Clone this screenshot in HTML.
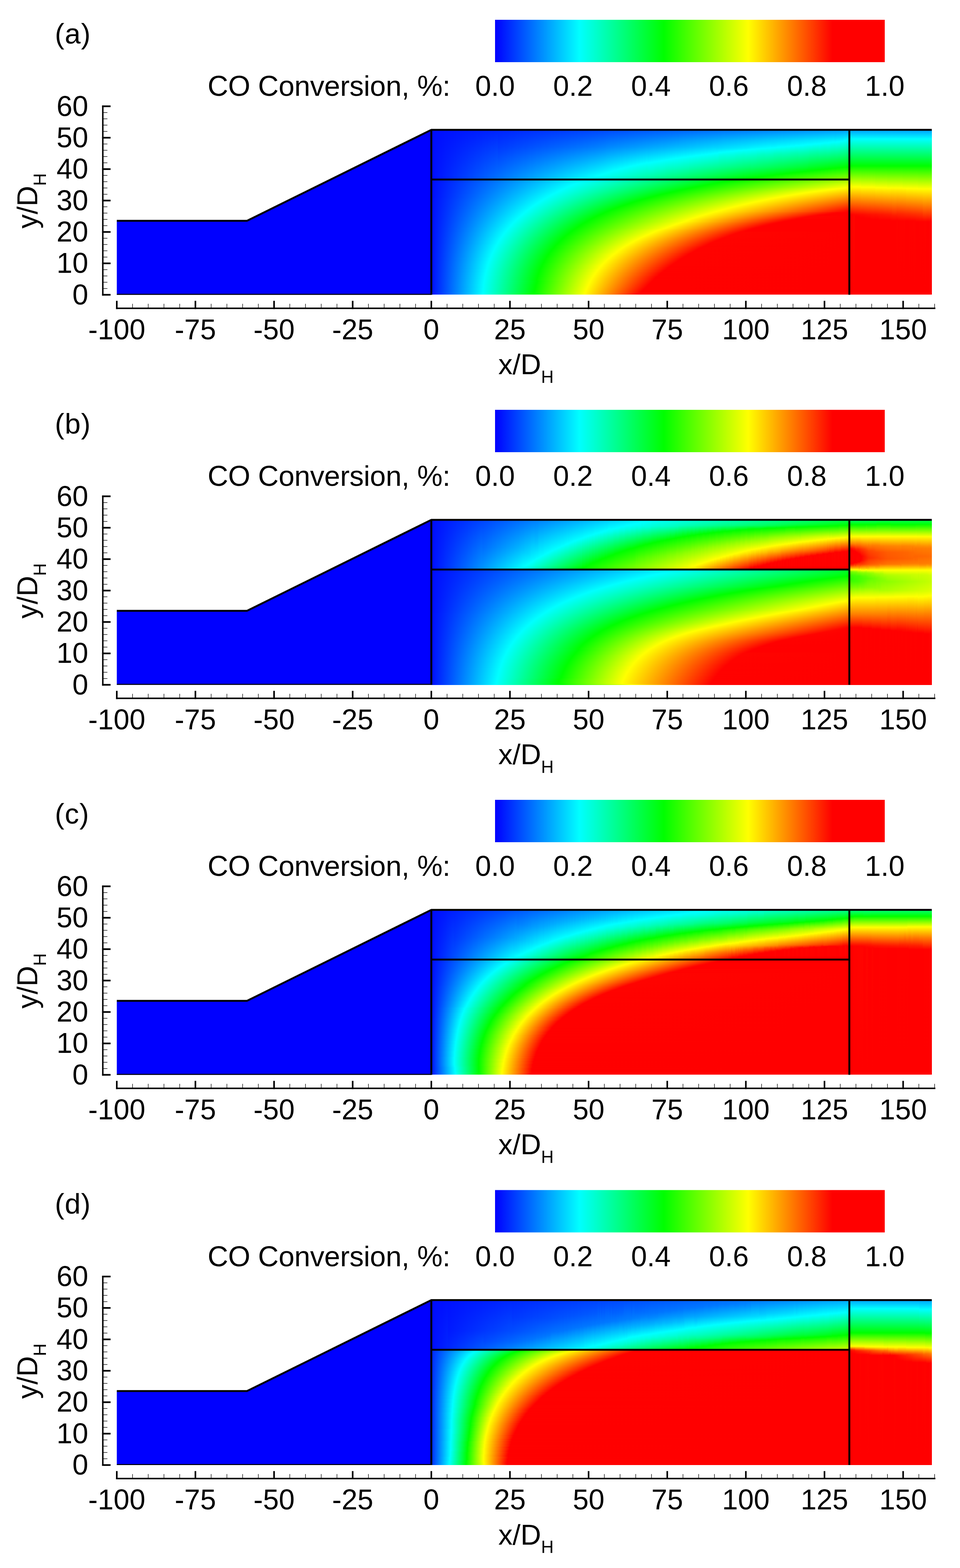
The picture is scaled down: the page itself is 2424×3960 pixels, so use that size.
<!DOCTYPE html><html><head><meta charset="utf-8"><style>html,body{margin:0;padding:0;background:#fff}body{width:2424px;height:3960px;position:relative;overflow:hidden}svg{position:absolute;left:0;top:0}.fr,.fk{position:absolute;overflow:hidden}.fr i{display:block;height:2px}.fk{display:flex}.fk b{display:block;flex:none;width:3px;height:100%}text{font-family:'Liberation Sans',Arial,sans-serif;fill:#000}</style></head><body>
<div class="fk k3" style="left:1089px;top:328px;width:1055px;height:125px"><b style="background:linear-gradient(#000cff,#000dff 125px)"></b><b style="background:linear-gradient(#000cff,#000eff 125px)"></b><b style="background:linear-gradient(#000dff,#0010ff 125px)"></b><b style="background:linear-gradient(#000dff,#0012ff 125px)"></b><b style="background:linear-gradient(#000eff,#0014ff 125px)"></b><b style="background:linear-gradient(#000eff,#0016ff 125px)"></b><b style="background:linear-gradient(#000eff,#0018ff 125px)"></b><b style="background:linear-gradient(#000fff,#001aff 125px)"></b><b style="background:linear-gradient(#000fff,#001bff 125px)"></b><b style="background:linear-gradient(#0010ff,#001dff 125px)"></b><b style="background:linear-gradient(#0010ff,#001fff 125px)"></b><b style="background:linear-gradient(#01f,#0021ff 125px)"></b><b style="background:linear-gradient(#01f,#0023ff 125px)"></b><b style="background:linear-gradient(#01f,#0025ff 125px)"></b><b style="background:linear-gradient(#0012ff,#0026ff 125px)"></b><b style="background:linear-gradient(#0012ff,#0028ff 125px)"></b><b style="background:linear-gradient(#0013ff,#002aff 125px)"></b><b style="background:linear-gradient(#0013ff,#002cff 125px)"></b><b style="background:linear-gradient(#0013ff,#002eff 125px)"></b><b style="background:linear-gradient(#0014ff,#0030ff 125px)"></b><b style="background:linear-gradient(#0014ff,#0031ff 125px)"></b><b style="background:linear-gradient(#0015ff,#03f 125px)"></b><b style="background:linear-gradient(#0015ff,#0035ff 125px)"></b><b style="background:linear-gradient(#0015ff,#0037ff 125px)"></b><b style="background:linear-gradient(#0016ff,#0039ff 125px)"></b><b style="background:linear-gradient(#0016ff,#003bff 125px)"></b><b style="background:linear-gradient(#0017ff,#003dff 125px)"></b><b style="background:linear-gradient(#0017ff,#003eff 125px)"></b><b style="background:linear-gradient(#0018ff,#0040ff 125px)"></b><b style="background:linear-gradient(#0018ff,#0042ff 125px)"></b><b style="background:linear-gradient(#0018ff,#04f 125px)"></b><b style="background:linear-gradient(#0019ff,#0046ff 125px)"></b><b style="background:linear-gradient(#0019ff,#0048ff 125px)"></b><b style="background:linear-gradient(#001aff,#0049ff 125px)"></b><b style="background:linear-gradient(#001aff,#004bff 125px)"></b><b style="background:linear-gradient(#001aff,#004dff 125px)"></b><b style="background:linear-gradient(#001bff,#004fff 125px)"></b><b style="background:linear-gradient(#001bff,#0051ff 125px)"></b><b style="background:linear-gradient(#001cff,#0053ff 125px)"></b><b style="background:linear-gradient(#001cff,#0054ff 125px)"></b><b style="background:linear-gradient(#001cff,#0056ff 125px)"></b><b style="background:linear-gradient(#001dff,#0058ff 125px)"></b><b style="background:linear-gradient(#001dff,#005aff 125px)"></b><b style="background:linear-gradient(#001eff,#005cff 125px)"></b><b style="background:linear-gradient(#001eff,#005eff 125px)"></b><b style="background:linear-gradient(#001fff,#0060ff 125px)"></b><b style="background:linear-gradient(#001fff,#0061ff 125px)"></b><b style="background:linear-gradient(#001fff,#0063ff 125px)"></b><b style="background:linear-gradient(#0020ff,#0065ff 125px)"></b><b style="background:linear-gradient(#0020ff,#0067ff 125px)"></b><b style="background:linear-gradient(#0021ff,#0069ff 125px)"></b><b style="background:linear-gradient(#0021ff,#006bff 125px)"></b><b style="background:linear-gradient(#0021ff,#006cff 125px)"></b><b style="background:linear-gradient(#02f,#006eff 125px)"></b><b style="background:linear-gradient(#02f,#0070ff 125px)"></b><b style="background:linear-gradient(#0023ff,#0072ff 125px)"></b><b style="background:linear-gradient(#0023ff,#003aff 44px,#0074ff 125px)"></b><b style="background:linear-gradient(#0024ff,#003bff 44px,#0076ff 125px)"></b><b style="background:linear-gradient(#0024ff,#003cff 44px,#07f 125px)"></b><b style="background:linear-gradient(#0024ff,#003dff 44px,#0079ff 125px)"></b><b style="background:linear-gradient(#0025ff,#003eff 44px,#007bff 125px)"></b><b style="background:linear-gradient(#0025ff,#003fff 44px,#007dff 125px)"></b><b style="background:linear-gradient(#0026ff,#003fff 44px,#007fff 125px)"></b><b style="background:linear-gradient(#0026ff,#0040ff 44px,#0081ff 125px)"></b><b style="background:linear-gradient(#0026ff,#0041ff 44px,#0083ff 125px)"></b><b style="background:linear-gradient(#0027ff,#0042ff 44px,#0084ff 125px)"></b><b style="background:linear-gradient(#0027ff,#0043ff 44px,#0086ff 125px)"></b><b style="background:linear-gradient(#0028ff,#0043ff 44px,#08f 125px)"></b><b style="background:linear-gradient(#0028ff,#04f 44px,#008aff 125px)"></b><b style="background:linear-gradient(#0028ff,#0045ff 44px,#008cff 125px)"></b><b style="background:linear-gradient(#0029ff,#0046ff 44px,#008eff 125px)"></b><b style="background:linear-gradient(#0029ff,#0047ff 44px,#008fff 125px)"></b><b style="background:linear-gradient(#002aff,#0048ff 44px,#0091ff 125px)"></b><b style="background:linear-gradient(#002aff,#0048ff 44px,#0093ff 125px)"></b><b style="background:linear-gradient(#002bff,#0049ff 44px,#0095ff 125px)"></b><b style="background:linear-gradient(#002bff,#004aff 44px,#0097ff 125px)"></b><b style="background:linear-gradient(#002bff,#004bff 44px,#09f 125px)"></b><b style="background:linear-gradient(#002cff,#004cff 44px,#009bff 125px)"></b><b style="background:linear-gradient(#002cff,#004dff 44px,#009cff 125px)"></b><b style="background:linear-gradient(#002dff,#004dff 44px,#009eff 125px)"></b><b style="background:linear-gradient(#002dff,#004eff 44px,#00a0ff 125px)"></b><b style="background:linear-gradient(#002dff,#004fff 44px,#00a2ff 125px)"></b><b style="background:linear-gradient(#002eff,#0050ff 44px,#00a4ff 125px)"></b><b style="background:linear-gradient(#002eff,#0051ff 44px,#00a6ff 125px)"></b><b style="background:linear-gradient(#002fff,#0051ff 44px,#00a7ff 125px)"></b><b style="background:linear-gradient(#002fff,#0052ff 44px,#00a9ff 125px)"></b><b style="background:linear-gradient(#0030ff,#0053ff 44px,#00abff 125px)"></b><b style="background:linear-gradient(#0030ff,#0054ff 44px,#00adff 125px)"></b><b style="background:linear-gradient(#0030ff,#05f 44px,#00afff 125px)"></b><b style="background:linear-gradient(#0031ff,#0056ff 44px,#00b1ff 125px)"></b><b style="background:linear-gradient(#0031ff,#0056ff 44px,#00b2ff 125px)"></b><b style="background:linear-gradient(#0032ff,#0057ff 44px,#00b4ff 125px)"></b><b style="background:linear-gradient(#0032ff,#0058ff 44px,#00b6ff 125px)"></b><b style="background:linear-gradient(#0032ff,#0059ff 44px,#00b8ff 125px)"></b><b style="background:linear-gradient(#03f,#005aff 44px,#00baff 125px)"></b><b style="background:linear-gradient(#03f,#005bff 44px,#00bcff 125px)"></b><b style="background:linear-gradient(#0034ff,#005bff 44px,#00beff 125px)"></b><b style="background:linear-gradient(#0034ff,#005cff 44px,#00bfff 125px)"></b><b style="background:linear-gradient(#0034ff,#005dff 44px,#00c1ff 125px)"></b><b style="background:linear-gradient(#0035ff,#005eff 44px,#00c3ff 125px)"></b><b style="background:linear-gradient(#0035ff,#005fff 44px,#00c5ff 125px)"></b><b style="background:linear-gradient(#0036ff,#0060ff 44px,#00c7ff 125px)"></b><b style="background:linear-gradient(#0036ff,#0060ff 44px,#00c9ff 125px)"></b><b style="background:linear-gradient(#0037ff,#0061ff 44px,#00caff 125px)"></b><b style="background:linear-gradient(#0037ff,#0062ff 44px,#0cf 125px)"></b><b style="background:linear-gradient(#0037ff,#0063ff 44px,#00ceff 125px)"></b><b style="background:linear-gradient(#0038ff,#0064ff 44px,#00d0ff 125px)"></b><b style="background:linear-gradient(#0038ff,#0064ff 44px,#00d2ff 125px)"></b><b style="background:linear-gradient(#0039ff,#0065ff 44px,#00d4ff 125px)"></b><b style="background:linear-gradient(#0039ff,#06f 44px,#00d5ff 125px)"></b><b style="background:linear-gradient(#0039ff,#0067ff 44px,#00d7ff 125px)"></b><b style="background:linear-gradient(#003aff,#0068ff 44px,#00d9ff 125px)"></b><b style="background:linear-gradient(#003aff,#0069ff 44px,#00dbff 125px)"></b><b style="background:linear-gradient(#003bff,#0069ff 44px,#0df 125px)"></b><b style="background:linear-gradient(#003bff,#006aff 44px,#00dfff 125px)"></b><b style="background:linear-gradient(#003bff,#006bff 44px,#00e1ff 125px)"></b><b style="background:linear-gradient(#003cff,#006cff 44px,#00e2ff 125px)"></b><b style="background:linear-gradient(#003cff,#006dff 44px,#00e4ff 125px)"></b><b style="background:linear-gradient(#003dff,#006eff 44px,#00e6ff 125px)"></b><b style="background:linear-gradient(#003dff,#006eff 44px,#00e8ff 125px)"></b><b style="background:linear-gradient(#003eff,#006fff 44px,#00eaff 125px)"></b><b style="background:linear-gradient(#003eff,#0070ff 44px,#00ecff 125px)"></b><b style="background:linear-gradient(#003eff,#0071ff 44px,#00edff 125px)"></b><b style="background:linear-gradient(#003fff,#0072ff 44px,#00efff 125px)"></b><b style="background:linear-gradient(#003fff,#0072ff 44px,#00f1ff 125px)"></b><b style="background:linear-gradient(#0040ff,#0073ff 44px,#00f3ff 125px)"></b><b style="background:linear-gradient(#0040ff,#0074ff 44px,#00f5ff 125px)"></b><b style="background:linear-gradient(#0040ff,#0075ff 44px,#00f7ff 125px)"></b><b style="background:linear-gradient(#0041ff,#0076ff 44px,#00f8ff 125px)"></b><b style="background:linear-gradient(#0041ff,#07f 44px,#00faff 125px)"></b><b style="background:linear-gradient(#0042ff,#07f 44px,#00fcff 125px)"></b><b style="background:linear-gradient(#0042ff,#0078ff 44px,#00feff 125px)"></b><b style="background:linear-gradient(#0043ff,#0079ff 44px,#0ff 124px,#00fffe 125px)"></b><b style="background:linear-gradient(#0043ff,#007aff 44px,#0ff 123px,#00fffc 125px)"></b><b style="background:linear-gradient(#0043ff,#007bff 44px,#0ff 122px,#00fffa 125px)"></b><b style="background:linear-gradient(#04f,#007cff 44px,#0ff 121px,#00fff8 125px)"></b><b style="background:linear-gradient(#04f,#007cff 44px,#0ff 120px,#00fff6 125px)"></b><b style="background:linear-gradient(#0045ff,#007dff 44px,#0ff 119px,#00fff4 125px)"></b><b style="background:linear-gradient(#0045ff,#007eff 44px,#0ff 118px,#00fff2 125px)"></b><b style="background:linear-gradient(#0045ff,#007fff 44px,#0ff 117px,#00fff0 125px)"></b><b style="background:linear-gradient(#0046ff,#0080ff 44px,#0ff 116px,#0fe 125px)"></b><b style="background:linear-gradient(#0046ff,#0081ff 44px,#0ff 115px,#00ffec 125px)"></b><b style="background:linear-gradient(#0047ff,#0081ff 44px,#0ff 114px,#00ffea 125px)"></b><b style="background:linear-gradient(#0047ff,#0082ff 44px,#0ff 113px,#00ffe8 125px)"></b><b style="background:linear-gradient(#0047ff,#0083ff 44px,#0ff 112px,#00ffe6 125px)"></b><b style="background:linear-gradient(#0048ff,#0084ff 44px,#0ff 111px,#00ffe4 125px)"></b><b style="background:linear-gradient(#0048ff,#0085ff 44px,#0ff 110px,#00ffe2 125px)"></b><b style="background:linear-gradient(#0049ff,#0087ff 44px,#0ff 109px,#00ffe0 125px)"></b><b style="background:linear-gradient(#0049ff,#08f 44px,#0ff 108px,#00ffdf 125px)"></b><b style="background:linear-gradient(#004aff,#0089ff 44px,#0ff 107px,#0fd 125px)"></b><b style="background:linear-gradient(#004aff,#008aff 44px,#0ff 106px,#00ffdb 125px)"></b><b style="background:linear-gradient(#004aff,#008bff 44px,#0ff 105px,#00ffd9 125px)"></b><b style="background:linear-gradient(#004bff,#008bff 44px,#0ff 104px,#00ffd7 125px)"></b><b style="background:linear-gradient(#004bff,#008cff 44px,#0ff 103px,#00ffd5 125px)"></b><b style="background:linear-gradient(#004cff,#008dff 44px,#0ff 102px,#00ffd3 125px)"></b><b style="background:linear-gradient(#004cff,#008eff 44px,#0ff 102px,#00ffd1 125px)"></b><b style="background:linear-gradient(#004cff,#008fff 44px,#0ff 101px,#00ffcf 125px)"></b><b style="background:linear-gradient(#004dff,#0090ff 44px,#0ff 100px,#00ffcd 125px)"></b><b style="background:linear-gradient(#004dff,#0090ff 44px,#0ff 99px,#00ffcb 125px)"></b><b style="background:linear-gradient(#004eff,#0091ff 44px,#0ff 98px,#00ffc9 125px)"></b><b style="background:linear-gradient(#004eff,#0092ff 44px,#0ff 98px,#00ffc7 125px)"></b><b style="background:linear-gradient(#004eff,#0093ff 44px,#0ff 97px,#00ffc5 125px)"></b><b style="background:linear-gradient(#004fff,#0094ff 44px,#0ff 96px,#00ffc3 125px)"></b><b style="background:linear-gradient(#004fff,#0095ff 44px,#0ff 95px,#00ffc1 125px)"></b><b style="background:linear-gradient(#0050ff,#0095ff 44px,#0ff 95px,#00ffbf 125px)"></b><b style="background:linear-gradient(#0050ff,#0096ff 44px,#0ff 94px,#00ffbd 125px)"></b><b style="background:linear-gradient(#0051ff,#0097ff 44px,#0ff 93px,#0fb 125px)"></b><b style="background:linear-gradient(#0051ff,#0098ff 44px,#0ff 92px,#00ffb9 125px)"></b><b style="background:linear-gradient(#0051ff,#09f 44px,#0ff 92px,#00ffb7 125px)"></b><b style="background:linear-gradient(#0052ff,#009aff 44px,#0ff 91px,#00ffb5 125px)"></b><b style="background:linear-gradient(#0052ff,#009aff 44px,#0ff 90px,#00ffb3 125px)"></b><b style="background:linear-gradient(#0053ff,#009bff 44px,#0ff 90px,#00ffb1 125px)"></b><b style="background:linear-gradient(#0053ff,#009cff 44px,#0ff 89px,#00ffaf 125px)"></b><b style="background:linear-gradient(#0053ff,#009dff 44px,#0ff 88px,#00ffad 125px)"></b><b style="background:linear-gradient(#0054ff,#009eff 44px,#0ff 88px,#00ffab 125px)"></b><b style="background:linear-gradient(#0054ff,#009fff 44px,#0ff 87px,#00ffa9 125px)"></b><b style="background:linear-gradient(#05f,#009fff 44px,#0ff 86px,#00ffa7 125px)"></b><b style="background:linear-gradient(#05f,#00a0ff 44px,#0ff 86px,#00ffa5 125px)"></b><b style="background:linear-gradient(#0056ff,#00a1ff 44px,#0ff 85px,#00ffa3 125px)"></b><b style="background:linear-gradient(#0056ff,#00a2ff 44px,#0ff 85px,#00ffa1 125px)"></b><b style="background:linear-gradient(#0056ff,#00a3ff 44px,#0ff 84px,#00ff9f 125px)"></b><b style="background:linear-gradient(#0057ff,#00a4ff 44px,#0ff 83px,#00ff9d 125px)"></b><b style="background:linear-gradient(#0057ff,#00a4ff 44px,#0ff 84px,#00ffd9 100px,#00ff9b 125px)"></b><b style="background:linear-gradient(#0058ff,#00a5ff 44px,#0ff 83px,#00ffda 100px,#0f9 125px)"></b><b style="background:linear-gradient(#0058ff,#00a6ff 44px,#0ff 83px,#00ffd9 100px,#00ff97 125px)"></b><b style="background:linear-gradient(#0058ff,#00a7ff 44px,#0ff 82px,#00ffd7 100px,#00ff95 125px)"></b><b style="background:linear-gradient(#0059ff,#00a8ff 44px,#0ff 82px,#00ffd6 100px,#00ff94 125px)"></b><b style="background:linear-gradient(#0059ff,#00a9ff 44px,#0ff 81px,#00ffd4 100px,#00ff92 125px)"></b><b style="background:linear-gradient(#005aff,#0af 44px,#0ff 81px,#00ffd5 98px,#00ff90 125px)"></b><b style="background:linear-gradient(#005aff,#0af 44px,#0ff 80px,#00ffd4 98px,#00ff8e 125px)"></b><b style="background:linear-gradient(#005aff,#00abff 44px,#0ff 80px,#00ffd2 98px,#00ff8c 125px)"></b><b style="background:linear-gradient(#005bff,#00acff 44px,#0ff 79px,#00ffd1 98px,#00ff8a 125px)"></b><b style="background:linear-gradient(#005bff,#00adff 44px,#0ff 79px,#00ffd2 98px,#0f8 125px)"></b><b style="background:linear-gradient(#005cff,#00aeff 44px,#0ff 78px,#00ffd0 98px,#00ff86 125px)"></b><b style="background:linear-gradient(#005cff,#00afff 44px,#0ff 78px,#00ffcf 98px,#00ff84 125px)"></b><b style="background:linear-gradient(#005dff,#00afff 44px,#0ff 77px,#00ffcd 98px,#00ff82 125px)"></b><b style="background:linear-gradient(#005dff,#00b0ff 44px,#0ff 77px,#0fc 98px,#00ff80 125px)"></b><b style="background:linear-gradient(#005dff,#00b1ff 44px,#0ff 76px,#00ffcd 96px,#00ff7e 125px)"></b><b style="background:linear-gradient(#005eff,#00b2ff 44px,#0ff 76px,#0fc 96px,#00ff7c 125px)"></b><b style="background:linear-gradient(#005eff,#00b3ff 44px,#0ff 75px,#00ffca 96px,#00ff7a 125px)"></b><b style="background:linear-gradient(#005fff,#00b4ff 44px,#0ff 75px,#00ffc9 96px,#00ff78 125px)"></b><b style="background:linear-gradient(#005fff,#00b4ff 44px,#0ff 74px,#00ffc7 96px,#00ff76 125px)"></b><b style="background:linear-gradient(#005fff,#00b5ff 44px,#0ff 74px,#00ffc6 96px,#00ff74 125px)"></b><b style="background:linear-gradient(#0060ff,#00b6ff 44px,#0ff 73px,#00ffc4 96px,#00ff72 125px)"></b><b style="background:linear-gradient(#0060ff,#00b7ff 44px,#0ff 73px,#00ffc6 96px,#00ff70 125px)"></b><b style="background:linear-gradient(#0061ff,#00b8ff 44px,#0ff 72px,#00ffc4 96px,#00ff6e 125px)"></b><b style="background:linear-gradient(#0061ff,#00b9ff 44px,#0ff 72px,#00ffc3 96px,#00ff6c 125px)"></b><b style="background:linear-gradient(#0061ff,#00b9ff 44px,#0ff 72px,#00ffc1 96px,#00ff6a 125px)"></b><b style="background:linear-gradient(#0062ff,#00baff 44px,#0ff 71px,#00ffc0 96px,#00ff68 125px)"></b><b style="background:linear-gradient(#0062ff,#09f 26px,#0bf 44px,#0ff 71px,#00ffbf 96px,#0f6 125px)"></b><b style="background:linear-gradient(#0063ff,#009aff 26px,#00bcff 44px,#0ff 70px,#00ffbd 96px,#00ff64 125px)"></b><b style="background:linear-gradient(#0063ff,#009bff 26px,#00bdff 44px,#0ff 70px,#00ffbc 96px,#00ff62 125px)"></b><b style="background:linear-gradient(#0064ff,#009cff 26px,#00beff 44px,#0ff 69px,#00ffba 96px,#00ff60 125px)"></b><b style="background:linear-gradient(#0064ff,#009cff 26px,#00beff 44px,#0ff 69px,#00ffb9 96px,#00ff5e 125px)"></b><b style="background:linear-gradient(#0064ff,#009dff 26px,#00bfff 44px,#0ff 69px,#00ffb7 96px,#00ff5c 125px)"></b><b style="background:linear-gradient(#0065ff,#009eff 26px,#00c0ff 44px,#0ff 68px,#00ffb6 96px,#00ff5a 125px)"></b><b style="background:linear-gradient(#0065ff,#009eff 26px,#00c1ff 44px,#0ff 68px,#00ffb5 96px,#00ff58 125px)"></b><b style="background:linear-gradient(#06f,#009fff 26px,#00c2ff 44px,#0ff 67px,#00ffb6 94px,#00ff56 125px)"></b><b style="background:linear-gradient(#06f,#00a0ff 26px,#00c3ff 44px,#0ff 67px,#00ffb5 94px,#00ff54 125px)"></b><b style="background:linear-gradient(#06f,#00a0ff 26px,#00c3ff 44px,#0ff 67px,#00ffb3 94px,#00ff52 125px)"></b><b style="background:linear-gradient(#0067ff,#00a1ff 26px,#00c4ff 44px,#0ff 66px,#00ffb2 94px,#00ff50 125px)"></b><b style="background:linear-gradient(#0067ff,#00a2ff 26px,#00c5ff 44px,#0ff 66px,#00ffb0 94px,#00ff4e 125px)"></b><b style="background:linear-gradient(#0068ff,#00a2ff 26px,#00c6ff 44px,#0ff 65px,#00ffaf 94px,#00ff4c 125px)"></b><b style="background:linear-gradient(#0068ff,#00a3ff 26px,#00c7ff 44px,#0ff 65px,#00ffae 94px,#00ff4a 125px)"></b><b style="background:linear-gradient(#0069ff,#00a4ff 26px,#00c8ff 44px,#0ff 65px,#00ffac 94px,#00ff49 125px)"></b><b style="background:linear-gradient(#0069ff,#00a4ff 26px,#00c8ff 44px,#0ff 64px,#00ffab 94px,#00ff47 125px)"></b><b style="background:linear-gradient(#0069ff,#00a5ff 26px,#00c9ff 44px,#0ff 64px,#0fa 94px,#00ff45 125px)"></b><b style="background:linear-gradient(#006aff,#00a6ff 26px,#00caff 44px,#0ff 63px,#00ffa8 94px,#00ff43 125px)"></b><b style="background:linear-gradient(#006aff,#00a6ff 26px,#00cbff 44px,#0ff 63px,#00ffa7 94px,#00ff41 125px)"></b><b style="background:linear-gradient(#006bff,#00a7ff 26px,#0cf 44px,#0ff 63px,#00ffa5 94px,#00ff3f 125px)"></b><b style="background:linear-gradient(#006bff,#00a8ff 26px,#00cdff 44px,#0ff 62px,#00ffa4 94px,#00ff3d 125px)"></b><b style="background:linear-gradient(#006bff,#00a8ff 26px,#00cdff 44px,#0ff 62px,#00ffa3 94px,#00ff3b 125px)"></b><b style="background:linear-gradient(#006cff,#00a9ff 26px,#00ceff 44px,#0ff 62px,#00ffa1 94px,#00ff39 125px)"></b><b style="background:linear-gradient(#006cff,#0af 26px,#00cfff 44px,#0ff 61px,#00ffa0 94px,#00ff37 125px)"></b><b style="background:linear-gradient(#006dff,#0af 26px,#00d0ff 44px,#0ff 61px,#00ff9e 94px,#00ff35 125px)"></b><b style="background:linear-gradient(#006dff,#00abff 26px,#00d1ff 44px,#0ff 61px,#00ff9d 94px,#0f3 125px)"></b><b style="background:linear-gradient(#006dff,#00acff 26px,#00d2ff 44px,#0ff 60px,#00ff9c 94px,#00ff31 125px)"></b><b style="background:linear-gradient(#006eff,#00acff 26px,#00d3ff 44px,#0ff 60px,#00ff9a 94px,#00ff2f 125px)"></b><b style="background:linear-gradient(#006eff,#00adff 26px,#00d3ff 44px,#0ff 59px,#0f9 94px,#00ff2d 125px)"></b><b style="background:linear-gradient(#006fff,#00aeff 26px,#00d4ff 44px,#0ff 59px,#00ff97 94px,#00ff2b 125px)"></b><b style="background:linear-gradient(#006fff,#00aeff 26px,#00d8ff 46px,#0ff 59px,#00ff96 94px,#00ff29 125px)"></b><b style="background:linear-gradient(#0070ff,#00afff 26px,#00d9ff 46px,#0ff 58px,#00ff95 94px,#00ff27 125px)"></b><b style="background:linear-gradient(#0070ff,#00b0ff 26px,#00daff 46px,#0ff 57px,#00ffe1 66px,#00ff93 94px,#00ff25 125px)"></b><b style="background:linear-gradient(#0070ff,#00b0ff 26px,#00daff 46px,#0ff 57px,#00ffe0 66px,#00ff92 94px,#00ff23 125px)"></b><b style="background:linear-gradient(#0071ff,#00b1ff 26px,#00dbff 46px,#0ff 57px,#00ffdf 66px,#00ff90 94px,#00ff21 125px)"></b><b style="background:linear-gradient(#0071ff,#00b2ff 26px,#00dcff 46px,#0ff 56px,#00ffde 66px,#00ff8f 94px,#00ff1f 125px)"></b><b style="background:linear-gradient(#0072ff,#00b3ff 26px,#0df 46px,#0ff 56px,#0fd 66px,#00ff8e 94px,#00ff1d 125px)"></b><b style="background:linear-gradient(#0072ff,#00b3ff 26px,#00deff 46px,#0ff 56px,#00ffdc 66px,#00ff8c 94px,#00ff1b 125px)"></b><b style="background:linear-gradient(#0072ff,#00b4ff 26px,#00dfff 46px,#0ff 55px,#00ffde 66px,#00ff8b 94px,#00ff19 125px)"></b><b style="background:linear-gradient(#0073ff,#00b5ff 26px,#00e0ff 46px,#0ff 55px,#0fd 66px,#00ff89 94px,#00ff17 125px)"></b><b style="background:linear-gradient(#0073ff,#00b5ff 26px,#00e0ff 46px,#0ff 55px,#00ffdc 66px,#0f8 94px,#00ff15 125px)"></b><b style="background:linear-gradient(#0074ff,#00b6ff 26px,#00e1ff 46px,#0ff 54px,#00ffda 66px,#00ff87 94px,#00ff13 125px)"></b><b style="background:linear-gradient(#0074ff,#00b7ff 26px,#00e2ff 46px,#0ff 54px,#00ffd9 66px,#00ff85 94px,#0f1 125px)"></b><b style="background:linear-gradient(#0075ff,#00b7ff 26px,#00e3ff 46px,#0ff 54px,#00ffd8 66px,#00ff84 94px,#00ff0f 125px)"></b><b style="background:linear-gradient(#0075ff,#00b8ff 26px,#00e4ff 46px,#0ff 54px,#00ffd7 66px,#00ff82 94px,#00ff0d 125px)"></b><b style="background:linear-gradient(#0075ff,#00b9ff 26px,#00e5ff 46px,#0ff 53px,#00ffd6 66px,#00ff81 94px,#00ff0b 125px)"></b><b style="background:linear-gradient(#0076ff,#00b9ff 26px,#00e5ff 46px,#0ff 53px,#00ffd8 64px,#00ff80 94px,#00ff09 125px)"></b><b style="background:linear-gradient(#0076ff,#00baff 26px,#00e6ff 46px,#0ff 53px,#00ffd7 64px,#00ff7e 94px,#00ff07 125px)"></b><b style="background:linear-gradient(#07f,#0bf 26px,#00e7ff 46px,#0ff 52px,#00ffd6 64px,#00ff7d 94px,#00ff05 125px)"></b><b style="background:linear-gradient(#07f,#0bf 26px,#00e8ff 46px,#0ff 52px,#00ffd5 64px,#00ff7b 94px,#00ff03 125px)"></b><b style="background:linear-gradient(#07f,#00bcff 26px,#00e9ff 46px,#0ff 52px,#00ffd4 64px,#00ff7a 94px,#00ff02 125px)"></b><b style="background:linear-gradient(#0078ff,#00bdff 26px,#00eaff 46px,#0ff 52px,#00ffd2 64px,#00ff79 94px,#0f0 125px)"></b><b style="background:linear-gradient(#0078ff,#00bdff 26px,#00ebff 46px,#0ff 51px,#00ffd1 64px,#0f7 94px,#0f0 124px,#02ff00 125px)"></b><b style="background:linear-gradient(#0079ff,#00beff 26px,#00ebff 46px,#0ff 51px,#00ffd0 64px,#00ff76 94px,#0f0 124px,#04ff00 125px)"></b><b style="background:linear-gradient(#0079ff,#00bfff 26px,#00ecff 46px,#0ff 51px,#00ffd2 64px,#00ff74 94px,#0f0 124px,#05ff00 125px)"></b><b style="background:linear-gradient(#0079ff,#00bfff 26px,#00edff 46px,#0ff 51px,#00ffd1 64px,#00ff73 94px,#0f0 123px,#07ff00 125px)"></b><b style="background:linear-gradient(#007aff,#00c0ff 26px,#0ef 46px,#0ff 50px,#00ffd0 64px,#00ff72 94px,#0f0 123px,#09ff00 125px)"></b><b style="background:linear-gradient(#007aff,#00c1ff 26px,#00efff 46px,#0ff 50px,#00ffcf 64px,#00ff70 94px,#0f0 122px,#0aff00 125px)"></b><b style="background:linear-gradient(#007bff,#00c1ff 26px,#00ecff 44px,#0ff 50px,#00ffce 64px,#00ff6f 94px,#0f0 122px,#0cff00 125px)"></b><b style="background:linear-gradient(#007bff,#00c2ff 26px,#00edff 44px,#0ff 49px,#00ffcd 64px,#00ff71 94px,#0f0 122px,#0eff00 125px)"></b><b style="background:linear-gradient(#007cff,#00c3ff 26px,#0ef 44px,#0ff 49px,#0fc 64px,#00ff70 94px,#0f0 121px,#0fff00 125px)"></b><b style="background:linear-gradient(#007cff,#00c3ff 26px,#00efff 44px,#0ff 49px,#00ffcb 64px,#00ff6e 94px,#0f0 121px,#1f0 125px)"></b><b style="background:linear-gradient(#007cff,#00c4ff 26px,#00f0ff 44px,#0ff 49px,#00ffca 64px,#00ff6d 94px,#0f0 120px,#13ff00 125px)"></b><b style="background:linear-gradient(#007dff,#00c5ff 26px,#00f1ff 44px,#0ff 48px,#00ffc9 64px,#00ff6b 94px,#0f0 120px,#14ff00 125px)"></b><b style="background:linear-gradient(#007dff,#00c5ff 26px,#00f1ff 44px,#0ff 48px,#00ffcb 62px,#00ff6a 94px,#0f0 120px,#16ff00 125px)"></b><b style="background:linear-gradient(#007eff,#00c6ff 26px,#00f2ff 44px,#0ff 48px,#00ffca 62px,#00ff69 94px,#0f0 119px,#18ff00 125px)"></b><b style="background:linear-gradient(#007eff,#00c7ff 26px,#00f3ff 44px,#0ff 48px,#00ffc9 62px,#00ff67 94px,#0f0 119px,#19ff00 125px)"></b><b style="background:linear-gradient(#007eff,#00c7ff 26px,#00f4ff 44px,#0ff 47px,#00ffc7 62px,#0f6 94px,#0f0 118px,#1bff00 125px)"></b><b style="background:linear-gradient(#007fff,#00c8ff 26px,#00f5ff 44px,#0ff 47px,#00ffc6 62px,#00ff65 94px,#0f0 118px,#1dff00 125px)"></b><b style="background:linear-gradient(#007fff,#00c9ff 26px,#00f6ff 44px,#0ff 47px,#00ffc5 62px,#00ff63 94px,#0f0 118px,#1eff00 125px)"></b><b style="background:linear-gradient(#0080ff,#00caff 26px,#00f7ff 44px,#0ff 47px,#00ffc4 62px,#00ff62 94px,#0f0 117px,#20ff00 125px)"></b><b style="background:linear-gradient(#0080ff,#00caff 26px,#00f7ff 44px,#0ff 47px,#00ffc6 62px,#00ff60 94px,#0f0 117px,#2f0 125px)"></b><b style="background:linear-gradient(#0080ff,#00cbff 26px,#00f8ff 44px,#0ff 46px,#00ffc5 62px,#00ff5f 94px,#0f0 116px,#23ff00 125px)"></b><b style="background:linear-gradient(#0081ff,#0cf 26px,#00f9ff 44px,#0ff 46px,#00ffc4 62px,#00ff5e 94px,#0f0 116px,#25ff00 125px)"></b><b style="background:linear-gradient(#0081ff,#0cf 26px,#00faff 44px,#0ff 46px,#00ffc3 62px,#00ff5c 94px,#0f0 116px,#27ff00 125px)"></b><b style="background:linear-gradient(#0082ff,#00cdff 26px,#00fbff 44px,#0ff 46px,#00ffc2 62px,#00ff5b 94px,#0f0 115px,#28ff00 125px)"></b><b style="background:linear-gradient(#0082ff,#00ceff 26px,#00f8ff 44px,#0ff 45px,#00ffc1 62px,#00ff59 94px,#0f0 115px,#2aff00 125px)"></b><b style="background:linear-gradient(#0083ff,#00ceff 26px,#00f9ff 44px,#0ff 45px,#00ffc0 62px,#00ff58 94px,#0f0 115px,#2cff00 125px)"></b><b style="background:linear-gradient(#0083ff,#00cfff 26px,#00faff 44px,#0ff 45px,#00ffc2 60px,#00ff57 94px,#0f0 114px,#2dff00 125px)"></b><b style="background:linear-gradient(#0083ff,#00d0ff 26px,#00fbff 44px,#0ff 45px,#00ffc1 60px,#0f5 94px,#0f0 114px,#2fff00 125px)"></b><b style="background:linear-gradient(#0084ff,#00d0ff 26px,#00fcff 44px,#0ff 44px,#00ffc0 60px,#00ff54 94px,#0f0 113px,#31ff00 125px)"></b><b style="background:linear-gradient(#0084ff,#00d1ff 26px,#0ff 44px,#00ffbf 60px,#00ff53 94px,#0f0 113px,#3f0 125px)"></b><b style="background:linear-gradient(#0085ff,#00d2ff 26px,#00faff 42px,#0ff 44px,#00ffbe 60px,#00ff51 94px,#0f0 113px,#34ff00 125px)"></b><b style="background:linear-gradient(#0085ff,#00d2ff 26px,#00fbff 42px,#0ff 44px,#00ffbd 60px,#00ff50 94px,#0f0 112px,#36ff00 125px)"></b><b style="background:linear-gradient(#0085ff,#00d3ff 26px,#00fcff 42px,#0ff 43px,#00ffbc 60px,#00ff4e 94px,#0f0 112px,#38ff00 125px)"></b><b style="background:linear-gradient(#0086ff,#00d4ff 26px,#0ff 43px,#00ffbe 60px,#00ff4d 94px,#0f0 112px,#39ff00 125px)"></b><b style="background:linear-gradient(#0086ff,#00d4ff 26px,#0ff 43px,#00ffbd 60px,#00ff4c 94px,#0f0 111px,#3bff00 125px)"></b><b style="background:linear-gradient(#0087ff,#00d5ff 26px,#0ff 43px,#00ffbc 60px,#00ff4a 94px,#0f0 111px,#3dff00 125px)"></b><b style="background:linear-gradient(#0087ff,#00d6ff 26px,#00fcff 42px,#0ff 42px,#0fb 60px,#00ff49 94px,#0f0 110px,#3eff00 125px)"></b><b style="background:linear-gradient(#08f,#00d6ff 26px,#0ff 42px,#00ffba 60px,#00ff47 94px,#0f0 110px,#40ff00 125px)"></b><b style="background:linear-gradient(#08f,#00d7ff 26px,#0ff 42px,#00ffb9 60px,#00ff46 94px,#0f0 110px,#42ff00 125px)"></b><b style="background:linear-gradient(#08f,#00d8ff 26px,#0ff 42px,#00ffb8 60px,#00ff45 94px,#0f0 109px,#43ff00 125px)"></b><b style="background:linear-gradient(#0089ff,#00d8ff 26px,#0ff 41px,#00ffba 58px,#00ff43 94px,#0f0 109px,#45ff00 125px)"></b><b style="background:linear-gradient(#0089ff,#00d9ff 26px,#0ff 41px,#00ffb9 58px,#00ff42 94px,#0f0 109px,#47ff00 125px)"></b><b style="background:linear-gradient(#008aff,#00daff 26px,#0ff 41px,#00ffb8 58px,#00ff41 94px,#0f0 108px,#48ff00 125px)"></b><b style="background:linear-gradient(#008aff,#00daff 26px,#0ff 41px,#00ffb7 58px,#00ff3f 94px,#0f0 108px,#4aff00 125px)"></b><b style="background:linear-gradient(#008aff,#00dbff 26px,#0ff 40px,#00ffb6 58px,#00ff3e 94px,#0f0 108px,#4cff00 125px)"></b><b style="background:linear-gradient(#008bff,#00dcff 26px,#0ff 40px,#00ffb5 58px,#00ff3c 94px,#0f0 107px,#4dff00 125px)"></b><b style="background:linear-gradient(#008bff,#00dcff 26px,#0ff 40px,#00ffb4 58px,#00ff3b 94px,#0f0 107px,#4fff00 125px)"></b><b style="background:linear-gradient(#008cff,#0df 26px,#0ff 40px,#00ffb7 58px,#00ff3a 94px,#0f0 107px,#51ff00 125px)"></b><b style="background:linear-gradient(#008cff,#00deff 26px,#0ff 39px,#00ffb6 58px,#00ff38 94px,#0f0 106px,#52ff00 125px)"></b><b style="background:linear-gradient(#008cff,#00deff 26px,#0ff 39px,#00ffb5 58px,#00ff37 94px,#0f0 106px,#54ff00 125px)"></b><b style="background:linear-gradient(#008dff,#00dfff 26px,#0ff 38px,#00fffd 40px,#00ffb3 58px,#00ff36 94px,#0f0 106px,#56ff00 125px)"></b><b style="background:linear-gradient(#008dff,#00e0ff 26px,#0ff 39px,#00ffb2 58px,#00ff34 94px,#0f0 105px,#57ff00 125px)"></b><b style="background:linear-gradient(#008eff,#00e1ff 26px,#0ff 38px,#00ffb1 58px,#0f3 94px,#0f0 105px,#59ff00 125px)"></b><b style="background:linear-gradient(#008eff,#00e1ff 26px,#0ff 38px,#00ffb0 58px,#00ff31 94px,#0f0 105px,#5bff00 125px)"></b><b style="background:linear-gradient(#008fff,#00e2ff 26px,#0ff 37px,#00fffc 38px,#00ffaf 58px,#00ff30 94px,#0f0 104px,#5cff00 125px)"></b><b style="background:linear-gradient(#008fff,#00e3ff 26px,#0ff 37px,#00ffae 58px,#0f3 92px,#0f0 104px,#5eff00 125px)"></b><b style="background:linear-gradient(#008fff,#00e3ff 26px,#0ff 37px,#00ffb1 56px,#00ff31 92px,#0f0 104px,#60ff00 125px)"></b><b style="background:linear-gradient(#0090ff,#00e4ff 26px,#0ff 37px,#00fffd 38px,#00ffb0 56px,#00ff30 92px,#0f0 103px,#61ff00 125px)"></b><b style="background:linear-gradient(#0090ff,#00e5ff 26px,#0ff 37px,#00ffaf 56px,#00ff2e 92px,#0f0 103px,#63ff00 125px)"></b><b style="background:linear-gradient(#0091ff,#00e5ff 26px,#0ff 36px,#00ffae 56px,#00ff2d 92px,#0f0 103px,#65ff00 125px)"></b><b style="background:linear-gradient(#0091ff,#00e6ff 26px,#0ff 36px,#00ffad 56px,#00ff2c 92px,#0f0 102px,#6f0 125px)"></b><b style="background:linear-gradient(#0091ff,#00e7ff 26px,#0ff 35px,#00fffd 36px,#00ffac 56px,#00ff2a 92px,#0f0 102px,#68ff00 125px)"></b><b style="background:linear-gradient(#0092ff,#00e7ff 26px,#0ff 36px,#0fa 56px,#00ff29 92px,#0f0 102px,#6aff00 125px)"></b><b style="background:linear-gradient(#0092ff,#00e8ff 26px,#0ff 35px,#00ffa9 56px,#00ff28 92px,#0f0 101px,#6bff00 125px)"></b><b style="background:linear-gradient(#0093ff,#00e9ff 26px,#0ff 35px,#00fffd 36px,#00ffac 56px,#00ff26 92px,#0f0 101px,#6dff00 125px)"></b><b style="background:linear-gradient(#0093ff,#00e9ff 26px,#0ff 34px,#00fffc 36px,#00ffab 56px,#00ff25 92px,#0f0 101px,#6fff00 125px)"></b><b style="background:linear-gradient(#0093ff,#00eaff 26px,#0ff 34px,#0fa 56px,#00ff23 92px,#0f0 100px,#70ff00 125px)"></b><b style="background:linear-gradient(#0094ff,#00ebff 26px,#0ff 34px,#00ffa9 56px,#0f2 92px,#0f0 100px,#72ff00 125px)"></b><b style="background:linear-gradient(#0094ff,#00ebff 26px,#0ff 33px,#00fffc 34px,#00ffa8 56px,#00ff21 92px,#0f0 100px,#74ff00 125px)"></b><b style="background:linear-gradient(#0095ff,#00ecff 26px,#0ff 33px,#00fffb 34px,#00ffa7 56px,#00ff1f 92px,#0f0 99px,#75ff00 125px)"></b><b style="background:linear-gradient(#0095ff,#00edff 26px,#0ff 33px,#00ff1e 92px,#0f0 99px,#7f0 125px)"></b><b style="background:linear-gradient(#0096ff,#00edff 26px,#0ff 33px,#00fffd 34px,#00ff1d 92px,#0f0 99px,#79ff00 125px)"></b><b style="background:linear-gradient(#0096ff,#0ef 26px,#0ff 32px,#00fffc 34px,#00ff1b 92px,#0f0 98px,#7aff00 125px)"></b><b style="background:linear-gradient(#0096ff,#00efff 26px,#0ff 32px,#00fffa 34px,#00ff1a 92px,#0f0 98px,#7cff00 125px)"></b><b style="background:linear-gradient(#0097ff,#00efff 26px,#0ff 32px,#00fffd 32px,#00ff18 92px,#0f0 98px,#7eff00 125px)"></b><b style="background:linear-gradient(#0097ff,#00f0ff 26px,#0ff 31px,#00fffc 32px,#00ff17 92px,#0f0 97px,#7fff00 125px)"></b><b style="background:linear-gradient(#0098ff,#00f1ff 26px,#0ff 31px,#00fffb 32px,#00ff16 92px,#0f0 97px,#81ff00 125px)"></b><b style="background:linear-gradient(#0098ff,#0ff 31px,#00fff9 32px,#00ff14 92px,#0f0 97px,#83ff00 125px)"></b><b style="background:linear-gradient(#0098ff,#0ff 31px,#00fffc 32px,#00ff13 92px,#0f0 97px,#84ff00 125px)"></b><b style="background:linear-gradient(#09f,#0ff 30px,#00fffb 32px,#00ff12 92px,#0f0 96px,#86ff00 125px)"></b><b style="background:linear-gradient(#09f,#0ff 30px,#00fff9 32px,#00ff10 92px,#0f0 96px,#8f0 125px)"></b><b style="background:linear-gradient(#009aff,#0ff 30px,#00fff8 32px,#00ff0f 92px,#0f0 96px,#89ff00 125px)"></b><b style="background:linear-gradient(#009aff,#0ff 29px,#00fffb 30px,#00ff0e 92px,#0f0 95px,#8bff00 125px)"></b><b style="background:linear-gradient(#009bff,#0ff 29px,#00fff9 30px,#00ff0c 92px,#0f0 95px,#8dff00 125px)"></b><b style="background:linear-gradient(#009bff,#0ff 29px,#00fff8 30px,#00ff0b 92px,#0f0 95px,#8eff00 125px)"></b><b style="background:linear-gradient(#009bff,#0ff 27px,#00ff09 92px,#0f0 94px,#90ff00 125px)"></b><b style="background:linear-gradient(#009cff,#0ff 27px,#00ff08 92px,#0f0 94px,#92ff00 125px)"></b><b style="background:linear-gradient(#009cff,#0ff 26px,#00ff07 92px,#0f0 94px,#93ff00 125px)"></b><b style="background:linear-gradient(#009dff,#0ff 26px,#00ff05 92px,#0f0 94px,#95ff00 125px)"></b><b style="width:2px;background:linear-gradient(#009dff,#0ff 26px,#00ff04 92px,#0f0 93px,#96ff00 125px)"></b></div>
<div class="fr r2" style="left:1089px;top:453px;width:1055px;height:291px"><i style="background:linear-gradient(90deg,#000cff,#0ff 390px,#00ff01 768px,#0f0 770px,#a1ff00 1055px)"></i><i style="background:linear-gradient(90deg,#000cff,#0ff 385px,#00ff01 756px,#0f0 759px,#af0 1055px)"></i><i style="background:linear-gradient(90deg,#000cff,#0ff 380px,#00ff01 744px,#0f0 747px,#b4ff00 1055px)"></i><i style="background:linear-gradient(90deg,#000cff,#0ff 375px,#00ff01 734px,#0f0 735px,#beff00 1055px)"></i><i style="background:linear-gradient(90deg,#000cff,#0ff 369px,#0f0 723px,#c8ff00 1055px)"></i><i style="background:linear-gradient(90deg,#000cff,#0ff 364px,#0f0 712px,#d1ff00 1055px)"></i><i style="background:linear-gradient(90deg,#000cff,#0ff 359px,#0f0 701px,#dbff00 1055px)"></i><i style="background:linear-gradient(90deg,#000cff,#0ff 355px,#0f0 690px,#e5ff00 1055px)"></i><i style="background:linear-gradient(90deg,#000cff,#0ff 350px,#0f0 680px,#01ff00 680px,#efff00 1055px)"></i><i style="background:linear-gradient(90deg,#000cff,#0ff 345px,#0f0 669px,#01ff00 670px,#f9ff00 1055px)"></i><i style="background:linear-gradient(90deg,#000cff,#0ff 341px,#0f0 659px,#01ff00 660px,#ff0 1050px,#fffc00 1055px)"></i><i style="background:linear-gradient(90deg,#000cff,#0ff 336px,#0f0 650px,#02ff00 652px,#f5ff00 1012px,#ff0 1032px,#fff300 1055px)"></i><i style="background:linear-gradient(90deg,#000cff,#0ff 332px,#0f0 640px,#02ff00 642px,#f6ff00 998px,#ff0 1015px,#ffeb00 1055px)"></i><i style="background:linear-gradient(90deg,#000cff,#0ff 328px,#0f0 631px,#02ff00 634px,#f7ff00 982px,#ff0 999px,#ffe200 1055px)"></i><i style="background:linear-gradient(90deg,#000cff,#0ff 324px,#0f0 621px,#03ff00 624px,#f8ff00 968px,#ff0 983px,#ffda00 1055px)"></i><i style="background:linear-gradient(90deg,#000cff,#0ff 320px,#0f0 612px,#03ff00 616px,#f9ff00 956px,#ff0 968px,#ffd100 1055px)"></i><i style="background:linear-gradient(90deg,#000cff,#0ff 316px,#0f0 604px,#03ff00 608px,#fbff00 944px,#ff0 953px,#ffc900 1055px)"></i><i style="background:linear-gradient(90deg,#000cff,#0ff 312px,#0f0 595px,#04ff00 600px,#fbff00 932px,#ff0 939px,#ffc000 1055px)"></i><i style="background:linear-gradient(90deg,#000cff,#0ff 308px,#0f0 586px,#04ff00 590px,#fbff00 920px,#ff0 926px,#ffb800 1055px)"></i><i style="background:linear-gradient(90deg,#000cff,#0ff 304px,#0f0 578px,#04ff00 582px,#fcff00 908px,#ff0 914px,#ffb000 1055px)"></i><i style="background:linear-gradient(90deg,#000cff,#0ff 300px,#0f0 570px,#04ff00 574px,#fcff00 896px,#ff0 902px,#ffa700 1055px)"></i><i style="background:linear-gradient(90deg,#000cff,#0ff 297px,#0f0 562px,#04ff00 566px,#fcff00 886px,#ff0 890px,#ff9f00 1055px)"></i><i style="background:linear-gradient(90deg,#000cff,#0ff 293px,#0f0 555px,#05ff00 560px,#fcff00 874px,#ff0 879px,#ff9600 1055px)"></i><i style="background:linear-gradient(90deg,#000cff,#0ff 290px,#0f0 547px,#04ff00 552px,#fdff00 864px,#ff0 868px,#ff8e00 1055px)"></i><i style="background:linear-gradient(90deg,#000dff,#0ff 286px,#0f0 540px,#05ff00 544px,#fdff00 854px,#ff0 857px,#ff8500 1055px)"></i><i style="background:linear-gradient(90deg,#000dff,#0ff 283px,#0f0 532px,#04ff00 536px,#fdff00 844px,#ff0 847px,#ff7d00 1055px)"></i><i style="background:linear-gradient(90deg,#000dff,#0ff 280px,#0f0 526px,#04ff00 530px,#fdff00 834px,#ff0 837px,#ff7400 1055px)"></i><i style="background:linear-gradient(90deg,#000dff,#0ff 276px,#0f0 519px,#04ff00 522px,#feff00 826px,#ff0 828px,#ff6c00 1055px)"></i><i style="background:linear-gradient(90deg,#000dff,#0ff 273px,#0f0 512px,#04ff00 516px,#feff00 816px,#ff0 818px,#ff6400 1055px)"></i><i style="background:linear-gradient(90deg,#000dff,#0ff 270px,#0f0 506px,#04ff00 510px,#feff00 808px,#ff0 809px,#ff5b00 1055px)"></i><i style="background:linear-gradient(90deg,#000dff,#0ff 267px,#0f0 500px,#04ff00 504px,#feff00 798px,#ff0 800px,#ff5300 1055px)"></i><i style="background:linear-gradient(90deg,#000dff,#0ff 264px,#0f0 494px,#04ff00 498px,#ff0 791px,#ff4a00 1055px)"></i><i style="background:linear-gradient(90deg,#000dff,#0ff 261px,#0f0 488px,#04ff00 492px,#feff00 782px,#ff0 783px,#ff4200 1055px)"></i><i style="background:linear-gradient(90deg,#000dff,#0ff 258px,#0f0 482px,#04ff00 486px,#ff0 774px,#ff3900 1055px)"></i><i style="background:linear-gradient(90deg,#000dff,#0ff 255px,#0f0 476px,#04ff00 480px,#ff0 766px,#ff3100 1055px)"></i><i style="background:linear-gradient(90deg,#000dff,#0ff 252px,#0f0 471px,#04ff00 474px,#ff0 758px,#ff2800 1055px)"></i><i style="background:linear-gradient(90deg,#000dff,#0ff 250px,#0f0 465px,#04ff00 468px,#ff0 750px,#ff2000 1055px)"></i><i style="background:linear-gradient(90deg,#000dff,#0ff 247px,#0f0 460px,#04ff00 464px,#ff0 742px,#ff1800 1055px)"></i><i style="background:linear-gradient(90deg,#000dff,#0ff 244px,#0f0 455px,#04ff00 458px,#ff0 735px,#ff0f00 1055px)"></i><i style="background:linear-gradient(90deg,#000dff,#0ff 242px,#0f0 450px,#04ff00 454px,#ff0 727px,#ff0700 1055px)"></i><i style="background:linear-gradient(90deg,#000dff,#0ff 239px,#0f0 445px,#04ff00 448px,#ff0 720px,#fffe00 722px,#ff0100 1055px)"></i><i style="background:linear-gradient(90deg,#000dff,#0ff 237px,#0f0 441px,#05ff00 444px,#ff0 713px,#fffd00 716px,#ff0b00 1020px,#f00 1055px)"></i><i style="background:linear-gradient(90deg,#000dff,#0ff 234px,#0f0 436px,#05ff00 440px,#ff0 706px,#fff800 714px,#ff0a00 1006px,#f00 1026px)"></i><i style="background:linear-gradient(90deg,#000dff,#0ff 232px,#0f0 432px,#07ff00 438px,#ff0 698px,#ff1000 984px,#f00 1012px)"></i><i style="background:linear-gradient(90deg,#000dff,#0ff 230px,#0f0 427px,#01ff00 428px,#f8ff00 684px,#ff0 692px,#ff0800 980px,#f00 996px)"></i><i style="background:linear-gradient(90deg,#000dff,#0ff 227px,#0f0 422px,#fbff00 680px,#ff0 685px,#ff0600 970px,#f00 982px)"></i><i style="background:linear-gradient(90deg,#000dff,#0ff 225px,#0f0 418px,#fdff00 676px,#ff0 678px,#ff0500 958px,#f00 1055px)"></i><i style="background:linear-gradient(90deg,#000dff,#0ff 223px,#0f0 414px,#ff0 672px,#ff0500 946px,#f00 1055px)"></i><i style="background:linear-gradient(90deg,#000dff,#0ff 220px,#0f0 410px,#ff0 665px,#fffd00 668px,#ff0400 934px,#f00 1055px)"></i><i style="background:linear-gradient(90deg,#000dff,#0ff 218px,#0f0 406px,#ff0 659px,#fff700 666px,#ff0400 924px,#f00 1055px)"></i><i style="background:linear-gradient(90deg,#000dff,#0ff 216px,#0f0 403px,#01ff00 404px,#ff0 652px,#ff0e00 900px,#f00 922px)"></i><i style="background:linear-gradient(90deg,#000dff,#0ff 214px,#0f0 399px,#02ff00 400px,#ff0 646px,#ff0c00 892px,#f00 910px)"></i><i style="background:linear-gradient(90deg,#000dff,#0ff 212px,#0f0 395px,#02ff00 396px,#ff0 645px,#ff0b00 884px,#f00 900px)"></i><i style="background:linear-gradient(90deg,#000dff,#0ff 210px,#0f0 392px,#01ff00 392px,#ff0 638px,#ff0a00 876px,#f00 890px)"></i><i style="background:linear-gradient(90deg,#000dff,#0ff 208px,#0f0 388px,#02ff00 390px,#ff0 632px,#ff0800 868px,#f00 880px)"></i><i style="background:linear-gradient(90deg,#000dff,#0ff 206px,#0f0 385px,#01ff00 386px,#ff0 625px,#ff0800 858px,#f00 872px)"></i><i style="background:linear-gradient(90deg,#000dff,#0ff 204px,#0f0 381px,#02ff00 382px,#ff0 619px,#ff0800 850px,#f00 862px)"></i><i style="background:linear-gradient(90deg,#000dff,#0ff 202px,#0f0 378px,#02ff00 380px,#ff0 614px,#ff0700 842px,#f00 854px)"></i><i style="background:linear-gradient(90deg,#000dff,#0ff 201px,#0f0 375px,#02ff00 376px,#ff0 608px,#ff0700 834px,#f00 846px)"></i><i style="background:linear-gradient(90deg,#000dff,#0ff 199px,#0f0 372px,#ff0 602px,#ff0600 828px,#f00 838px)"></i><i style="background:linear-gradient(90deg,#000dff,#0ff 197px,#0f0 369px,#ff0 597px,#ff0600 820px,#f00 830px)"></i><i style="background:linear-gradient(90deg,#000dff,#0ff 195px,#0f0 366px,#ff0 592px,#ff0600 812px,#f00 822px)"></i><i style="background:linear-gradient(90deg,#000dff,#0ff 193px,#0f0 363px,#02ff00 364px,#ff0 587px,#ff0500 806px,#f00 816px)"></i><i style="background:linear-gradient(90deg,#000dff,#0ff 192px,#0f0 360px,#02ff00 362px,#ff0 578px,#ff0500 800px,#f00 808px)"></i><i style="background:linear-gradient(90deg,#000dff,#0ff 190px,#0f0 357px,#02ff00 358px,#ff0 572px,#ff0600 792px,#f00 802px)"></i><i style="background:linear-gradient(90deg,#000dff,#0ff 189px,#0f0 354px,#02ff00 356px,#ff0 567px,#ff0500 786px,#f00 794px)"></i><i style="background:linear-gradient(90deg,#000dff,#0ff 187px,#0f0 352px,#01ff00 352px,#ff0 562px,#ff0400 780px,#f00 1055px)"></i><i style="background:linear-gradient(90deg,#000dff,#0ff 185px,#0f0 349px,#02ff00 350px,#ff0 558px,#ff0400 774px,#f00 1055px)"></i><i style="background:linear-gradient(90deg,#000dff,#0ff 184px,#0f0 347px,#02ff00 348px,#ff0 553px,#ff0400 768px,#f00 1055px)"></i><i style="background:linear-gradient(90deg,#000dff,#0ff 182px,#0f0 344px,#02ff00 346px,#ff0 548px,#ff0400 762px,#f00 1055px)"></i><i style="background:linear-gradient(90deg,#000dff,#0ff 181px,#0f0 342px,#02ff00 342px,#ff0 544px,#ff0400 756px,#f00 1055px)"></i><i style="background:linear-gradient(90deg,#000dff,#0ff 180px,#0f0 339px,#02ff00 340px,#ff0 539px,#ff0400 752px,#f00 1055px)"></i><i style="background:linear-gradient(90deg,#000dff,#0ff 178px,#0f0 337px,#03ff00 338px,#ff0 535px,#ff0400 746px,#f00 1055px)"></i><i style="background:linear-gradient(90deg,#000dff,#0ff 177px,#0f0 334px,#02ff00 336px,#ff0 530px,#ff0400 740px,#f00 1055px)"></i><i style="background:linear-gradient(90deg,#000dff,#0ff 175px,#0f0 332px,#02ff00 334px,#ff0 526px,#ff0300 736px,#f00 1055px)"></i><i style="background:linear-gradient(90deg,#000dff,#0ff 174px,#0f0 330px,#02ff00 332px,#ff0 522px,#ff0300 730px,#f00 1055px)"></i><i style="background:linear-gradient(90deg,#000dff,#0ff 173px,#0f0 328px,#03ff00 330px,#ff0 518px,#ff0300 726px,#f00 1055px)"></i><i style="background:linear-gradient(90deg,#000dff,#0ff 171px,#0f0 326px,#03ff00 328px,#ff0 514px,#ff0300 720px,#f00 1055px)"></i><i style="background:linear-gradient(90deg,#000dff,#0ff 170px,#0f0 324px,#03ff00 326px,#ff0 510px,#ff0300 716px,#f00 1055px)"></i><i style="background:linear-gradient(90deg,#000dff,#0ff 169px,#0f0 322px,#03ff00 324px,#ff0 507px,#ff0400 710px,#f00 1055px)"></i><i style="background:linear-gradient(90deg,#000dff,#0ff 168px,#0f0 320px,#03ff00 322px,#ff0 503px,#ff0300 706px,#f00 1055px)"></i><i style="background:linear-gradient(90deg,#000dff,#0ff 167px,#0f0 318px,#03ff00 320px,#ff0 500px,#ff0300 702px,#f00 1055px)"></i><i style="background:linear-gradient(90deg,#000dff,#0ff 165px,#0f0 316px,#03ff00 318px,#ff0 496px,#ff0300 698px,#f00 1055px)"></i><i style="background:linear-gradient(90deg,#000dff,#0ff 164px,#0f0 314px,#04ff00 316px,#ff0 493px,#ff0300 694px,#f00 1055px)"></i><i style="background:linear-gradient(90deg,#000dff,#0ff 163px,#0f0 312px,#04ff00 314px,#ff0 489px,#ff0200 690px,#f00 1055px)"></i><i style="background:linear-gradient(90deg,#000dff,#0ff 162px,#0f0 311px,#03ff00 312px,#ff0 486px,#ff0300 684px,#f00 1055px)"></i><i style="background:linear-gradient(90deg,#000dff,#0ff 161px,#0f0 309px,#04ff00 312px,#ff0 483px,#ff0300 680px,#f00 1055px)"></i><i style="background:linear-gradient(90deg,#000dff,#0ff 160px,#0f0 307px,#04ff00 310px,#ff0 480px,#ff0300 676px,#f00 1055px)"></i><i style="background:linear-gradient(90deg,#000dff,#0ff 159px,#0f0 305px,#04ff00 308px,#ff0 477px,#ff0300 672px,#f00 1055px)"></i><i style="background:linear-gradient(90deg,#000dff,#0ff 158px,#0f0 304px,#04ff00 306px,#ff0 474px,#ff0200 670px,#f00 1055px)"></i><i style="background:linear-gradient(90deg,#000dff,#0ff 157px,#0f0 302px,#05ff00 306px,#ff0 471px,#ff0200 666px,#f00 1055px)"></i><i style="background:linear-gradient(90deg,#000dff,#0ff 156px,#0f0 301px,#06ff00 304px,#ff0 469px,#ff0200 662px,#f00 1055px)"></i><i style="background:linear-gradient(90deg,#000dff,#0ff 155px,#0f0 299px,#f6ff00 460px,#ff0 467px,#ff0300 658px,#f00 1055px)"></i><i style="background:linear-gradient(90deg,#000dff,#0ff 154px,#0f0 298px,#02ff00 298px,#f8ff00 458px,#ff0 464px,#ff0200 654px,#f00 1055px)"></i><i style="background:linear-gradient(90deg,#000dff,#0ff 153px,#0f0 296px,#f9ff00 456px,#ff0 461px,#ff0200 650px,#f00 1055px)"></i><i style="background:linear-gradient(90deg,#000dff,#0ff 152px,#0f0 295px,#faff00 454px,#ff0 459px,#ff0200 648px,#f00 1055px)"></i><i style="background:linear-gradient(90deg,#000dff,#0ff 152px,#0f0 293px,#faff00 452px,#ff0 456px,#ff0200 644px,#f00 1055px)"></i><i style="background:linear-gradient(90deg,#000dff,#0ff 151px,#0f0 292px,#f9ff00 450px,#ff0 454px,#ff0200 640px,#f00 1055px)"></i><i style="background:linear-gradient(90deg,#000dff,#0ff 150px,#0f0 291px,#faff00 448px,#ff0 451px,#ff0200 638px,#f00 1055px)"></i><i style="background:linear-gradient(90deg,#000dff,#0ff 149px,#0f0 290px,#02ff00 290px,#faff00 446px,#ff0 449px,#ff0200 634px,#f00 1055px)"></i><i style="background:linear-gradient(90deg,#000dff,#0ff 148px,#0f0 288px,#fbff00 444px,#ff0 447px,#ff0200 630px,#f00 1055px)"></i><i style="background:linear-gradient(90deg,#000dff,#0ff 148px,#0f0 287px,#fbff00 442px,#ff0 444px,#ff0200 628px,#f00 1055px)"></i><i style="background:linear-gradient(90deg,#000dff,#0ff 147px,#0f0 286px,#fbff00 440px,#ff0 442px,#ff0200 624px,#f00 1055px)"></i><i style="background:linear-gradient(90deg,#000dff,#0ff 146px,#0f0 285px,#fbff00 438px,#ff0 440px,#ff0200 622px,#f00 1055px)"></i><i style="background:linear-gradient(90deg,#000dff,#0ff 145px,#0f0 284px,#fbff00 436px,#ff0 438px,#ff0200 618px,#f00 1055px)"></i><i style="background:linear-gradient(90deg,#000dff,#0ff 145px,#0f0 283px,#01ff00 284px,#fbff00 434px,#ff0 436px,#ff0200 616px,#f00 1055px)"></i><i style="background:linear-gradient(90deg,#000dff,#0ff 144px,#0f0 282px,#02ff00 282px,#fbff00 432px,#ff0 434px,#ff0200 612px,#f00 1055px)"></i><i style="background:linear-gradient(90deg,#000dff,#0ff 143px,#0f0 281px,#02ff00 282px,#fcff00 430px,#ff0 432px,#ff0200 610px,#f00 1055px)"></i><i style="background:linear-gradient(90deg,#000dff,#0ff 143px,#0f0 280px,#02ff00 280px,#fcff00 428px,#ff0 430px,#ff0200 606px,#f00 1055px)"></i><i style="background:linear-gradient(90deg,#000dff,#0ff 142px,#0f0 279px,#02ff00 280px,#fcff00 426px,#ff0 429px,#ff0200 604px,#f00 1055px)"></i><i style="background:linear-gradient(90deg,#000dff,#0ff 142px,#0f0 278px,#fbff00 424px,#ff0 427px,#ff0100 602px,#f00 1055px)"></i><i style="background:linear-gradient(90deg,#000dff,#0ff 141px,#0f0 277px,#fdff00 424px,#ff0 425px,#ff0100 598px,#f00 1055px)"></i><i style="background:linear-gradient(90deg,#000dff,#00fdff 140px,#0ff 140px,#0f0 276px,#fcff00 422px,#ff0 424px,#ff0200 596px,#f00 1055px)"></i><i style="background:linear-gradient(90deg,#000dff,#0ff 140px,#0f0 275px,#fdff00 420px,#ff0 422px,#ff0100 594px,#f00 1055px)"></i><i style="background:linear-gradient(90deg,#000dff,#00fdff 138px,#0ff 139px,#0f0 274px,#fcff00 418px,#ff0 420px,#ff0100 590px,#f00 1055px)"></i><i style="background:linear-gradient(90deg,#000dff,#0ff 139px,#0f0 273px,#fdff00 418px,#ff0 419px,#ff0200 588px,#f00 1055px)"></i><i style="background:linear-gradient(90deg,#000dff,#00fdff 138px,#0ff 138px,#0f0 273px,#fcff00 416px,#ff0 417px,#ff0100 586px,#f00 1055px)"></i><i style="background:linear-gradient(90deg,#000dff,#0ff 138px,#0f0 272px,#fdff00 414px,#ff0 416px,#ff0200 582px,#f00 1055px)"></i><i style="background:linear-gradient(90deg,#000dff,#00fdff 136px,#0ff 137px,#0f0 271px,#fcff00 412px,#ff0 414px,#ff0100 580px,#f00 1055px)"></i><i style="background:linear-gradient(90deg,#000dff,#0ff 137px,#0f0 271px,#fdff00 412px,#ff0 413px,#ff0100 578px,#f00 1055px)"></i><i style="background:linear-gradient(90deg,#000dff,#0ff 137px,#0f0 270px,#fdff00 410px,#ff0 412px,#ff0100 576px,#f00 1055px)"></i><i style="background:linear-gradient(90deg,#000dff,#0ff 136px,#0f0 269px,#fcff00 408px,#ff0 410px,#ff0100 574px,#f00 1055px)"></i><i style="background:linear-gradient(90deg,#000dff,#0ff 136px,#0f0 269px,#fdff00 408px,#ff0 409px,#ff0200 570px,#f00 1055px)"></i><i style="background:linear-gradient(90deg,#000dff,#0ff 135px,#0f0 268px,#fdff00 406px,#ff0 408px,#ff0100 568px,#f00 1055px)"></i><i style="background:linear-gradient(90deg,#000dff,#0ff 135px,#0f0 267px,#feff00 406px,#ff0 406px,#ff0100 566px,#f00 1055px)"></i><i style="background:linear-gradient(90deg,#000dff,#0ff 135px,#0f0 267px,#ff0 405px,#ff0100 564px,#f00 1055px)"></i><i style="background:linear-gradient(90deg,#000dff,#0ff 134px,#0f0 266px,#fcff00 402px,#ff0 404px,#ff0200 562px,#f00 1055px)"></i><i style="background:linear-gradient(90deg,#000dff,#0ff 134px,#0f0 266px,#fdff00 402px,#ff0 403px,#ff0100 560px,#f00 1055px)"></i><i style="background:linear-gradient(90deg,#000dff,#0ff 134px,#0f0 268px,#fdff00 400px,#ff0 402px,#ff0100 558px,#f00 1055px)"></i><i style="background:linear-gradient(90deg,#000dff,#0ff 133px,#0f0 267px,#fdff00 400px,#ff0 401px,#ff0100 556px,#f00 1055px)"></i><i style="background:linear-gradient(90deg,#000dff,#0ff 133px,#0f0 266px,#fdff00 398px,#ff0 400px,#ff0100 554px,#f00 1055px)"></i><i style="background:linear-gradient(90deg,#000dff,#0ff 133px,#0f0 266px,#fdff00 398px,#ff0 399px,#ff0100 552px,#f00 1055px)"></i><i style="background:linear-gradient(90deg,#000dff,#0ff 132px,#0f0 265px,#fdff00 396px,#ff0 398px,#ff0100 550px,#f00 1055px)"></i><i style="background:linear-gradient(90deg,#000dff,#0ff 132px,#0f0 264px,#fdff00 396px,#ff0 397px,#ff0100 548px,#f00 1055px)"></i><i style="background:linear-gradient(90deg,#000dff,#0ff 132px,#0f0 264px,#ff0 396px,#ff0100 546px,#f00 1055px)"></i><i style="background:linear-gradient(90deg,#000dff,#0ff 132px,#0f0 263px,#ff0 395px,#ff0100 544px,#f00 1055px)"></i><i style="background:linear-gradient(90deg,#000dff,#0ff 132px,#0f0 263px,#ff0 394px,#ff0100 542px,#f00 1055px)"></i><i style="background:linear-gradient(90deg,#000dff,#0ff 131px,#0f0 262px,#ff0 393px,#ff0100 540px,#f00 1055px)"></i><i style="background:linear-gradient(90deg,#000dff,#0ff 131px,#0f0 262px,#ff0 392px,#ff0100 538px,#f00 1055px)"></i><i style="background:linear-gradient(90deg,#000dff,#0ff 131px,#0f0 261px,#ff0 391px,#ff0100 536px,#f00 1055px)"></i><i style="background:linear-gradient(90deg,#000dff,#0ff 131px,#0f0 261px,#ff0 391px,#ff0100 534px,#f00 1055px)"></i><i style="background:linear-gradient(90deg,#000dff,#0ff 131px,#0f0 260px,#ff0 390px,#f00 532px)"></i><i style="background:linear-gradient(90deg,#000dff,#0ff 131px,#00fffd 132px,#0f0 260px,#ff0 389px,#ff0100 530px,#f00 1055px)"></i><i style="background:linear-gradient(90deg,#000dff,#0ff 130px,#00fffd 132px,#0f0 259px,#ff0 388px,#ff0100 528px,#f00 1055px)"></i><i style="background:linear-gradient(90deg,#000dff,#0ff 130px,#00fffd 132px,#0f0 259px,#ff0 388px,#ff0100 526px,#f00 1055px)"></i><i style="height:1px;background:linear-gradient(90deg,#000dff,#0ff 130px,#00fffd 132px,#0f0 259px,#ff0 387px,#ff0100 526px,#f00 1055px)"></i></div>
<div class="fk k3" style="left:2144px;top:328px;width:209px;height:416px"><b style="background:linear-gradient(#009eff,#0ff 23px,#0f0 91px,#ff0 144px,#ff0200 214px,#f00 416px)"></b><b style="background:linear-gradient(#009eff,#0ff 23px,#0f0 91px,#ff0 144px,#ff0200 214px,#f00 416px)"></b><b style="background:linear-gradient(#009eff,#0ff 23px,#0f0 91px,#ff0 144px,#ff0300 214px,#f00 416px)"></b><b style="background:linear-gradient(#009eff,#0ff 23px,#0f0 91px,#ff0 144px,#ff0400 214px,#f00 416px)"></b><b style="background:linear-gradient(#009eff,#0ff 23px,#0f0 91px,#ff0 144px,#ff0500 214px,#f00 416px)"></b><b style="background:linear-gradient(#009eff,#0ff 23px,#0f0 91px,#ff0 144px,#ff0600 214px,#f00 218px)"></b><b style="background:linear-gradient(#009eff,#0ff 23px,#0f0 91px,#ff0 144px,#ff0600 214px,#f00 220px)"></b><b style="background:linear-gradient(#009eff,#0ff 23px,#0f0 91px,#ff0 144px,#ff0700 214px,#f00 220px)"></b><b style="background:linear-gradient(#009eff,#0ff 23px,#0f0 91px,#ff0 144px,#ff0800 214px,#f00 220px)"></b><b style="background:linear-gradient(#009eff,#0ff 23px,#0f0 91px,#ff0 144px,#ff0900 214px,#f00 222px)"></b><b style="background:linear-gradient(#009eff,#0ff 23px,#0f0 91px,#ff0 145px,#ff0a00 214px,#f00 222px)"></b><b style="background:linear-gradient(#009eff,#0ff 23px,#0f0 91px,#ff0 145px,#ff0a00 214px,#f00 222px)"></b><b style="background:linear-gradient(#009eff,#0ff 23px,#0f0 91px,#ff0 145px,#ff0b00 214px,#f00 222px)"></b><b style="background:linear-gradient(#009eff,#0ff 23px,#0f0 91px,#ff0 145px,#ff0c00 214px,#f00 224px)"></b><b style="background:linear-gradient(#009eff,#0ff 23px,#0f0 91px,#ff0 145px,#ff0d00 214px,#f00 224px)"></b><b style="background:linear-gradient(#009eff,#0ff 23px,#0f0 91px,#ff0 145px,#ff0e00 214px,#f00 224px)"></b><b style="background:linear-gradient(#009eff,#0ff 23px,#0f0 91px,#ff0 145px,#ff0f00 214px,#f00 224px)"></b><b style="background:linear-gradient(#009eff,#0ff 23px,#0f0 91px,#ff0 145px,#ff0f00 214px,#f00 224px)"></b><b style="background:linear-gradient(#009eff,#0ff 23px,#0f0 91px,#fcff00 144px,#ff0 145px,#ff1000 214px,#f00 226px)"></b><b style="background:linear-gradient(#009eff,#0ff 23px,#0f0 91px,#fcff00 144px,#ff0 145px,#f10 214px,#f00 226px)"></b><b style="background:linear-gradient(#009eff,#0ff 23px,#0f0 91px,#ff0 145px,#ff1200 214px,#f00 226px)"></b><b style="background:linear-gradient(#009eff,#0ff 23px,#0f0 91px,#ff0 145px,#f10 214px,#f00 226px)"></b><b style="background:linear-gradient(#009eff,#0ff 23px,#0f0 91px,#ff0 146px,#f10 214px,#f00 226px)"></b><b style="background:linear-gradient(#009eff,#0ff 23px,#0f0 91px,#ff0 146px,#ff1200 214px,#f00 226px)"></b><b style="background:linear-gradient(#009eff,#0ff 23px,#0f0 91px,#ff0 146px,#ff1300 214px,#f00 226px)"></b><b style="background:linear-gradient(#009eff,#0ff 23px,#0f0 91px,#ff0 146px,#ff1400 214px,#f00 228px)"></b><b style="background:linear-gradient(#009eff,#0ff 23px,#0f0 91px,#ff0 146px,#ff1500 214px,#f00 228px)"></b><b style="background:linear-gradient(#009eff,#0ff 23px,#0f0 91px,#ff0 146px,#ff1500 214px,#f00 228px)"></b><b style="background:linear-gradient(#009eff,#0ff 23px,#0f0 91px,#ff0 146px,#fff900 148px,#ff1600 214px,#f00 228px)"></b><b style="background:linear-gradient(#009eff,#0ff 23px,#0f0 91px,#ff0 146px,#fffa00 148px,#ff1700 214px,#f00 228px)"></b><b style="background:linear-gradient(#009eff,#0ff 23px,#0f0 91px,#ff0 146px,#fffa00 148px,#ff1800 214px,#f00 228px)"></b><b style="background:linear-gradient(#009eff,#0ff 23px,#0f0 91px,#ff0 146px,#fffa00 148px,#ff1900 214px,#f00 228px)"></b><b style="background:linear-gradient(#009eff,#0ff 23px,#0f0 91px,#ff0 147px,#fffb00 148px,#ff1900 214px,#f00 228px)"></b><b style="background:linear-gradient(#009eff,#0ff 23px,#0f0 91px,#ff0 147px,#fffb00 148px,#ff1a00 214px,#f00 228px)"></b><b style="background:linear-gradient(#009eff,#0ff 23px,#0f0 91px,#ff0 147px,#fffb00 148px,#ff1b00 214px,#f00 228px)"></b><b style="background:linear-gradient(#009eff,#0ff 23px,#0f0 91px,#ff0 147px,#fff800 148px,#ff1c00 214px,#f00 230px)"></b><b style="background:linear-gradient(#009eff,#0ff 23px,#0f0 91px,#ff0 147px,#fff800 148px,#ff1a00 216px,#f00 230px)"></b><b style="background:linear-gradient(#009eff,#0ff 23px,#0f0 91px,#ff0 147px,#fff800 148px,#ff1b00 216px,#f00 230px)"></b><b style="background:linear-gradient(#009eff,#0ff 23px,#0f0 91px,#ff0 147px,#fff900 148px,#ff1c00 216px,#f00 230px)"></b><b style="background:linear-gradient(#009eff,#0ff 23px,#0f0 91px,#ff0 147px,#fff900 148px,#ff1b00 216px,#f00 230px)"></b><b style="background:linear-gradient(#009eff,#0ff 23px,#0f0 91px,#ff0 147px,#fff900 148px,#ff2500 212px,#ff0200 228px,#f00 416px)"></b><b style="background:linear-gradient(#009eff,#0ff 23px,#0f0 91px,#ff0 147px,#fff900 148px,#ff2600 212px,#f00 230px)"></b><b style="background:linear-gradient(#009eff,#0ff 23px,#0f0 91px,#ff0 147px,#fffa00 148px,#ff2700 212px,#ff0100 230px,#f00 416px)"></b><b style="background:linear-gradient(#009eff,#0ff 23px,#0f0 91px,#ff0 147px,#fffa00 148px,#ff2700 212px,#ff0100 230px,#f00 416px)"></b><b style="background:linear-gradient(#009eff,#0ff 23px,#0f0 91px,#ff0 147px,#fffa00 148px,#ff2800 212px,#ff0100 230px,#f00 416px)"></b><b style="background:linear-gradient(#009eff,#0ff 23px,#0f0 91px,#ff0 148px,#fffb00 148px,#ff2900 212px,#ff0100 230px,#f00 416px)"></b><b style="background:linear-gradient(#009eff,#0ff 23px,#0f0 91px,#ff0 148px,#fffb00 148px,#ff2a00 212px,#ff0200 230px,#f00 416px)"></b><b style="background:linear-gradient(#009eff,#0ff 23px,#0f0 91px,#ff0 148px,#fffb00 148px,#ff2b00 212px,#f00 230px)"></b><b style="background:linear-gradient(#009eff,#0ff 23px,#0f0 91px,#ff0 148px,#ff2c00 212px,#f00 230px)"></b><b style="background:linear-gradient(#009eff,#0ff 23px,#0f0 91px,#ff0 148px,#ff2c00 212px,#f00 230px)"></b><b style="background:linear-gradient(#009eff,#0ff 23px,#0f0 91px,#ff0 148px,#ff2d00 212px,#ff0100 230px,#f00 416px)"></b><b style="background:linear-gradient(#009eff,#0ff 23px,#0f0 91px,#ff0 148px,#ff2e00 212px,#ff0100 230px,#f00 416px)"></b><b style="background:linear-gradient(#009eff,#0ff 23px,#0f0 91px,#ff0 148px,#ff2f00 212px,#ff0100 230px,#f00 416px)"></b><b style="background:linear-gradient(#009eff,#0ff 23px,#0f0 91px,#ff0 148px,#fff900 150px,#ff3000 212px,#ff0100 230px,#f00 416px)"></b><b style="background:linear-gradient(#009eff,#0ff 23px,#0f0 91px,#ff0 148px,#fffa00 150px,#ff3100 212px,#ff0200 230px,#f00 416px)"></b><b style="background:linear-gradient(#009eff,#0ff 23px,#0f0 91px,#ff0 148px,#fffa00 150px,#ff3100 212px,#ff0200 230px,#f00 416px)"></b><b style="background:linear-gradient(#009eff,#0ff 23px,#0f0 91px,#ff0 148px,#fffa00 150px,#ff3200 212px,#f00 232px)"></b><b style="background:linear-gradient(#009eff,#0ff 23px,#0f0 91px,#ff0 148px,#fffb00 150px,#f30 212px,#f00 232px)"></b><b style="background:linear-gradient(#009eff,#0ff 23px,#0f0 91px,#ff0 149px,#fffb00 150px,#ff3400 212px,#f00 232px)"></b><b style="background:linear-gradient(#009eff,#0ff 23px,#0f0 91px,#ff0 149px,#fffb00 150px,#ff3500 212px,#ff0100 232px,#f00 416px)"></b><b style="background:linear-gradient(#009eff,#0ff 23px,#0f0 91px,#ff0 149px,#fffb00 150px,#ff3500 212px,#ff0100 232px,#f00 416px)"></b><b style="background:linear-gradient(#009eff,#0ff 23px,#0f0 91px,#ff0 149px,#ff3600 212px,#ff0100 232px,#f00 416px)"></b><b style="background:linear-gradient(#009eff,#0ff 23px,#0f0 91px,#ff0 149px,#ff0100 232px,#f00 416px)"></b><b style="background:linear-gradient(#009eff,#0ff 23px,#0f0 91px,#ff0 149px,#ff0200 232px,#f00 416px)"></b><b style="background:linear-gradient(#009eff,#0ff 23px,#0f0 91px,#ff0 149px,#ff0200 232px,#f00 416px)"></b><b style="background:linear-gradient(#009eff,#0ff 23px,#0f0 91px,#ff0 149px,#f00 232px)"></b><b style="background:linear-gradient(#009eff,#0ff 23px,#0f0 91px,#ff0 149px,#f00 232px)"></b><b style="background:linear-gradient(#009eff,#0ff 23px,#0f0 91px,#ff0 149px,#f00 232px)"></b><b style="background:linear-gradient(#009eff,#0ff 23px,#0f0 91px,#ff0 149px,#ff0100 232px,#f00 416px)"></b><b style="width:2px;background:linear-gradient(#009eff,#0ff 23px,#0f0 91px,#ff0 149px,#ff0100 232px,#f00 416px)"></b></div>
<div class="fk k3" style="left:1089px;top:1313px;width:1055px;height:125px"><b style="background:linear-gradient(#000cff,#000dff 125px)"></b><b style="background:linear-gradient(#000eff,#0010ff 125px)"></b><b style="background:linear-gradient(#000fff,#0014ff 125px)"></b><b style="background:linear-gradient(#0010ff,#0017ff 125px)"></b><b style="background:linear-gradient(#0012ff,#001aff 125px)"></b><b style="background:linear-gradient(#0013ff,#001dff 125px)"></b><b style="background:linear-gradient(#0014ff,#0021ff 125px)"></b><b style="background:linear-gradient(#0015ff,#0024ff 125px)"></b><b style="background:linear-gradient(#0017ff,#0027ff 125px)"></b><b style="background:linear-gradient(#0018ff,#002aff 125px)"></b><b style="background:linear-gradient(#0019ff,#002dff 125px)"></b><b style="background:linear-gradient(#001bff,#0031ff 125px)"></b><b style="background:linear-gradient(#001cff,#0034ff 125px)"></b><b style="background:linear-gradient(#001dff,#0037ff 125px)"></b><b style="background:linear-gradient(#001fff,#003aff 125px)"></b><b style="background:linear-gradient(#0020ff,#003dff 125px)"></b><b style="background:linear-gradient(#0021ff,#0041ff 125px)"></b><b style="background:linear-gradient(#02f,#04f 125px)"></b><b style="background:linear-gradient(#0024ff,#0047ff 125px)"></b><b style="background:linear-gradient(#0025ff,#004aff 125px)"></b><b style="background:linear-gradient(#0026ff,#004eff 125px)"></b><b style="background:linear-gradient(#0028ff,#0051ff 125px)"></b><b style="background:linear-gradient(#0029ff,#0054ff 125px)"></b><b style="background:linear-gradient(#002aff,#0057ff 125px)"></b><b style="background:linear-gradient(#002cff,#005aff 125px)"></b><b style="background:linear-gradient(#002dff,#005eff 125px)"></b><b style="background:linear-gradient(#002eff,#0061ff 125px)"></b><b style="background:linear-gradient(#002fff,#0064ff 125px)"></b><b style="background:linear-gradient(#0031ff,#0067ff 125px)"></b><b style="background:linear-gradient(#0032ff,#006aff 125px)"></b><b style="background:linear-gradient(#03f,#006eff 125px)"></b><b style="background:linear-gradient(#0035ff,#0071ff 125px)"></b><b style="background:linear-gradient(#0036ff,#0074ff 125px)"></b><b style="background:linear-gradient(#0037ff,#07f 125px)"></b><b style="background:linear-gradient(#0039ff,#007aff 125px)"></b><b style="background:linear-gradient(#003aff,#007eff 125px)"></b><b style="background:linear-gradient(#003bff,#0081ff 125px)"></b><b style="background:linear-gradient(#003cff,#0084ff 125px)"></b><b style="background:linear-gradient(#003eff,#0087ff 125px)"></b><b style="background:linear-gradient(#003fff,#008bff 125px)"></b><b style="background:linear-gradient(#0040ff,#008eff 125px)"></b><b style="background:linear-gradient(#0042ff,#0091ff 125px)"></b><b style="background:linear-gradient(#0043ff,#0094ff 125px)"></b><b style="background:linear-gradient(#04f,#006eff 70px,#0097ff 125px)"></b><b style="background:linear-gradient(#0046ff,#0070ff 70px,#009bff 125px)"></b><b style="background:linear-gradient(#0047ff,#0072ff 70px,#009eff 125px)"></b><b style="background:linear-gradient(#0048ff,#0074ff 70px,#00a1ff 125px)"></b><b style="background:linear-gradient(#0049ff,#07f 70px,#00a4ff 125px)"></b><b style="background:linear-gradient(#004bff,#0079ff 70px,#00a7ff 125px)"></b><b style="background:linear-gradient(#004cff,#007bff 70px,#00abff 125px)"></b><b style="background:linear-gradient(#004dff,#007dff 70px,#00aeff 125px)"></b><b style="background:linear-gradient(#004fff,#0080ff 70px,#00b1ff 125px)"></b><b style="background:linear-gradient(#0050ff,#0082ff 70px,#00b4ff 125px)"></b><b style="background:linear-gradient(#0051ff,#0084ff 70px,#00b7ff 125px)"></b><b style="background:linear-gradient(#0053ff,#0086ff 70px,#0bf 125px)"></b><b style="background:linear-gradient(#0054ff,#0089ff 70px,#00beff 125px)"></b><b style="background:linear-gradient(#05f,#008bff 70px,#00c1ff 125px)"></b><b style="background:linear-gradient(#0056ff,#008dff 70px,#00c4ff 125px)"></b><b style="background:linear-gradient(#0058ff,#008fff 70px,#00c8ff 125px)"></b><b style="background:linear-gradient(#0059ff,#0092ff 70px,#00cbff 125px)"></b><b style="background:linear-gradient(#005aff,#0094ff 70px,#00ceff 125px)"></b><b style="background:linear-gradient(#005cff,#0096ff 70px,#00d1ff 125px)"></b><b style="background:linear-gradient(#005dff,#0098ff 70px,#00d4ff 125px)"></b><b style="background:linear-gradient(#005eff,#009bff 70px,#00d8ff 125px)"></b><b style="background:linear-gradient(#0060ff,#009dff 70px,#00dbff 125px)"></b><b style="background:linear-gradient(#0061ff,#009fff 70px,#00deff 125px)"></b><b style="background:linear-gradient(#0062ff,#00a2ff 70px,#00e1ff 125px)"></b><b style="background:linear-gradient(#0063ff,#00a4ff 70px,#00e4ff 125px)"></b><b style="background:linear-gradient(#0065ff,#00a6ff 70px,#00e8ff 125px)"></b><b style="background:linear-gradient(#06f,#00a8ff 70px,#00ebff 125px)"></b><b style="background:linear-gradient(#0067ff,#00abff 70px,#0ef 125px)"></b><b style="background:linear-gradient(#0069ff,#00adff 70px,#00f1ff 125px)"></b><b style="background:linear-gradient(#006aff,#00afff 70px,#00f4ff 125px)"></b><b style="background:linear-gradient(#006bff,#00b1ff 70px,#00f8ff 125px)"></b><b style="background:linear-gradient(#006dff,#00b4ff 70px,#00fbff 125px)"></b><b style="background:linear-gradient(#006eff,#00b7ff 70px,#00feff 125px)"></b><b style="background:linear-gradient(#006fff,#00bcff 72px,#0ff 122px,#00fffb 125px)"></b><b style="background:linear-gradient(#0070ff,#00c2ff 76px,#0ff 119px,#00fff6 125px)"></b><b style="background:linear-gradient(#0072ff,#00c8ff 78px,#00f9ff 114px,#0ff 118px,#00fff1 125px)"></b><b style="background:linear-gradient(#0073ff,#00cdff 80px,#00fcff 114px,#0ff 116px,#00ffec 125px)"></b><b style="background:linear-gradient(#0074ff,#00d3ff 84px,#00fcff 112px,#0ff 114px,#00ffe7 125px)"></b><b style="background:linear-gradient(#0076ff,#00d8ff 86px,#0ff 112px,#00ffe1 125px)"></b><b style="background:linear-gradient(#07f,#0df 88px,#0ff 110px,#00ffdc 125px)"></b><b style="background:linear-gradient(#0078ff,#00e3ff 90px,#0ff 108px,#00ffd7 125px)"></b><b style="background:linear-gradient(#007aff,#00eaff 92px,#0ff 107px,#00ffd2 125px)"></b><b style="background:linear-gradient(#007bff,#0ef 94px,#0ff 104px,#00fffd 106px,#00ffcd 125px)"></b><b style="background:linear-gradient(#007cff,#00f3ff 96px,#0ff 103px,#00ffc8 125px)"></b><b style="background:linear-gradient(#007dff,#00bdff 54px,#00f9ff 98px,#0ff 100px,#00ffc3 125px)"></b><b style="background:linear-gradient(#007fff,#00beff 54px,#00faff 96px,#0ff 98px,#00ffbd 125px)"></b><b style="background:linear-gradient(#0080ff,#00c0ff 54px,#00fbff 96px,#0ff 97px,#00ffb8 125px)"></b><b style="background:linear-gradient(#0081ff,#00fbff 94px,#0ff 95px,#00ffb3 125px)"></b><b style="background:linear-gradient(#0083ff,#00fcff 92px,#0ff 94px,#00ffae 125px)"></b><b style="background:linear-gradient(#0084ff,#00fbff 90px,#0ff 92px,#00ffa9 125px)"></b><b style="background:linear-gradient(#0085ff,#00fcff 90px,#0ff 90px,#00ffa4 125px)"></b><b style="background:linear-gradient(#0087ff,#00fcff 88px,#0ff 89px,#00ff9e 125px)"></b><b style="background:linear-gradient(#08f,#0ff 87px,#0f9 125px)"></b><b style="background:linear-gradient(#0089ff,#0ff 86px,#00ff94 125px)"></b><b style="background:linear-gradient(#008aff,#0ff 84px,#00ff8f 125px)"></b><b style="background:linear-gradient(#008cff,#0ff 83px,#00ff8a 125px)"></b><b style="background:linear-gradient(#008dff,#0ff 81px,#00ff85 125px)"></b><b style="background:linear-gradient(#008eff,#0ff 80px,#00ff7f 125px)"></b><b style="background:linear-gradient(#0090ff,#0ff 78px,#00ff7a 125px)"></b><b style="background:linear-gradient(#0091ff,#0ff 77px,#00ff75 125px)"></b><b style="background:linear-gradient(#0092ff,#0ff 75px,#00ff70 125px)"></b><b style="background:linear-gradient(#0094ff,#0ff 74px,#00ff6b 125px)"></b><b style="background:linear-gradient(#0095ff,#0ff 73px,#0f6 125px)"></b><b style="background:linear-gradient(#0096ff,#0ff 71px,#00ff60 125px)"></b><b style="background:linear-gradient(#0097ff,#0ff 70px,#00ff5b 125px)"></b><b style="background:linear-gradient(#09f,#0ff 69px,#00ff56 125px)"></b><b style="background:linear-gradient(#009aff,#0ff 67px,#00ff51 125px)"></b><b style="background:linear-gradient(#009bff,#0ff 66px,#00ff4c 125px)"></b><b style="background:linear-gradient(#009dff,#0ff 65px,#00ff47 125px)"></b><b style="background:linear-gradient(#009eff,#0ff 63px,#00ff42 125px)"></b><b style="background:linear-gradient(#009fff,#0ff 62px,#00ff3c 125px)"></b><b style="background:linear-gradient(#00a1ff,#0ff 60px,#00fffd 62px,#00ff37 125px)"></b><b style="background:linear-gradient(#00a2ff,#0ff 60px,#00ff32 125px)"></b><b style="background:linear-gradient(#00a3ff,#0ff 58px,#00ff2d 125px)"></b><b style="background:linear-gradient(#00a4ff,#0ff 57px,#00ff28 125px)"></b><b style="background:linear-gradient(#00a6ff,#0ff 56px,#00fffe 56px,#00ff23 125px)"></b><b style="background:linear-gradient(#00a7ff,#0ff 54px,#00fffd 56px,#00ff1d 125px)"></b><b style="background:linear-gradient(#00a8ff,#0ff 53px,#00fffd 54px,#00ff18 125px)"></b><b style="background:linear-gradient(#0af,#0ff 52px,#00fffc 54px,#00ff13 125px)"></b><b style="background:linear-gradient(#00abff,#0ff 51px,#00fffc 52px,#00ff0e 125px)"></b><b style="background:linear-gradient(#00acff,#0ff 50px,#00ff09 125px)"></b><b style="background:linear-gradient(#00aeff,#0ff 49px,#00ff04 125px)"></b><b style="background:linear-gradient(#00afff,#0ff 48px,#0f0 125px)"></b><b style="background:linear-gradient(#00b0ff,#0ff 47px,#00fffe 48px,#0f0 124px,#04ff00 125px)"></b><b style="background:linear-gradient(#00b1ff,#0ff 46px,#00fffd 46px,#00ff07 118px,#0f0 122px,#06ff00 125px)"></b><b style="background:linear-gradient(#00b3ff,#0ff 44px,#00fffd 46px,#00ff06 118px,#0f0 120px,#09ff00 125px)"></b><b style="background:linear-gradient(#00b4ff,#0ff 43px,#00fffd 44px,#00ff08 116px,#0f0 119px,#0cff00 125px)"></b><b style="background:linear-gradient(#00b5ff,#0ff 42px,#00fffd 44px,#00ff06 114px,#0f0 118px,#0fff00 125px)"></b><b style="background:linear-gradient(#00b7ff,#0ff 41px,#00fffd 42px,#00ff05 114px,#0f0 116px,#12ff00 125px)"></b><b style="background:linear-gradient(#00b8ff,#0ff 40px,#00fffd 42px,#00ff07 112px,#0f0 115px,#15ff00 125px)"></b><b style="background:linear-gradient(#00b9ff,#0ff 39px,#00fffd 40px,#00ff05 110px,#0f0 113px,#17ff00 125px)"></b><b style="background:linear-gradient(#00baff,#0ff 39px,#00fffd 40px,#00ff04 110px,#0f0 112px,#1aff00 125px)"></b><b style="background:linear-gradient(#00bcff,#0ff 38px,#00fffd 38px,#00ff03 108px,#0f0 110px,#1dff00 125px)"></b><b style="background:linear-gradient(#00bdff,#0ff 37px,#00fffd 38px,#00ff05 106px,#0f0 109px,#20ff00 125px)"></b><b style="background:linear-gradient(#00beff,#0ff 35px,#00fffb 38px,#00ff04 106px,#0f0 108px,#23ff00 125px)"></b><b style="background:linear-gradient(#00c0ff,#0ff 34px,#00fffb 36px,#00ff03 104px,#0f0 106px,#26ff00 125px)"></b><b style="background:linear-gradient(#00c1ff,#0ff 34px,#00fffb 36px,#00ff02 104px,#0f0 105px,#28ff00 125px)"></b><b style="background:linear-gradient(#00c2ff,#0ff 33px,#00fffc 34px,#00ff04 102px,#0f0 104px,#2bff00 125px)"></b><b style="background:linear-gradient(#00c4ff,#0ff 32px,#00fffc 34px,#00ff04 100px,#0f0 102px,#2eff00 125px)"></b><b style="background:linear-gradient(#00c5ff,#0ff 31px,#00fffc 32px,#00ff03 100px,#0f0 101px,#31ff00 125px)"></b><b style="background:linear-gradient(#00c6ff,#0ff 30px,#00fffd 32px,#00ff02 98px,#0f0 99px,#34ff00 125px)"></b><b style="background:linear-gradient(#00c7ff,#0ff 29px,#00fffa 32px,#0f0 98px,#37ff00 125px)"></b><b style="background:linear-gradient(#00c9ff,#0ff 28px,#00fffb 30px,#00ff04 96px,#0f0 97px,#39ff00 125px)"></b><b style="background:linear-gradient(#00caff,#0ff 27px,#00fffb 30px,#00ff03 94px,#0f0 96px,#3cff00 125px)"></b><b style="background:linear-gradient(#00cbff,#0ff 27px,#00fffc 28px,#00ffc3 44px,#00ff03 94px,#0f0 95px,#3fff00 125px)"></b><b style="background:linear-gradient(#00cdff,#0ff 25px,#00fff3 30px,#0f0 93px,#42ff00 125px)"></b><b style="background:linear-gradient(#00ceff,#0ff 23px,#00fff0 30px,#0f0 92px,#45ff00 125px)"></b><b style="background:linear-gradient(#00cfff,#0ff 23px,#00fff1 30px,#0f0 91px,#47ff00 125px)"></b><b style="background:linear-gradient(#00d1ff,#00fcff 22px,#0ff 24px,#0fe 30px,#0f0 90px,#4aff00 125px)"></b><b style="background:linear-gradient(#00d2ff,#0ff 23px,#00ffec 30px,#0f0 89px,#4dff00 125px)"></b><b style="background:linear-gradient(#00d3ff,#0ff 22px,#00ffed 28px,#0f0 88px,#50ff00 125px)"></b><b style="background:linear-gradient(#00d4ff,#0ff 22px,#00ffea 28px,#0f0 86px,#53ff00 125px)"></b><b style="background:linear-gradient(#00d6ff,#0ff 21px,#00ffe8 28px,#0f0 85px,#56ff00 125px)"></b><b style="background:linear-gradient(#00d7ff,#0ff 20px,#00ffe9 28px,#0f0 84px,#58ff00 125px)"></b><b style="background:linear-gradient(#00d8ff,#0ff 20px,#00ffe6 28px,#0f0 83px,#5bff00 125px)"></b><b style="background:linear-gradient(#00daff,#0ff 19px,#00ffe7 26px,#0f0 82px,#5eff00 125px)"></b><b style="background:linear-gradient(#00dbff,#0ff 18px,#00ffe5 26px,#0f0 81px,#61ff00 125px)"></b><b style="background:linear-gradient(#00dcff,#0ff 17px,#00ffe3 26px,#0f0 80px,#64ff00 125px)"></b><b style="background:linear-gradient(#00deff,#0ff 17px,#00fffd 18px,#00ffe4 26px,#0f0 79px,#67ff00 125px)"></b><b style="background:linear-gradient(#00dfff,#0ff 16px,#00ffe2 26px,#0f0 78px,#69ff00 125px)"></b><b style="background:linear-gradient(#00e0ff,#0ff 15px,#00fffc 16px,#00ffe3 24px,#0f0 77px,#6cff00 125px)"></b><b style="background:linear-gradient(#00e1ff,#0ff 14px,#00fffb 16px,#00ffe1 24px,#0f0 76px,#6fff00 125px)"></b><b style="background:linear-gradient(#00e3ff,#0ff 14px,#00fff9 16px,#00ffdf 24px,#0f0 75px,#72ff00 125px)"></b><b style="background:linear-gradient(#00e4ff,#0ff 13px,#00fffa 16px,#00ffe0 24px,#0f0 74px,#75ff00 125px)"></b><b style="background:linear-gradient(#00e5ff,#0ff 12px,#00fff9 16px,#00ffde 24px,#0f0 73px,#78ff00 125px)"></b><b style="background:linear-gradient(#00e7ff,#0ff 12px,#00fff7 16px,#00ffe0 22px,#0f0 73px,#7aff00 125px)"></b><b style="background:linear-gradient(#00e8ff,#0ff 11px,#00fff8 14px,#00ffde 22px,#0f0 72px,#7dff00 125px)"></b><b style="background:linear-gradient(#00e9ff,#0ff 10px,#00fff7 14px,#00ffdf 22px,#0f0 71px,#80ff00 125px)"></b><b style="background:linear-gradient(#00ebff,#0ff 10px,#00fff5 14px,#0fd 22px,#0f0 70px,#83ff00 125px)"></b><b style="background:linear-gradient(#00ecff,#0ff 9px,#00fff4 14px,#00ffdf 20px,#0f0 69px,#4cff00 98px,#86ff00 125px)"></b><b style="background:linear-gradient(#00edff,#0ff 9px,#00fff5 14px,#0fd 20px,#0f0 68px,#4cff00 98px,#89ff00 125px)"></b><b style="background:linear-gradient(#0ef,#0ff 8px,#00fff3 14px,#00ffe0 20px,#0f0 67px,#4dff00 96px,#8bff00 125px)"></b><b style="background:linear-gradient(#00f0ff,#0ff 7px,#00fff2 14px,#00ffde 20px,#0f0 66px,#4fff00 96px,#8eff00 125px)"></b><b style="background:linear-gradient(#00f1ff,#0ff 7px,#00fff1 14px,#00ffdc 20px,#0f0 66px,#52ff00 96px,#91ff00 125px)"></b><b style="background:linear-gradient(#00f2ff,#0ff 5px,#00ffde 18px,#0f0 65px,#5f0 96px,#94ff00 125px)"></b><b style="background:linear-gradient(#00f4ff,#0ff 5px,#0fe 14px,#00ffdc 18px,#0f0 64px,#5f0 96px,#97ff00 125px)"></b><b style="background:linear-gradient(#00f5ff,#0ff 5px,#00ffef 12px,#00ffdb 18px,#0f0 63px,#57ff00 96px,#9f0 125px)"></b><b style="background:linear-gradient(#00f6ff,#0ff 4px,#0fd 18px,#0f0 62px,#57ff00 94px,#9cff00 125px)"></b><b style="background:linear-gradient(#00f8ff,#0ff 3px,#00ffdb 18px,#0f0 62px,#5aff00 94px,#9fff00 125px)"></b><b style="background:linear-gradient(#00f9ff,#0ff 2px,#00ffda 18px,#0f0 61px,#5dff00 94px,#a2ff00 125px)"></b><b style="background:linear-gradient(#00faff,#0ff 2px,#00ffd8 18px,#0f0 60px,#5dff00 94px,#a5ff00 125px)"></b><b style="background:linear-gradient(#00fbff,#0ff 2px,#00ffe8 12px,#00ffd6 18px,#0f0 60px,#5fff00 94px,#a8ff00 125px)"></b><b style="background:linear-gradient(#00fdff,#0ff 1px,#00ffd9 16px,#0f0 59px,#62ff00 94px,#af0 125px)"></b><b style="background:linear-gradient(#00feff,#0ff 0px,#00ffd7 16px,#0f0 58px,#62ff00 92px,#adff00 125px)"></b><b style="background:linear-gradient(#0ff,#00ffd6 16px,#0f0 57px,#62ff00 92px,#b0ff00 125px)"></b><b style="background:linear-gradient(#00fffe,#00ffd4 16px,#0f0 57px,#67ff00 92px,#b3ff00 125px)"></b><b style="background:linear-gradient(#00fffd,#00ffd3 16px,#0f0 56px,#67ff00 92px,#b6ff00 125px)"></b><b style="background:linear-gradient(#00fffb,#00ffd1 16px,#0f0 55px,#67ff00 90px,#b9ff00 125px)"></b><b style="background:linear-gradient(#00fffa,#00ffcf 16px,#0f0 55px,#6cff00 92px,#bf0 125px)"></b><b style="background:linear-gradient(#00fff9,#00ffce 16px,#0f0 54px,#6cff00 90px,#beff00 125px)"></b><b style="background:linear-gradient(#00fff8,#00ffd1 16px,#0f0 53px,#6cff00 90px,#c1ff00 125px)"></b><b style="background:linear-gradient(#00fff7,#00ffcf 16px,#0f0 53px,#71ff00 90px,#c4ff00 125px)"></b><b style="background:linear-gradient(#00fff6,#00ffce 16px,#0f0 52px,#71ff00 90px,#c7ff00 125px)"></b><b style="background:linear-gradient(#00fff5,#0fc 16px,#0f0 52px,#05ff00 52px,#74ff00 90px,#caff00 125px)"></b><b style="background:linear-gradient(#00fff4,#00ffcb 16px,#0f0 51px,#76ff00 90px,#cf0 125px)"></b><b style="background:linear-gradient(#00fff3,#00ffc9 16px,#0f0 50px,#76ff00 88px,#cfff00 125px)"></b><b style="background:linear-gradient(#00fff2,#00ffc8 16px,#0f0 50px,#79ff00 88px,#d2ff00 125px)"></b><b style="background:linear-gradient(#00fff1,#00ffc6 16px,#0f0 49px,#7bff00 88px,#d5ff00 125px)"></b><b style="background:linear-gradient(#00fff0,#00ffc5 16px,#00ff2c 40px,#0f0 49px,#05ff00 50px,#7eff00 88px,#d8ff00 125px)"></b><b style="background:linear-gradient(#00ffef,#00ffc3 16px,#0f0 48px,#7eff00 88px,#daff00 125px)"></b><b style="background:linear-gradient(#0fe,#00ffc2 16px,#00ff2c 40px,#0f0 48px,#05ff00 48px,#80ff00 88px,#df0 125px)"></b><b style="background:linear-gradient(#00ffed,#00ffc0 16px,#0f0 47px,#83ff00 88px,#e0ff00 125px)"></b><b style="background:linear-gradient(#00ffeb,#00ffbf 16px,#00ff2c 38px,#0f0 46px,#06ff00 48px,#85ff00 88px,#e3ff00 125px)"></b><b style="background:linear-gradient(#00ffea,#00ffbd 16px,#00ff35 36px,#0f0 46px,#85ff00 86px,#e6ff00 125px)"></b><b style="background:linear-gradient(#00ffe9,#00ffbc 16px,#00ff2c 38px,#0f0 45px,#06ff00 46px,#8f0 86px,#e9ff00 125px)"></b><b style="background:linear-gradient(#00ffe8,#00ffbf 14px,#00ff2f 36px,#0f0 45px,#05ff00 46px,#87ff00 86px,#ebff00 125px)"></b><b style="background:linear-gradient(#00ffe7,#00ffbe 14px,#00ff26 38px,#0f0 44px,#07ff00 46px,#8aff00 86px,#ef0 125px)"></b><b style="background:linear-gradient(#00ffe6,#00ffbd 14px,#00ff30 36px,#0f0 44px,#05ff00 44px,#8cff00 86px,#f1ff00 125px)"></b><b style="background:linear-gradient(#00ffe5,#0fb 14px,#00ff26 36px,#0f0 43px,#07ff00 44px,#8fff00 86px,#f4ff00 125px)"></b><b style="background:linear-gradient(#00ffe4,#00ffba 14px,#00ff31 34px,#0f0 43px,#05ff00 44px,#8eff00 84px,#f7ff00 125px)"></b><b style="background:linear-gradient(#00ffe3,#00ffb8 14px,#00ff27 36px,#0f0 42px,#07ff00 44px,#91ff00 84px,#faff00 125px)"></b><b style="background:linear-gradient(#00ffe2,#00ffb7 14px,#00ff32 34px,#0f0 42px,#05ff00 42px,#93ff00 84px,#fcff00 125px)"></b><b style="background:linear-gradient(#00ffe1,#00ffb5 14px,#00ff28 34px,#0f0 41px,#07ff00 42px,#93ff00 84px,#ff0 125px,#fffe00 125px)"></b><b style="background:linear-gradient(#00ffe0,#00ffb4 14px,#0f3 32px,#0f0 41px,#92ff00 82px,#ff0 123px,#fff900 125px)"></b><b style="background:linear-gradient(#00ffdf,#00ffb2 14px,#00ff29 34px,#0f0 40px,#07ff00 42px,#92ff00 82px,#ff0 121px,#fff500 125px)"></b><b style="background:linear-gradient(#00ffde,#00ffb1 14px,#00ff2e 32px,#0f0 40px,#8eff00 80px,#ff0 120px,#fff000 125px)"></b><b style="background:linear-gradient(#0fd,#00ffaf 14px,#00ff2b 32px,#0f0 39px,#06ff00 40px,#8dff00 78px,#ff0 118px,#ffea00 125px)"></b><b style="background:linear-gradient(#00ffdb,#00ffae 14px,#00ff2f 32px,#0f0 39px,#89ff00 76px,#ff0 118px,#ffe500 125px)"></b><b style="background:linear-gradient(#00ffda,#00ffad 14px,#00ff2d 32px,#0f0 39px,#06ff00 40px,#8f0 76px,#ff0 117px,#ffe000 125px)"></b><b style="background:linear-gradient(#00ffd9,#00ffab 14px,#00ff31 30px,#0f0 38px,#87ff00 74px,#ff0 116px,#ffdb00 125px)"></b><b style="background:linear-gradient(#00ffd8,#0fa 14px,#00ff27 32px,#0f0 38px,#05ff00 38px,#87ff00 74px,#ff0 114px,#ffd600 125px)"></b><b style="background:linear-gradient(#00ffd7,#00ffa8 14px,#00ff24 32px,#0f0 37px,#07ff00 38px,#85ff00 72px,#ff0 113px,#ffd100 125px)"></b><b style="background:linear-gradient(#00ffd6,#00ffa7 14px,#00ff29 30px,#0f0 37px,#81ff00 70px,#ff0 112px,#fc0 125px)"></b><b style="background:linear-gradient(#00ffd5,#00ffa5 14px,#00ff27 30px,#0f0 36px,#06ff00 38px,#80ff00 70px,#ff0 111px,#ffc700 125px)"></b><b style="background:linear-gradient(#00ffd4,#00ffa4 14px,#00ff2c 30px,#0f0 36px,#93ff00 74px,#ff0 110px,#ffc200 125px)"></b><b style="background:linear-gradient(#00ffd3,#00ffa2 14px,#00ff29 30px,#0f0 36px,#06ff00 36px,#92ff00 74px,#ff0 109px,#ffbd00 125px)"></b><b style="background:linear-gradient(#00ffd2,#00ffa1 14px,#00ff1f 30px,#0f0 35px,#07ff00 36px,#95ff00 74px,#ff0 108px,#ffb800 125px)"></b><b style="background:linear-gradient(#00ffd1,#00ff9f 14px,#00ff24 30px,#0f0 35px,#94ff00 72px,#ff0 107px,#ffb300 125px)"></b><b style="background:linear-gradient(#00ffd0,#00ff9e 14px,#00ff21 30px,#0f0 35px,#06ff00 36px,#93ff00 72px,#ff0 106px,#ffae00 125px)"></b><b style="background:linear-gradient(#00ffcf,#00ff9d 14px,#00ff27 28px,#0f0 34px,#95ff00 72px,#ff0 105px,#ffa900 125px)"></b><b style="background:linear-gradient(#00ffce,#00ff9b 14px,#00ff24 28px,#0f0 34px,#94ff00 70px,#ff0 104px,#ffa400 125px)"></b><b style="background:linear-gradient(#0fc,#00ff9a 14px,#00ff1a 30px,#0f0 33px,#07ff00 34px,#96ff00 70px,#ff0 103px,#ff9f00 125px)"></b><b style="background:linear-gradient(#00ffcb,#00ff98 14px,#00ff27 28px,#0f0 33px,#95ff00 70px,#ff0 102px,#ff9a00 125px)"></b><b style="background:linear-gradient(#00ffca,#00ff97 14px,#00ff1d 28px,#0f0 33px,#06ff00 34px,#93ff00 68px,#ff0 101px,#fffb00 102px,#ff9500 125px)"></b><b style="background:linear-gradient(#00ffc9,#00ff95 14px,#00ff1a 28px,#0f0 32px,#07ff00 34px,#96ff00 68px,#ff0 100px,#fffb00 102px,#ff9000 125px)"></b><b style="background:linear-gradient(#00ffc8,#00ff94 14px,#00ff20 28px,#0f0 32px,#94ff00 68px,#ff0 99px,#fffb00 100px,#ff8b00 125px)"></b><b style="background:linear-gradient(#00ffc7,#00ff92 14px,#00ff1e 28px,#0f0 32px,#06ff00 32px,#97ff00 68px,#ff0 98px,#fffc00 100px,#ff8600 125px)"></b><b style="background:linear-gradient(#00ffc6,#00ff91 14px,#00ff1b 28px,#0f0 31px,#07ff00 32px,#95ff00 66px,#ff0 98px,#fffc00 98px,#ff8100 125px)"></b><b style="background:linear-gradient(#00ffc5,#00ff8f 14px,#00ff21 26px,#0f0 31px,#94ff00 66px,#ff0 97px,#ff7c00 125px)"></b><b style="background:linear-gradient(#00ffc4,#00ff8e 14px,#00ff16 28px,#0f0 31px,#06ff00 32px,#96ff00 66px,#ff0 96px,#fff900 98px,#f70 125px)"></b><b style="background:linear-gradient(#00ffc3,#00ff8d 14px,#00ff14 28px,#0f0 30px,#07ff00 32px,#98ff00 66px,#ff0 95px,#fff900 96px,#ff7200 125px)"></b><b style="background:linear-gradient(#00ffc2,#00ff8b 14px,#00ff1a 26px,#0f0 30px,#96ff00 64px,#ff0 94px,#fffa00 96px,#ff6d00 125px)"></b><b style="background:linear-gradient(#00ffc1,#00ff8a 14px,#00ff18 26px,#0f0 30px,#95ff00 64px,#ff0 93px,#fffb00 94px,#ff6800 125px)"></b><b style="background:linear-gradient(#00ffc0,#0f8 14px,#00ff15 26px,#0f0 30px,#07ff00 30px,#97ff00 64px,#ff0 92px,#fffb00 94px,#ff6300 125px)"></b><b style="background:linear-gradient(#00ffbf,#00ff87 14px,#00ff13 26px,#0f0 29px,#08ff00 30px,#9f0 64px,#ff0 92px,#fff800 94px,#ff5e00 125px)"></b><b style="background:linear-gradient(#00ffbe,#00ff85 14px,#00ff1a 26px,#0f0 29px,#97ff00 62px,#ff0 91px,#fff900 92px,#ff5900 125px)"></b><b style="background:linear-gradient(#00ffbc,#00ff84 14px,#00ff18 26px,#0f0 29px,#06ff00 30px,#9aff00 62px,#ff0 90px,#fff900 92px,#ff5400 125px)"></b><b style="background:linear-gradient(#0fb,#00ff82 14px,#00ff15 26px,#0f0 28px,#07ff00 30px,#98ff00 62px,#ff0 89px,#fff600 92px,#ff4f00 125px)"></b><b style="background:linear-gradient(#00ffba,#0f8 14px,#00ff6f 16px,#00ff13 26px,#0f0 28px,#09ff00 30px,#9aff00 62px,#ff0 88px,#fff700 90px,#ff4a00 125px)"></b><b style="background:linear-gradient(#00ffb9,#00ff80 14px,#0f1 26px,#0f0 28px,#98ff00 60px,#ff0 88px,#fff800 90px,#ff4500 125px)"></b><b style="background:linear-gradient(#00ffb8,#00ff85 14px,#00ff6c 16px,#00ff0f 26px,#0f0 28px,#07ff00 28px,#96ff00 60px,#ff0 87px,#fff400 90px,#ff3f00 125px)"></b><b style="background:linear-gradient(#00ffb7,#00ff84 14px,#00ff6b 16px,#00ff0c 26px,#0f0 27px,#08ff00 28px,#98ff00 60px,#ff0 86px,#fff600 88px,#ff3a00 125px)"></b><b style="background:linear-gradient(#00ffb6,#00ff82 14px,#00ff69 16px,#00ff0a 26px,#0f0 27px,#09ff00 28px,#9aff00 60px,#ff0 85px,#fff200 88px,#ff3500 125px)"></b><b style="background:linear-gradient(#00ffb5,#00ff81 14px,#00ff67 16px,#00ff12 24px,#0f0 27px,#98ff00 58px,#ff0 85px,#fff300 88px,#ff3000 125px)"></b><b style="background:linear-gradient(#00ffb4,#00ff7f 14px,#0f6 16px,#00ff0f 24px,#0f0 27px,#07ff00 28px,#9aff00 58px,#ff0 84px,#fff000 88px,#ff2b00 125px)"></b><b style="background:linear-gradient(#00ffb3,#00ff7e 14px,#00ff64 16px,#00ff0d 24px,#0f0 26px,#08ff00 28px,#98ff00 58px,#ff0 83px,#ffec00 88px,#ff2600 125px)"></b><b style="background:linear-gradient(#00ffb2,#00ff7d 14px,#00ff63 16px,#00ff0b 24px,#0f0 26px,#09ff00 28px,#9aff00 58px,#ff0 82px,#ffe900 88px,#ff2100 125px)"></b><b style="background:linear-gradient(#00ffb1,#00ff7b 14px,#00ff61 16px,#00ff13 24px,#0f0 26px,#98ff00 56px,#ff0 82px,#ffea00 86px,#ff1c00 125px)"></b><b style="background:linear-gradient(#00ffb0,#00ff7a 14px,#00ff5f 16px,#0f1 24px,#0f0 26px,#07ff00 26px,#9aff00 56px,#ff0 81px,#ffe700 86px,#ff1700 125px)"></b><b style="background:linear-gradient(#00ffaf,#00ff78 14px,#00ff5e 16px,#00ff0f 24px,#0f0 25px,#08ff00 26px,#97ff00 56px,#ff0 80px,#ffe400 86px,#ff1200 125px)"></b><b style="background:linear-gradient(#00ffad,#0f7 14px,#00ff5c 16px,#00ff0d 24px,#0f0 25px,#09ff00 26px,#9f0 56px,#ff0 79px,#ffe000 86px,#ff0d00 125px)"></b><b style="background:linear-gradient(#00ffac,#00ff76 14px,#00ff5b 16px,#00ff0b 24px,#0f0 25px,#0aff00 26px,#97ff00 54px,#ff0 79px,#fd0 86px,#ff0800 125px)"></b><b style="background:linear-gradient(#00ffab,#00ff74 14px,#00ff59 16px,#00ff09 24px,#0f0 25px,#0cff00 26px,#9f0 54px,#ff0 78px,#ffde00 86px,#ff0400 125px)"></b><b style="background:linear-gradient(#0fa,#00ff73 14px,#00ff57 16px,#0f1 22px,#0f0 25px,#07ff00 26px,#96ff00 54px,#ff0 77px,#ffdb00 86px,#ff0100 125px)"></b><b style="background:linear-gradient(#00ffa9,#00ff71 14px,#00ff56 16px,#00ff0f 22px,#0f0 24px,#08ff00 26px,#98ff00 54px,#ff0 77px,#fd0 84px,#ff0900 122px,#f00 125px)"></b><b style="background:linear-gradient(#00ffa8,#00ff70 14px,#00ff54 16px,#00ff0d 22px,#0f0 24px,#0aff00 26px,#9aff00 54px,#ff0 76px,#ffdf00 84px,#ff0a00 120px,#f00 125px)"></b><b style="background:linear-gradient(#00ffa7,#00ff6f 14px,#00ff53 16px,#00ff0b 22px,#0f0 24px,#0bff00 26px,#97ff00 52px,#ff0 75px,#ffd600 84px,#ff0600 120px,#f00 125px)"></b><b style="background:linear-gradient(#00ffa6,#00ff6d 14px,#00ff51 16px,#00ff0a 22px,#0f0 24px,#0cff00 26px,#95ff00 52px,#ff0 75px,#ffd300 84px,#ff0700 120px,#f00 125px)"></b><b style="background:linear-gradient(#00ffa5,#00ff6c 14px,#00ff4f 16px,#00ff08 22px,#0f0 24px,#0dff00 26px,#97ff00 52px,#ff0 74px,#ffd000 84px,#ff0800 118px,#f00 120px)"></b><b style="background:linear-gradient(#00ffa4,#00ff6a 14px,#0f0 23px,#6bff00 42px,#ff0 74px,#ffd200 84px,#ff0400 118px,#f00 125px)"></b><b style="background:linear-gradient(#00ffa3,#00ff69 14px,#0f0 23px,#72ff00 44px,#ff0 73px,#ffd400 82px,#ff0500 118px,#f00 125px)"></b><b style="background:linear-gradient(#00ffa2,#00ff68 14px,#0f0 23px,#74ff00 44px,#ff0 73px,#ffd100 82px,#ff0600 116px,#f00 125px)"></b><b style="background:linear-gradient(#00ffa1,#0f6 14px,#0f0 23px,#76ff00 44px,#ff0 72px,#ffcd00 82px,#ff0700 116px,#f00 118px)"></b><b style="background:linear-gradient(#00ffa0,#00ff65 14px,#0f0 23px,#78ff00 44px,#ff0 72px,#ffd000 82px,#ff0400 116px,#f00 125px)"></b><b style="background:linear-gradient(#00ff9f,#00ff63 14px,#00ff51 16px,#00ff08 22px,#0f0 23px,#0eff00 24px,#89ff00 46px,#ff0 71px,#ffc700 82px,#ff0a00 114px,#f00 116px)"></b><b style="background:linear-gradient(#00ff9d,#00ff62 14px,#00ff06 22px,#0f0 22px,#0fff00 24px,#86ff00 46px,#ff0 70px,#ffc400 82px,#ff0600 114px,#f00 116px)"></b><b style="background:linear-gradient(#00ff9c,#00ff61 14px,#0f0 22px,#0bff00 24px,#8f0 46px,#ff0 70px,#ffc600 82px,#ff0800 112px,#f00 114px)"></b><b style="background:linear-gradient(#00ff9b,#00ff5f 14px,#00ff4d 16px,#00ff0d 20px,#0f0 22px,#0cff00 24px,#89ff00 46px,#ff0 69px,#ffc300 82px,#ff0a00 112px,#f00 114px)"></b><b style="background:linear-gradient(#00ff9a,#00ff5e 14px,#00ff4b 16px,#00ff0c 20px,#0f0 22px,#0dff00 24px,#8bff00 46px,#ff0 69px,#ffc000 82px,#ff0600 112px,#f00 114px)"></b><b style="background:linear-gradient(#0f9,#00ff5c 14px,#00ff0a 20px,#0f0 22px,#0eff00 24px,#8dff00 46px,#ff0 68px,#ffbd00 82px,#ff0700 110px,#f00 112px)"></b><b style="background:linear-gradient(#00ff98,#00ff5b 14px,#00ff09 20px,#0f0 22px,#0fff00 24px,#8fff00 46px,#ff0 68px,#ffbf00 80px,#ff0900 110px,#f00 112px)"></b><b style="background:linear-gradient(#00ff97,#00ff5a 14px,#00ff07 20px,#0f0 21px,#10ff00 24px,#8bff00 44px,#ff0 67px,#ffbc00 80px,#ff0600 110px,#f00 112px)"></b><b style="background:linear-gradient(#00ff96,#00ff58 14px,#0f0 21px,#1f0 24px,#8dff00 44px,#ff0 67px,#ffb900 80px,#ff0700 108px,#f00 110px)"></b><b style="background:linear-gradient(#00ff95,#00ff57 14px,#0f0 21px,#12ff00 24px,#8fff00 44px,#ff0 66px,#ffb600 80px,#ff0400 108px,#f00 125px)"></b><b style="background:linear-gradient(#00ff94,#0f5 14px,#0f0 21px,#13ff00 24px,#91ff00 44px,#ff0 66px,#ffb300 80px,#ff0600 108px,#f00 110px)"></b><b style="background:linear-gradient(#00ff93,#00ff54 14px,#0f0 21px,#14ff00 24px,#93ff00 44px,#ff0 65px,#ffb600 80px,#ff0800 106px,#f00 108px)"></b><b style="background:linear-gradient(#00ff92,#00ff53 14px,#0f0 21px,#15ff00 24px,#95ff00 44px,#ff0 65px,#ffb300 80px,#ff0400 106px,#f00 125px)"></b><b style="background:linear-gradient(#00ff91,#00ff51 14px,#0f0 20px,#16ff00 24px,#96ff00 44px,#ff0 64px,#ffb000 80px,#ff0600 106px,#f00 108px)"></b><b style="background:linear-gradient(#00ff90,#00ff50 14px,#00ff08 20px,#0f0 20px,#17ff00 24px,#98ff00 44px,#ff0 64px,#ffad00 80px,#ff0800 104px,#f00 106px)"></b><b style="background:linear-gradient(#00ff8f,#00ff4e 14px,#00ff06 20px,#0f0 20px,#18ff00 24px,#9aff00 44px,#ff0 63px,#fa0 80px,#ff0500 104px,#f00 125px)"></b><b style="background:linear-gradient(#00ff8d,#00ff4d 14px,#0f0 20px,#19ff00 24px,#9cff00 44px,#ff0 63px,#ffa700 80px,#ff0700 104px,#f00 106px)"></b><b style="background:linear-gradient(#00ff8c,#00ff52 12px,#00ff42 14px,#0f0 20px,#92ff00 42px,#ff0 63px,#ffa900 78px,#ff0400 104px,#f00 125px)"></b><b style="background:linear-gradient(#00ff8b,#00ff51 12px,#00ff41 14px,#0f0 20px,#93ff00 42px,#ff0 62px,#ffa600 78px,#ff0600 102px,#f00 104px)"></b><b style="background:linear-gradient(#00ff8a,#00ff50 12px,#00ff40 14px,#0f0 20px,#95ff00 42px,#ff0 62px,#ffa400 78px,#ff0300 102px,#f00 125px)"></b><b style="background:linear-gradient(#00ff89,#00ff4e 12px,#00ff3e 14px,#0f0 20px,#97ff00 42px,#ff0 61px,#ffa100 78px,#ff0500 102px,#f00 104px)"></b><b style="background:linear-gradient(#0f8,#00ff4d 12px,#00ff3d 14px,#0f0 20px,#0aff00 20px,#9f0 42px,#ff0 61px,#ff9e00 78px,#ff0800 100px,#f00 102px)"></b><b style="background:linear-gradient(#00ff87,#00ff4c 12px,#00ff3b 14px,#0f0 20px,#0bff00 20px,#9aff00 42px,#ff0 61px,#ff9b00 78px,#ff0500 100px,#f00 125px)"></b><b style="background:linear-gradient(#00ff86,#00ff4a 12px,#00ff3a 14px,#0f0 19px,#0cff00 20px,#9cff00 42px,#ff0 60px,#ff9800 78px,#ff0700 100px,#f00 102px)"></b><b style="background:linear-gradient(#00ff85,#00ff49 12px,#00ff38 14px,#0f0 19px,#0dff00 20px,#9eff00 42px,#ff0 60px,#ff9500 78px,#ff0400 100px,#f00 125px)"></b><b style="background:linear-gradient(#00ff84,#00ff48 12px,#00ff37 14px,#0f0 19px,#0eff00 20px,#a0ff00 42px,#ff0 59px,#ff9200 78px,#ff0600 98px,#f00 100px)"></b><b style="background:linear-gradient(#00ff83,#00ff46 12px,#0f0 19px,#0fff00 20px,#a1ff00 42px,#ff0 59px,#ff8f00 78px,#ff0400 98px,#f00 125px)"></b><b style="background:linear-gradient(#00ff82,#00ff45 12px,#0f0 19px,#10ff00 20px,#a3ff00 42px,#ff0 58px,#ff8c00 78px,#ff0600 98px,#f00 100px)"></b><b style="background:linear-gradient(#00ff81,#00ff43 12px,#0f0 19px,#1f0 20px,#a5ff00 42px,#ff0 58px,#ff8900 78px,#ff0300 98px,#f00 125px)"></b><b style="background:linear-gradient(#00ff80,#00ff42 12px,#00ff31 14px,#0f0 19px,#0aff00 20px,#a7ff00 42px,#ff0 58px,#ff8600 78px,#ff0600 96px,#f00 98px)"></b><b style="background:linear-gradient(#00ff7e,#00ff41 12px,#0f0 18px,#0bff00 20px,#a8ff00 42px,#ff0 57px,#ff8300 78px,#ff0300 96px,#f00 125px)"></b><b style="background:linear-gradient(#00ff7d,#00ff3f 12px,#00ff2e 14px,#0f0 18px,#29ff00 24px,#b7ff00 44px,#ff0 57px,#ff8000 78px,#ff0600 96px,#f00 98px)"></b><b style="background:linear-gradient(#00ff7c,#00ff3e 12px,#00ff2d 14px,#0f0 18px,#2aff00 24px,#b9ff00 44px,#ff0 56px,#ff7d00 78px,#ff0300 96px,#f00 125px)"></b><b style="background:linear-gradient(#00ff7b,#00ff3d 12px,#0f0 18px,#2bff00 24px,#b4ff00 44px,#ff0 56px,#ff7a00 78px,#ff0600 94px,#f00 96px)"></b><b style="background:linear-gradient(#00ff7a,#00ff3b 12px,#0f0 18px,#0fff00 20px,#afff00 42px,#ff0 56px,#f70 78px,#ff0300 94px,#f00 125px)"></b><b style="background:linear-gradient(#00ff79,#00ff3a 12px,#0f0 18px,#10ff00 20px,#b1ff00 42px,#ff0 55px,#ff7400 78px,#ff0600 94px,#f00 96px)"></b><b style="background:linear-gradient(#00ff78,#00ff39 12px,#0f0 18px,#1f0 20px,#b3ff00 42px,#ff0 55px,#f70 78px,#ff0300 94px,#f00 125px)"></b><b style="background:linear-gradient(#0f7,#00ff37 12px,#0f0 18px,#12ff00 20px,#b5ff00 42px,#ff0 55px,#ff7400 78px,#ff0600 92px,#f00 94px)"></b><b style="background:linear-gradient(#00ff76,#00ff36 12px,#0f0 18px,#13ff00 20px,#b7ff00 42px,#ff0 54px,#ff7100 78px,#ff0400 92px,#f00 125px)"></b><b style="background:linear-gradient(#00ff75,#00ff35 12px,#0f0 18px,#14ff00 20px,#b8ff00 42px,#ff0 54px,#ff6e00 78px,#ff0100 92px,#f00 125px)"></b><b style="background:linear-gradient(#00ff74,#0f3 12px,#0f0 17px,#15ff00 20px,#baff00 42px,#ff0 54px,#ff6b00 78px,#ff0400 92px,#f00 125px)"></b><b style="background:linear-gradient(#00ff73,#00ff32 12px,#0f0 17px,#16ff00 20px,#bcff00 42px,#ff0 53px,#ff6800 78px,#ff0200 92px,#f00 125px)"></b><b style="background:linear-gradient(#00ff72,#00ff30 12px,#0f0 17px,#17ff00 20px,#beff00 42px,#ff0 53px,#ff6500 78px,#ff0500 90px,#f00 125px)"></b><b style="background:linear-gradient(#00ff71,#00ff2f 12px,#0f0 17px,#17ff00 20px,#bfff00 42px,#ff0 53px,#ff6300 78px,#ff0200 90px,#f00 125px)"></b><b style="background:linear-gradient(#00ff70,#00ff2e 12px,#0f0 17px,#18ff00 20px,#c1ff00 42px,#ff0 52px,#ff6000 78px,#ff0500 90px,#f00 92px)"></b><b style="background:linear-gradient(#00ff6e,#00ff2c 12px,#0f0 17px,#19ff00 20px,#c3ff00 42px,#ff0 52px,#ff5d00 78px,#ff0300 90px,#f00 125px)"></b><b style="background:linear-gradient(#00ff6d,#00ff2b 12px,#0f0 17px,#1aff00 20px,#c5ff00 42px,#ff0 52px,#ff5a00 78px,#ff0100 90px,#f00 125px)"></b><b style="background:linear-gradient(#00ff6c,#00ff2a 12px,#0f0 17px,#1bff00 20px,#c6ff00 42px,#ff0 51px,#ff5700 78px,#ff0400 88px,#f00 125px)"></b><b style="background:linear-gradient(#00ff6b,#00ff28 12px,#0f0 17px,#1cff00 20px,#c8ff00 42px,#ff0 51px,#ff5400 78px,#ff0200 88px,#f00 125px)"></b><b style="background:linear-gradient(#00ff6a,#00ff27 12px,#0f0 17px,#1dff00 20px,#caff00 42px,#ff0 51px,#ff5100 78px,#ff0500 88px,#f00 125px)"></b><b style="background:linear-gradient(#00ff69,#00ff26 12px,#0f0 16px,#1eff00 20px,#cf0 42px,#ff0 50px,#ff4e00 78px,#ff0200 88px,#f00 125px)"></b><b style="background:linear-gradient(#00ff68,#00ff24 12px,#0f0 16px,#1fff00 20px,#cdff00 42px,#ff0 50px,#ff4b00 78px,#ff0100 88px,#f00 125px)"></b><b style="background:linear-gradient(#00ff67,#00ff23 12px,#0f0 16px,#20ff00 20px,#cfff00 42px,#ff0 50px,#ff4800 78px,#ff0300 86px,#f00 125px)"></b><b style="background:linear-gradient(#0f6,#00ff21 12px,#0f0 16px,#21ff00 20px,#d1ff00 42px,#ff0 49px,#ff4500 78px,#ff0100 86px,#f00 125px)"></b><b style="background:linear-gradient(#00ff65,#00ff20 12px,#0f0 16px,#21ff00 20px,#d3ff00 42px,#ff0 49px,#ff4200 78px,#ff0400 86px,#f00 125px)"></b><b style="background:linear-gradient(#00ff64,#00ff1f 12px,#0f0 16px,#2f0 20px,#d4ff00 42px,#ff0 49px,#ff3f00 78px,#ff0200 86px,#f00 125px)"></b><b style="background:linear-gradient(#00ff63,#00ff1d 12px,#0f0 16px,#23ff00 20px,#d6ff00 42px,#ff0 48px,#ff0100 86px,#f00 125px)"></b><b style="background:linear-gradient(#00ff62,#00ff1c 12px,#0f0 16px,#24ff00 20px,#d8ff00 42px,#ff0 48px,#ff3900 78px,#ff0300 84px,#f00 125px)"></b><b style="background:linear-gradient(#00ff61,#00ff1b 12px,#0f0 15px,#25ff00 20px,#e1ff00 44px,#ff0 48px,#ff0200 84px,#f00 125px)"></b><b style="background:linear-gradient(#00ff60,#00ff19 12px,#0f0 15px,#26ff00 20px,#dbff00 42px,#ff0 48px,#ff0500 84px,#f00 84px)"></b><b style="background:linear-gradient(#00ff5e,#00ff18 12px,#0f0 15px,#27ff00 20px,#e5ff00 44px,#ff0 47px,#ff0300 84px,#f00 125px)"></b><b style="background:linear-gradient(#00ff5d,#00ff17 12px,#0f0 15px,#28ff00 20px,#e6ff00 44px,#ff0 47px,#ff0100 84px,#f00 125px)"></b><b style="background:linear-gradient(#00ff5c,#00ff15 12px,#0f0 15px,#e8ff00 44px,#ff0 47px,#ff0400 82px,#f00 125px)"></b><b style="background:linear-gradient(#00ff5b,#00ff14 12px,#0f0 15px,#eaff00 44px,#ff0 46px,#ff0200 82px,#f00 125px)"></b><b style="background:linear-gradient(#00ff5a,#00ff13 12px,#0f0 15px,#ecff00 44px,#ff0 46px,#ff0100 82px,#f00 125px)"></b><b style="background:linear-gradient(#00ff59,#0f1 12px,#0f0 15px,#ef0 44px,#ff0 46px,#ff0400 82px,#f00 125px)"></b><b style="background:linear-gradient(#00ff58,#00ff10 12px,#0f0 14px,#efff00 44px,#ff0 46px,#ff0200 82px,#f00 125px)"></b><b style="background:linear-gradient(#00ff57,#00ff0f 12px,#0f0 14px,#f1ff00 44px,#ff0 45px,#f00 82px)"></b><b style="background:linear-gradient(#00ff56,#00ff0d 12px,#0f0 14px,#f3ff00 44px,#ff0 45px,#ff0300 80px,#f00 125px)"></b><b style="background:linear-gradient(#0f5,#00ff0c 12px,#0f0 14px,#f5ff00 44px,#ff0 45px,#ff0200 80px,#f00 125px)"></b><b style="background:linear-gradient(#00ff54,#00ff0b 12px,#0f0 14px,#f7ff00 44px,#ff0 45px,#f00 80px)"></b><b style="background:linear-gradient(#00ff53,#0f0 14px,#f8ff00 44px,#ff0 44px,#ff0300 80px,#f00 125px)"></b><b style="background:linear-gradient(#00ff52,#0f0 14px,#ff0 44px,#ff0100 80px,#f00 125px)"></b><b style="background:linear-gradient(#00ff51,#0f0 13px,#ff0 44px,#ff0500 78px,#f00 125px)"></b><b style="width:2px;background:linear-gradient(#00ff50,#0f0 13px,#ff0 44px,#ff0300 78px,#f00 125px)"></b></div>
<div class="fr r2" style="left:1089px;top:1438px;width:1055px;height:292px"><i style="background:linear-gradient(90deg,#000cff,#0ff 623px,#00ff30 1055px)"></i><i style="background:linear-gradient(90deg,#000cff,#0ff 614px,#0ff 614px,#00ff2b 1055px)"></i><i style="background:linear-gradient(90deg,#000cff,#0ff 605px,#00ff24 1055px)"></i><i style="background:linear-gradient(90deg,#000cff,#00feff 594px,#0ff 596px,#00ff1e 1055px)"></i><i style="background:linear-gradient(90deg,#000cff,#0ff 586px,#00ff17 1055px)"></i><i style="background:linear-gradient(90deg,#000cff,#0ff 577px,#0f1 1055px)"></i><i style="background:linear-gradient(90deg,#000cff,#0ff 566px,#0ff 567px,#00ff0a 1055px)"></i><i style="background:linear-gradient(90deg,#000cff,#0ff 558px,#00ff04 1055px)"></i><i style="background:linear-gradient(90deg,#000cff,#0ff 549px,#0f0 1049px,#03ff00 1055px)"></i><i style="background:linear-gradient(90deg,#000cff,#0ff 540px,#0f0 1033px,#0bff00 1055px)"></i><i style="background:linear-gradient(90deg,#000cff,#0ff 531px,#00fffe 532px,#0f0 1018px,#14ff00 1055px)"></i><i style="background:linear-gradient(90deg,#000cff,#0ff 522px,#00fffe 524px,#0f0 1003px,#1cff00 1055px)"></i><i style="background:linear-gradient(90deg,#000cff,#0ff 514px,#00fffe 516px,#0f0 988px,#24ff00 1055px)"></i><i style="background:linear-gradient(90deg,#000cff,#0ff 505px,#00fffe 508px,#0f0 974px,#2cff00 1055px)"></i><i style="background:linear-gradient(90deg,#000cff,#0ff 497px,#00fffe 498px,#0f0 960px,#34ff00 1055px)"></i><i style="background:linear-gradient(90deg,#000cff,#0ff 489px,#00fffe 490px,#0f0 946px,#3dff00 1055px)"></i><i style="background:linear-gradient(90deg,#000cff,#0ff 481px,#00fffe 482px,#0f0 933px,#45ff00 1055px)"></i><i style="background:linear-gradient(90deg,#000cff,#0ff 473px,#00fffe 474px,#0f0 920px,#4dff00 1055px)"></i><i style="background:linear-gradient(90deg,#000cff,#0ff 466px,#0f0 907px,#5f0 1055px)"></i><i style="background:linear-gradient(90deg,#000cff,#0ff 458px,#00fffe 460px,#0f0 895px,#5eff00 1055px)"></i><i style="background:linear-gradient(90deg,#000cff,#0ff 451px,#0f0 883px,#6f0 1055px)"></i><i style="background:linear-gradient(90deg,#000cff,#0ff 444px,#0f0 871px,#6eff00 1055px)"></i><i style="background:linear-gradient(90deg,#000cff,#0ff 438px,#0f0 859px,#76ff00 1055px)"></i><i style="background:linear-gradient(90deg,#000cff,#0ff 431px,#00ff02 834px,#0f0 838px,#7fff00 1055px)"></i><i style="background:linear-gradient(90deg,#000cff,#00feff 424px,#0ff 424px,#00ff02 822px,#0f0 825px,#87ff00 1055px)"></i><i style="background:linear-gradient(90deg,#000cff,#0ff 418px,#00ff02 808px,#0f0 812px,#8fff00 1055px)"></i><i style="background:linear-gradient(90deg,#000cff,#00feff 410px,#0ff 412px,#00ff02 796px,#0f0 800px,#97ff00 1055px)"></i><i style="background:linear-gradient(90deg,#000cff,#00feff 404px,#0ff 406px,#00ff02 784px,#0f0 787px,#a0ff00 1055px)"></i><i style="background:linear-gradient(90deg,#000cff,#00feff 398px,#0ff 400px,#00ff02 772px,#0f0 775px,#a8ff00 1055px)"></i><i style="background:linear-gradient(90deg,#000cff,#0ff 394px,#0f0 763px,#01ff00 766px,#b0ff00 1055px)"></i><i style="background:linear-gradient(90deg,#000cff,#0ff 389px,#0f0 752px,#01ff00 754px,#b8ff00 1055px)"></i><i style="background:linear-gradient(90deg,#000cff,#0ff 383px,#0f0 741px,#01ff00 742px,#c1ff00 1055px)"></i><i style="background:linear-gradient(90deg,#000cff,#0ff 378px,#0f0 730px,#01ff00 730px,#c9ff00 1055px)"></i><i style="background:linear-gradient(90deg,#000cff,#0ff 373px,#0f0 719px,#01ff00 720px,#d1ff00 1055px)"></i><i style="background:linear-gradient(90deg,#000cff,#0ff 368px,#0f0 709px,#01ff00 710px,#d9ff00 1055px)"></i><i style="background:linear-gradient(90deg,#000cff,#0ff 363px,#0f0 698px,#01ff00 700px,#e1ff00 1055px)"></i><i style="background:linear-gradient(90deg,#000cff,#0ff 358px,#0f0 688px,#01ff00 690px,#eaff00 1055px)"></i><i style="background:linear-gradient(90deg,#000cff,#0ff 353px,#0f0 679px,#f2ff00 1055px)"></i><i style="background:linear-gradient(90deg,#000cff,#0ff 349px,#0f0 669px,#01ff00 670px,#faff00 1055px)"></i><i style="background:linear-gradient(90deg,#000cff,#0ff 344px,#0f0 660px,#ff0 1051px,#fffc00 1055px)"></i><i style="background:linear-gradient(90deg,#000cff,#0ff 340px,#0f0 651px,#ff0 1039px,#fff500 1055px)"></i><i style="background:linear-gradient(90deg,#000cff,#0ff 335px,#0f0 642px,#01ff00 644px,#ff0 1028px,#ffed00 1055px)"></i><i style="background:linear-gradient(90deg,#000cff,#0ff 331px,#0f0 634px,#ff0 1017px,#ffe600 1055px)"></i><i style="background:linear-gradient(90deg,#000cff,#0ff 327px,#0f0 625px,#01ff00 626px,#ff0 1006px,#ffde00 1055px)"></i><i style="background:linear-gradient(90deg,#000cff,#0ff 323px,#0f0 617px,#ff0 996px,#ffd700 1055px)"></i><i style="background:linear-gradient(90deg,#000cff,#0ff 319px,#0f0 609px,#ff0 985px,#ffd000 1055px)"></i><i style="background:linear-gradient(90deg,#000cff,#0ff 315px,#0f0 601px,#01ff00 602px,#ff0 975px,#ffc800 1055px)"></i><i style="background:linear-gradient(90deg,#000cff,#0ff 312px,#0f0 594px,#01ff00 594px,#ff0 965px,#ffc100 1055px)"></i><i style="background:linear-gradient(90deg,#000cff,#0ff 308px,#0f0 586px,#ff0 955px,#ffba00 1055px)"></i><i style="background:linear-gradient(90deg,#000cff,#0ff 304px,#0f0 579px,#01ff00 580px,#ff0 945px,#ffb200 1055px)"></i><i style="background:linear-gradient(90deg,#000cff,#0ff 301px,#0f0 572px,#01ff00 572px,#ff0 935px,#ffab00 1055px)"></i><i style="background:linear-gradient(90deg,#000cff,#0ff 297px,#0f0 564px,#01ff00 566px,#ff0 925px,#ffa300 1055px)"></i><i style="background:linear-gradient(90deg,#000cff,#0ff 294px,#0f0 557px,#01ff00 558px,#ff0 916px,#ff9c00 1055px)"></i><i style="background:linear-gradient(90deg,#000cff,#0ff 291px,#0f0 551px,#01ff00 552px,#fcff00 894px,#ff0 899px,#ff9500 1055px)"></i><i style="background:linear-gradient(90deg,#000cff,#0ff 288px,#0f0 544px,#01ff00 546px,#fcff00 884px,#ff0 888px,#ff8d00 1055px)"></i><i style="background:linear-gradient(90deg,#000dff,#0ff 285px,#0f0 538px,#01ff00 538px,#fcff00 874px,#ff0 877px,#ff8600 1055px)"></i><i style="background:linear-gradient(90deg,#000dff,#0ff 281px,#0f0 531px,#01ff00 532px,#fdff00 864px,#ff0 867px,#ff7e00 1055px)"></i><i style="background:linear-gradient(90deg,#000dff,#0ff 278px,#0f0 525px,#02ff00 526px,#fcff00 852px,#ff0 856px,#f70 1055px)"></i><i style="background:linear-gradient(90deg,#000dff,#0ff 276px,#0f0 519px,#02ff00 520px,#fdff00 842px,#ff0 846px,#ff7000 1055px)"></i><i style="background:linear-gradient(90deg,#000dff,#0ff 273px,#0f0 513px,#02ff00 516px,#fdff00 832px,#ff0 835px,#ff6800 1055px)"></i><i style="background:linear-gradient(90deg,#000dff,#0ff 270px,#0f0 507px,#02ff00 510px,#fdff00 822px,#ff0 825px,#ff6100 1055px)"></i><i style="background:linear-gradient(90deg,#000dff,#0ff 267px,#0f0 502px,#03ff00 504px,#feff00 812px,#ff0 814px,#ff5900 1055px)"></i><i style="background:linear-gradient(90deg,#000dff,#0ff 264px,#0f0 497px,#03ff00 500px,#feff00 802px,#ff0 804px,#ff5200 1055px)"></i><i style="background:linear-gradient(90deg,#000dff,#0ff 262px,#0f0 491px,#03ff00 494px,#feff00 792px,#ff0 794px,#ff4b00 1055px)"></i><i style="background:linear-gradient(90deg,#000dff,#0ff 259px,#0f0 486px,#04ff00 490px,#feff00 782px,#ff0 784px,#ff4300 1055px)"></i><i style="background:linear-gradient(90deg,#000dff,#0ff 257px,#0f0 481px,#04ff00 484px,#feff00 772px,#ff0 775px,#ff3c00 1055px)"></i><i style="background:linear-gradient(90deg,#000dff,#0ff 254px,#0f0 477px,#04ff00 480px,#feff00 764px,#ff0 765px,#ff3500 1055px)"></i><i style="background:linear-gradient(90deg,#000dff,#0ff 252px,#0f0 472px,#05ff00 476px,#ff0 755px,#ff2d00 1055px)"></i><i style="background:linear-gradient(90deg,#000dff,#0ff 250px,#0f0 468px,#07ff00 474px,#ff0 746px,#ff2600 1055px)"></i><i style="background:linear-gradient(90deg,#000dff,#0ff 247px,#0f0 462px,#f4ff00 724px,#ff0 739px,#ff1e00 1055px)"></i><i style="background:linear-gradient(90deg,#000dff,#0ff 245px,#0f0 458px,#f6ff00 716px,#ff0 730px,#ff1700 1055px)"></i><i style="background:linear-gradient(90deg,#000dff,#0ff 243px,#0f0 454px,#f8ff00 710px,#ff0 720px,#ff1000 1055px)"></i><i style="background:linear-gradient(90deg,#000dff,#0ff 241px,#0f0 450px,#01ff00 450px,#f8ff00 702px,#ff0 711px,#ff0800 1055px)"></i><i style="background:linear-gradient(90deg,#000dff,#0ff 238px,#0f0 446px,#f9ff00 694px,#ff0 702px,#ff0200 1055px)"></i><i style="background:linear-gradient(90deg,#000dff,#0ff 236px,#0f0 442px,#02ff00 444px,#faff00 686px,#ff0 693px,#ff0800 1036px,#f00 1055px)"></i><i style="background:linear-gradient(90deg,#000dff,#0ff 234px,#0f0 438px,#fbff00 678px,#ff0 684px,#ff0700 1028px,#f00 1055px)"></i><i style="background:linear-gradient(90deg,#000dff,#0ff 232px,#0f0 434px,#fcff00 672px,#ff0 676px,#ff0600 1020px,#f00 1055px)"></i><i style="background:linear-gradient(90deg,#000dff,#0ff 230px,#0f0 431px,#fcff00 664px,#ff0 668px,#ff0600 1010px,#f00 1055px)"></i><i style="background:linear-gradient(90deg,#000dff,#00feff 228px,#0ff 228px,#0f0 427px,#fdff00 658px,#ff0 660px,#ff0600 1000px,#f00 1055px)"></i><i style="background:linear-gradient(90deg,#000dff,#0ff 227px,#0f0 424px,#fdff00 650px,#ff0 653px,#ff0500 990px,#f00 1055px)"></i><i style="background:linear-gradient(90deg,#000dff,#0ff 225px,#0f0 421px,#feff00 644px,#ff0 646px,#ff0500 980px,#f00 1055px)"></i><i style="background:linear-gradient(90deg,#000dff,#0ff 223px,#0f0 418px,#ff0 639px,#ff0400 970px,#f00 1055px)"></i><i style="background:linear-gradient(90deg,#000dff,#0ff 221px,#0f0 415px,#ff0 633px,#ff0400 958px,#f00 1055px)"></i><i style="background:linear-gradient(90deg,#000dff,#0ff 219px,#0f0 411px,#ff0 626px,#ff0400 948px,#f00 1055px)"></i><i style="background:linear-gradient(90deg,#000dff,#0ff 218px,#0f0 409px,#ff0 621px,#ff0300 936px,#f00 1055px)"></i><i style="background:linear-gradient(90deg,#000dff,#0ff 216px,#0f0 406px,#ff0 615px,#ff0300 926px,#f00 1055px)"></i><i style="background:linear-gradient(90deg,#000dff,#0ff 215px,#0f0 403px,#ff0 610px,#ff0300 916px,#f00 1055px)"></i><i style="background:linear-gradient(90deg,#000dff,#0ff 213px,#0f0 400px,#ff0 605px,#fffe00 606px,#ff0300 906px,#f00 1055px)"></i><i style="background:linear-gradient(90deg,#000dff,#0ff 211px,#0f0 398px,#ff0 600px,#fffd00 602px,#ff0200 896px,#f00 1055px)"></i><i style="background:linear-gradient(90deg,#000dff,#0ff 210px,#0f0 395px,#ff0 595px,#fffd00 596px,#ff0200 888px,#f00 1055px)"></i><i style="background:linear-gradient(90deg,#000dff,#0ff 208px,#0f0 393px,#ff0 591px,#fffd00 592px,#ff0100 880px,#f00 1055px)"></i><i style="background:linear-gradient(90deg,#000dff,#0ff 207px,#0f0 390px,#ff0 586px,#fffc00 588px,#ff0100 872px,#f00 1055px)"></i><i style="background:linear-gradient(90deg,#000dff,#0ff 206px,#0f0 388px,#ff0 582px,#fffc00 584px,#ff0100 866px,#f00 1055px)"></i><i style="background:linear-gradient(90deg,#000dff,#0ff 204px,#0f0 385px,#ff0 578px,#fffc00 580px,#ff0100 858px,#f00 1055px)"></i><i style="background:linear-gradient(90deg,#000dff,#0ff 203px,#0f0 383px,#ff0 575px,#fffb00 578px,#ff0100 852px,#f00 1055px)"></i><i style="background:linear-gradient(90deg,#000dff,#0ff 201px,#0f0 381px,#ff0 571px,#fffb00 574px,#f00 846px)"></i><i style="background:linear-gradient(90deg,#000dff,#0ff 200px,#0f0 379px,#ff0 567px,#fffb00 570px,#f00 840px)"></i><i style="background:linear-gradient(90deg,#000dff,#0ff 199px,#0f0 377px,#ff0 564px,#fffa00 568px,#f00 834px)"></i><i style="background:linear-gradient(90deg,#000dff,#0ff 198px,#0f0 375px,#01ff00 376px,#ff0 561px,#fff900 566px,#ff0100 828px,#f00 1055px)"></i><i style="background:linear-gradient(90deg,#000dff,#0ff 196px,#0f0 373px,#feff00 556px,#ff0 556px,#ff0900 812px,#f00 824px)"></i><i style="background:linear-gradient(90deg,#000dff,#0ff 195px,#0f0 371px,#ff0 553px,#ff0700 810px,#f00 818px)"></i><i style="background:linear-gradient(90deg,#000dff,#0ff 194px,#0f0 372px,#ff0 550px,#ff0600 806px,#f00 814px)"></i><i style="background:linear-gradient(90deg,#000dff,#0ff 193px,#0f0 370px,#feff00 546px,#ff0 547px,#ff0600 802px,#f00 810px)"></i><i style="background:linear-gradient(90deg,#000dff,#0ff 192px,#0f0 368px,#feff00 544px,#ff0 545px,#ff0500 798px,#f00 804px)"></i><i style="background:linear-gradient(90deg,#000dff,#0ff 191px,#0f0 366px,#feff00 540px,#ff0 542px,#ff0500 794px,#f00 800px)"></i><i style="background:linear-gradient(90deg,#000dff,#0ff 190px,#00fffe 190px,#0f0 364px,#ff0 539px,#ff0400 790px,#f00 1055px)"></i><i style="background:linear-gradient(90deg,#000dff,#0ff 189px,#00fffe 190px,#0f0 363px,#feff00 536px,#ff0 537px,#ff0400 786px,#f00 1055px)"></i><i style="background:linear-gradient(90deg,#000dff,#0ff 188px,#00fffe 188px,#0f0 361px,#ff0 534px,#ff0400 784px,#f00 1055px)"></i><i style="background:linear-gradient(90deg,#000dff,#0ff 187px,#00fffe 188px,#0f0 359px,#feff00 530px,#ff0 532px,#ff0400 780px,#f00 1055px)"></i><i style="background:linear-gradient(90deg,#000dff,#0ff 186px,#00fffe 186px,#0f0 357px,#feff00 528px,#ff0 529px,#ff0400 776px,#f00 1055px)"></i><i style="background:linear-gradient(90deg,#000dff,#0ff 185px,#0f0 356px,#ff0 527px,#ff0300 774px,#f00 1055px)"></i><i style="background:linear-gradient(90deg,#000dff,#0ff 184px,#0f0 354px,#ff0 525px,#ff0300 770px,#f00 1055px)"></i><i style="background:linear-gradient(90deg,#000dff,#0ff 183px,#0f0 353px,#ff0 523px,#ff0300 768px,#f00 1055px)"></i><i style="background:linear-gradient(90deg,#000dff,#0ff 182px,#0f0 351px,#fdff00 520px,#ff0 521px,#ff0300 764px,#f00 1055px)"></i><i style="background:linear-gradient(90deg,#000dff,#0ff 181px,#0f0 350px,#ff0 519px,#ff0300 762px,#f00 1055px)"></i><i style="background:linear-gradient(90deg,#000dff,#0ff 180px,#0f0 349px,#ff0 517px,#ff0300 758px,#f00 1055px)"></i><i style="background:linear-gradient(90deg,#000dff,#0ff 180px,#0f0 347px,#ff0 515px,#ff0300 756px,#f00 1055px)"></i><i style="background:linear-gradient(90deg,#000dff,#0ff 179px,#0f0 346px,#feff00 512px,#ff0 513px,#ff0300 754px,#f00 1055px)"></i><i style="background:linear-gradient(90deg,#000dff,#0ff 178px,#0f0 345px,#feff00 510px,#ff0 512px,#ff0200 752px,#f00 1055px)"></i><i style="background:linear-gradient(90deg,#000dff,#0ff 177px,#0f0 344px,#ff0 510px,#ff0200 750px,#f00 1055px)"></i><i style="background:linear-gradient(90deg,#000dff,#0ff 177px,#0f0 342px,#feff00 508px,#ff0 508px,#ff0200 746px,#f00 1055px)"></i><i style="background:linear-gradient(90deg,#000dff,#0ff 176px,#0f0 341px,#fdff00 506px,#ff0 507px,#ff0200 744px,#f00 1055px)"></i><i style="background:linear-gradient(90deg,#000dff,#0ff 175px,#0f0 340px,#ff0 505px,#ff0200 742px,#f00 1055px)"></i><i style="background:linear-gradient(90deg,#000dff,#0ff 175px,#0f0 339px,#feff00 502px,#ff0 504px,#ff0200 740px,#f00 1055px)"></i><i style="background:linear-gradient(90deg,#000dff,#0ff 174px,#0f0 338px,#ff0 502px,#ff0300 738px,#f00 1055px)"></i><i style="background:linear-gradient(90deg,#000dff,#0ff 173px,#0f0 337px,#ff0 501px,#ff0200 736px,#f00 1055px)"></i><i style="background:linear-gradient(90deg,#000dff,#0ff 173px,#00fffe 174px,#0f0 336px,#feff00 498px,#ff0 500px,#ff0200 734px,#f00 1055px)"></i><i style="background:linear-gradient(90deg,#000dff,#0ff 172px,#0f0 335px,#ff0 498px,#ff0100 732px,#f00 1055px)"></i><i style="background:linear-gradient(90deg,#000dff,#0ff 172px,#0f0 334px,#ff0 497px,#ff0200 730px,#f00 1055px)"></i><i style="background:linear-gradient(90deg,#000dff,#0ff 171px,#0f0 333px,#feff00 494px,#ff0 496px,#ff0200 728px,#f00 1055px)"></i><i style="background:linear-gradient(90deg,#000dff,#0ff 171px,#0f0 332px,#feff00 494px,#ff0 495px,#ff0200 726px,#f00 1055px)"></i><i style="background:linear-gradient(90deg,#000dff,#0ff 170px,#0f0 332px,#feff00 492px,#ff0 493px,#ff0200 724px,#f00 1055px)"></i><i style="background:linear-gradient(90deg,#000dff,#0ff 170px,#0f0 331px,#ff0 492px,#ff0100 724px,#f00 1055px)"></i><i style="background:linear-gradient(90deg,#000dff,#0ff 169px,#0f0 330px,#ff0 491px,#ff0200 722px,#f00 1055px)"></i><i style="background:linear-gradient(90deg,#000dff,#0ff 169px,#0f0 329px,#ff0 490px,#ff0200 720px,#f00 1055px)"></i><i style="background:linear-gradient(90deg,#000dff,#0ff 168px,#0f0 328px,#ff0 489px,#ff0100 718px,#f00 1055px)"></i><i style="background:linear-gradient(90deg,#000dff,#0ff 168px,#0f0 328px,#ff0 488px,#ff0200 716px,#f00 1055px)"></i><i style="background:linear-gradient(90deg,#000dff,#0ff 167px,#0f0 327px,#ff0 487px,#ff0100 716px,#f00 1055px)"></i><i style="background:linear-gradient(90deg,#000dff,#0ff 167px,#0f0 323px,#ff0 486px,#ff0200 714px,#f00 1055px)"></i><i style="background:linear-gradient(90deg,#000dff,#0ff 166px,#0f0 323px,#ff0 485px,#ff0100 712px,#f00 1055px)"></i><i style="background:linear-gradient(90deg,#000dff,#0ff 166px,#0f0 322px,#ff0 484px,#ff0100 712px,#f00 1055px)"></i><i style="background:linear-gradient(90deg,#000dff,#0ff 166px,#0f0 321px,#feff00 482px,#ff0 483px,#ff0200 710px,#f00 1055px)"></i><i style="background:linear-gradient(90deg,#000dff,#0ff 165px,#0f0 321px,#feff00 482px,#ff0 483px,#ff0100 708px,#f00 1055px)"></i><i style="background:linear-gradient(90deg,#000dff,#0ff 165px,#0f0 320px,#fdff00 480px,#ff0 482px,#ff0100 708px,#f00 1055px)"></i><i style="background:linear-gradient(90deg,#000dff,#0ff 165px,#00ff02 320px,#0f0 321px,#fbff00 480px,#ff0 484px,#ff0200 706px,#f00 1055px)"></i><i style="background:linear-gradient(90deg,#000dff,#0ff 161px,#0f0 331px,#deff00 480px,#ff0 505px,#ff0100 706px,#f00 1055px)"></i></div>
<div class="fk k3" style="left:2144px;top:1313px;width:209px;height:417px"><b style="background:linear-gradient(#00ff6e,#0f0 12px,#f3ff00 40px,#ff0 42px,#ff8700 58px,#f10 72px,#f00 74px,#ff0300 112px,#ff6b00 118px,#ffa200 122px,#ff0 126px,#9eff00 130px,#75ff00 132px,#3eff00 138px,#2fff00 150px,#37ff00 154px,#74ff00 170px,#ff0 197px,#ff8000 238px,#ff0100 272px,#f00 417px)"></b><b style="background:linear-gradient(#00ff6e,#0f0 12px,#f3ff00 40px,#ff0 42px,#ff8100 60px,#ff0e00 72px,#f00 76px,#f00 110px,#f20 114px,#ff8f00 120px,#ff0 126px,#8bff00 130px,#6dff00 132px,#3dff00 140px,#31ff00 150px,#3bff00 154px,#75ff00 170px,#ff0 197px,#ff8000 238px,#ff0100 272px,#f00 417px)"></b><b style="background:linear-gradient(#00ff6d,#0f0 12px,#ff0 42px,#ff8300 60px,#ff1300 72px,#f00 76px,#ff0400 110px,#ff2700 114px,#ff9000 120px,#ff0 126px,#8fff00 130px,#70ff00 132px,#41ff00 140px,#34ff00 150px,#3dff00 154px,#7f0 170px,#ff0 197px,#ff8000 238px,#ff0100 272px,#f00 417px)"></b><b style="background:linear-gradient(#00ff6c,#0f0 12px,#ff0 42px,#ff8400 60px,#ff1900 72px,#f00 78px,#ff0200 110px,#ff2b00 114px,#ff9100 120px,#ff0 126px,#93ff00 130px,#73ff00 132px,#4f0 140px,#3aff00 144px,#36ff00 150px,#41ff00 156px,#78ff00 170px,#ff0 197px,#ff8000 238px,#ff0200 272px,#f00 417px)"></b><b style="background:linear-gradient(#00ff6c,#0f0 12px,#ff0 42px,#ff8600 60px,#ff1e00 72px,#ff0100 78px,#f00 108px,#ff2400 112px,#ff9200 120px,#ff0 126px,#98ff00 130px,#7f0 132px,#4f0 140px,#39ff00 150px,#42ff00 156px,#79ff00 170px,#ff0 197px,#ff8000 238px,#f00 272px)"></b><b style="background:linear-gradient(#00ff6b,#0f0 12px,#ff0 42px,#f80 60px,#ff1c00 74px,#f00 80px,#f00 108px,#ff0600 108px,#ff3400 114px,#ff9400 120px,#ff0 126px,#9cff00 130px,#7aff00 132px,#5cff00 136px,#43ff00 142px,#3cff00 150px,#43ff00 156px,#7bff00 170px,#ff0 196px,#ff8000 238px,#f00 272px)"></b><b style="background:linear-gradient(#00ff6b,#0f0 12px,#0eff00 14px,#ff0 42px,#ff8300 60px,#f20 74px,#f00 82px,#ff0400 108px,#ff2e00 112px,#ff9500 120px,#ff0 126px,#a0ff00 130px,#7eff00 132px,#6f0 136px,#46ff00 142px,#3eff00 150px,#45ff00 156px,#78ff00 170px,#ff0 196px,#ff8000 238px,#f00 272px)"></b><b style="background:linear-gradient(#00ff6a,#0f0 12px,#0eff00 14px,#ff0 42px,#ff8600 60px,#ff2000 74px,#ff0100 84px,#ff0300 106px,#f30 112px,#ff9600 120px,#ff0 126px,#91ff00 132px,#7f0 134px,#45ff00 142px,#41ff00 150px,#46ff00 156px,#79ff00 170px,#ff0 196px,#ff8000 238px,#f00 272px)"></b><b style="background:linear-gradient(#00ff69,#0f0 12px,#0eff00 14px,#ff0 42px,#ff2600 74px,#ff0100 86px,#ff0300 106px,#ff3800 112px,#ff8900 120px,#fe0 126px,#ff0 126px,#95ff00 132px,#7aff00 134px,#47ff00 142px,#4f0 148px,#4bff00 156px,#7fff00 170px,#ff0 196px,#ff8000 238px,#f00 272px)"></b><b style="background:linear-gradient(#00ff69,#0f0 12px,#0eff00 14px,#ff0 42px,#ff2c00 74px,#f00 88px,#f00 104px,#ff2c00 110px,#ff4700 114px,#ff9a00 120px,#ff0 126px,#9aff00 132px,#7fff00 134px,#4cff00 142px,#47ff00 148px,#4cff00 156px,#79ff00 168px,#ff0 196px,#ff8000 238px,#ff0100 272px,#f00 417px)"></b><b style="background:linear-gradient(#00ff68,#0f0 12px,#0eff00 14px,#ff0 42px,#fff500 44px,#ff3200 74px,#ff0100 92px,#ff0500 102px,#ff3900 112px,#ff9d00 120px,#ff0 127px,#9fff00 132px,#83ff00 134px,#54ff00 142px,#4aff00 148px,#51ff00 156px,#7eff00 170px,#ff0 196px,#ff8000 238px,#ff0100 272px,#f00 417px)"></b><b style="background:linear-gradient(#00ff67,#0f0 12px,#0eff00 14px,#ff0 42px,#fff500 44px,#ff3800 74px,#ff2500 80px,#ff0900 92px,#ff0e00 102px,#ff3d00 112px,#ff9f00 120px,#ff0 127px,#a3ff00 132px,#8f0 134px,#59ff00 142px,#4dff00 148px,#5f0 156px,#80ff00 170px,#ff0 196px,#ff8000 238px,#f00 274px)"></b><b style="background:linear-gradient(#00ff67,#0f0 12px,#0eff00 14px,#ff0 42px,#fff500 44px,#ff7a00 64px,#ff3d00 74px,#ff2b00 80px,#f10 92px,#ff1700 102px,#ff4200 112px,#ffa200 120px,#ffed00 126px,#ff0 127px,#a8ff00 132px,#8cff00 134px,#7bff00 136px,#5eff00 142px,#51ff00 148px,#5aff00 156px,#81ff00 170px,#ff0 196px,#ff8000 238px,#f00 274px)"></b><b style="background:linear-gradient(#0f6,#0f0 12px,#0eff00 14px,#ff0 42px,#fff500 44px,#ff7b00 64px,#ff4300 74px,#ff3100 80px,#ff1900 92px,#ff1700 96px,#ff2100 102px,#ff4700 112px,#ffa500 120px,#ff0 127px,#9eff00 132px,#87ff00 134px,#5eff00 142px,#54ff00 148px,#5fff00 156px,#87ff00 170px,#ff0 196px,#ff8000 238px,#ff0100 274px,#f00 417px)"></b><b style="background:linear-gradient(#00ff65,#0f0 12px,#17ff00 14px,#ff0 42px,#fff500 44px,#ff7d00 64px,#ff4900 74px,#ff3700 80px,#ff2100 92px,#ff1e00 96px,#ff2a00 102px,#ff4c00 112px,#ffb500 122px,#ff0 126px,#a3ff00 132px,#8bff00 134px,#63ff00 142px,#57ff00 148px,#63ff00 156px,#8f0 170px,#ff0 196px,#ff8000 238px,#ff0100 274px,#f00 417px)"></b><b style="background:linear-gradient(#00ff65,#0f0 12px,#ff0 42px,#fff500 44px,#ff7500 66px,#ff4000 78px,#ff2900 92px,#ff2600 96px,#ff2d00 100px,#ff5100 112px,#ffb700 122px,#ff0 127px,#8fff00 134px,#6bff00 142px,#5bff00 148px,#8aff00 170px,#ff0 196px,#ff8000 238px,#ff0100 274px,#f00 417px)"></b><b style="background:linear-gradient(#00ff64,#0f0 12px,#ff0 42px,#fff500 44px,#ff7b00 64px,#ff4200 80px,#ff3100 90px,#ff2d00 96px,#ff4800 108px,#f50 112px,#ffb900 122px,#ff0 127px,#93ff00 134px,#7cff00 138px,#5eff00 148px,#8bff00 170px,#ff0 196px,#ff8000 238px,#f00 274px)"></b><b style="background:linear-gradient(#00ff63,#0f0 12px,#ff0 42px,#ff8100 64px,#ff4800 78px,#ff3e00 84px,#ff2f00 96px,#ff5100 110px,#ff6800 114px,#ffaf00 120px,#ff0 127px,#96ff00 134px,#7fff00 138px,#62ff00 148px,#8dff00 170px,#ff0 196px,#ff8000 238px,#f00 274px)"></b><b style="background:linear-gradient(#00ff63,#0f0 12px,#ff0 42px,#ff8100 64px,#ff4900 78px,#ff4000 84px,#ff3200 96px,#ff5400 110px,#ff6a00 114px,#ffb000 120px,#ff0 127px,#9aff00 134px,#82ff00 138px,#6f0 148px,#8eff00 170px,#ff0 196px,#ff8000 238px,#ff0100 274px,#f00 417px)"></b><b style="background:linear-gradient(#00ff62,#0f0 12px,#ff0 42px,#ff7d00 64px,#ff4b00 78px,#ff4200 84px,#ff3400 96px,#ff5600 110px,#ff6c00 114px,#ffb100 120px,#ff0 127px,#9dff00 134px,#82ff00 140px,#69ff00 148px,#8fff00 170px,#ff0 196px,#ff8000 238px,#f00 276px)"></b><b style="background:linear-gradient(#00ff61,#0f0 12px,#ff0 42px,#ff7e00 64px,#ff4d00 78px,#f40 84px,#ff3700 96px,#ff5800 110px,#ff6d00 114px,#ffb300 120px,#ff0 127px,#a1ff00 134px,#85ff00 140px,#6dff00 148px,#74ff00 156px,#91ff00 170px,#afff00 178px,#ff0 196px,#ff8000 238px,#f00 276px)"></b><b style="background:linear-gradient(#00ff61,#0f0 12px,#ff0 42px,#ff7f00 64px,#ff4f00 78px,#ff4600 84px,#ff3a00 96px,#ff5a00 110px,#ff6f00 114px,#ffb400 120px,#ff0 127px,#9cff00 136px,#7f0 144px,#71ff00 148px,#76ff00 156px,#95ff00 172px,#afff00 178px,#ff0 196px,#ff8000 238px,#ff0100 276px,#f00 417px)"></b><b style="background:linear-gradient(#00ff60,#0f0 12px,#ff0 42px,#ff7f00 64px,#ff4900 82px,#ff3d00 96px,#ff5c00 110px,#ff7100 114px,#ffab00 120px,#ff0 127px,#a0ff00 136px,#85ff00 142px,#75ff00 148px,#78ff00 156px,#96ff00 172px,#afff00 178px,#ff0 196px,#fffb00 196px,#ff8000 238px,#f00 276px)"></b><b style="background:linear-gradient(#00ff5f,#0f0 11px,#ff0 42px,#ff8000 64px,#ff4b00 82px,#ff3f00 96px,#ff5e00 110px,#ff7200 114px,#ffac00 120px,#ff0 127px,#a4ff00 136px,#7cff00 146px,#78ff00 152px,#9bff00 172px,#afff00 178px,#ff0 196px,#fffb00 196px,#ff8000 238px,#f00 276px)"></b><b style="background:linear-gradient(#00ff5e,#0f0 11px,#ff0 42px,#ff8100 64px,#ff4d00 82px,#ff4200 96px,#ff6100 110px,#ff7400 114px,#ffae00 120px,#ff0 127px,#a7ff00 136px,#93ff00 140px,#80ff00 146px,#7bff00 154px,#94ff00 170px,#a8ff00 176px,#ff0 196px,#fffa00 196px,#ff8000 238px,#f00 276px)"></b><b style="background:linear-gradient(#00ff5e,#0f0 11px,#ff0 42px,#ff8200 64px,#ff4f00 82px,#ff4500 98px,#ff6300 110px,#f80 116px,#ff0 127px,#abff00 136px,#96ff00 140px,#84ff00 146px,#7dff00 154px,#96ff00 170px,#abff00 178px,#ff0 195px,#ff8000 238px,#ff0100 276px,#f00 417px)"></b><b style="background:linear-gradient(#00ff5d,#0f0 11px,#ff0 42px,#ff7e00 66px,#ff5100 82px,#ff4700 98px,#ff6500 110px,#ff8000 114px,#ff0 127px,#c9ff00 132px,#a8ff00 136px,#8f0 146px,#80ff00 154px,#97ff00 170px,#abff00 178px,#ff0 195px,#ff8000 238px,#ff0100 276px,#f00 417px)"></b><b style="background:linear-gradient(#00ff5c,#0f0 11px,#ff0 42px,#ff7f00 66px,#ff5200 82px,#ff4a00 98px,#ff6b00 112px,#ff8200 114px,#ff0 127px,#cbff00 132px,#acff00 136px,#8cff00 146px,#82ff00 154px,#acff00 178px,#ff0 195px,#ff8000 238px,#f00 278px)"></b><b style="background:linear-gradient(#00ff5c,#0f0 11px,#ff0 42px,#ff7f00 66px,#ff5400 82px,#ff4c00 98px,#ff6d00 112px,#ff8300 114px,#ff0 127px,#f1ff00 128px,#afff00 136px,#a0ff00 140px,#90ff00 146px,#84ff00 154px,#acff00 178px,#ff0 195px,#ff8000 238px,#f00 278px)"></b><b style="background:linear-gradient(#00ff5b,#0f0 11px,#ff0 42px,#ff8000 66px,#ff5600 82px,#ff4f00 98px,#ff6f00 112px,#ff8500 114px,#ff0 127px,#adff00 138px,#93ff00 146px,#86ff00 154px,#acff00 178px,#ff0 195px,#ff8000 238px,#f00 278px)"></b><b style="background:linear-gradient(#00ff5a,#0f0 11px,#ff0 42px,#ff8100 66px,#ff5800 82px,#ff5100 98px,#ff7100 112px,#ff8700 114px,#ff0 127px,#b0ff00 138px,#9aff00 144px,#8f0 154px,#afff00 178px,#ff0 195px,#ff8000 238px,#ff0100 278px,#f00 417px)"></b><b style="background:linear-gradient(#00ff5a,#0f0 11px,#ff0 42px,#ff8100 66px,#ff5a00 82px,#ff5300 98px,#ff7300 112px,#f80 114px,#ff0 127px,#b4ff00 138px,#a2ff00 142px,#8aff00 156px,#afff00 178px,#ff0 195px,#ff8000 238px,#ff0100 278px,#f00 417px)"></b><b style="background:linear-gradient(#00ff59,#0f0 11px,#ff0 42px,#ff8200 66px,#ff5c00 82px,#f50 98px,#ff7500 112px,#ff8900 114px,#ff0 127px,#b6ff00 138px,#a7ff00 142px,#8cff00 156px,#afff00 178px,#ff0 195px,#f00 278px)"></b><b style="background:linear-gradient(#00ff59,#0f0 11px,#ff0 42px,#ff8200 66px,#ff5c00 82px,#ff5600 98px,#ff7500 112px,#ff8a00 114px,#ff0 127px,#b7ff00 138px,#a8ff00 142px,#8eff00 156px,#b1ff00 178px,#ff0 195px,#fffb00 196px,#f00 278px)"></b><b style="background:linear-gradient(#00ff59,#0f0 11px,#ff0 42px,#ff8300 66px,#ff5d00 82px,#ff5600 98px,#ff7600 112px,#ff8a00 114px,#ff0 127px,#b8ff00 138px,#a9ff00 142px,#8fff00 156px,#b2ff00 178px,#ff0 195px,#fffb00 196px,#ff0100 278px,#f00 417px)"></b><b style="background:linear-gradient(#00ff58,#0f0 12px,#ff0 42px,#ff8300 66px,#ff5e00 82px,#ff5700 98px,#ff7600 112px,#ff8b00 114px,#ff0 127px,#b9ff00 138px,#abff00 142px,#91ff00 156px,#b3ff00 178px,#ff0 195px,#fffb00 196px,#f00 280px)"></b><b style="background:linear-gradient(#00ff58,#0f0 12px,#ff0 42px,#ff8400 66px,#ff5e00 82px,#ff5800 98px,#f70 112px,#ff8b00 114px,#ff0 127px,#baff00 138px,#acff00 142px,#92ff00 156px,#b4ff00 178px,#ff0 195px,#fffb00 196px,#ff0100 280px,#f00 417px)"></b><b style="background:linear-gradient(#00ff58,#0f0 12px,#ff0 42px,#ff8400 66px,#ff5f00 82px,#ff5900 98px,#f70 112px,#ff8b00 114px,#ff0 127px,#bf0 138px,#adff00 142px,#94ff00 156px,#b6ff00 178px,#ff0 195px,#fffb00 196px,#ff0100 280px,#f00 417px)"></b><b style="background:linear-gradient(#00ff57,#0f0 12px,#ff0 42px,#ff8500 66px,#ff5f00 82px,#ff5a00 98px,#f70 112px,#ff8c00 114px,#ff0 127px,#bcff00 138px,#aeff00 142px,#95ff00 156px,#b7ff00 178px,#ff0 194px,#fffa00 196px,#f00 280px)"></b><b style="background:linear-gradient(#00ff57,#0f0 12px,#ff0 42px,#ff8500 66px,#ff6000 82px,#ff5a00 98px,#ff7800 112px,#ff8c00 114px,#ff0 127px,#bdff00 138px,#afff00 142px,#97ff00 156px,#b8ff00 178px,#ff0 194px,#fffa00 196px,#ff0100 280px,#f00 417px)"></b><b style="background:linear-gradient(#00ff57,#0f0 12px,#ff0 42px,#ff8600 66px,#ff6100 82px,#ff5b00 98px,#ff7800 112px,#ff8d00 114px,#ff0 127px,#bdff00 138px,#b0ff00 142px,#9f0 156px,#b9ff00 178px,#ff0 194px,#fffa00 196px,#ff0900 276px,#f00 282px)"></b><b style="background:linear-gradient(#00ff57,#0f0 12px,#ff0 42px,#ff8600 66px,#ff6100 82px,#ff5c00 98px,#ff7900 112px,#ff8d00 114px,#ff0 127px,#beff00 138px,#b1ff00 142px,#9aff00 156px,#baff00 178px,#ff0 194px,#fffa00 196px,#ff0a00 276px,#ff0100 282px,#f00 417px)"></b><b style="background:linear-gradient(#00ff56,#0f0 12px,#ff0 42px,#ff8600 66px,#ff6200 82px,#ff5d00 98px,#ff7900 112px,#ff8d00 114px,#ff0 127px,#bfff00 138px,#b2ff00 142px,#9cff00 156px,#bcff00 178px,#ff0 194px,#fffa00 196px,#ff0b00 276px,#ff0100 282px,#f00 417px)"></b><b style="background:linear-gradient(#00ff56,#0f0 12px,#ff0 42px,#ff8700 66px,#ff6300 82px,#ff5e00 98px,#ff7600 110px,#ff8600 114px,#ff0 127px,#c0ff00 138px,#b3ff00 142px,#9dff00 156px,#bdff00 178px,#ff0 194px,#fffa00 196px,#ff0b00 276px,#f00 282px)"></b><b style="background:linear-gradient(#00ff56,#0f0 12px,#ff0 42px,#ff8300 66px,#ff6300 82px,#ff5e00 98px,#ff7600 110px,#ff8e00 114px,#ff0 127px,#c1ff00 138px,#b4ff00 142px,#9fff00 156px,#beff00 178px,#ff0 194px,#fffa00 196px,#ff0c00 276px,#ff0100 282px,#f00 417px)"></b><b style="background:linear-gradient(#0f5,#0f0 12px,#ff0 42px,#ff8400 66px,#ff6400 82px,#ff5f00 98px,#f70 110px,#ff8f00 114px,#ff0 127px,#c2ff00 138px,#b5ff00 142px,#a0ff00 156px,#bfff00 178px,#ff0 194px,#fffa00 196px,#ff0d00 276px,#f00 284px)"></b><b style="background:linear-gradient(#0f5,#0f0 12px,#ff0 42px,#ff8400 66px,#ff6500 82px,#ff6000 98px,#f70 110px,#ff8f00 114px,#ff0 127px,#c2ff00 138px,#b6ff00 142px,#a2ff00 156px,#c1ff00 178px,#ff0 194px,#fff900 196px,#ff0e00 276px,#f00 284px)"></b><b style="background:linear-gradient(#0f5,#0f0 12px,#ff0 42px,#ff8500 66px,#ff6500 82px,#ff6100 98px,#ff7800 110px,#ff8f00 114px,#ff0 127px,#c3ff00 138px,#b7ff00 142px,#a3ff00 156px,#c2ff00 178px,#ff0 194px,#fff900 196px,#ff0e00 276px,#ff0100 284px,#f00 417px)"></b><b style="background:linear-gradient(#0f5,#0f0 12px,#ff0 42px,#ff8500 66px,#f60 82px,#ff6200 98px,#ff7800 110px,#ff9000 114px,#ff0 127px,#c4ff00 138px,#b8ff00 142px,#a5ff00 156px,#c3ff00 178px,#ff0 194px,#fff900 196px,#ff1200 276px,#ff0100 284px,#f00 417px)"></b><b style="background:linear-gradient(#00ff54,#0f0 12px,#ff0 42px,#ff8600 66px,#f60 82px,#ff6200 98px,#ff7800 110px,#ff9000 114px,#ff0 127px,#c5ff00 138px,#b9ff00 142px,#a7ff00 156px,#c4ff00 178px,#ff0 194px,#fff600 196px,#ff1000 276px,#f00 284px)"></b><b style="background:linear-gradient(#00ff54,#0f0 12px,#ff0 42px,#ff8600 66px,#ff6900 82px,#ff6300 98px,#ff7900 110px,#ff9100 114px,#ff0 127px,#c6ff00 138px,#baff00 142px,#a8ff00 156px,#c6ff00 178px,#ff0 194px,#fff600 196px,#ff1300 276px,#f00 284px)"></b><b style="background:linear-gradient(#00ff54,#0f0 12px,#ff0 42px,#ff8600 66px,#ff6900 82px,#ff6300 98px,#ff7900 110px,#ff9100 114px,#ff0 127px,#c7ff00 138px,#bf0 142px,#af0 156px,#c7ff00 178px,#ff0 194px,#fff600 196px,#ff1400 276px,#ff0100 284px,#f00 417px)"></b><b style="background:linear-gradient(#00ff53,#0f0 12px,#ff0 42px,#ff8700 66px,#ff6a00 82px,#ff6400 98px,#ff7a00 110px,#ff9100 114px,#ff0 127px,#c7ff00 138px,#abff00 156px,#c8ff00 178px,#ff0 194px,#fff600 196px,#ff1400 276px,#ff0100 284px,#f00 417px)"></b><b style="background:linear-gradient(#00ff53,#0f0 12px,#ff0 42px,#ff8700 66px,#ff7b00 70px,#ff6a00 82px,#ff6500 98px,#ff7a00 110px,#ff9200 114px,#ff0 127px,#c8ff00 138px,#adff00 156px,#c9ff00 178px,#ff0 194px,#fff600 196px,#ff1500 276px,#f00 286px)"></b><b style="background:linear-gradient(#00ff53,#0f0 12px,#ff0 42px,#f80 66px,#ff6e00 80px,#ff6400 94px,#ff7a00 110px,#ff9200 114px,#ff0 127px,#c9ff00 138px,#aeff00 156px,#caff00 178px,#ff0 194px,#fff600 196px,#ff1600 276px,#f00 286px)"></b><b style="background:linear-gradient(#00ff53,#0f0 12px,#ff0 42px,#ff8c00 66px,#ff7800 72px,#ff6400 92px,#ff6800 100px,#ff7b00 110px,#ff9300 114px,#ff0 127px,#caff00 138px,#b0ff00 156px,#cf0 178px,#ff0 194px,#fff300 198px,#ff1600 276px,#ff0100 286px,#f00 417px)"></b><b style="background:linear-gradient(#00ff52,#0f0 12px,#06ff00 12px,#ff0 42px,#ff8d00 66px,#ff7800 72px,#ff6500 92px,#ff6900 100px,#ff7b00 110px,#ff9300 114px,#ff0 127px,#cbff00 138px,#b1ff00 156px,#cdff00 178px,#ff0 193px,#fff800 196px,#ff8300 236px,#ff0100 286px,#f00 417px)"></b><b style="background:linear-gradient(#00ff52,#0f0 12px,#06ff00 12px,#fbff00 42px,#ff0 42px,#ff9200 64px,#ff7a00 72px,#ff6500 92px,#ff6a00 100px,#ff7c00 110px,#ff9300 114px,#ff0 127px,#cf0 138px,#b3ff00 156px,#ceff00 178px,#ff0 193px,#fff800 196px,#ff8100 238px,#ff1500 276px,#f00 286px)"></b><b style="background:linear-gradient(#00ff52,#0f0 12px,#06ff00 12px,#fbff00 42px,#ff0 42px,#ff9200 64px,#ff7a00 72px,#f60 92px,#ff7c00 110px,#ff9400 114px,#ff0 127px,#d1ff00 136px,#c4ff00 140px,#b5ff00 156px,#cfff00 178px,#ff0 195px,#ff8100 238px,#f00 286px)"></b><b style="background:linear-gradient(#00ff51,#0f0 12px,#06ff00 12px,#fbff00 42px,#ff0 42px,#ff9300 64px,#ff7b00 72px,#f60 92px,#ff7a00 110px,#ff8d00 114px,#ff0 127px,#cdff00 138px,#b6ff00 156px,#d1ff00 178px,#ff0 194px,#ff8100 238px,#f00 286px)"></b><b style="background:linear-gradient(#00ff51,#0f0 12px,#06ff00 12px,#fbff00 42px,#ff0 42px,#ff8f00 66px,#ff7b00 72px,#ff6700 92px,#ff7a00 110px,#ff8d00 114px,#ff0 127px,#d3ff00 136px,#c6ff00 140px,#b8ff00 156px,#d4ff00 180px,#ff0 194px,#ff8100 238px,#f00 286px)"></b><b style="background:linear-gradient(#00ff51,#0f0 12px,#06ff00 12px,#fbff00 42px,#ff0 42px,#ff8f00 66px,#ff7b00 72px,#ff6700 92px,#ff7b00 110px,#ff8e00 114px,#ff0 127px,#d3ff00 136px,#c7ff00 140px,#b9ff00 156px,#d6ff00 180px,#ff0 194px,#ff8100 238px,#ff0100 286px,#f00 417px)"></b><b style="background:linear-gradient(#00ff51,#0f0 12px,#06ff00 12px,#fbff00 42px,#ff0 42px,#ff8f00 66px,#ff7c00 72px,#ff6800 92px,#ff7b00 110px,#ff8e00 114px,#ff0 127px,#d4ff00 136px,#c8ff00 140px,#bf0 156px,#d7ff00 180px,#ff0 194px,#ff8100 238px,#ff0100 286px,#f00 417px)"></b><b style="background:linear-gradient(#00ff50,#0f0 12px,#06ff00 12px,#fbff00 42px,#ff0 42px,#ff9000 66px,#ff7c00 72px,#ff6900 92px,#ff7c00 110px,#ff8e00 114px,#ff0 127px,#d5ff00 136px,#c9ff00 140px,#bcff00 156px,#d8ff00 180px,#ff0 193px,#ff7e00 238px,#f00 288px)"></b><b style="background:linear-gradient(#00ff50,#0f0 12px,#06ff00 12px,#fbff00 42px,#ff0 42px,#ff9000 66px,#ff7c00 72px,#ff6900 92px,#ff7c00 110px,#ff8f00 114px,#ff0 127px,#d6ff00 136px,#caff00 140px,#beff00 156px,#d9ff00 180px,#ff0 193px,#ff7e00 238px,#f00 288px)"></b><b style="background:linear-gradient(#00ff50,#0f0 12px,#06ff00 12px,#fbff00 42px,#ff0 42px,#ff9100 66px,#ff7d00 72px,#ff6a00 92px,#ff7c00 110px,#ff9700 114px,#ff0 127px,#d6ff00 136px,#cbff00 140px,#c0ff00 156px,#daff00 180px,#ff0 193px,#ff7e00 238px,#f00 288px)"></b><b style="background:linear-gradient(#00ff4f,#0f0 12px,#06ff00 12px,#faff00 42px,#ff0 42px,#ff9100 66px,#ff7d00 72px,#ff6a00 92px,#ff7d00 110px,#ff9700 114px,#ff0 127px,#dbff00 136px,#cf0 140px,#c1ff00 156px,#dbff00 180px,#ff0 192px,#ff7e00 238px,#ff0100 288px,#f00 417px)"></b><b style="background:linear-gradient(#00ff4f,#0f0 12px,#06ff00 12px,#faff00 42px,#ff0 42px,#ff8d00 66px,#ff7d00 72px,#ff6b00 92px,#ff7d00 110px,#ff9000 114px,#fff900 126px,#ff0 128px,#f1ff00 130px,#cfff00 140px,#c3ff00 156px,#df0 180px,#ff0 192px,#ff7e00 238px,#ff0100 288px,#f00 417px)"></b><b style="background:linear-gradient(#00ff4f,#0f0 12px,#06ff00 12px,#faff00 42px,#ff0 42px,#ff8900 68px,#ff7d00 72px,#ff6c00 92px,#ff7e00 110px,#ff9100 114px,#ffc400 120px,#fff900 126px,#ff0 128px,#f5ff00 130px,#d0ff00 140px,#c4ff00 156px,#deff00 180px,#ff0 192px,#ff7e00 238px,#ff0100 288px,#f00 417px)"></b><b style="width:2px;background:linear-gradient(#00ff4f,#0f0 12px,#06ff00 12px,#faff00 42px,#ff0 42px,#ff8900 68px,#ff7e00 72px,#ff6c00 92px,#ff7e00 110px,#ff9100 114px,#ffc400 120px,#fff900 126px,#ff0 128px,#f5ff00 130px,#d0ff00 140px,#c5ff00 156px,#dfff00 180px,#ff0 191px,#ff7e00 238px,#f00 288px)"></b></div>
<div class="fk k3" style="left:1089px;top:2298px;width:1055px;height:125px"><b style="background:linear-gradient(#000cff,#000eff 125px)"></b><b style="background:linear-gradient(#000dff,#01f 125px)"></b><b style="background:linear-gradient(#000eff,#0015ff 125px)"></b><b style="background:linear-gradient(#000fff,#0018ff 125px)"></b><b style="background:linear-gradient(#0010ff,#001cff 125px)"></b><b style="background:linear-gradient(#01f,#001fff 125px)"></b><b style="background:linear-gradient(#0012ff,#0023ff 125px)"></b><b style="background:linear-gradient(#0013ff,#0026ff 125px)"></b><b style="background:linear-gradient(#0014ff,#002aff 125px)"></b><b style="background:linear-gradient(#0015ff,#002dff 125px)"></b><b style="background:linear-gradient(#0016ff,#0031ff 125px)"></b><b style="background:linear-gradient(#0017ff,#0034ff 125px)"></b><b style="background:linear-gradient(#0018ff,#0038ff 125px)"></b><b style="background:linear-gradient(#001aff,#003cff 125px)"></b><b style="background:linear-gradient(#001bff,#003fff 125px)"></b><b style="background:linear-gradient(#001cff,#0043ff 125px)"></b><b style="background:linear-gradient(#001dff,#0046ff 125px)"></b><b style="background:linear-gradient(#001eff,#004aff 125px)"></b><b style="background:linear-gradient(#001fff,#004dff 125px)"></b><b style="background:linear-gradient(#0020ff,#0037ff 70px,#0051ff 125px)"></b><b style="background:linear-gradient(#0021ff,#0039ff 70px,#0054ff 125px)"></b><b style="background:linear-gradient(#02f,#003bff 70px,#0058ff 125px)"></b><b style="background:linear-gradient(#0023ff,#003dff 70px,#005bff 125px)"></b><b style="background:linear-gradient(#0024ff,#003fff 70px,#005fff 125px)"></b><b style="background:linear-gradient(#0025ff,#0042ff 70px,#0063ff 125px)"></b><b style="background:linear-gradient(#0026ff,#04f 70px,#06f 125px)"></b><b style="background:linear-gradient(#0027ff,#0046ff 70px,#006aff 125px)"></b><b style="background:linear-gradient(#0028ff,#0048ff 70px,#006dff 125px)"></b><b style="background:linear-gradient(#0029ff,#004aff 70px,#0071ff 125px)"></b><b style="background:linear-gradient(#002aff,#004dff 70px,#0074ff 125px)"></b><b style="background:linear-gradient(#002bff,#004fff 70px,#0078ff 125px)"></b><b style="background:linear-gradient(#002cff,#0051ff 70px,#007bff 125px)"></b><b style="background:linear-gradient(#002dff,#0053ff 70px,#007fff 125px)"></b><b style="background:linear-gradient(#002eff,#05f 70px,#0082ff 125px)"></b><b style="background:linear-gradient(#002fff,#0058ff 70px,#0086ff 125px)"></b><b style="background:linear-gradient(#0030ff,#005aff 70px,#008aff 125px)"></b><b style="background:linear-gradient(#0031ff,#005cff 70px,#008dff 125px)"></b><b style="background:linear-gradient(#0032ff,#005eff 70px,#0091ff 125px)"></b><b style="background:linear-gradient(#03f,#0060ff 70px,#0094ff 125px)"></b><b style="background:linear-gradient(#0034ff,#0063ff 70px,#0098ff 125px)"></b><b style="background:linear-gradient(#0035ff,#0065ff 70px,#009bff 125px)"></b><b style="background:linear-gradient(#0036ff,#0067ff 70px,#009fff 125px)"></b><b style="background:linear-gradient(#0037ff,#0069ff 70px,#00a2ff 125px)"></b><b style="background:linear-gradient(#0038ff,#006bff 70px,#00a6ff 125px)"></b><b style="background:linear-gradient(#0039ff,#006eff 70px,#0af 125px)"></b><b style="background:linear-gradient(#003aff,#0070ff 70px,#00adff 125px)"></b><b style="background:linear-gradient(#003bff,#0072ff 70px,#00b1ff 125px)"></b><b style="background:linear-gradient(#003cff,#0074ff 70px,#00b4ff 125px)"></b><b style="background:linear-gradient(#003dff,#0076ff 70px,#00b8ff 125px)"></b><b style="background:linear-gradient(#003eff,#0079ff 70px,#0bf 125px)"></b><b style="background:linear-gradient(#003fff,#007bff 70px,#00bfff 125px)"></b><b style="background:linear-gradient(#0040ff,#007dff 70px,#00c2ff 125px)"></b><b style="background:linear-gradient(#0041ff,#007fff 70px,#00c6ff 125px)"></b><b style="background:linear-gradient(#0042ff,#0081ff 70px,#00c9ff 125px)"></b><b style="background:linear-gradient(#0043ff,#0084ff 70px,#00cdff 125px)"></b><b style="background:linear-gradient(#04f,#0086ff 70px,#00d1ff 125px)"></b><b style="background:linear-gradient(#0045ff,#08f 70px,#00d4ff 125px)"></b><b style="background:linear-gradient(#0046ff,#008aff 70px,#00d8ff 125px)"></b><b style="background:linear-gradient(#0047ff,#008cff 70px,#00dbff 125px)"></b><b style="background:linear-gradient(#0048ff,#008fff 70px,#00dfff 125px)"></b><b style="background:linear-gradient(#0049ff,#0091ff 70px,#00e2ff 125px)"></b><b style="background:linear-gradient(#004aff,#0093ff 70px,#00e6ff 125px)"></b><b style="background:linear-gradient(#004bff,#0095ff 70px,#00e9ff 125px)"></b><b style="background:linear-gradient(#004dff,#0097ff 70px,#00edff 125px)"></b><b style="background:linear-gradient(#004eff,#009aff 70px,#00f0ff 125px)"></b><b style="background:linear-gradient(#004fff,#009cff 70px,#00f4ff 125px)"></b><b style="background:linear-gradient(#0050ff,#009eff 70px,#00f8ff 125px)"></b><b style="background:linear-gradient(#0051ff,#00a0ff 70px,#00fbff 125px)"></b><b style="background:linear-gradient(#0052ff,#00a2ff 70px,#0ff 125px)"></b><b style="background:linear-gradient(#0053ff,#00a6ff 72px,#00d1ff 98px,#0ff 123px,#00fffb 125px)"></b><b style="background:linear-gradient(#0054ff,#0af 72px,#00d7ff 100px,#0ff 120px,#00fff6 125px)"></b><b style="background:linear-gradient(#05f,#00adff 74px,#00e0ff 104px,#0ff 118px,#00fff1 125px)"></b><b style="background:linear-gradient(#0056ff,#007bff 34px,#00b1ff 74px,#00e6ff 106px,#0ff 117px,#00ffec 125px)"></b><b style="background:linear-gradient(#0057ff,#007eff 36px,#00b5ff 76px,#00edff 108px,#0ff 115px,#00ffe7 125px)"></b><b style="background:linear-gradient(#0058ff,#0081ff 36px,#00b9ff 76px,#00f5ff 110px,#0ff 114px,#00ffe2 125px)"></b><b style="background:linear-gradient(#0059ff,#0082ff 36px,#0bf 76px,#00faff 110px,#0ff 112px,#00ffde 125px)"></b><b style="background:linear-gradient(#005aff,#0085ff 38px,#00bfff 78px,#00fbff 110px,#0ff 111px,#00ffd9 125px)"></b><b style="background:linear-gradient(#005bff,#0087ff 38px,#00c3ff 78px,#00fcff 108px,#0ff 110px,#00ffd4 125px)"></b><b style="background:linear-gradient(#005cff,#0089ff 38px,#00c7ff 80px,#0ff 108px,#00ffcf 125px)"></b><b style="background:linear-gradient(#005dff,#008bff 38px,#00caff 80px,#0ff 107px,#00ffca 125px)"></b><b style="background:linear-gradient(#005eff,#008eff 40px,#00ceff 80px,#00fdff 104px,#0ff 105px,#00ffc5 125px)"></b><b style="background:linear-gradient(#005fff,#0091ff 40px,#00d2ff 82px,#0ff 104px,#00ffc0 125px)"></b><b style="background:linear-gradient(#0060ff,#0093ff 40px,#00d4ff 82px,#0ff 103px,#00ffbc 125px)"></b><b style="background:linear-gradient(#0061ff,#0096ff 42px,#00d9ff 82px,#0ff 101px,#00ffb7 125px)"></b><b style="background:linear-gradient(#0062ff,#09f 42px,#0df 84px,#0ff 100px,#00ffb2 125px)"></b><b style="background:linear-gradient(#0063ff,#009bff 42px,#00e0ff 84px,#0ff 98px,#00fffd 100px,#00ffad 125px)"></b><b style="background:linear-gradient(#0064ff,#009cff 42px,#00e4ff 84px,#0ff 97px,#00fffc 98px,#00ffa8 125px)"></b><b style="background:linear-gradient(#0065ff,#009eff 42px,#00e7ff 84px,#0ff 96px,#00fffb 98px,#00ffa3 125px)"></b><b style="background:linear-gradient(#06f,#00a1ff 44px,#00ebff 86px,#0ff 94px,#00fffa 96px,#00ff9f 125px)"></b><b style="background:linear-gradient(#0067ff,#00a3ff 44px,#0ef 86px,#0ff 93px,#00fffc 94px,#00ff9a 125px)"></b><b style="background:linear-gradient(#0068ff,#00a6ff 44px,#00f2ff 86px,#0ff 92px,#00fff9 94px,#00ff95 125px)"></b><b style="background:linear-gradient(#0069ff,#00a8ff 44px,#00f5ff 86px,#0ff 91px,#00fff8 94px,#00ff90 125px)"></b><b style="background:linear-gradient(#006aff,#0af 44px,#00f7ff 86px,#0ff 89px,#00ff8b 125px)"></b><b style="background:linear-gradient(#006bff,#00abff 44px,#00faff 86px,#0ff 88px,#00ff86 125px)"></b><b style="background:linear-gradient(#006cff,#00abff 44px,#00faff 86px,#0ff 87px,#00ff81 125px)"></b><b style="background:linear-gradient(#006dff,#00abff 42px,#00fbff 84px,#0ff 86px,#00ff7d 125px)"></b><b style="background:linear-gradient(#006eff,#00adff 42px,#00fbff 84px,#0ff 85px,#00ff78 125px)"></b><b style="background:linear-gradient(#006fff,#00adff 42px,#00fbff 82px,#0ff 84px,#00ff73 125px)"></b><b style="background:linear-gradient(#0070ff,#00adff 40px,#00fbff 82px,#0ff 83px,#00ff6e 125px)"></b><b style="background:linear-gradient(#0071ff,#00adff 40px,#00fcff 80px,#0ff 81px,#00ff69 125px)"></b><b style="background:linear-gradient(#0072ff,#00adff 38px,#00fcff 80px,#0ff 80px,#00ff64 125px)"></b><b style="background:linear-gradient(#0073ff,#00aeff 38px,#00fcff 78px,#0ff 79px,#00ff60 125px)"></b><b style="background:linear-gradient(#0074ff,#00aeff 38px,#0ff 78px,#00ff5b 125px)"></b><b style="background:linear-gradient(#0075ff,#00aeff 36px,#0ff 77px,#00ff56 125px)"></b><b style="background:linear-gradient(#0076ff,#00aeff 36px,#0ff 76px,#00ff51 125px)"></b><b style="background:linear-gradient(#07f,#00adff 34px,#0ff 75px,#00ff4c 125px)"></b><b style="background:linear-gradient(#0078ff,#00afff 34px,#0ff 74px,#00ff47 125px)"></b><b style="background:linear-gradient(#0079ff,#00afff 34px,#0ff 73px,#00ff42 125px)"></b><b style="background:linear-gradient(#007aff,#00aeff 32px,#0ff 72px,#00ff3e 125px)"></b><b style="background:linear-gradient(#007bff,#00b2ff 34px,#0ff 71px,#00ff39 125px)"></b><b style="background:linear-gradient(#007cff,#00b1ff 32px,#0ff 70px,#00ff34 125px)"></b><b style="background:linear-gradient(#007dff,#00b1ff 32px,#0ff 69px,#00ff2f 125px)"></b><b style="background:linear-gradient(#007eff,#00b1ff 30px,#0ff 68px,#00ff2a 125px)"></b><b style="background:linear-gradient(#007fff,#00b0ff 30px,#0ff 67px,#00ff25 125px)"></b><b style="background:linear-gradient(#0081ff,#00b2ff 30px,#0ff 67px,#00ff21 125px)"></b><b style="background:linear-gradient(#0082ff,#00b1ff 28px,#0ff 66px,#00ff1c 125px)"></b><b style="background:linear-gradient(#0083ff,#00b1ff 28px,#0ff 65px,#00ff17 125px)"></b><b style="background:linear-gradient(#0084ff,#00b4ff 28px,#0ff 64px,#00fffd 64px,#00ff12 125px)"></b><b style="background:linear-gradient(#0085ff,#00b3ff 28px,#0ff 63px,#00ff0d 125px)"></b><b style="background:linear-gradient(#0086ff,#00b3ff 26px,#0ff 62px,#00ff08 125px)"></b><b style="background:linear-gradient(#0087ff,#00b2ff 26px,#0ff 61px,#00ffb3 82px,#00ff03 125px)"></b><b style="background:linear-gradient(#08f,#00b4ff 26px,#0ff 60px,#00ffb4 80px,#0f0 125px,#01ff00 125px)"></b><b style="background:linear-gradient(#0089ff,#00b7ff 26px,#0ff 59px,#00fffc 60px,#0f0 124px,#06ff00 125px)"></b><b style="background:linear-gradient(#008aff,#00b6ff 26px,#0ff 58px,#00fffc 60px,#0f0 123px,#0aff00 125px)"></b><b style="background:linear-gradient(#008bff,#00b6ff 24px,#0ff 58px,#00fffd 58px,#00ffb5 78px,#0f0 122px,#0eff00 125px)"></b><b style="background:linear-gradient(#008cff,#00b5ff 24px,#0ff 57px,#00ffb5 76px,#0f0 120px,#13ff00 125px)"></b><b style="background:linear-gradient(#008dff,#00b9ff 24px,#0ff 56px,#00fffb 58px,#0f0 119px,#17ff00 125px)"></b><b style="background:linear-gradient(#008eff,#00b8ff 24px,#0ff 55px,#00fffb 56px,#00ffb7 74px,#0f0 118px,#1bff00 125px)"></b><b style="background:linear-gradient(#008fff,#00b9ff 24px,#0ff 54px,#00fffc 56px,#00ffb7 74px,#0f0 117px,#20ff00 125px)"></b><b style="background:linear-gradient(#0090ff,#00b8ff 22px,#0ff 54px,#00fffd 54px,#00ffb8 72px,#0f0 116px,#24ff00 125px)"></b><b style="background:linear-gradient(#0091ff,#00bcff 24px,#0ff 52px,#00fffa 54px,#00ffb4 72px,#0f0 115px,#28ff00 125px)"></b><b style="background:linear-gradient(#0092ff,#0bf 22px,#0ff 52px,#00fffb 54px,#00ffb5 72px,#0f0 114px,#2dff00 125px)"></b><b style="background:linear-gradient(#0093ff,#00baff 22px,#0ff 51px,#00fffc 52px,#00ffb6 70px,#0f0 113px,#31ff00 125px)"></b><b style="background:linear-gradient(#0094ff,#00beff 22px,#0ff 50px,#00fff9 52px,#00ffb7 70px,#0f0 111px,#35ff00 125px)"></b><b style="background:linear-gradient(#0095ff,#00bdff 22px,#0ff 49px,#00fffa 52px,#00ffb8 68px,#0f0 110px,#3aff00 125px)"></b><b style="background:linear-gradient(#0096ff,#00c0ff 22px,#0ff 48px,#00fff8 52px,#00ffb5 68px,#0f0 109px,#3eff00 125px)"></b><b style="background:linear-gradient(#0097ff,#00bfff 22px,#0ff 48px,#00fff9 50px,#00ffb6 68px,#0f0 108px,#42ff00 125px)"></b><b style="background:linear-gradient(#0098ff,#00bfff 20px,#0ff 47px,#00fffa 50px,#00ffb7 66px,#0f0 107px,#47ff00 125px)"></b><b style="background:linear-gradient(#09f,#00c2ff 22px,#0ff 46px,#00fff7 50px,#00ffb4 66px,#0f0 106px,#4bff00 125px)"></b><b style="background:linear-gradient(#009aff,#00c1ff 20px,#0ff 46px,#00fff8 48px,#00ffb5 66px,#0f0 105px,#4fff00 125px)"></b><b style="background:linear-gradient(#009bff,#00c5ff 22px,#0ff 45px,#00fff6 48px,#00ffb6 64px,#00ff03 104px,#0f0 104px,#54ff00 125px)"></b><b style="background:linear-gradient(#009cff,#00c8ff 22px,#0ff 44px,#00fff3 48px,#00ffb3 64px,#00ff04 102px,#0f0 103px,#58ff00 125px)"></b><b style="background:linear-gradient(#009dff,#00c7ff 22px,#0ff 43px,#00fff5 48px,#00ffb4 64px,#00ff04 102px,#0f0 103px,#5cff00 125px)"></b><b style="background:linear-gradient(#009eff,#00cbff 22px,#0ff 43px,#00fff2 48px,#00ffb1 64px,#00ff05 100px,#0f0 102px,#61ff00 125px)"></b><b style="background:linear-gradient(#009fff,#00cfff 24px,#0ff 42px,#00fff0 48px,#00ffb2 62px,#0f0 101px,#65ff00 125px)"></b><b style="background:linear-gradient(#00a0ff,#00d5ff 26px,#0ff 41px,#00ffed 48px,#00ffa2 66px,#0f0 100px,#69ff00 125px)"></b><b style="background:linear-gradient(#00a1ff,#00d1ff 24px,#0ff 40px,#00ffef 46px,#00ffb1 62px,#0f0 99px,#6eff00 125px)"></b><b style="background:linear-gradient(#00a2ff,#00d5ff 24px,#0ff 40px,#00ffec 46px,#00ffa0 64px,#0f0 98px,#72ff00 125px)"></b><b style="background:linear-gradient(#00a3ff,#00d9ff 26px,#0ff 39px,#00ffea 46px,#00ff9d 64px,#0f0 97px,#76ff00 125px)"></b><b style="background:linear-gradient(#00a4ff,#0df 26px,#0ff 38px,#00ffe8 46px,#00ff9f 64px,#0f0 96px,#7bff00 125px)"></b><b style="background:linear-gradient(#00a5ff,#00dcff 26px,#0ff 38px,#00ffe9 46px,#00ffa0 62px,#0f0 96px,#7fff00 125px)"></b><b style="background:linear-gradient(#00a6ff,#00e0ff 26px,#0ff 37px,#00ffe7 46px,#00ff9d 62px,#0f0 95px,#83ff00 125px)"></b><b style="background:linear-gradient(#00a7ff,#00e4ff 28px,#0ff 37px,#00ffe5 46px,#00ff9a 62px,#0f0 94px,#8f0 125px)"></b><b style="background:linear-gradient(#00a8ff,#00e8ff 28px,#0ff 36px,#00ffe2 46px,#00ff9c 62px,#0f0 93px,#8cff00 125px)"></b><b style="background:linear-gradient(#00a9ff,#00e4ff 26px,#0ff 36px,#00ffe4 44px,#00ff9e 60px,#00ff04 92px,#0f0 92px,#90ff00 125px)"></b><b style="background:linear-gradient(#0af,#00e8ff 28px,#0ff 35px,#00ffe2 44px,#00ff9b 60px,#0f0 91px,#95ff00 125px)"></b><b style="background:linear-gradient(#00abff,#0ef 30px,#0ff 35px,#00ffe0 44px,#00ff98 60px,#0f0 91px,#9f0 125px)"></b><b style="background:linear-gradient(#00acff,#00f3ff 30px,#0ff 34px,#0fd 44px,#00ff95 60px,#0f0 90px,#9dff00 125px)"></b><b style="background:linear-gradient(#00adff,#00efff 28px,#0ff 34px,#00ffdf 44px,#00ff97 60px,#0f0 89px,#a2ff00 125px)"></b><b style="background:linear-gradient(#00aeff,#00f3ff 30px,#0ff 33px,#0fd 44px,#00ff94 60px,#00ff04 88px,#0f0 88px,#a6ff00 125px)"></b><b style="background:linear-gradient(#00afff,#00f7ff 30px,#0ff 33px,#00ffdb 44px,#00ff96 58px,#0f0 88px,#af0 125px)"></b><b style="background:linear-gradient(#00b0ff,#00f8ff 30px,#0ff 32px,#00ffd8 44px,#00ff93 58px,#0f0 87px,#afff00 125px)"></b><b style="background:linear-gradient(#00b1ff,#00faff 30px,#0ff 32px,#00ffd6 44px,#00ff90 58px,#0f0 86px,#b3ff00 125px)"></b><b style="background:linear-gradient(#00b2ff,#00f9ff 30px,#0ff 31px,#00ffd8 42px,#00ff92 58px,#0f0 86px,#b7ff00 125px)"></b><b style="background:linear-gradient(#00b4ff,#00faff 30px,#0ff 31px,#00ffd6 42px,#00ff90 58px,#0f0 85px,#bcff00 125px)"></b><b style="background:linear-gradient(#00b5ff,#00f9ff 28px,#0ff 30px,#00ffd4 42px,#00ff92 56px,#0f0 84px,#c0ff00 125px)"></b><b style="background:linear-gradient(#00b6ff,#00faff 28px,#0ff 30px,#00ffd2 42px,#00ff8f 56px,#00ff04 82px,#0f0 83px,#c4ff00 125px)"></b><b style="background:linear-gradient(#00b7ff,#00fcff 28px,#0ff 29px,#00ffd0 42px,#00ff8c 56px,#0f0 83px,#c9ff00 125px)"></b><b style="background:linear-gradient(#00b8ff,#00faff 28px,#0ff 29px,#00ffd2 42px,#00ff8f 56px,#0f0 82px,#50ff00 100px,#cdff00 125px)"></b><b style="background:linear-gradient(#00b9ff,#00fcff 28px,#0ff 28px,#00ffd0 42px,#00ff8c 56px,#00ff04 80px,#0f0 81px,#53ff00 100px,#d1ff00 125px)"></b><b style="background:linear-gradient(#00baff,#00faff 26px,#0ff 28px,#00ffce 42px,#00ff8e 54px,#0f0 81px,#57ff00 100px,#d6ff00 125px)"></b><b style="background:linear-gradient(#0bf,#00fcff 26px,#0ff 27px,#00ffcb 42px,#00ff8c 54px,#0f0 80px,#5f0 98px,#daff00 125px)"></b><b style="background:linear-gradient(#00bcff,#0ff 27px,#00ffc9 42px,#00ff89 54px,#00ff05 78px,#0f0 79px,#59ff00 98px,#dfff00 125px)"></b><b style="background:linear-gradient(#00bdff,#00fcff 26px,#0ff 26px,#0fc 40px,#00ff8c 54px,#0f0 79px,#5cff00 98px,#e3ff00 125px)"></b><b style="background:linear-gradient(#00beff,#0ff 26px,#00ffca 40px,#00ff89 54px,#0f0 78px,#5bff00 98px,#e7ff00 125px)"></b><b style="background:linear-gradient(#00bfff,#00fbff 24px,#0ff 25px,#00ffc8 40px,#00ff86 54px,#00ff05 76px,#0f0 78px,#5eff00 98px,#ecff00 125px)"></b><b style="background:linear-gradient(#00c0ff,#0ff 25px,#00ffc6 40px,#00ff89 52px,#0f0 77px,#61ff00 98px,#f0ff00 125px)"></b><b style="background:linear-gradient(#00c1ff,#0ff 25px,#00ffc3 40px,#00ff87 52px,#00ff04 76px,#0f0 76px,#60ff00 96px,#f4ff00 125px)"></b><b style="background:linear-gradient(#00c2ff,#0ff 24px,#00ffc1 40px,#0f0 76px,#63ff00 96px,#f9ff00 125px)"></b><b style="background:linear-gradient(#00c3ff,#0ff 24px,#00ffbf 40px,#0f0 75px,#61ff00 96px,#fdff00 125px)"></b><b style="background:linear-gradient(#00c4ff,#0ff 23px,#00ffc2 40px,#00ff84 52px,#0f0 74px,#65ff00 96px,#ff0 125px,#fffd00 125px)"></b><b style="background:linear-gradient(#00c5ff,#0ff 23px,#00ffc0 40px,#00ff82 52px,#0f0 74px,#63ff00 94px,#ff0 124px,#fffa00 125px)"></b><b style="background:linear-gradient(#00c6ff,#0ff 22px,#00ffbe 40px,#00ff7f 52px,#00ff04 72px,#0f0 73px,#6f0 94px,#ff0 123px,#fff600 125px)"></b><b style="background:linear-gradient(#00c7ff,#0ff 22px,#00ffbc 40px,#0f0 73px,#64ff00 94px,#ff0 123px,#fff200 125px)"></b><b style="background:linear-gradient(#00c8ff,#0ff 22px,#00ffba 40px,#0f0 72px,#62ff00 92px,#ff0 122px,#ffef00 125px)"></b><b style="background:linear-gradient(#00c9ff,#0ff 21px,#00ffbd 38px,#00ff83 50px,#0f0 72px,#60ff00 92px,#ff0 121px,#ffeb00 125px)"></b><b style="background:linear-gradient(#00caff,#0ff 21px,#0fb 38px,#00ff80 50px,#0f0 71px,#64ff00 92px,#ff0 121px,#ffe700 125px)"></b><b style="background:linear-gradient(#00cbff,#0ff 20px,#00ffb9 38px,#00ff7e 50px,#0f0 71px,#62ff00 90px,#ff0 120px,#ffe400 125px)"></b><b style="background:linear-gradient(#0cf,#0ff 20px,#00ffb7 38px,#00ff7b 50px,#0f0 70px,#65ff00 90px,#ff0 119px,#ffe000 125px)"></b><b style="background:linear-gradient(#00cdff,#0ff 19px,#00ffb5 38px,#0f0 69px,#63ff00 90px,#ff0 117px,#ffdc00 125px)"></b><b style="background:linear-gradient(#00ceff,#0ff 19px,#00ffb3 38px,#0f0 69px,#6f0 90px,#ff0 117px,#ffd900 125px)"></b><b style="background:linear-gradient(#00cfff,#0ff 19px,#00ffb1 38px,#0f0 68px,#64ff00 88px,#ff0 116px,#ffd500 125px)"></b><b style="background:linear-gradient(#00d0ff,#0ff 18px,#00ffb4 38px,#00ff78 48px,#0f0 68px,#61ff00 88px,#ff0 115px,#ffd100 125px)"></b><b style="background:linear-gradient(#00d1ff,#0ff 18px,#00ffb2 38px,#00ff7b 48px,#0f0 67px,#64ff00 88px,#ff0 115px,#ffce00 125px)"></b><b style="background:linear-gradient(#00d2ff,#0ff 17px,#00ffb0 38px,#00ff79 48px,#0f0 67px,#62ff00 86px,#ff0 114px,#ffca00 125px)"></b><b style="background:linear-gradient(#00d3ff,#0ff 17px,#00fffd 18px,#00ffae 38px,#0f0 66px,#65ff00 86px,#ff0 113px,#ffc600 125px)"></b><b style="background:linear-gradient(#00d4ff,#0ff 16px,#00ffac 38px,#0f0 66px,#68ff00 86px,#ff0 113px,#fffa00 114px,#ffc300 125px)"></b><b style="background:linear-gradient(#00d5ff,#0ff 16px,#0fa 38px,#0f0 65px,#6f0 86px,#ff0 112px,#ffbf00 125px)"></b><b style="background:linear-gradient(#00d6ff,#0ff 15px,#00fffc 16px,#00ffa8 38px,#0f0 65px,#69ff00 86px,#ff0 111px,#fb0 125px)"></b><b style="background:linear-gradient(#00d7ff,#0ff 15px,#00ffab 36px,#00ff73 46px,#0f0 64px,#6f0 84px,#ff0 111px,#fffa00 112px,#ffb800 125px)"></b><b style="background:linear-gradient(#00d8ff,#0ff 15px,#00fffd 16px,#00ffa9 36px,#0f7 46px,#0f0 64px,#69ff00 84px,#ff0 110px,#ffb400 125px)"></b><b style="background:linear-gradient(#00d9ff,#0ff 14px,#00fffb 16px,#00ffa7 36px,#00ff6e 46px,#0f0 64px,#67ff00 84px,#ff0 109px,#fff900 110px,#ffb000 125px)"></b><b style="background:linear-gradient(#00daff,#0ff 14px,#00ffa5 36px,#00ff72 46px,#0f0 63px,#6aff00 84px,#ff0 109px,#ffad00 125px)"></b><b style="background:linear-gradient(#00dbff,#0ff 13px,#00fffc 14px,#00ffa4 36px,#00ff70 46px,#0f0 63px,#6cff00 84px,#ff0 108px,#fff700 110px,#ffa900 125px)"></b><b style="background:linear-gradient(#00dcff,#0ff 13px,#00fffb 14px,#00ffa2 36px,#0f0 62px,#6aff00 82px,#ff0 108px,#fff900 108px,#ffa500 125px)"></b><b style="background:linear-gradient(#0df,#0ff 12px,#00fffa 14px,#00ffa0 36px,#0f0 62px,#6dff00 82px,#ff0 107px,#fff600 108px,#ffa200 125px)"></b><b style="background:linear-gradient(#00deff,#0ff 12px,#00fff8 14px,#00ff9e 36px,#0f0 61px,#6aff00 82px,#ff0 106px,#fff800 108px,#ff9e00 125px)"></b><b style="background:linear-gradient(#00dfff,#0ff 12px,#00fffa 14px,#00ff9c 36px,#0f0 61px,#6dff00 82px,#ff0 106px,#fff500 108px,#ff9a00 125px)"></b><b style="background:linear-gradient(#00e0ff,#0ff 11px,#00fff9 14px,#00ff9a 36px,#0f0 60px,#70ff00 82px,#ff0 105px,#fff700 106px,#ff9700 125px)"></b><b style="background:linear-gradient(#00e1ff,#0ff 11px,#00fff8 14px,#00ff9d 36px,#00ff69 44px,#0f0 60px,#6dff00 80px,#ff0 105px,#fff400 106px,#ff9300 125px)"></b><b style="background:linear-gradient(#00e2ff,#0ff 10px,#00fff6 14px,#00ff9c 36px,#0f6 44px,#0f0 60px,#06ff00 60px,#70ff00 80px,#ff0 104px,#fff600 106px,#ff8f00 125px)"></b><b style="background:linear-gradient(#00e3ff,#0ff 10px,#00fff9 12px,#00ff9a 36px,#00ff64 44px,#0f0 59px,#73ff00 80px,#ff0 104px,#fff300 106px,#ff8c00 125px)"></b><b style="background:linear-gradient(#00e4ff,#0ff 10px,#00fff7 12px,#00ff98 36px,#00ff68 44px,#0f0 59px,#75ff00 80px,#ff0 103px,#fff600 104px,#f80 125px)"></b><b style="background:linear-gradient(#00e5ff,#0ff 9px,#00fff6 12px,#00ff96 36px,#0f0 58px,#07ff00 60px,#72ff00 80px,#ff0 102px,#fff200 104px,#ff8400 125px)"></b><b style="background:linear-gradient(#00e7ff,#0ff 9px,#00fff5 12px,#00ff94 36px,#0f0 58px,#75ff00 80px,#ff0 102px,#ffef00 104px,#ff8100 125px)"></b><b style="background:linear-gradient(#00e8ff,#0ff 8px,#00fff3 12px,#00ff92 36px,#0f0 58px,#06ff00 58px,#78ff00 80px,#ff0 101px,#ffec00 104px,#ff7d00 125px)"></b><b style="background:linear-gradient(#00e9ff,#0ff 8px,#00fff2 12px,#00ff90 36px,#0f0 57px,#08ff00 58px,#75ff00 78px,#ff0 101px,#ffe300 106px,#ff7900 125px)"></b><b style="background:linear-gradient(#00eaff,#0ff 7px,#00fff1 12px,#00ff8f 36px,#0f0 57px,#78ff00 78px,#ff0 100px,#ffdf00 106px,#ff7600 125px)"></b><b style="background:linear-gradient(#00ebff,#0ff 7px,#00ffef 12px,#00ff8d 36px,#0f0 56px,#07ff00 58px,#7aff00 78px,#ff0 100px,#ffd600 106px,#ff7200 125px)"></b><b style="background:linear-gradient(#00ecff,#0ff 7px,#0fe 12px,#00ff8b 36px,#0f0 56px,#09ff00 58px,#7dff00 78px,#ff0 99px,#ffd300 106px,#ff6e00 125px)"></b><b style="background:linear-gradient(#00edff,#0ff 6px,#00ffed 12px,#00ff89 36px,#0f0 56px,#06ff00 56px,#7aff00 78px,#ff0 99px,#ffcf00 106px,#ff6b00 125px)"></b><b style="background:linear-gradient(#0ef,#0ff 6px,#00ffef 12px,#00ff8d 34px,#00ff5c 42px,#0f0 55px,#08ff00 56px,#7dff00 78px,#ff0 98px,#fc0 106px,#ff6700 125px)"></b><b style="background:linear-gradient(#00efff,#0ff 6px,#0fe 12px,#00ff8b 34px,#00ff59 42px,#0f0 55px,#0aff00 56px,#7fff00 78px,#ff0 98px,#ffc300 108px,#ff6400 125px)"></b><b style="background:linear-gradient(#00f0ff,#0ff 5px,#00ffed 12px,#00ff89 34px,#0f0 55px,#0dff00 56px,#82ff00 78px,#ff0 97px,#ffbf00 108px,#ff6000 125px)"></b><b style="background:linear-gradient(#00f1ff,#0ff 5px,#00ffeb 12px,#00ff87 34px,#0f5 42px,#0f0 54px,#09ff00 56px,#85ff00 78px,#ff0 97px,#ffbc00 108px,#ff5c00 125px)"></b><b style="background:linear-gradient(#00f2ff,#0ff 4px,#00ffea 12px,#00ff85 34px,#0f0 54px,#0bff00 56px,#82ff00 76px,#ff0 96px,#ffb900 108px,#ff5900 125px)"></b><b style="background:linear-gradient(#00f3ff,#0ff 4px,#00ffe9 12px,#00ff84 34px,#0f0 54px,#0dff00 56px,#84ff00 76px,#ff0 96px,#ffb500 108px,#f50 125px)"></b><b style="background:linear-gradient(#00f4ff,#0ff 4px,#00ffe7 12px,#00ff82 34px,#0f0 53px,#10ff00 56px,#87ff00 76px,#ff0 95px,#ffb200 108px,#ff5100 125px)"></b><b style="background:linear-gradient(#00f5ff,#0ff 3px,#00ffe6 12px,#00ff80 34px,#0f0 53px,#12ff00 56px,#8aff00 76px,#ff0 95px,#ffaf00 108px,#ff4e00 125px)"></b><b style="background:linear-gradient(#00f6ff,#0ff 3px,#00ffe5 12px,#00ff7e 34px,#0f0 53px,#0eff00 54px,#8cff00 76px,#ff0 94px,#ffab00 108px,#ff4a00 125px)"></b><b style="background:linear-gradient(#00f7ff,#0ff 3px,#00ffe3 12px,#00ff7c 34px,#0f0 52px,#10ff00 54px,#89ff00 76px,#ff0 94px,#ffa200 108px,#ff4600 125px)"></b><b style="background:linear-gradient(#00f8ff,#0ff 2px,#00ffe2 12px,#00ff7a 34px,#0f0 52px,#12ff00 54px,#8bff00 76px,#ff0 93px,#ff9e00 108px,#ff4300 125px)"></b><b style="background:linear-gradient(#00f9ff,#0ff 2px,#00ffe1 12px,#00ff79 34px,#0f0 52px,#15ff00 54px,#8eff00 76px,#ff0 93px,#ff9b00 108px,#ff3f00 125px)"></b><b style="background:linear-gradient(#00faff,#0ff 2px,#00ffdf 12px,#0f7 34px,#0f0 51px,#17ff00 54px,#91ff00 76px,#ff0 93px,#ff9800 108px,#ff3b00 125px)"></b><b style="background:linear-gradient(#00fbff,#0ff 1px,#00ffde 12px,#00ff75 34px,#0f0 51px,#19ff00 54px,#93ff00 76px,#ff0 92px,#ff9400 108px,#ff3800 125px)"></b><b style="background:linear-gradient(#00fcff,#0ff 1px,#0fd 12px,#00ff73 34px,#0f0 51px,#1cff00 54px,#90ff00 74px,#ff0 92px,#ff9100 108px,#ff3400 125px)"></b><b style="background:linear-gradient(#00fdff,#0ff 1px,#00ffdb 12px,#00ff71 34px,#0f0 50px,#1eff00 54px,#92ff00 74px,#ff0 91px,#ff8d00 108px,#ff3000 125px)"></b><b style="background:linear-gradient(#00feff,#0ff 0px,#00ffda 12px,#00ff6f 34px,#0f0 50px,#1aff00 54px,#95ff00 74px,#ff0 91px,#ff8a00 108px,#ff2d00 125px)"></b><b style="background:linear-gradient(#0ff,#0fd 10px,#00ff74 34px,#0f0 50px,#1cff00 54px,#98ff00 74px,#ff0 90px,#ff8700 108px,#ff2900 125px)"></b><b style="background:linear-gradient(#00fffe,#00ffdc 10px,#00ff72 34px,#0f0 49px,#1eff00 54px,#9aff00 74px,#ff0 90px,#ff8300 108px,#ff2500 125px)"></b><b style="background:linear-gradient(#00fffd,#00ffdb 10px,#00ff70 34px,#0f0 49px,#20ff00 54px,#9dff00 74px,#ff0 89px,#ff8000 108px,#f20 125px)"></b><b style="background:linear-gradient(#00fffc,#00ffd9 10px,#00ff6e 34px,#0f0 49px,#23ff00 54px,#9fff00 74px,#ff0 89px,#ff7d00 108px,#ff1e00 125px)"></b><b style="background:linear-gradient(#00fffb,#00ffd8 10px,#00ff6c 34px,#0f0 48px,#25ff00 54px,#9cff00 74px,#ff0 88px,#ff7900 108px,#ff1a00 125px)"></b><b style="background:linear-gradient(#00fffa,#00ffd7 10px,#00ff6b 34px,#0f0 48px,#27ff00 54px,#9eff00 74px,#ff0 88px,#ff7600 108px,#ff1700 125px)"></b><b style="background:linear-gradient(#00fff9,#00ffd5 10px,#00ff69 34px,#0f0 48px,#2aff00 54px,#a1ff00 74px,#ff0 88px,#ff7200 108px,#ff1300 125px)"></b><b style="background:linear-gradient(#00fff8,#00ffd4 10px,#00ff67 34px,#0f0 47px,#25ff00 52px,#a3ff00 74px,#ff0 87px,#ff6f00 108px,#ff0f00 125px)"></b><b style="background:linear-gradient(#00fff7,#00ffd3 10px,#00ff65 34px,#0f0 47px,#28ff00 52px,#a6ff00 74px,#ff0 87px,#ff6c00 108px,#ff0c00 125px)"></b><b style="background:linear-gradient(#00fff7,#00ffd2 10px,#00ff63 34px,#0f0 47px,#2aff00 52px,#a9ff00 74px,#ff0 86px,#ff6800 108px,#ff0800 125px)"></b><b style="background:linear-gradient(#00fff6,#00ffd0 10px,#00ff62 34px,#0f0 47px,#2cff00 52px,#abff00 74px,#ff0 86px,#ffe400 90px,#ff6500 108px,#ff0500 125px)"></b><b style="background:linear-gradient(#00fff5,#00ffcf 10px,#00ff60 34px,#0f0 46px,#2eff00 52px,#ff0 86px,#ffe200 90px,#ff4e00 112px,#ff0200 125px)"></b><b style="background:linear-gradient(#00fff4,#00ffd2 10px,#00ff5e 34px,#0f0 46px,#31ff00 52px,#ff0 85px,#ffdf00 90px,#f40 112px,#ff0d00 122px,#ff0100 125px)"></b><b style="background:linear-gradient(#00fff3,#00ffd1 10px,#00ff5c 34px,#0f0 46px,#3f0 52px,#ff0 85px,#ffe400 90px,#ff3a00 114px,#ff0900 122px,#f00 125px)"></b><b style="background:linear-gradient(#00fff2,#00ffd0 10px,#00ff5b 34px,#0f0 45px,#35ff00 52px,#ff0 85px,#ffe100 90px,#ff8100 102px,#ff3100 114px,#ff0600 122px,#f00 125px)"></b><b style="background:linear-gradient(#00fff1,#00ffcf 10px,#00ff5f 32px,#00ff36 38px,#0f0 45px,#31ff00 52px,#ff0 84px,#ffdf00 90px,#ff4700 110px,#ff0800 120px,#f00 125px)"></b><b style="background:linear-gradient(#00fff0,#00ffcd 10px,#00ff5d 32px,#00ff34 38px,#0f0 45px,#3f0 52px,#ff0 84px,#fd0 90px,#ff3d00 112px,#ff0500 120px,#f00 125px)"></b><b style="background:linear-gradient(#00ffef,#0fc 10px,#00ff5b 32px,#00ff32 38px,#0f0 45px,#35ff00 52px,#ff0 84px,#ffda00 90px,#ff3900 112px,#ff0700 120px,#f00 125px)"></b><b style="background:linear-gradient(#0fe,#00ffcb 10px,#00ff5a 32px,#00ff30 38px,#0f0 44px,#31ff00 50px,#ff0 83px,#ffd800 90px,#ff8200 100px,#ff2f00 112px,#ff0500 120px,#f00 125px)"></b><b style="background:linear-gradient(#00ffed,#00ffca 10px,#00ff58 32px,#00ff2e 38px,#0f0 44px,#3f0 50px,#ff0 83px,#ffd600 90px,#ff7800 102px,#ff2600 114px,#ff0300 120px,#f00 125px)"></b><b style="background:linear-gradient(#00ffec,#00ffc8 10px,#00ff56 32px,#00ff2c 38px,#0f0 44px,#35ff00 50px,#ff0 83px,#ffd400 90px,#ff7c00 100px,#f20 114px,#ff0400 118px,#f00 125px)"></b><b style="background:linear-gradient(#00ffeb,#00ffc7 10px,#00ff54 32px,#00ff2a 38px,#0f0 44px,#38ff00 50px,#adff00 70px,#ff0 81px,#ffd100 90px,#ff7200 102px,#ff1800 114px,#ff0200 118px,#f00 125px)"></b><b style="background:linear-gradient(#00ffea,#00ffcb 8px,#00ff59 32px,#00ff29 38px,#0f0 43px,#3aff00 50px,#b0ff00 70px,#ff0 81px,#ffcf00 90px,#ff7600 100px,#ff1500 114px,#ff0100 118px,#f00 125px)"></b><b style="background:linear-gradient(#00ffe9,#00ffc5 10px,#00ff4a 34px,#0f0 43px,#3cff00 50px,#b2ff00 70px,#ff0 81px,#ffcd00 90px,#ff6b00 102px,#ff0b00 116px,#f00 118px)"></b><b style="background:linear-gradient(#00ffe8,#00ffc3 10px,#00ff49 34px,#0f0 43px,#3fff00 50px,#b4ff00 70px,#ff0 80px,#ffcb00 90px,#ff7000 100px,#ff0e00 114px,#ff0100 118px,#f00 125px)"></b><b style="background:linear-gradient(#00ffe7,#00ffc2 10px,#00ff47 34px,#0f0 42px,#41ff00 50px,#ff0 80px,#ffc800 90px,#ff6c00 100px,#ff0a00 114px,#f00 118px)"></b><b style="background:linear-gradient(#00ffe7,#00ffc1 10px,#00ff45 34px,#0f0 42px,#3cff00 50px,#ff0 80px,#ffc600 90px,#ff6900 100px,#ff0d00 114px,#ff0100 116px,#f00 125px)"></b><b style="background:linear-gradient(#00ffe6,#00ffc0 10px,#00ff43 34px,#0f0 42px,#3eff00 50px,#ff0 79px,#ffc400 90px,#f60 100px,#ff0a00 114px,#f00 116px)"></b><b style="background:linear-gradient(#00ffe5,#00ffc3 8px,#00ff48 32px,#0f0 42px,#48ff00 50px,#ff0 79px,#ffc100 90px,#ff6b00 100px,#ff0d00 112px,#ff0100 116px,#f00 125px)"></b><b style="background:linear-gradient(#00ffe4,#00ffc2 8px,#00ff46 32px,#0f0 41px,#4aff00 50px,#ff0 78px,#fff800 80px,#ffbf00 90px,#ff6800 100px,#ff0a00 112px,#f00 116px)"></b><b style="background:linear-gradient(#00ffe3,#00ffc1 8px,#0f4 32px,#0f0 41px,#4cff00 50px,#ff0 78px,#ffbd00 90px,#ff6500 100px,#ff0d00 112px,#f00 114px)"></b><b style="background:linear-gradient(#00ffe2,#00ffc0 8px,#00ff43 32px,#0f0 41px,#4fff00 50px,#ff0 78px,#fb0 90px,#ff6100 100px,#ff0a00 112px,#f00 114px)"></b><b style="background:linear-gradient(#00ffe1,#00ffbe 8px,#00ff41 32px,#0f0 41px,#51ff00 50px,#ff0 77px,#fff800 78px,#ffb800 90px,#ff5e00 100px,#ff0700 112px,#f00 114px)"></b><b style="background:linear-gradient(#00ffe0,#00ffbd 8px,#00ff3f 32px,#0f0 40px,#53ff00 50px,#ff0 77px,#ffb600 90px,#ff6300 98px,#ff0a00 110px,#f00 114px)"></b><b style="background:linear-gradient(#00ffdf,#00ffbc 8px,#00ff3d 32px,#0f0 40px,#56ff00 50px,#ff0 77px,#fff900 78px,#ffb400 90px,#ff6000 98px,#ff0700 110px,#f00 112px)"></b><b style="background:linear-gradient(#00ffde,#0fb 8px,#00ff3c 32px,#0f0 40px,#58ff00 50px,#ff0 76px,#fff700 78px,#ffb200 90px,#ff5d00 98px,#ff0a00 110px,#f00 112px)"></b><b style="background:linear-gradient(#0fd,#00ffb9 8px,#00ff3a 32px,#0f0 40px,#5aff00 50px,#ff0 76px,#ffaf00 90px,#ff5a00 98px,#ff0700 110px,#f00 112px)"></b><b style="background:linear-gradient(#00ffdc,#00ffbd 8px,#00ff38 32px,#0f0 39px,#5cff00 50px,#ff0 76px,#fff900 76px,#ffad00 90px,#ff6000 98px,#ff0a00 108px,#f00 112px)"></b><b style="background:linear-gradient(#00ffdb,#00ffbc 8px,#00ff36 32px,#0f0 39px,#5fff00 50px,#ff0 75px,#fff700 76px,#ffab00 90px,#ff5d00 98px,#ff0800 108px,#f00 112px)"></b><b style="background:linear-gradient(#00ffda,#0fb 8px,#00ff35 32px,#0f0 39px,#5aff00 50px,#ff0 75px,#ffa800 90px,#ff5a00 98px,#ff0b00 108px,#f00 110px)"></b><b style="background:linear-gradient(#00ffd9,#00ffba 8px,#0f3 32px,#0f0 39px,#5cff00 50px,#ff0 74px,#fff800 76px,#ffa600 90px,#ff5700 98px,#ff0800 108px,#f00 110px)"></b><b style="background:linear-gradient(#00ffd8,#00ffb9 8px,#00ff31 32px,#0f0 38px,#5fff00 50px,#ff0 74px,#fff600 76px,#ffa400 90px,#ff5400 98px,#ff0600 108px,#f00 110px)"></b><b style="background:linear-gradient(#00ffd8,#00ff2f 32px,#0f0 38px,#61ff00 50px,#ff0 74px,#fff400 76px,#ffa200 90px,#ff5900 96px,#ff0900 106px,#f00 110px)"></b><b style="background:linear-gradient(#00ffd7,#00ff2e 32px,#0f0 38px,#63ff00 50px,#ff0 73px,#fff800 74px,#ff9f00 90px,#ff5700 96px,#ff0600 106px,#f00 108px)"></b><b style="background:linear-gradient(#00ffd6,#00ff2c 32px,#0f0 38px,#6f0 50px,#ff0 73px,#fff600 74px,#ff9d00 90px,#ff5400 96px,#ff0a00 106px,#f00 108px)"></b><b style="background:linear-gradient(#00ffd5,#00ff2a 32px,#0f0 37px,#68ff00 50px,#ff0 73px,#fff400 74px,#ff9b00 90px,#ff5100 96px,#ff0700 106px,#f00 108px)"></b><b style="background:linear-gradient(#00ffd4,#00ff28 32px,#0f0 37px,#6aff00 50px,#ff0 72px,#fff200 74px,#ff9800 90px,#ff5700 96px,#ff0b00 104px,#f00 108px)"></b><b style="background:linear-gradient(#00ffd3,#00ff27 32px,#0f0 37px,#6dff00 50px,#ff0 72px,#fff600 74px,#ff9600 90px,#ff4b00 96px,#ff0800 104px,#f00 108px)"></b><b style="background:linear-gradient(#00ffd2,#00ff25 32px,#0f0 37px,#6fff00 50px,#ff0 72px,#fff300 74px,#ff9400 90px,#ff4800 96px,#ff0600 104px,#f00 106px)"></b><b style="background:linear-gradient(#00ffd1,#00ff23 32px,#0f0 37px,#71ff00 50px,#ff0 71px,#fff100 74px,#ff9200 90px,#ff4e00 96px,#ff0900 104px,#f00 106px)"></b><b style="background:linear-gradient(#00ffd0,#00ff21 32px,#0f0 36px,#74ff00 50px,#ff0 71px,#ffef00 74px,#ff8f00 90px,#ff4c00 96px,#ff0700 104px,#f00 106px)"></b><b style="background:linear-gradient(#00ffcf,#00ff20 32px,#0f0 36px,#76ff00 50px,#ff0 71px,#ff8d00 90px,#ff3f00 96px,#ff0500 104px,#f00 125px)"></b><b style="background:linear-gradient(#00ffce,#00ff1e 32px,#0f0 36px,#78ff00 50px,#ff0 71px,#ff8b00 90px,#ff4600 96px,#ff0800 102px,#f00 106px)"></b><b style="background:linear-gradient(#00ffcd,#00ff1c 32px,#0f0 36px,#7aff00 50px,#ff0 71px,#ff8900 90px,#ff4300 96px,#ff0600 102px,#f00 104px)"></b><b style="background:linear-gradient(#0fc,#00ff1a 32px,#0f0 35px,#7dff00 50px,#ff0 70px,#ffe600 74px,#ff8e00 88px,#ff4000 96px,#ff0a00 102px,#f00 104px)"></b><b style="background:linear-gradient(#00ffcb,#00ff19 32px,#0f0 35px,#7fff00 50px,#ff0 69px,#ffe400 74px,#ff8c00 88px,#ff3d00 96px,#ff0700 102px,#f00 104px)"></b><b style="background:linear-gradient(#00ffca,#00ff1e 32px,#0f0 35px,#81ff00 50px,#ff0 69px,#ffe200 74px,#ff8900 88px,#ff3a00 96px,#ff0500 102px,#f00 104px)"></b><b style="background:linear-gradient(#00ffc9,#00ff1c 32px,#0f0 35px,#84ff00 50px,#ff0 69px,#ffe000 74px,#ff8700 88px,#ff3700 96px,#ff0900 100px,#f00 104px)"></b><b style="background:linear-gradient(#00ffc9,#00ff1a 32px,#0f0 34px,#86ff00 50px,#ff0 68px,#ffde00 74px,#ff8500 88px,#ff3400 96px,#ff0700 100px,#f00 102px)"></b><b style="background:linear-gradient(#00ffc8,#00ff19 32px,#0f0 34px,#8f0 50px,#ff0 69px,#ff8300 88px,#ff3100 96px,#ff0500 100px,#f00 125px)"></b><b style="background:linear-gradient(#00ffc7,#00ff17 32px,#0f0 34px,#8bff00 50px,#ff0 68px,#ff8100 88px,#ff6e00 90px,#ff3900 94px,#ff0900 100px,#f00 102px)"></b><b style="background:linear-gradient(#00ffc6,#00ff15 32px,#0f0 34px,#8dff00 50px,#ff0 68px,#ff7e00 88px,#ff2c00 96px,#ff0700 100px,#f00 102px)"></b><b style="background:linear-gradient(#00ffc5,#00ff13 32px,#0f0 34px,#8fff00 50px,#ff0 67px,#ff7c00 88px,#ff2900 96px,#ff0500 100px,#f00 125px)"></b><b style="background:linear-gradient(#00ffc4,#00ff12 32px,#0f0 33px,#92ff00 50px,#ff0 67px,#ff7a00 88px,#ff2600 96px,#ff0300 100px,#f00 125px)"></b><b style="background:linear-gradient(#00ffc3,#00ff10 32px,#0f0 33px,#8dff00 48px,#ff0 67px,#ff7800 88px,#ff6400 90px,#ff2e00 94px,#ff0700 98px,#f00 100px)"></b><b style="background:linear-gradient(#00ffc2,#00ff0e 32px,#0f0 33px,#8fff00 48px,#ff0 66px,#ff7500 88px,#ff6200 90px,#ff2b00 94px,#ff0500 98px,#f00 100px)"></b><b style="background:linear-gradient(#00ffc1,#00ff0c 32px,#0f0 33px,#91ff00 48px,#ff0 66px,#ff7300 88px,#ff5f00 90px,#ff1d00 96px,#ff0400 98px,#f00 125px)"></b><b style="background:linear-gradient(#00ffc0,#00ff12 30px,#0f0 32px,#94ff00 48px,#ff0 66px,#ff7100 88px,#ff5d00 90px,#ff2600 94px,#ff0800 98px,#f00 100px)"></b><b style="background:linear-gradient(#00ffbf,#00ff10 30px,#0f0 32px,#96ff00 48px,#ff0 65px,#ff6f00 88px,#ff5b00 90px,#ff2300 94px,#ff0600 98px,#f00 100px)"></b><b style="background:linear-gradient(#00ffbe,#00ff0e 30px,#0f0 32px,#98ff00 48px,#ff0 65px,#ff6c00 88px,#ff5800 90px,#ff2000 94px,#ff0400 98px,#f00 125px)"></b><b style="background:linear-gradient(#00ffbd,#00ff0d 30px,#0f0 32px,#9bff00 48px,#ff0 65px,#ff6a00 88px,#ff5600 90px,#ff1d00 94px,#ff0300 98px,#f00 125px)"></b><b style="background:linear-gradient(#00ffbc,#00ff12 30px,#0f0 31px,#9dff00 48px,#ff0 64px,#ff6800 88px,#ff5300 90px,#ff1a00 94px,#ff0700 96px,#f00 98px)"></b><b style="background:linear-gradient(#0fb,#00ff10 30px,#0f0 31px,#9fff00 48px,#ff0 64px,#f60 88px,#ff5100 90px,#ff1800 94px,#ff0500 96px,#f00 98px)"></b><b style="background:linear-gradient(#00ffba,#00ff0e 30px,#0f0 31px,#a2ff00 48px,#ff0 64px,#ff6400 88px,#ff4f00 90px,#ff1500 94px,#ff0400 96px,#f00 125px)"></b><b style="background:linear-gradient(#00ffb9,#00ff0d 30px,#0f0 31px,#a4ff00 48px,#ff0 63px,#ff6100 88px,#ff4c00 90px,#ff1200 94px,#ff0300 96px,#f00 125px)"></b><b style="background:linear-gradient(#00ffb9,#00ff0b 30px,#0f0 31px,#7bff00 44px,#adff00 50px,#ff0 63px,#ff5f00 88px,#ff0700 96px,#f00 98px)"></b><b style="background:linear-gradient(#00ffb8,#00ff09 30px,#0f0 30px,#74ff00 42px,#b0ff00 50px,#ff0 62px,#ff5d00 88px,#ff4800 90px,#ff1900 94px,#ff0500 96px,#f00 98px)"></b><b style="background:linear-gradient(#00ffb7,#0f0 30px,#76ff00 42px,#b2ff00 50px,#ff0 62px,#ff5b00 88px,#ff4500 90px,#ff1700 94px,#ff0400 96px,#f00 125px)"></b><b style="background:linear-gradient(#00ffb6,#0f0 30px,#79ff00 42px,#b4ff00 50px,#ff0 62px,#ff5800 88px,#ff4300 90px,#ff1400 94px,#ff0300 96px,#f00 125px)"></b><b style="background:linear-gradient(#00ffb5,#0f0 30px,#7bff00 42px,#b7ff00 50px,#ff0 61px,#ff5600 88px,#ff4100 90px,#ff1200 94px,#ff0200 96px,#f00 125px)"></b><b style="background:linear-gradient(#00ffb4,#0f0 30px,#74ff00 42px,#b9ff00 50px,#ff0 61px,#ff5400 88px,#ff0600 94px,#f00 96px)"></b><b style="background:linear-gradient(#00ffb3,#00ff39 20px,#0f0 29px,#80ff00 42px,#bf0 50px,#ff0 60px,#ff5200 88px,#ff0500 94px,#f00 125px)"></b><b style="background:linear-gradient(#00ffb2,#00ff38 20px,#0f0 29px,#82ff00 42px,#bdff00 50px,#ff0 60px,#ff4f00 88px,#ff3900 90px,#ff0c00 94px,#ff0400 94px,#f00 125px)"></b><b style="background:linear-gradient(#00ffb1,#00ff36 20px,#0f0 29px,#84ff00 42px,#c0ff00 50px,#ff0 60px,#ff4d00 88px,#ff3700 90px,#ff1600 92px,#ff0300 94px,#f00 125px)"></b><b style="background:linear-gradient(#00ffb0,#00ff34 20px,#0f0 29px,#bf0 48px,#ff0 59px,#ff4b00 88px,#ff3500 90px,#ff1400 92px,#ff0200 94px,#f00 125px)"></b><b style="background:linear-gradient(#00ffaf,#0f3 20px,#0f0 28px,#bdff00 48px,#ff0 59px,#ff4900 88px,#ff0700 94px,#f00 96px)"></b><b style="background:linear-gradient(#00ffae,#00ff31 20px,#0f0 28px,#c0ff00 48px,#ff0 59px,#ff4700 88px,#ff0600 94px,#f00 96px)"></b><b style="background:linear-gradient(#00ffad,#00ff30 20px,#0f0 28px,#c2ff00 48px,#ff0 58px,#f40 88px,#ff0500 94px,#f00 125px)"></b><b style="background:linear-gradient(#00ffac,#00ff2e 20px,#0f0 28px,#c4ff00 48px,#ff0 58px,#ff4200 88px,#ff0400 94px,#f00 125px)"></b><b style="background:linear-gradient(#00ffab,#00ff2d 20px,#0f0 27px,#c7ff00 48px,#ff0 58px,#ff4000 88px,#ff0300 94px,#f00 125px)"></b><b style="background:linear-gradient(#0fa,#00ff2b 20px,#0f0 27px,#c9ff00 48px,#ff0 57px,#ff3e00 88px,#ff0900 92px,#ff0200 94px,#f00 125px)"></b><b style="background:linear-gradient(#0fa,#00ff2a 20px,#0f0 27px,#cbff00 48px,#ff0 57px,#ff3b00 88px,#ff0800 92px,#ff0200 94px,#f00 125px)"></b><b style="background:linear-gradient(#00ffa9,#00ff28 20px,#0f0 27px,#ceff00 48px,#ff0 56px,#ff4000 88px,#ff3000 90px,#ff0700 92px,#ff0100 94px,#f00 125px)"></b><b style="background:linear-gradient(#00ffa8,#00ff27 20px,#0f0 26px,#d0ff00 48px,#ff0 56px,#ff3e00 88px,#ff2e00 90px,#ff0600 92px,#f00 94px)"></b><b style="background:linear-gradient(#00ffa7,#00ff25 20px,#0f0 26px,#d2ff00 48px,#ff0 56px,#ff3c00 88px,#ff2b00 90px,#ff0500 92px,#f00 94px)"></b><b style="background:linear-gradient(#00ffa6,#0f0 26px,#06ff00 26px,#d5ff00 48px,#ff0 55px,#ff3900 88px,#ff2900 90px,#ff0400 92px,#f00 125px)"></b><b style="background:linear-gradient(#00ffa5,#0f2 20px,#0f0 25px,#d7ff00 48px,#ff0 55px,#ff3700 88px,#ff0400 92px,#f00 125px)"></b><b style="background:linear-gradient(#00ffa4,#00ff21 20px,#0f0 25px,#d9ff00 48px,#ff0 55px,#ff3500 88px,#ff0300 92px,#f00 125px)"></b><b style="background:linear-gradient(#00ffa3,#0f0 25px,#dcff00 48px,#ff0 54px,#f30 88px,#ff0200 92px,#f00 125px)"></b><b style="background:linear-gradient(#00ffa2,#0f0 24px,#07ff00 26px,#deff00 48px,#ff0 54px,#ff3000 88px,#ff0200 92px,#f00 125px)"></b><b style="background:linear-gradient(#00ffa1,#0f0 24px,#e0ff00 48px,#ff0 54px,#ff2e00 88px,#ff0200 92px,#f00 125px)"></b><b style="background:linear-gradient(#00ffa0,#0f0 24px,#e3ff00 48px,#ff0 53px,#ff2c00 88px,#ff0200 92px,#f00 125px)"></b><b style="background:linear-gradient(#00ff9f,#0f0 24px,#06ff00 24px,#e5ff00 48px,#ff0 53px,#ff2a00 88px,#ff0100 92px,#f00 125px)"></b><b style="background:linear-gradient(#00ff9e,#0f0 23px,#08ff00 24px,#e7ff00 48px,#ff0 52px,#ff2800 88px,#ff0600 92px,#f00 94px)"></b><b style="background:linear-gradient(#00ff9d,#0f0 23px,#eaff00 48px,#ff0 52px,#ff2500 88px,#ff0500 92px,#f00 94px)"></b><b style="background:linear-gradient(#00ff9c,#0f0 23px,#ecff00 48px,#ff0 52px,#ff2300 88px,#ff0400 92px,#f00 125px)"></b><b style="background:linear-gradient(#00ff9b,#0f0 22px,#08ff00 24px,#ef0 48px,#ff0 51px,#ff0400 92px,#f00 125px)"></b><b style="background:linear-gradient(#00ff9b,#0f0 22px,#0aff00 24px,#f1ff00 48px,#ff0 51px,#ff0300 92px,#f00 125px)"></b><b style="background:linear-gradient(#00ff9a,#0f0 22px,#f3ff00 48px,#ff0 50px,#ff0700 90px,#f00 92px)"></b><b style="background:linear-gradient(#0f9,#0f0 22px,#07ff00 22px,#f5ff00 48px,#ff0 50px,#ff0600 90px,#f00 92px)"></b><b style="background:linear-gradient(#00ff98,#0f0 21px,#09ff00 22px,#f8ff00 48px,#ff0 50px,#ff0500 90px,#f00 125px)"></b><b style="background:linear-gradient(#00ff97,#0f0 21px,#faff00 48px,#ff0 49px,#ff0400 90px,#f00 125px)"></b><b style="background:linear-gradient(#00ff96,#0f0 21px,#06ff00 22px,#ff0 49px,#ff0800 90px,#f00 92px)"></b><b style="width:2px;background:linear-gradient(#00ff95,#0f0 21px,#ff0 49px,#ff0700 90px,#f00 92px)"></b></div>
<div class="fr r2" style="left:1089px;top:2423px;width:1055px;height:291px"><i style="background:linear-gradient(90deg,#000dff,#0ff 202px,#0f0 358px,#f9ff00 528px,#ff0 532px,#ff0500 736px,#f00 1055px)"></i><i style="background:linear-gradient(90deg,#000dff,#0ff 199px,#0f0 354px,#f9ff00 520px,#ff0 526px,#ff0600 726px,#f00 738px)"></i><i style="background:linear-gradient(90deg,#000dff,#0ff 195px,#0f0 349px,#f9ff00 514px,#ff0 518px,#ff0600 718px,#f00 728px)"></i><i style="background:linear-gradient(90deg,#000dff,#0ff 192px,#0f0 344px,#fcff00 508px,#ff0 511px,#ff0600 708px,#f00 720px)"></i><i style="background:linear-gradient(90deg,#000dff,#0ff 189px,#0f0 339px,#fdff00 502px,#ff0 503px,#ff0600 700px,#f00 710px)"></i><i style="background:linear-gradient(90deg,#000dff,#0ff 186px,#0f0 334px,#fcff00 494px,#ff0 497px,#ff0500 692px,#f00 702px)"></i><i style="background:linear-gradient(90deg,#000dff,#0ff 183px,#00fffe 184px,#0f0 329px,#feff00 488px,#ff0 490px,#ff0600 682px,#f00 692px)"></i><i style="background:linear-gradient(90deg,#000dff,#0ff 180px,#00fffe 180px,#0f0 325px,#fdff00 482px,#ff0 483px,#ff0500 674px,#f00 684px)"></i><i style="background:linear-gradient(90deg,#000dff,#0ff 177px,#0f0 320px,#fcff00 474px,#ff0 477px,#ff0500 666px,#f00 676px)"></i><i style="background:linear-gradient(90deg,#000dff,#0ff 174px,#0f0 316px,#fdff00 468px,#ff0 470px,#ff0500 658px,#f00 668px)"></i><i style="background:linear-gradient(90deg,#000dff,#0ff 171px,#0f0 312px,#fdff00 462px,#ff0 464px,#ff0500 650px,#f00 660px)"></i><i style="background:linear-gradient(90deg,#000dff,#0ff 168px,#0f0 307px,#feff00 456px,#ff0 458px,#ff0500 642px,#f00 652px)"></i><i style="background:linear-gradient(90deg,#000dff,#0ff 166px,#0f0 303px,#fcff00 450px,#ff0 452px,#ff0400 636px,#f00 1055px)"></i><i style="background:linear-gradient(90deg,#000dff,#0ff 163px,#0f0 299px,#fdff00 444px,#ff0 446px,#ff0400 628px,#f00 1055px)"></i><i style="background:linear-gradient(90deg,#000dff,#0ff 161px,#0f0 295px,#fdff00 438px,#ff0 440px,#ff0500 620px,#f00 628px)"></i><i style="background:linear-gradient(90deg,#000dff,#0ff 158px,#0f0 291px,#fdff00 432px,#ff0 434px,#ff0400 612px,#f00 1055px)"></i><i style="background:linear-gradient(90deg,#000dff,#0ff 156px,#00fffe 156px,#0f0 288px,#fcff00 426px,#ff0 429px,#ff0500 604px,#f00 614px)"></i><i style="background:linear-gradient(90deg,#000dff,#0ff 153px,#0f0 284px,#fdff00 422px,#ff0 423px,#ff0400 598px,#f00 1055px)"></i><i style="background:linear-gradient(90deg,#000dff,#0ff 151px,#0f0 280px,#fdff00 416px,#ff0 418px,#ff0400 590px,#f00 1055px)"></i><i style="background:linear-gradient(90deg,#000dff,#0ff 149px,#00fffd 150px,#0f0 277px,#fcff00 410px,#ff0 412px,#ff0400 584px,#f00 1055px)"></i><i style="background:linear-gradient(90deg,#000dff,#0ff 146px,#0f0 273px,#fcff00 406px,#ff0 407px,#ff0400 576px,#f00 1055px)"></i><i style="background:linear-gradient(90deg,#000dff,#0ff 144px,#0f0 270px,#fdff00 400px,#ff0 402px,#ff0400 570px,#f00 1055px)"></i><i style="background:linear-gradient(90deg,#000dff,#0ff 142px,#0f0 266px,#fcff00 396px,#ff0 397px,#ff0400 562px,#f00 1055px)"></i><i style="background:linear-gradient(90deg,#000dff,#0ff 140px,#0f0 263px,#fcff00 390px,#ff0 392px,#ff0400 556px,#f00 1055px)"></i><i style="background:linear-gradient(90deg,#000dff,#0ff 138px,#0f0 260px,#feff00 386px,#ff0 387px,#ff0400 548px,#f00 1055px)"></i><i style="background:linear-gradient(90deg,#000dff,#0ff 136px,#0f0 256px,#fdff00 382px,#ff0 383px,#ff0400 542px,#f00 1055px)"></i><i style="background:linear-gradient(90deg,#000dff,#0ff 134px,#0f0 253px,#fcff00 376px,#ff0 378px,#ff0400 534px,#f00 1055px)"></i><i style="background:linear-gradient(90deg,#000dff,#0ff 132px,#0f0 250px,#fdff00 372px,#ff0 374px,#ff0300 528px,#f00 1055px)"></i><i style="background:linear-gradient(90deg,#000dff,#0ff 130px,#0f0 247px,#fcff00 368px,#ff0 369px,#ff0400 522px,#f00 1055px)"></i><i style="background:linear-gradient(90deg,#000dff,#0ff 128px,#0f0 244px,#fdff00 364px,#ff0 365px,#ff0300 516px,#f00 1055px)"></i><i style="background:linear-gradient(90deg,#000dff,#0ff 127px,#0f0 241px,#fdff00 360px,#ff0 361px,#ff0400 508px,#f00 1055px)"></i><i style="background:linear-gradient(90deg,#000dff,#0ff 125px,#0f0 238px,#fdff00 356px,#ff0 356px,#ff0300 502px,#f00 1055px)"></i><i style="background:linear-gradient(90deg,#000dff,#0ff 123px,#0f0 236px,#feff00 352px,#ff0 352px,#ff0300 496px,#f00 1055px)"></i><i style="background:linear-gradient(90deg,#000dff,#0ff 121px,#0f0 235px,#fdff00 348px,#ff0 348px,#ff0300 490px,#f00 1055px)"></i><i style="background:linear-gradient(90deg,#000eff,#0ff 120px,#0f0 232px,#fdff00 344px,#ff0 344px,#ff0300 484px,#f00 1055px)"></i><i style="background:linear-gradient(90deg,#000eff,#0ff 118px,#0f0 229px,#fdff00 340px,#ff0 341px,#ff0300 478px,#f00 1055px)"></i><i style="background:linear-gradient(90deg,#000eff,#0ff 117px,#0f0 227px,#fcff00 336px,#ff0 337px,#ff0200 474px,#f00 1055px)"></i><i style="background:linear-gradient(90deg,#000eff,#0ff 115px,#0f0 224px,#ff0 333px,#ff0300 468px,#f00 1055px)"></i><i style="background:linear-gradient(90deg,#000eff,#0ff 114px,#0f0 222px,#fdff00 328px,#ff0 330px,#ff0200 462px,#f00 1055px)"></i><i style="background:linear-gradient(90deg,#000eff,#0ff 112px,#0f0 219px,#fcff00 324px,#ff0 326px,#ff0300 456px,#f00 1055px)"></i><i style="background:linear-gradient(90deg,#000eff,#0ff 111px,#0f0 217px,#fdff00 322px,#ff0 323px,#ff0300 452px,#f00 1055px)"></i><i style="background:linear-gradient(90deg,#000eff,#0ff 109px,#0f0 214px,#ff0 319px,#ff0200 446px,#f00 1055px)"></i><i style="background:linear-gradient(90deg,#000eff,#0ff 108px,#0f0 212px,#fcff00 314px,#ff0 316px,#ff0200 442px,#f00 1055px)"></i><i style="background:linear-gradient(90deg,#000eff,#0ff 107px,#0f0 209px,#fdff00 312px,#ff0 313px,#ff0200 436px,#f00 1055px)"></i><i style="background:linear-gradient(90deg,#000eff,#0ff 105px,#0f0 207px,#ff0 309px,#ff0200 432px,#f00 1055px)"></i><i style="background:linear-gradient(90deg,#000eff,#0ff 104px,#0f0 205px,#ff0 306px,#ff0200 428px,#f00 1055px)"></i><i style="background:linear-gradient(90deg,#000eff,#0ff 103px,#0f0 203px,#fbff00 302px,#ff0 303px,#ff0200 422px,#f00 1055px)"></i><i style="background:linear-gradient(90deg,#000eff,#0ff 101px,#0f0 201px,#fcff00 298px,#ff0 300px,#ff0200 418px,#f00 1055px)"></i><i style="background:linear-gradient(90deg,#000eff,#0ff 100px,#0f0 199px,#fbff00 296px,#ff0 297px,#ff0100 414px,#f00 1055px)"></i><i style="background:linear-gradient(90deg,#000eff,#0ff 99px,#0f0 197px,#ff0 294px,#ff0200 410px,#f00 1055px)"></i><i style="background:linear-gradient(90deg,#000eff,#0ff 98px,#0f0 195px,#fdff00 290px,#ff0 291px,#ff0200 406px,#f00 1055px)"></i><i style="background:linear-gradient(90deg,#000eff,#0ff 97px,#0f0 193px,#fdff00 288px,#ff0 289px,#ff0200 402px,#f00 1055px)"></i><i style="background:linear-gradient(90deg,#000eff,#0ff 96px,#0f0 191px,#fcff00 284px,#ff0 286px,#ff0200 398px,#f00 1055px)"></i><i style="background:linear-gradient(90deg,#000eff,#0ff 94px,#0f0 189px,#fbff00 282px,#ff0 283px,#ff0200 394px,#f00 1055px)"></i><i style="background:linear-gradient(90deg,#000eff,#0ff 93px,#0f0 187px,#fdff00 280px,#ff0 280px,#ff0200 390px,#f00 1055px)"></i><i style="background:linear-gradient(90deg,#000eff,#0ff 92px,#0f0 185px,#fcff00 276px,#ff0 278px,#ff0100 386px,#f00 1055px)"></i><i style="background:linear-gradient(90deg,#000eff,#0ff 91px,#0f0 183px,#fdff00 274px,#ff0 275px,#ff0200 382px,#f00 1055px)"></i><i style="background:linear-gradient(90deg,#000eff,#0ff 90px,#0f0 181px,#fcff00 272px,#ff0 273px,#ff0100 380px,#f00 1055px)"></i><i style="background:linear-gradient(90deg,#000eff,#0ff 89px,#0f0 180px,#fdff00 270px,#ff0 270px,#ff0200 376px,#f00 1055px)"></i><i style="background:linear-gradient(90deg,#000eff,#0ff 88px,#0f0 178px,#fbff00 266px,#ff0 268px,#ff0100 372px,#f00 1055px)"></i><i style="background:linear-gradient(90deg,#000eff,#00fdff 86px,#0ff 87px,#0f0 175px,#fcff00 264px,#ff0 266px,#ff0100 370px,#f00 1055px)"></i><i style="background:linear-gradient(90deg,#000eff,#0ff 84px,#0f0 174px,#faff00 262px,#ff0 264px,#ff0200 366px,#f00 1055px)"></i><i style="background:linear-gradient(90deg,#000eff,#0ff 84px,#0f0 172px,#fbff00 260px,#ff0 261px,#ff0100 362px,#f00 1055px)"></i><i style="background:linear-gradient(90deg,#000eff,#0ff 83px,#0f0 171px,#fbff00 258px,#ff0 259px,#ff0100 360px,#f00 1055px)"></i><i style="background:linear-gradient(90deg,#000eff,#0ff 82px,#0f0 169px,#fcff00 256px,#ff0 257px,#ff0100 356px,#f00 1055px)"></i><i style="background:linear-gradient(90deg,#000eff,#0ff 82px,#0f0 168px,#fcff00 254px,#ff0 255px,#ff0100 354px,#f00 1055px)"></i><i style="background:linear-gradient(90deg,#000eff,#0ff 81px,#0f0 167px,#f9ff00 250px,#ff0 253px,#ff0100 350px,#f00 1055px)"></i><i style="background:linear-gradient(90deg,#000eff,#0ff 80px,#0f0 165px,#f9ff00 248px,#ff0 251px,#ff0100 348px,#f00 1055px)"></i><i style="background:linear-gradient(90deg,#000eff,#0ff 79px,#0f0 163px,#f9ff00 246px,#ff0 249px,#ff0100 346px,#f00 1055px)"></i><i style="background:linear-gradient(90deg,#000eff,#0ff 78px,#0f0 161px,#f9ff00 244px,#ff0 247px,#ff0100 342px,#f00 1055px)"></i><i style="background:linear-gradient(90deg,#000eff,#0ff 78px,#0f0 160px,#f9ff00 242px,#ff0 245px,#ff0100 340px,#f00 1055px)"></i><i style="background:linear-gradient(90deg,#000eff,#0ff 77px,#0f0 159px,#f8ff00 240px,#ff0 243px,#ff0100 338px,#f00 1055px)"></i><i style="background:linear-gradient(90deg,#000eff,#0ff 76px,#0f0 157px,#f8ff00 238px,#ff0 241px,#ff0100 334px,#f00 1055px)"></i><i style="background:linear-gradient(90deg,#000eff,#0ff 76px,#0f0 156px,#faff00 238px,#ff0 239px,#ff0100 332px,#f00 1055px)"></i><i style="background:linear-gradient(90deg,#000fff,#0ff 75px,#0f0 155px,#faff00 236px,#ff0 237px,#ff0100 330px,#f00 1055px)"></i><i style="background:linear-gradient(90deg,#000fff,#0ff 74px,#0f0 153px,#f9ff00 234px,#ff0 236px,#ff0100 328px,#f00 1055px)"></i><i style="background:linear-gradient(90deg,#000fff,#0ff 74px,#0f0 152px,#f8ff00 232px,#ff0 234px,#ff0100 326px,#f00 1055px)"></i><i style="background:linear-gradient(90deg,#000fff,#0ff 73px,#0f0 151px,#f7ff00 230px,#ff0 232px,#ff0100 322px,#f00 1055px)"></i><i style="background:linear-gradient(90deg,#000fff,#0ff 73px,#0f0 150px,#f9ff00 228px,#ff0 231px,#ff0100 320px,#f00 1055px)"></i><i style="background:linear-gradient(90deg,#000fff,#0ff 72px,#0f0 149px,#f7ff00 226px,#ff0 229px,#ff0100 318px,#f00 1055px)"></i><i style="background:linear-gradient(90deg,#000fff,#0ff 72px,#0f0 148px,#f6ff00 224px,#ff0 228px,#ff0100 316px,#f00 1055px)"></i><i style="background:linear-gradient(90deg,#000fff,#0ff 71px,#0f0 147px,#f8ff00 224px,#ff0 226px,#ff0100 314px,#f00 1055px)"></i><i style="background:linear-gradient(90deg,#000fff,#0ff 71px,#00ff04 144px,#0f0 146px,#f6ff00 222px,#ff0 225px,#ff0100 312px,#f00 1055px)"></i><i style="background:linear-gradient(90deg,#000fff,#0ff 70px,#00ff04 144px,#0f0 145px,#f7ff00 220px,#ff0 223px,#ff0100 310px,#f00 1055px)"></i><i style="background:linear-gradient(90deg,#000fff,#0ff 70px,#00ff04 142px,#0f0 144px,#f5ff00 218px,#ff0 222px,#ff0100 308px,#f00 1055px)"></i><i style="background:linear-gradient(90deg,#000fff,#0ff 69px,#00ff04 142px,#0f0 143px,#f7ff00 218px,#ff0 220px,#ff0100 306px,#f00 1055px)"></i><i style="background:linear-gradient(90deg,#000fff,#0ff 69px,#00ff04 140px,#0f0 142px,#f5ff00 216px,#ff0 219px,#ff0100 304px,#f00 1055px)"></i><i style="background:linear-gradient(90deg,#000fff,#0ff 68px,#00ff04 140px,#0f0 141px,#f6ff00 214px,#ff0 218px,#f00 304px)"></i><i style="background:linear-gradient(90deg,#000fff,#0ff 68px,#00ff04 138px,#0f0 140px,#f3ff00 212px,#ff0 216px,#ff0100 302px,#f00 1055px)"></i><i style="background:linear-gradient(90deg,#000fff,#0ff 67px,#0f0 139px,#f4ff00 212px,#ff0 215px,#ff0100 300px,#f00 1055px)"></i><i style="background:linear-gradient(90deg,#000fff,#0ff 67px,#0f0 138px,#ef0 208px,#ff0 214px,#ff0100 298px,#f00 1055px)"></i><i style="background:linear-gradient(90deg,#000fff,#0ff 67px,#0f0 137px,#f3ff00 208px,#ff0 213px,#f00 296px)"></i><i style="background:linear-gradient(90deg,#000fff,#0ff 66px,#00ff03 136px,#0f0 136px,#ecff00 206px,#ff0 212px,#ff0100 294px,#f00 1055px)"></i><i style="background:linear-gradient(90deg,#000fff,#0ff 66px,#00ff04 134px,#0f0 136px,#f4ff00 206px,#ff0 210px,#f00 294px)"></i><i style="background:linear-gradient(90deg,#000fff,#0ff 65px,#0f0 135px,#0dff00 138px,#ff0 209px,#ff0100 292px,#f00 1055px)"></i><i style="background:linear-gradient(90deg,#000fff,#0ff 65px,#0f0 134px,#f5ff00 204px,#ff0 208px,#f00 290px)"></i><i style="background:linear-gradient(90deg,#000fff,#0ff 65px,#0f0 133px,#0bff00 136px,#ff0 206px,#ff0100 288px,#f00 1055px)"></i><i style="background:linear-gradient(90deg,#000fff,#0ff 64px,#00ff04 132px,#0f0 133px,#f2ff00 202px,#ff0 206px,#f00 288px)"></i><i style="background:linear-gradient(90deg,#000fff,#0ff 64px,#00ff05 130px,#0f0 132px,#f5ff00 202px,#ff0 205px,#f00 286px)"></i><i style="background:linear-gradient(90deg,#000fff,#0ff 64px,#0f0 131px,#f2ff00 200px,#ff0 204px,#ff0100 284px,#f00 1055px)"></i><i style="background:linear-gradient(90deg,#000fff,#0ff 63px,#00ff04 130px,#0f0 131px,#f5ff00 200px,#ff0 203px,#f00 284px)"></i><i style="background:linear-gradient(90deg,#000fff,#0ff 63px,#00ff05 128px,#0f0 130px,#f5ff00 198px,#ff0 202px,#f00 282px)"></i><i style="background:linear-gradient(90deg,#000fff,#0ff 63px,#0f0 129px,#f1ff00 196px,#ff0 201px,#ff0100 280px,#f00 1055px)"></i><i style="background:linear-gradient(90deg,#000fff,#0ff 62px,#00ff04 128px,#0f0 129px,#f5ff00 196px,#ff0 200px,#ff0100 280px,#f00 1055px)"></i><i style="background:linear-gradient(90deg,#000fff,#0ff 62px,#0f0 128px,#f4ff00 196px,#ff0 199px,#ff0100 278px,#f00 1055px)"></i><i style="background:linear-gradient(90deg,#000fff,#0ff 62px,#00ff04 126px,#0f0 128px,#f7ff00 196px,#ff0 198px,#f00 278px)"></i><i style="background:linear-gradient(90deg,#000fff,#0ff 62px,#0f0 127px,#f7ff00 194px,#ff0 197px,#f00 276px)"></i><i style="background:linear-gradient(90deg,#000fff,#0ff 61px,#00ff04 126px,#0f0 126px,#f6ff00 194px,#ff0 196px,#f00 276px)"></i><i style="background:linear-gradient(90deg,#000fff,#0ff 61px,#0f0 126px,#f6ff00 192px,#ff0 195px,#f00 274px)"></i><i style="background:linear-gradient(90deg,#000fff,#0ff 61px,#00ff04 124px,#0f0 126px,#f8ff00 192px,#ff0 195px,#f00 274px)"></i><i style="background:linear-gradient(90deg,#000fff,#0ff 61px,#0f0 125px,#f8ff00 192px,#ff0 194px,#f00 272px)"></i><i style="background:linear-gradient(90deg,#000fff,#0ff 60px,#00ff04 124px,#0f0 125px,#f7ff00 190px,#ff0 193px,#f00 272px)"></i><i style="background:linear-gradient(90deg,#000fff,#0ff 60px,#0f0 124px,#f9ff00 190px,#ff0 192px,#f00 270px)"></i><i style="background:linear-gradient(90deg,#000fff,#0ff 60px,#00ff05 122px,#0f0 124px,#f8ff00 190px,#ff0 192px,#f00 270px)"></i><i style="background:linear-gradient(90deg,#000fff,#0ff 60px,#00ff03 122px,#0f0 123px,#f7ff00 188px,#ff0 191px,#ff0100 268px,#f00 1055px)"></i><i style="background:linear-gradient(90deg,#000fff,#0ff 60px,#0f0 123px,#faff00 188px,#ff0 190px,#ff0100 268px,#f00 1055px)"></i><i style="background:linear-gradient(90deg,#000fff,#0ff 59px,#00ff04 122px,#0f0 123px,#f8ff00 188px,#ff0 190px,#ff0100 266px,#f00 1055px)"></i><i style="background:linear-gradient(90deg,#000fff,#0ff 59px,#0f0 122px,#fbff00 188px,#ff0 189px,#f00 266px)"></i><i style="background:linear-gradient(90deg,#000fff,#0ff 59px,#0f0 122px,#f9ff00 186px,#ff0 188px,#f00 266px)"></i><i style="background:linear-gradient(90deg,#000fff,#0ff 59px,#0f0 122px,#f8ff00 186px,#ff0 188px,#ff0100 264px,#f00 1055px)"></i><i style="background:linear-gradient(90deg,#000fff,#0ff 59px,#00ff03 120px,#0f0 121px,#faff00 186px,#ff0 187px,#ff0100 264px,#f00 1055px)"></i><i style="background:linear-gradient(90deg,#000fff,#0ff 59px,#0f0 121px,#fcff00 186px,#ff0 186px,#f00 264px)"></i><i style="background:linear-gradient(90deg,#000fff,#0ff 59px,#0f0 121px,#faff00 184px,#ff0 186px,#f00 262px)"></i><i style="background:linear-gradient(90deg,#000fff,#0ff 58px,#0f0 121px,#f8ff00 184px,#ff0 186px,#ff0100 262px,#f00 1055px)"></i><i style="background:linear-gradient(90deg,#000fff,#0ff 58px,#0f0 120px,#faff00 184px,#ff0 185px,#f00 262px)"></i><i style="background:linear-gradient(90deg,#000fff,#0ff 58px,#0f0 120px,#fcff00 184px,#ff0 184px,#f00 260px)"></i><i style="background:linear-gradient(90deg,#000fff,#0ff 58px,#0f0 120px,#faff00 182px,#ff0 184px,#f00 260px)"></i><i style="background:linear-gradient(90deg,#000fff,#0ff 58px,#0f0 120px,#fcff00 182px,#ff0 184px,#f00 260px)"></i><i style="background:linear-gradient(90deg,#000fff,#0ff 58px,#0f0 120px,#f9ff00 182px,#ff0 183px,#ff0100 258px,#f00 1055px)"></i><i style="background:linear-gradient(90deg,#000fff,#0ff 58px,#0f0 120px,#fbff00 182px,#ff0 183px,#f00 258px)"></i><i style="background:linear-gradient(90deg,#000fff,#0ff 58px,#0f0 120px,#ff0 182px,#ff0100 258px,#f00 1055px)"></i><i style="background:linear-gradient(90deg,#000fff,#0ff 58px,#0f0 120px,#faff00 180px,#ff0 182px,#f00 258px)"></i><i style="background:linear-gradient(90deg,#000fff,#0ff 58px,#0f0 120px,#fbff00 180px,#ff0 182px,#ff0100 256px,#f00 1055px)"></i><i style="background:linear-gradient(90deg,#000fff,#0ff 58px,#0f0 119px,#ff0 181px,#f00 256px)"></i><i style="background:linear-gradient(90deg,#000fff,#0ff 59px,#0f0 120px,#faff00 180px,#ff0 181px,#f00 256px)"></i><i style="background:linear-gradient(90deg,#000fff,#0ff 59px,#0f0 120px,#fbff00 180px,#ff0 181px,#ff0100 256px,#f00 1055px)"></i><i style="background:linear-gradient(90deg,#000fff,#0ff 60px,#0f0 120px,#ff0 180px,#f00 256px)"></i><i style="background:linear-gradient(90deg,#000fff,#0ff 60px,#0f0 120px,#ff0 180px,#ff0100 254px,#f00 1055px)"></i><i style="background:linear-gradient(90deg,#000fff,#0ff 60px,#0f0 120px,#fbff00 178px,#ff0 180px,#ff0100 254px,#f00 1055px)"></i><i style="background:linear-gradient(90deg,#000fff,#0ff 60px,#0f0 120px,#fcff00 178px,#ff0 179px,#f00 254px)"></i><i style="background:linear-gradient(90deg,#000fff,#0ff 60px,#0f0 120px,#ff0 179px,#f00 254px)"></i><i style="background:linear-gradient(90deg,#000fff,#0ff 60px,#0f0 120px,#ff0 179px,#ff0100 254px,#f00 1055px)"></i><i style="background:linear-gradient(90deg,#000fff,#0ff 61px,#0f0 120px,#ff0 179px,#f00 254px)"></i><i style="background:linear-gradient(90deg,#000fff,#0ff 61px,#0f0 120px,#ff0 178px,#f00 254px)"></i><i style="background:linear-gradient(90deg,#000fff,#0ff 61px,#0f0 120px,#fcff00 178px,#ff0 178px,#f00 254px)"></i><i style="height:1px;background:linear-gradient(90deg,#000fff,#0ff 61px,#0f0 120px,#fcff00 178px,#ff0 178px,#ff0100 252px,#f00 1055px)"></i></div>
<div class="fk k3" style="left:2144px;top:2298px;width:209px;height:416px"><b style="background:linear-gradient(#0f8,#0f0 17px,#ff0 45px,#ff0f00 88px,#f00 92px)"></b><b style="background:linear-gradient(#00ff87,#0f0 17px,#ff0 44px,#ff0f00 88px,#f00 92px)"></b><b style="background:linear-gradient(#00ff87,#0f0 17px,#ff0 44px,#ff1000 88px,#ff0100 92px,#f00 416px)"></b><b style="background:linear-gradient(#00ff87,#0f0 17px,#ff0 44px,#ff1000 88px,#ff0100 92px,#f00 416px)"></b><b style="background:linear-gradient(#00ff86,#0f0 16px,#ff0 44px,#f10 88px,#ff0200 92px,#f00 416px)"></b><b style="background:linear-gradient(#00ff86,#0f0 16px,#ff0 44px,#f10 88px,#ff0200 92px,#f00 416px)"></b><b style="background:linear-gradient(#00ff86,#0f0 16px,#ff0 44px,#ff1200 88px,#ff0200 92px,#f00 416px)"></b><b style="background:linear-gradient(#00ff85,#0f0 16px,#ff0 44px,#ff1200 88px,#ff0300 92px,#f00 416px)"></b><b style="background:linear-gradient(#00ff85,#0f0 16px,#ff0 44px,#ff1200 88px,#ff0300 92px,#f00 416px)"></b><b style="background:linear-gradient(#00ff85,#0f0 16px,#ff0 44px,#ff1300 88px,#ff0400 92px,#f00 416px)"></b><b style="background:linear-gradient(#00ff84,#0f0 16px,#ff0 44px,#ff1300 88px,#ff0400 92px,#f00 416px)"></b><b style="background:linear-gradient(#00ff84,#0f0 16px,#ff0 44px,#ff1400 88px,#ff0400 92px,#f00 416px)"></b><b style="background:linear-gradient(#00ff84,#00ff08 16px,#0f0 16px,#ff0 44px,#ff1400 88px,#ff0500 92px,#f00 96px)"></b><b style="background:linear-gradient(#00ff83,#00ff08 16px,#0f0 16px,#ff0 44px,#ff1500 88px,#ff0500 92px,#f00 98px)"></b><b style="background:linear-gradient(#00ff83,#00ff08 16px,#0f0 16px,#ff0 44px,#ff1500 88px,#ff0400 94px,#f00 416px)"></b><b style="background:linear-gradient(#00ff83,#00ff08 16px,#0f0 16px,#ff0 44px,#ff1500 88px,#ff0400 94px,#f00 416px)"></b><b style="background:linear-gradient(#00ff83,#00ff07 16px,#0f0 16px,#ff0 44px,#ff1600 88px,#ff0500 94px,#f00 98px)"></b><b style="background:linear-gradient(#00ff82,#00ff07 16px,#0f0 16px,#ff0 44px,#ff1600 88px,#ff0500 94px,#f00 98px)"></b><b style="background:linear-gradient(#00ff82,#0f0 16px,#ff0 44px,#ff1700 88px,#ff0600 94px,#f00 98px)"></b><b style="background:linear-gradient(#00ff82,#0f0 16px,#ff0 44px,#ff1200 90px,#ff0400 94px,#f00 416px)"></b><b style="background:linear-gradient(#00ff81,#0f0 16px,#ff0 44px,#ff1300 90px,#ff0100 96px,#f00 416px)"></b><b style="background:linear-gradient(#00ff81,#0f0 16px,#ff0 44px,#ff1300 90px,#f00 98px)"></b><b style="background:linear-gradient(#00ff81,#0f0 16px,#ff0 44px,#ff1400 90px,#f00 98px)"></b><b style="background:linear-gradient(#00ff80,#0f0 16px,#ff0 44px,#ff1400 90px,#f00 98px)"></b><b style="background:linear-gradient(#00ff80,#0f0 16px,#ff0 44px,#ff1400 90px,#f00 98px)"></b><b style="background:linear-gradient(#00ff80,#0f0 16px,#ff0 44px,#ff1500 90px,#ff0100 98px,#f00 416px)"></b><b style="background:linear-gradient(#00ff7f,#0f0 16px,#ff0 44px,#ff1500 90px,#ff0100 98px,#f00 416px)"></b><b style="background:linear-gradient(#00ff7f,#0f0 16px,#ff0 44px,#ff1600 90px,#ff0100 98px,#f00 416px)"></b><b style="background:linear-gradient(#00ff7f,#0f0 16px,#ff0 44px,#ff1600 90px,#ff0100 98px,#f00 416px)"></b><b style="background:linear-gradient(#00ff7e,#0f0 16px,#ff0 44px,#ff1700 90px,#ff0100 98px,#f00 416px)"></b><b style="background:linear-gradient(#00ff7e,#0f0 16px,#ff0 44px,#ff1700 90px,#ff0100 98px,#f00 416px)"></b><b style="background:linear-gradient(#00ff7e,#0f0 16px,#ff0 44px,#ff1800 90px,#ff0100 98px,#f00 416px)"></b><b style="background:linear-gradient(#00ff7d,#0f0 16px,#ff0 44px,#ff1800 90px,#f00 98px)"></b><b style="background:linear-gradient(#00ff7d,#0f0 16px,#ff0 44px,#ff1800 90px,#f00 98px)"></b><b style="background:linear-gradient(#00ff7d,#0f0 16px,#ff0 44px,#ff1900 90px,#f00 98px)"></b><b style="background:linear-gradient(#00ff7c,#0f0 16px,#ff0 44px,#ff1900 90px,#f00 98px)"></b><b style="background:linear-gradient(#00ff7c,#0f0 16px,#ff0 44px,#ff1a00 90px,#f00 98px)"></b><b style="background:linear-gradient(#00ff7c,#0f0 16px,#ff0 44px,#ff1a00 90px,#f00 98px)"></b><b style="background:linear-gradient(#00ff7b,#0f0 16px,#ff0 44px,#ff1b00 90px,#f00 98px)"></b><b style="background:linear-gradient(#00ff7b,#0f0 16px,#ff0 44px,#ff1b00 90px,#f00 98px)"></b><b style="background:linear-gradient(#00ff7b,#0f0 16px,#edff00 42px,#ff0 44px,#ff1c00 90px,#ff0100 98px,#f00 416px)"></b><b style="background:linear-gradient(#00ff7a,#0f0 16px,#ef0 42px,#ff0 44px,#ff1c00 90px,#ff0100 98px,#f00 416px)"></b><b style="background:linear-gradient(#00ff7a,#0f0 16px,#ff0 44px,#ff2100 88px,#ff0100 98px,#f00 416px)"></b><b style="background:linear-gradient(#00ff7a,#0f0 16px,#ff0 44px,#f20 88px,#ff0100 98px,#f00 416px)"></b><b style="background:linear-gradient(#00ff79,#0f0 16px,#ff0 44px,#f20 88px,#ff0100 98px,#f00 416px)"></b><b style="background:linear-gradient(#00ff79,#0f0 16px,#ff0 44px,#f20 88px,#ff0100 98px,#f00 416px)"></b><b style="background:linear-gradient(#00ff79,#0f0 16px,#ff0 44px,#ff8000 68px,#ff2300 88px,#ff0100 98px,#f00 416px)"></b><b style="background:linear-gradient(#00ff79,#0f0 16px,#ff0 44px,#ff8000 68px,#ff2300 88px,#ff0100 98px,#f00 416px)"></b><b style="background:linear-gradient(#00ff78,#0f0 16px,#ff0 44px,#ff2d00 86px,#ff0100 98px,#f00 416px)"></b><b style="background:linear-gradient(#00ff78,#0f0 16px,#ff0 43px,#ff7200 72px,#ff1b00 90px,#ff0100 98px,#f00 416px)"></b><b style="background:linear-gradient(#00ff78,#0f0 16px,#ff0 43px,#ff8000 68px,#ff2500 88px,#f00 100px)"></b><b style="background:linear-gradient(#0f7,#0f0 16px,#ff0 43px,#ff8000 68px,#ff2500 88px,#f00 100px)"></b><b style="background:linear-gradient(#0f7,#0f0 16px,#ff0 43px,#ff7300 72px,#ff1d00 90px,#f00 100px)"></b><b style="background:linear-gradient(#0f7,#0f0 16px,#ff0 43px,#ff7300 72px,#ff1d00 90px,#f00 100px)"></b><b style="background:linear-gradient(#00ff76,#0f0 16px,#ff0 43px,#f70 70px,#ff1d00 90px,#f00 100px)"></b><b style="background:linear-gradient(#00ff76,#0f0 16px,#ff0 43px,#f70 70px,#ff1e00 90px,#f00 100px)"></b><b style="background:linear-gradient(#00ff76,#0f0 16px,#ff0 43px,#f70 70px,#ff1e00 90px,#f00 100px)"></b><b style="background:linear-gradient(#00ff75,#0f0 16px,#ff0 43px,#ff7800 70px,#ff1f00 90px,#f00 100px)"></b><b style="background:linear-gradient(#00ff75,#0f0 16px,#ff0 43px,#ff7800 70px,#ff1f00 90px,#f00 100px)"></b><b style="background:linear-gradient(#00ff75,#0f0 16px,#ff0 43px,#ff7c00 70px,#ff2000 90px,#f00 100px)"></b><b style="background:linear-gradient(#00ff74,#0f0 16px,#ff0 43px,#ff7c00 70px,#ff2000 90px,#f00 100px)"></b><b style="background:linear-gradient(#00ff74,#0f0 16px,#ff0 43px,#ff7c00 70px,#ff2100 90px,#f00 100px)"></b><b style="background:linear-gradient(#00ff74,#0f0 16px,#ff0 43px,#ff7d00 70px,#f00 100px)"></b><b style="background:linear-gradient(#00ff73,#0f0 16px,#ff0 43px,#ff7d00 70px,#ff0100 100px,#f00 416px)"></b><b style="background:linear-gradient(#00ff73,#0f0 16px,#ff0 43px,#ff7d00 70px,#ff0100 100px,#f00 416px)"></b><b style="background:linear-gradient(#00ff73,#0f0 16px,#ff0 43px,#ff7d00 70px,#ff0100 100px,#f00 416px)"></b><b style="background:linear-gradient(#00ff72,#0f0 16px,#ff0 43px,#ff7d00 70px,#ff0100 100px,#f00 416px)"></b><b style="background:linear-gradient(#00ff72,#0f0 16px,#ff0 43px,#ff7d00 70px,#ff0100 100px,#f00 416px)"></b><b style="background:linear-gradient(#00ff72,#0f0 16px,#ff0 43px,#ff7d00 70px,#ff0100 100px,#f00 416px)"></b><b style="width:2px;background:linear-gradient(#00ff71,#0f0 16px,#ff0 43px,#ff7d00 70px,#ff0100 100px,#f00 416px)"></b></div>
<div class="fk k3" style="left:1089px;top:3283px;width:1055px;height:126px"><b style="background:linear-gradient(#000cff,#000dff 126px)"></b><b style="background:linear-gradient(#000cff,#000eff 126px)"></b><b style="background:linear-gradient(#000dff,#0010ff 126px)"></b><b style="background:linear-gradient(#000dff,#0012ff 126px)"></b><b style="background:linear-gradient(#000eff,#0014ff 126px)"></b><b style="background:linear-gradient(#000eff,#0016ff 126px)"></b><b style="background:linear-gradient(#000eff,#0018ff 126px)"></b><b style="background:linear-gradient(#000fff,#001aff 126px)"></b><b style="background:linear-gradient(#000fff,#001bff 126px)"></b><b style="background:linear-gradient(#000fff,#001dff 126px)"></b><b style="background:linear-gradient(#0010ff,#001fff 126px)"></b><b style="background:linear-gradient(#0010ff,#0021ff 126px)"></b><b style="background:linear-gradient(#01f,#0023ff 126px)"></b><b style="background:linear-gradient(#01f,#0025ff 126px)"></b><b style="background:linear-gradient(#01f,#0019ff 78px,#0026ff 126px)"></b><b style="background:linear-gradient(#0012ff,#001aff 78px,#0028ff 126px)"></b><b style="background:linear-gradient(#0012ff,#001bff 78px,#002aff 126px)"></b><b style="background:linear-gradient(#0013ff,#001cff 78px,#002cff 126px)"></b><b style="background:linear-gradient(#0013ff,#001dff 78px,#002eff 126px)"></b><b style="background:linear-gradient(#0013ff,#001eff 78px,#0030ff 126px)"></b><b style="background:linear-gradient(#0014ff,#001fff 78px,#0031ff 126px)"></b><b style="background:linear-gradient(#0014ff,#0020ff 78px,#03f 126px)"></b><b style="background:linear-gradient(#0014ff,#0021ff 78px,#0035ff 126px)"></b><b style="background:linear-gradient(#0015ff,#02f 78px,#0037ff 126px)"></b><b style="background:linear-gradient(#0015ff,#0023ff 78px,#0039ff 126px)"></b><b style="background:linear-gradient(#0016ff,#0024ff 78px,#003bff 126px)"></b><b style="background:linear-gradient(#0016ff,#0025ff 78px,#003dff 126px)"></b><b style="background:linear-gradient(#0016ff,#0026ff 78px,#003eff 126px)"></b><b style="background:linear-gradient(#0017ff,#0027ff 78px,#0040ff 126px)"></b><b style="background:linear-gradient(#0017ff,#0028ff 78px,#0042ff 126px)"></b><b style="background:linear-gradient(#0018ff,#0029ff 78px,#04f 126px)"></b><b style="background:linear-gradient(#0018ff,#002aff 78px,#0046ff 126px)"></b><b style="background:linear-gradient(#0018ff,#002bff 78px,#0048ff 126px)"></b><b style="background:linear-gradient(#0019ff,#002bff 78px,#0049ff 126px)"></b><b style="background:linear-gradient(#0019ff,#002cff 78px,#004bff 126px)"></b><b style="background:linear-gradient(#001aff,#002dff 78px,#004dff 126px)"></b><b style="background:linear-gradient(#001aff,#002eff 78px,#004fff 126px)"></b><b style="background:linear-gradient(#001aff,#002fff 78px,#0051ff 126px)"></b><b style="background:linear-gradient(#001bff,#0030ff 78px,#0053ff 126px)"></b><b style="background:linear-gradient(#001bff,#0031ff 78px,#0054ff 126px)"></b><b style="background:linear-gradient(#001bff,#0032ff 78px,#0056ff 126px)"></b><b style="background:linear-gradient(#001cff,#03f 78px,#0058ff 126px)"></b><b style="background:linear-gradient(#001cff,#0034ff 78px,#005aff 126px)"></b><b style="background:linear-gradient(#001dff,#0035ff 78px,#005cff 126px)"></b><b style="background:linear-gradient(#001dff,#0036ff 78px,#0047ff 104px,#005eff 126px)"></b><b style="background:linear-gradient(#001dff,#0037ff 78px,#0048ff 104px,#0060ff 126px)"></b><b style="background:linear-gradient(#001eff,#0038ff 78px,#004aff 104px,#0061ff 126px)"></b><b style="background:linear-gradient(#001eff,#0039ff 78px,#004bff 104px,#0063ff 126px)"></b><b style="background:linear-gradient(#001fff,#003aff 78px,#004cff 104px,#0065ff 126px)"></b><b style="background:linear-gradient(#001fff,#003bff 78px,#004eff 104px,#0067ff 126px)"></b><b style="background:linear-gradient(#001fff,#003cff 78px,#004fff 104px,#0069ff 126px)"></b><b style="background:linear-gradient(#0020ff,#003cff 78px,#0050ff 104px,#006bff 126px)"></b><b style="background:linear-gradient(#0020ff,#003dff 78px,#0052ff 104px,#006cff 126px)"></b><b style="background:linear-gradient(#0020ff,#003eff 78px,#0053ff 104px,#006eff 126px)"></b><b style="background:linear-gradient(#0021ff,#003fff 78px,#0054ff 104px,#0070ff 126px)"></b><b style="background:linear-gradient(#0021ff,#0040ff 78px,#0056ff 104px,#0072ff 126px)"></b><b style="background:linear-gradient(#02f,#0041ff 78px,#0057ff 104px,#0074ff 126px)"></b><b style="background:linear-gradient(#02f,#0042ff 78px,#0058ff 104px,#0076ff 126px)"></b><b style="background:linear-gradient(#02f,#0043ff 78px,#005aff 104px,#0078ff 126px)"></b><b style="background:linear-gradient(#0023ff,#04f 78px,#005bff 104px,#0079ff 126px)"></b><b style="background:linear-gradient(#0023ff,#0045ff 78px,#005cff 104px,#007bff 126px)"></b><b style="background:linear-gradient(#0024ff,#0046ff 78px,#005eff 104px,#007dff 126px)"></b><b style="background:linear-gradient(#0024ff,#0047ff 78px,#005fff 104px,#007fff 126px)"></b><b style="background:linear-gradient(#0024ff,#0048ff 78px,#0060ff 104px,#0081ff 126px)"></b><b style="background:linear-gradient(#0025ff,#0049ff 78px,#0062ff 104px,#0083ff 126px)"></b><b style="background:linear-gradient(#0025ff,#004aff 78px,#0064ff 106px,#0085ff 126px)"></b><b style="background:linear-gradient(#0026ff,#004bff 80px,#06f 106px,#0087ff 126px)"></b><b style="background:linear-gradient(#0026ff,#004cff 80px,#0067ff 106px,#0089ff 126px)"></b><b style="background:linear-gradient(#0026ff,#0037ff 44px,#004dff 80px,#0068ff 106px,#008bff 126px)"></b><b style="background:linear-gradient(#0027ff,#0038ff 44px,#004eff 80px,#006aff 106px,#008dff 126px)"></b><b style="background:linear-gradient(#0027ff,#0039ff 44px,#004fff 80px,#006bff 106px,#008fff 126px)"></b><b style="background:linear-gradient(#0027ff,#0039ff 44px,#0050ff 80px,#006cff 106px,#0091ff 126px)"></b><b style="background:linear-gradient(#0028ff,#003aff 44px,#0051ff 80px,#006eff 106px,#0093ff 126px)"></b><b style="background:linear-gradient(#0028ff,#003aff 44px,#0052ff 80px,#006fff 106px,#0095ff 126px)"></b><b style="background:linear-gradient(#0029ff,#003bff 44px,#0053ff 80px,#0071ff 106px,#0097ff 126px)"></b><b style="background:linear-gradient(#0029ff,#003cff 44px,#0054ff 80px,#0072ff 106px,#09f 126px)"></b><b style="background:linear-gradient(#0029ff,#003cff 44px,#05f 80px,#0073ff 106px,#009bff 126px)"></b><b style="background:linear-gradient(#002aff,#003dff 44px,#0056ff 80px,#0073ff 104px,#009dff 126px)"></b><b style="background:linear-gradient(#002aff,#003eff 44px,#0057ff 80px,#0073ff 104px,#009fff 126px)"></b><b style="background:linear-gradient(#002bff,#003eff 44px,#0058ff 80px,#0074ff 104px,#00a1ff 126px)"></b><b style="background:linear-gradient(#002bff,#003fff 44px,#0059ff 80px,#0074ff 102px,#00a3ff 126px)"></b><b style="background:linear-gradient(#002bff,#0040ff 44px,#005aff 80px,#0074ff 102px,#00a4ff 126px)"></b><b style="background:linear-gradient(#002cff,#0040ff 44px,#005bff 80px,#0075ff 102px,#00a6ff 126px)"></b><b style="background:linear-gradient(#002cff,#0041ff 44px,#005cff 80px,#0075ff 100px,#00a8ff 126px)"></b><b style="background:linear-gradient(#002cff,#0041ff 44px,#005dff 80px,#0075ff 100px,#0af 126px)"></b><b style="background:linear-gradient(#002dff,#0042ff 44px,#005eff 80px,#0076ff 100px,#00acff 126px)"></b><b style="background:linear-gradient(#002dff,#0043ff 44px,#005fff 80px,#0076ff 98px,#00aeff 126px)"></b><b style="background:linear-gradient(#002eff,#0043ff 44px,#0060ff 80px,#0076ff 98px,#00b0ff 126px)"></b><b style="background:linear-gradient(#002eff,#04f 44px,#0061ff 80px,#0076ff 96px,#00b2ff 126px)"></b><b style="background:linear-gradient(#002eff,#0045ff 46px,#0063ff 80px,#07f 96px,#00b4ff 126px)"></b><b style="background:linear-gradient(#002fff,#0046ff 46px,#0064ff 80px,#07f 96px,#00b6ff 126px)"></b><b style="background:linear-gradient(#002fff,#0047ff 46px,#0065ff 80px,#0076ff 94px,#00b8ff 126px)"></b><b style="background:linear-gradient(#0030ff,#0047ff 46px,#0065ff 80px,#0076ff 94px,#00baff 126px)"></b><b style="background:linear-gradient(#0030ff,#0048ff 46px,#06f 80px,#0078ff 94px,#00bcff 126px)"></b><b style="background:linear-gradient(#0030ff,#0049ff 46px,#0067ff 80px,#07f 92px,#00beff 126px)"></b><b style="background:linear-gradient(#0031ff,#0049ff 46px,#0068ff 80px,#07f 92px,#00c0ff 126px)"></b><b style="background:linear-gradient(#0031ff,#004aff 46px,#0069ff 80px,#0078ff 92px,#00c2ff 126px)"></b><b style="background:linear-gradient(#0032ff,#004aff 46px,#006aff 80px,#0078ff 90px,#00c4ff 126px)"></b><b style="background:linear-gradient(#0032ff,#004bff 46px,#006bff 80px,#0078ff 90px,#00c6ff 126px)"></b><b style="background:linear-gradient(#0032ff,#004cff 46px,#006cff 80px,#0079ff 90px,#00c8ff 126px)"></b><b style="background:linear-gradient(#03f,#004cff 46px,#006dff 80px,#0079ff 88px,#00caff 126px)"></b><b style="background:linear-gradient(#03f,#004dff 46px,#006eff 80px,#0cf 126px)"></b><b style="background:linear-gradient(#03f,#004eff 46px,#006fff 80px,#00cdff 126px)"></b><b style="background:linear-gradient(#0034ff,#004eff 46px,#0070ff 80px,#00cfff 126px)"></b><b style="background:linear-gradient(#0034ff,#004fff 46px,#0071ff 80px,#00d1ff 126px)"></b><b style="background:linear-gradient(#0035ff,#0050ff 46px,#0072ff 80px,#00d3ff 126px)"></b><b style="background:linear-gradient(#0035ff,#004fff 44px,#0072ff 80px,#00d5ff 126px)"></b><b style="background:linear-gradient(#0035ff,#0050ff 44px,#0073ff 80px,#00d7ff 126px)"></b><b style="background:linear-gradient(#0036ff,#0050ff 44px,#0072ff 78px,#00d9ff 126px)"></b><b style="background:linear-gradient(#0036ff,#0051ff 44px,#0073ff 78px,#00dbff 126px)"></b><b style="background:linear-gradient(#0037ff,#0051ff 44px,#0073ff 78px,#0df 126px)"></b><b style="background:linear-gradient(#0037ff,#0052ff 44px,#0074ff 78px,#00dfff 126px)"></b><b style="background:linear-gradient(#0037ff,#0052ff 42px,#0074ff 76px,#00e1ff 126px)"></b><b style="background:linear-gradient(#0038ff,#0051ff 42px,#0073ff 76px,#00e3ff 126px)"></b><b style="background:linear-gradient(#0038ff,#0053ff 42px,#0074ff 76px,#00e5ff 126px)"></b><b style="background:linear-gradient(#0038ff,#0053ff 42px,#0074ff 74px,#00e7ff 126px)"></b><b style="background:linear-gradient(#0039ff,#0053ff 42px,#0075ff 74px,#00e9ff 126px)"></b><b style="background:linear-gradient(#0039ff,#0053ff 40px,#0074ff 74px,#00ebff 126px)"></b><b style="background:linear-gradient(#003aff,#0054ff 40px,#0074ff 72px,#00edff 126px)"></b><b style="background:linear-gradient(#003aff,#0054ff 40px,#0075ff 72px,#00efff 126px)"></b><b style="background:linear-gradient(#003aff,#0054ff 40px,#0075ff 72px,#00f1ff 126px)"></b><b style="background:linear-gradient(#003bff,#0054ff 38px,#0074ff 70px,#00f3ff 126px)"></b><b style="background:linear-gradient(#003bff,#0054ff 38px,#0075ff 70px,#00f5ff 126px)"></b><b style="background:linear-gradient(#003cff,#05f 38px,#0075ff 70px,#00f7ff 126px)"></b><b style="background:linear-gradient(#003cff,#0056ff 38px,#0076ff 70px,#00f8ff 126px)"></b><b style="background:linear-gradient(#003cff,#05f 38px,#0075ff 68px,#00faff 126px)"></b><b style="background:linear-gradient(#003dff,#05f 36px,#0075ff 68px,#00feff 126px)"></b><b style="background:linear-gradient(#003dff,#0059ff 40px,#007aff 70px,#00f6ff 122px,#0ff 123px,#00ffc1 126px)"></b><b style="background:linear-gradient(#003eff,#0056ff 36px,#0075ff 66px,#00f9ff 122px,#0ff 122px,#00ffde 124px,#00ff87 124px,#00ff0e 126px)"></b><b style="background:linear-gradient(#003eff,#0057ff 36px,#0076ff 66px,#0ff 122px,#00ffce 124px,#0f0 125px,#50ff00 126px)"></b><b style="background:linear-gradient(#003eff,#0057ff 36px,#0076ff 66px,#0ff 122px,#00ffcb 124px,#0f0 125px,#56ff00 126px)"></b><b style="background:linear-gradient(#003fff,#0057ff 36px,#0075ff 64px,#0ff 121px,#00fff5 122px,#00ffc8 124px,#0f0 125px,#57ff00 126px)"></b><b style="background:linear-gradient(#003fff,#0058ff 36px,#0076ff 64px,#0ff 120px,#00fffc 122px,#00fff2 122px,#00ffc6 124px,#0f0 125px,#58ff00 126px)"></b><b style="background:linear-gradient(#003fff,#0058ff 34px,#0076ff 64px,#0ff 119px,#00fffa 122px,#00ffef 122px,#00ffc3 124px,#0f0 125px,#59ff00 126px)"></b><b style="background:linear-gradient(#0040ff,#0059ff 36px,#07f 64px,#0ff 118px,#00fff7 122px,#00ffec 122px,#00ffc0 124px,#0f0 125px,#5aff00 126px)"></b><b style="background:linear-gradient(#0040ff,#0059ff 34px,#0076ff 62px,#0ff 117px,#00fff4 122px,#00ffe9 122px,#00ffbe 124px,#0f0 125px,#5bff00 126px)"></b><b style="background:linear-gradient(#0041ff,#0059ff 34px,#07f 62px,#0ff 116px,#00fff1 122px,#00ffe7 122px,#0fb 124px,#0f0 125px,#5cff00 126px)"></b><b style="background:linear-gradient(#0041ff,#0059ff 34px,#0076ff 62px,#00fcff 116px,#0ff 117px,#0fe 122px,#00ffe4 122px,#00ffb8 124px,#0f0 125px,#5dff00 126px)"></b><b style="background:linear-gradient(#0041ff,#005aff 34px,#0078ff 62px,#00fbff 114px,#0ff 116px,#00ffeb 122px,#00ffe1 122px,#00ffb6 124px,#0f0 125px,#5eff00 126px)"></b><b style="background:linear-gradient(#0042ff,#005aff 34px,#07f 60px,#0ff 115px,#00ffe9 122px,#00ffde 122px,#00ffb3 124px,#0f0 125px,#5fff00 126px)"></b><b style="background:linear-gradient(#0042ff,#0076ff 60px,#0ff 114px,#00ffe6 122px,#00ffdb 122px,#00ffb0 124px,#0f0 125px,#60ff00 126px)"></b><b style="background:linear-gradient(#0043ff,#005aff 32px,#07f 60px,#00fcff 112px,#0ff 113px,#00ffe3 122px,#00ffd8 122px,#00ffae 124px,#0f0 125px,#61ff00 126px)"></b><b style="background:linear-gradient(#0043ff,#07f 58px,#00fbff 112px,#0ff 113px,#00ffe0 122px,#00ffd5 122px,#00ffab 124px,#0f0 125px,#62ff00 126px)"></b><b style="background:linear-gradient(#0043ff,#005bff 32px,#0078ff 58px,#0ff 112px,#00ffe1 120px,#00ffd2 122px,#00ffa8 124px,#0f0 125px,#63ff00 126px)"></b><b style="background:linear-gradient(#04f,#07f 58px,#0ff 111px,#00ffde 120px,#00ffd0 122px,#00ffa6 124px,#0f0 125px,#63ff00 126px)"></b><b style="background:linear-gradient(#04f,#005cff 32px,#0078ff 58px,#00fcff 110px,#0ff 110px,#00ffdb 120px,#00ffcd 122px,#00ffa4 124px,#0f0 125px,#62ff00 126px)"></b><b style="background:linear-gradient(#04f,#07f 56px,#00fbff 108px,#0ff 110px,#00ffd9 120px,#00ffca 122px,#00ffa1 124px,#0f0 125px,#60ff00 126px)"></b><b style="background:linear-gradient(#0045ff,#0078ff 56px,#0ff 109px,#00ffd6 120px,#00ffc7 122px,#00ff9f 124px,#0f0 125px,#5fff00 126px)"></b><b style="background:linear-gradient(#0045ff,#0078ff 56px,#0ff 108px,#00ffd3 120px,#00ffc4 122px,#00ff9d 124px,#0f0 125px,#5dff00 126px)"></b><b style="background:linear-gradient(#0046ff,#0079ff 56px,#00fcff 106px,#0ff 107px,#00ffd0 120px,#00ffc1 122px,#00ff9a 124px,#0f0 125px,#5cff00 126px)"></b><b style="background:linear-gradient(#0046ff,#005fff 32px,#007aff 56px,#0ff 107px,#00ffcd 120px,#00ffbf 122px,#00ff98 124px,#0f0 125px,#5aff00 126px)"></b><b style="background:linear-gradient(#0046ff,#0079ff 54px,#0ff 106px,#00ffca 120px,#00ffbc 122px,#00ff96 124px,#0f0 125px,#59ff00 126px)"></b><b style="background:linear-gradient(#0047ff,#005fff 32px,#007aff 54px,#00fcff 104px,#0ff 105px,#00ffc7 120px,#00ffb9 122px,#00ff94 124px,#0f0 125px,#57ff00 126px)"></b><b style="background:linear-gradient(#0047ff,#0061ff 32px,#007bff 54px,#0ff 105px,#00ffc4 120px,#00ffb6 122px,#00ff91 124px,#0f0 125px,#56ff00 126px)"></b><b style="background:linear-gradient(#0048ff,#0061ff 32px,#007aff 54px,#0ff 104px,#00ffc2 120px,#00ffb3 122px,#00ff8f 124px,#0f0 125px,#54ff00 126px)"></b><b style="background:linear-gradient(#0048ff,#0061ff 32px,#007bff 54px,#0ff 103px,#00ffbf 120px,#00ffb0 122px,#00ff8d 124px,#0f0 125px,#53ff00 126px)"></b><b style="background:linear-gradient(#0048ff,#0063ff 32px,#007dff 54px,#0ff 103px,#00ffbc 120px,#00ffae 122px,#00ff8a 124px,#0f0 125px,#51ff00 126px)"></b><b style="background:linear-gradient(#0049ff,#0064ff 34px,#007eff 54px,#0ff 102px,#00ffbd 120px,#00ffab 122px,#0f8 124px,#0f0 125px,#50ff00 126px)"></b><b style="background:linear-gradient(#0049ff,#0064ff 32px,#007dff 52px,#0ff 101px,#00ffc3 118px,#00ffa8 122px,#00ff86 124px,#0f0 125px,#4eff00 126px)"></b><b style="background:linear-gradient(#004aff,#0063ff 32px,#007cff 52px,#0ff 101px,#0fc 114px,#00ffa5 122px,#00ff84 124px,#0f0 125px,#4dff00 126px)"></b><b style="background:linear-gradient(#004aff,#0064ff 32px,#007dff 52px,#0ff 100px,#00ffce 114px,#00ffa2 122px,#00ff81 124px,#0f0 125px,#4bff00 126px)"></b><b style="background:linear-gradient(#004aff,#0063ff 30px,#007cff 50px,#00a4ff 68px,#00fcff 98px,#0ff 99px,#00ffd3 112px,#00ffa0 122px,#00ff7f 124px,#0f0 125px,#4aff00 126px)"></b><b style="background:linear-gradient(#004bff,#007bff 50px,#00c2ff 78px,#0ff 99px,#00ffd5 110px,#00ff9d 122px,#00ff7d 124px,#0f0 125px,#48ff00 126px)"></b><b style="background:linear-gradient(#004bff,#007cff 50px,#0bf 74px,#0ff 98px,#00fffb 100px,#00ffda 108px,#00ff9a 122px,#00ff7a 124px,#0f0 125px,#47ff00 126px)"></b><b style="background:linear-gradient(#004bff,#007bff 48px,#00b9ff 74px,#0ff 98px,#00fffc 98px,#00ffdc 108px,#00ff97 122px,#00ff78 124px,#0f0 125px,#45ff00 126px)"></b><b style="background:linear-gradient(#004cff,#007cff 48px,#00b8ff 72px,#0ff 96px,#0fd 106px,#00ff94 122px,#00ff76 124px,#0f0 125px,#4f0 126px)"></b><b style="background:linear-gradient(#004cff,#007bff 48px,#00b4ff 70px,#0ff 95px,#00ffdf 106px,#00ff91 122px,#00ff74 124px,#0f0 125px,#42ff00 126px)"></b><b style="background:linear-gradient(#004dff,#007cff 48px,#00b8ff 72px,#0ff 94px,#0fd 106px,#00ff8f 122px,#00ff71 124px,#0f0 125px,#41ff00 126px)"></b><b style="background:linear-gradient(#004dff,#06f 30px,#007dff 48px,#00b7ff 70px,#0ff 94px,#00ffde 104px,#00ff8c 122px,#00ff6f 124px,#0f0 125px,#3fff00 126px)"></b><b style="background:linear-gradient(#004dff,#007cff 46px,#00b2ff 68px,#0ff 93px,#00ffe0 104px,#00ff89 122px,#00ff6d 124px,#0f0 125px,#3eff00 126px)"></b><b style="background:linear-gradient(#004eff,#007dff 46px,#00b4ff 68px,#0ff 93px,#00ffe2 102px,#00ff86 122px,#00ff6a 124px,#0f0 125px,#3cff00 126px)"></b><b style="background:linear-gradient(#004eff,#0069ff 30px,#007eff 46px,#00b2ff 68px,#0ff 93px,#00ffe4 102px,#00ff83 122px,#00ff68 124px,#0f0 125px,#3bff00 126px)"></b><b style="background:linear-gradient(#004fff,#0069ff 30px,#0080ff 46px,#00b4ff 68px,#0ff 92px,#00ffe2 102px,#00ff80 122px,#0f6 124px,#0f0 125px,#39ff00 126px)"></b><b style="background:linear-gradient(#004fff,#0069ff 30px,#007fff 46px,#00b2ff 66px,#0ff 92px,#00ffe3 100px,#00ff7e 122px,#00ff64 124px,#0f0 125px,#38ff00 126px)"></b><b style="background:linear-gradient(#004fff,#006aff 30px,#0080ff 46px,#00b1ff 66px,#0ff 91px,#00ffe5 100px,#00ff7b 122px,#00ff61 124px,#0f0 125px,#36ff00 126px)"></b><b style="background:linear-gradient(#0050ff,#006bff 30px,#0081ff 46px,#00b2ff 66px,#0ff 90px,#00ffe3 100px,#00ff78 122px,#00ff5f 124px,#0f0 125px,#35ff00 126px)"></b><b style="background:linear-gradient(#0050ff,#006aff 30px,#0080ff 44px,#00b1ff 64px,#0ff 90px,#00ffe5 98px,#00ff75 122px,#00ff5d 124px,#0f0 125px,#3f0 126px)"></b><b style="background:linear-gradient(#0050ff,#006cff 30px,#0081ff 44px,#00b2ff 64px,#0ff 89px,#00ffe3 98px,#00ff72 122px,#00ff5a 124px,#0f0 125px,#32ff00 126px)"></b><b style="background:linear-gradient(#0051ff,#006eff 32px,#0082ff 44px,#00b0ff 64px,#0ff 89px,#00ffe5 98px,#00ff70 122px,#00ff58 124px,#0f0 125px,#30ff00 126px)"></b><b style="background:linear-gradient(#0051ff,#006eff 32px,#0083ff 44px,#00b2ff 64px,#0ff 88px,#00ffe3 98px,#00ff6d 122px,#00ff56 124px,#0f0 125px,#2fff00 126px)"></b><b style="background:linear-gradient(#0052ff,#0070ff 32px,#0084ff 44px,#00b3ff 64px,#0ff 88px,#00ffe5 96px,#00ff6a 122px,#00ff54 124px,#0f0 125px,#2dff00 126px)"></b><b style="background:linear-gradient(#0052ff,#0070ff 32px,#0085ff 44px,#00b4ff 64px,#0ff 88px,#00ffe3 96px,#00ff67 122px,#00ff51 124px,#0f0 125px,#2cff00 126px)"></b><b style="background:linear-gradient(#0052ff,#0070ff 32px,#0083ff 44px,#00b0ff 62px,#0ff 87px,#00ffe5 96px,#00ff64 122px,#00ff4f 124px,#0f0 125px,#2aff00 126px)"></b><b style="background:linear-gradient(#0053ff,#0072ff 32px,#0084ff 44px,#00b1ff 62px,#0ff 87px,#00ffe3 96px,#00ff61 122px,#00ff4d 124px,#0f0 125px,#29ff00 126px)"></b><b style="background:linear-gradient(#0053ff,#0072ff 32px,#0085ff 44px,#00b3ff 62px,#0ff 86px,#00ffe2 96px,#00ff5f 122px,#00ff4a 124px,#0f0 125px,#27ff00 126px)"></b><b style="background:linear-gradient(#0054ff,#0073ff 32px,#0086ff 44px,#00b4ff 62px,#0ff 86px,#00ffe4 94px,#00ff5c 122px,#00ff48 124px,#0f0 125px,#26ff00 126px)"></b><b style="background:linear-gradient(#0054ff,#0073ff 32px,#0087ff 44px,#00b5ff 62px,#0ff 85px,#00ffe2 94px,#00ff59 122px,#00ff46 124px,#0f0 125px,#24ff00 126px)"></b><b style="background:linear-gradient(#0054ff,#0074ff 32px,#08f 44px,#00b6ff 62px,#0ff 85px,#00ffe0 94px,#00ff56 122px,#0f4 124px,#0f0 125px,#23ff00 126px)"></b><b style="background:linear-gradient(#05f,#0073ff 32px,#0089ff 44px,#00b5ff 60px,#0ff 84px,#00ffe2 94px,#0fb 102px,#00ff53 122px,#00ff41 124px,#0f0 125px,#21ff00 126px)"></b><b style="background:linear-gradient(#05f,#0074ff 32px,#008aff 44px,#00b6ff 60px,#0ff 84px,#00ffe1 94px,#00ffb9 102px,#00ff50 122px,#00ff3f 124px,#0f0 125px,#20ff00 126px)"></b><b style="background:linear-gradient(#0056ff,#0074ff 32px,#008bff 44px,#00b7ff 60px,#0ff 83px,#00ffdf 94px,#00ffb7 102px,#00ff4e 122px,#00ff3d 124px,#0f0 125px,#1eff00 126px)"></b><b style="background:linear-gradient(#0056ff,#0074ff 30px,#008aff 42px,#00b6ff 60px,#0ff 83px,#00ffe1 92px,#00ffb9 102px,#00ff4b 122px,#00ff3a 124px,#0f0 125px,#1dff00 126px)"></b><b style="background:linear-gradient(#0056ff,#0074ff 30px,#008bff 42px,#00b7ff 60px,#0ff 82px,#00ffdf 92px,#00ffb7 102px,#00ff48 122px,#00ff38 124px,#0f0 125px,#1bff00 126px)"></b><b style="background:linear-gradient(#0057ff,#0074ff 30px,#008cff 42px,#00b8ff 60px,#0ff 82px,#00ffde 92px,#00ffb5 102px,#00ff45 122px,#00ff36 124px,#0f0 125px,#1aff00 126px)"></b><b style="background:linear-gradient(#0057ff,#0074ff 30px,#008dff 42px,#00b6ff 58px,#0ff 82px,#00ffe0 92px,#00ffb8 100px,#00ff42 122px,#0f3 124px,#0f0 125px,#18ff00 126px)"></b><b style="background:linear-gradient(#0057ff,#0075ff 30px,#008eff 42px,#00b8ff 58px,#0ff 81px,#00ffde 92px,#00ffb6 100px,#00ff40 122px,#00ff31 124px,#0f0 125px,#17ff00 126px)"></b><b style="background:linear-gradient(#0058ff,#0074ff 28px,#008fff 42px,#00b9ff 58px,#0ff 81px,#00ffdc 92px,#00ffb4 100px,#00ff3d 122px,#00ff2f 124px,#0f0 125px,#15ff00 126px)"></b><b style="background:linear-gradient(#0058ff,#0075ff 28px,#0090ff 42px,#00b7ff 58px,#0ff 80px,#00ffde 90px,#00ffb7 100px,#00ff3a 122px,#00ff2d 124px,#0f0 125px,#14ff00 126px)"></b><b style="background:linear-gradient(#0059ff,#0075ff 28px,#0091ff 42px,#00b8ff 58px,#0ff 80px,#0fd 90px,#00ffb5 100px,#00ff37 122px,#00ff2a 124px,#0f0 125px,#12ff00 126px)"></b><b style="background:linear-gradient(#0059ff,#0074ff 28px,#0092ff 42px,#00b9ff 58px,#0ff 79px,#00ffdb 90px,#00ffb3 100px,#00ff34 122px,#00ff28 124px,#0f0 125px,#1f0 126px)"></b><b style="background:linear-gradient(#0059ff,#0075ff 28px,#0093ff 42px,#0bf 58px,#0ff 79px,#00ffda 90px,#00ffb1 100px,#00ff31 122px,#00ff26 124px,#0f0 125px,#0fff00 126px)"></b><b style="background:linear-gradient(#005aff,#0076ff 28px,#0094ff 42px,#00bcff 58px,#0ff 78px,#00ffdc 90px,#00ffb5 98px,#00ff2f 122px,#00ff23 124px,#0f0 125px,#0eff00 126px)"></b><b style="background:linear-gradient(#005aff,#0075ff 26px,#0095ff 42px,#00bdff 58px,#0ff 78px,#00ffda 90px,#00ffb3 98px,#00ff2c 122px,#00ff21 124px,#0f0 125px,#0cff00 126px)"></b><b style="background:linear-gradient(#005bff,#0075ff 26px,#0096ff 42px,#0bf 56px,#0ff 78px,#00ffd9 90px,#00ffb1 98px,#00ff29 122px,#00ff1f 124px,#0f0 125px,#0bff00 126px)"></b><b style="background:linear-gradient(#005bff,#0075ff 26px,#0097ff 42px,#00bcff 56px,#0ff 77px,#00ffd7 90px,#00ffaf 98px,#00ff26 122px,#00ff1d 124px,#0f0 125px,#09ff00 126px)"></b><b style="background:linear-gradient(#005bff,#0075ff 26px,#0098ff 42px,#00beff 56px,#0ff 77px,#00ffd6 90px,#00ffad 98px,#00ff23 122px,#00ff1a 124px,#0f0 125px,#08ff00 126px)"></b><b style="background:linear-gradient(#005cff,#0076ff 26px,#09f 42px,#00bfff 56px,#0ff 76px,#00ffd4 90px,#00ffb0 98px,#00ff20 122px,#0f0 125px,#06ff00 126px)"></b><b style="background:linear-gradient(#005cff,#0075ff 24px,#0098ff 42px,#00bdff 56px,#0ff 76px,#00ffd6 88px,#00ffae 98px,#00ff1e 122px,#0f0 126px,#05ff00 126px)"></b><b style="background:linear-gradient(#005cff,#0076ff 24px,#09f 42px,#00beff 56px,#0ff 75px,#00ffd4 88px,#00ff9b 100px,#00ff1b 122px,#0f0 126px,#03ff00 126px)"></b><b style="background:linear-gradient(#005dff,#0075ff 24px,#09f 42px,#00bfff 56px,#0ff 75px,#00ffd3 88px,#00ffa5 98px,#00ff18 122px,#0f0 126px,#02ff00 126px)"></b><b style="background:linear-gradient(#005dff,#0075ff 24px,#009aff 42px,#00c1ff 56px,#0ff 75px,#00ffd1 88px,#00ffa9 98px,#0f0 126px)"></b><b style="background:linear-gradient(#005eff,#0076ff 24px,#009bff 42px,#00c2ff 56px,#0ff 74px,#00ffd0 88px,#00ffa7 98px,#00ff01 126px)"></b><b style="background:linear-gradient(#005eff,#0075ff 22px,#009fff 42px,#00c3ff 56px,#0ff 74px,#00ffcf 88px,#00ffab 96px,#00ff02 126px)"></b><b style="background:linear-gradient(#005eff,#0076ff 22px,#00a0ff 42px,#0ff 73px,#00ffcd 88px,#00ffa9 96px,#00ff29 118px,#0f0 126px)"></b><b style="background:linear-gradient(#005fff,#0076ff 22px,#00a1ff 42px,#0ff 72px,#0fc 88px,#00ffa7 96px,#00ff26 118px,#0f0 126px,#02ff00 126px)"></b><b style="background:linear-gradient(#005fff,#0076ff 22px,#00a2ff 42px,#0ff 72px,#00ffca 88px,#00ffab 96px,#00ff1e 118px,#0f0 125px,#04ff00 126px)"></b><b style="background:linear-gradient(#0060ff,#0076ff 22px,#00a3ff 42px,#0ff 71px,#00ffc9 88px,#00ffa9 96px,#00ff15 120px,#0f0 125px,#05ff00 126px)"></b><b style="background:linear-gradient(#0060ff,#07f 22px,#00a4ff 42px,#0ff 71px,#00ffc7 88px,#00ffa2 96px,#00ff0c 120px,#0f0 124px,#07ff00 126px)"></b><b style="background:linear-gradient(#0060ff,#0076ff 20px,#00a5ff 42px,#0ff 71px,#00ffc6 88px,#00ffa0 96px,#00ff0a 120px,#0f0 123px,#09ff00 126px)"></b><b style="background:linear-gradient(#0061ff,#0076ff 20px,#00a6ff 42px,#0ff 70px,#00ffc4 88px,#00ff9e 96px,#00ff07 120px,#0f0 123px,#0aff00 126px)"></b><b style="background:linear-gradient(#0061ff,#07f 20px,#00a7ff 42px,#0ff 70px,#00ffc3 88px,#00ff9c 96px,#00ff0a 120px,#0f0 122px,#0cff00 126px)"></b><b style="background:linear-gradient(#0062ff,#0076ff 20px,#00a5ff 42px,#00caff 54px,#0ff 70px,#00ffc4 88px,#00ff9a 96px,#00ff07 120px,#0f0 122px,#0dff00 126px)"></b><b style="background:linear-gradient(#0062ff,#07f 20px,#00a6ff 42px,#00c8ff 54px,#0ff 70px,#00ffc3 88px,#00ff98 96px,#00ff0a 118px,#0f0 122px,#0fff00 126px)"></b><b style="background:linear-gradient(#0062ff,#0076ff 18px,#00a7ff 42px,#00c9ff 54px,#0ff 69px,#00ffc1 88px,#00ff9d 96px,#00ff07 118px,#0f0 121px,#10ff00 126px)"></b><b style="background:linear-gradient(#0063ff,#0076ff 18px,#00a8ff 42px,#0ff 68px,#00ffc0 88px,#00ff9b 96px,#00ff05 118px,#0f0 120px,#12ff00 126px)"></b><b style="background:linear-gradient(#0063ff,#07f 18px,#00a9ff 42px,#0ff 68px,#00ffbf 88px,#0f9 96px,#00ff08 118px,#0f0 120px,#14ff00 126px)"></b><b style="background:linear-gradient(#0063ff,#0076ff 18px,#00acff 42px,#0ff 68px,#00ffbd 88px,#00ff97 96px,#00ff05 118px,#0f0 119px,#15ff00 126px)"></b><b style="background:linear-gradient(#0064ff,#07f 18px,#00adff 42px,#0ff 67px,#00ffbc 88px,#00ff95 96px,#00ff09 116px,#0f0 119px,#17ff00 126px)"></b><b style="background:linear-gradient(#0064ff,#07f 18px,#00aeff 42px,#0ff 67px,#00ffba 88px,#00ff94 96px,#00ff06 116px,#0f0 118px,#18ff00 126px)"></b><b style="background:linear-gradient(#0065ff,#0076ff 16px,#00afff 42px,#0ff 66px,#00ffb9 88px,#00ff92 96px,#00ff04 116px,#0f0 118px,#1aff00 126px)"></b><b style="background:linear-gradient(#0065ff,#07f 16px,#00b0ff 42px,#0ff 66px,#00ffb7 88px,#00ff90 96px,#00ff07 116px,#0f0 118px,#1bff00 126px)"></b><b style="background:linear-gradient(#0065ff,#0078ff 16px,#00b1ff 42px,#0ff 66px,#00ffb6 88px,#00ff8e 96px,#00ff05 116px,#0f0 117px,#1dff00 126px)"></b><b style="background:linear-gradient(#06f,#0078ff 16px,#00b2ff 42px,#0ff 65px,#00ffb4 88px,#00ff8d 96px,#0f0 116px,#1eff00 126px)"></b><b style="background:linear-gradient(#06f,#07f 16px,#00b3ff 42px,#0ff 65px,#00ffb3 88px,#00ff8b 96px,#00ff06 114px,#0f0 116px,#20ff00 126px)"></b><b style="background:linear-gradient(#0067ff,#0078ff 16px,#00b4ff 42px,#0ff 65px,#00ffb1 88px,#00ff89 96px,#00ff03 114px,#0f0 116px,#2f0 126px)"></b><b style="background:linear-gradient(#0067ff,#0079ff 16px,#00b5ff 42px,#0ff 64px,#00ffb0 88px,#00ff87 96px,#00ff07 114px,#0f0 116px,#23ff00 126px)"></b><b style="background:linear-gradient(#0067ff,#07f 14px,#00b6ff 42px,#0ff 64px,#00ffae 88px,#00ff86 96px,#00ff05 114px,#0f0 115px,#25ff00 126px)"></b><b style="background:linear-gradient(#0068ff,#0078ff 14px,#00b7ff 42px,#0ff 63px,#00ffad 88px,#00ff84 96px,#0f0 114px,#26ff00 126px)"></b><b style="background:linear-gradient(#0068ff,#0079ff 14px,#00b8ff 42px,#0ff 63px,#00ffab 88px,#00ff82 96px,#00ff06 112px,#0f0 114px,#28ff00 126px)"></b><b style="background:linear-gradient(#0068ff,#0078ff 14px,#00b9ff 42px,#0ff 63px,#0fa 88px,#00ff80 96px,#00ff04 112px,#0f0 114px,#29ff00 126px)"></b><b style="background:linear-gradient(#0069ff,#0078ff 14px,#00baff 42px,#0ff 62px,#00ffa8 88px,#00ff7e 96px,#0f0 113px,#2bff00 126px)"></b><b style="background:linear-gradient(#0069ff,#0079ff 14px,#0bf 42px,#0ff 62px,#00ffa7 88px,#00ff7d 96px,#00ff05 112px,#0f0 113px,#2cff00 126px)"></b><b style="background:linear-gradient(#006aff,#0078ff 12px,#00bcff 42px,#0ff 62px,#00ffa5 88px,#00ff7b 96px,#00ff03 112px,#0f0 112px,#2eff00 126px)"></b><b style="background:linear-gradient(#006aff,#0078ff 12px,#00bdff 42px,#0ff 61px,#00ffa4 88px,#00ff79 96px,#0f0 112px,#30ff00 126px)"></b><b style="background:linear-gradient(#006aff,#0079ff 12px,#00beff 42px,#0ff 61px,#00ffa2 88px,#0f7 96px,#00ff05 110px,#0f0 112px,#31ff00 126px)"></b><b style="background:linear-gradient(#006bff,#007aff 12px,#00bfff 42px,#0ff 61px,#00ffa1 88px,#00ff7c 94px,#00ff03 110px,#0f0 111px,#3f0 126px)"></b><b style="background:linear-gradient(#006bff,#0079ff 12px,#00c0ff 42px,#0ff 60px,#00ff9f 88px,#00ff7b 94px,#0f0 111px,#34ff00 126px)"></b><b style="background:linear-gradient(#006cff,#0079ff 12px,#00c1ff 42px,#0ff 60px,#00ff9e 88px,#00ff79 94px,#0f0 110px,#36ff00 126px)"></b><b style="background:linear-gradient(#006cff,#007aff 12px,#00c2ff 42px,#0ff 60px,#00ff9d 88px,#0f7 94px,#00ff03 110px,#0f0 110px,#37ff00 126px)"></b><b style="background:linear-gradient(#006cff,#007bff 12px,#00c3ff 42px,#0ff 59px,#00ff9b 88px,#00ff76 94px,#0f0 110px,#39ff00 126px)"></b><b style="background:linear-gradient(#006dff,#007bff 12px,#00c4ff 42px,#0ff 59px,#00ff9a 88px,#00ff74 94px,#0f0 109px,#3bff00 126px)"></b><b style="background:linear-gradient(#006dff,#007aff 10px,#00c5ff 42px,#0ff 59px,#00ff98 88px,#00ff72 94px,#00ff03 108px,#0f0 109px,#3cff00 126px)"></b><b style="background:linear-gradient(#006eff,#007bff 10px,#00c6ff 42px,#0ff 58px,#00ff97 88px,#00ff70 94px,#0f0 109px,#3eff00 126px)"></b><b style="background:linear-gradient(#006eff,#007cff 10px,#00c7ff 42px,#0ff 58px,#00ff95 88px,#00ff6f 94px,#0f0 108px,#3fff00 126px)"></b><b style="background:linear-gradient(#006eff,#007cff 10px,#00c8ff 42px,#0ff 58px,#00ff94 88px,#00ff6d 94px,#0f0 108px,#41ff00 126px)"></b><b style="background:linear-gradient(#006fff,#007fff 12px,#00c9ff 42px,#0ff 57px,#00ff92 88px,#00ff6b 94px,#0f0 108px,#42ff00 126px)"></b><b style="background:linear-gradient(#006fff,#0080ff 12px,#00caff 42px,#0ff 57px,#00ff91 88px,#00ff6a 94px,#0f0 108px,#4f0 126px)"></b><b style="background:linear-gradient(#006fff,#0081ff 12px,#00cbff 42px,#0ff 57px,#00ff8f 88px,#00ff68 94px,#0f0 107px,#45ff00 126px)"></b><b style="background:linear-gradient(#0070ff,#0081ff 12px,#0cf 42px,#0ff 57px,#00ff8e 88px,#0f6 94px,#0f0 107px,#47ff00 126px)"></b><b style="background:linear-gradient(#0070ff,#0084ff 12px,#00cdff 42px,#0ff 56px,#00ff8c 88px,#00ff64 94px,#0f0 107px,#49ff00 126px)"></b><b style="background:linear-gradient(#0071ff,#0085ff 12px,#00ceff 42px,#0ff 56px,#00ff8b 88px,#00ff63 94px,#0f0 106px,#4aff00 126px)"></b><b style="background:linear-gradient(#0071ff,#0086ff 12px,#00cfff 42px,#0ff 56px,#00ff89 88px,#00ff61 94px,#0f0 106px,#4cff00 126px)"></b><b style="background:linear-gradient(#0071ff,#0087ff 12px,#00d0ff 42px,#0ff 55px,#0f8 88px,#00ff5f 94px,#0f0 106px,#4dff00 126px)"></b><b style="background:linear-gradient(#0072ff,#008aff 14px,#00d1ff 42px,#0ff 55px,#00ff86 88px,#00ff5e 94px,#0f0 106px,#4fff00 126px)"></b><b style="background:linear-gradient(#0072ff,#008aff 14px,#00d2ff 42px,#0ff 55px,#00ff85 88px,#00ff5c 94px,#0f0 105px,#50ff00 126px)"></b><b style="background:linear-gradient(#0073ff,#008dff 14px,#00d3ff 42px,#0ff 54px,#00ff83 88px,#00ff62 94px,#0f0 105px,#52ff00 126px)"></b><b style="background:linear-gradient(#0073ff,#008eff 14px,#00d4ff 42px,#0ff 54px,#00ff82 88px,#00ff60 94px,#0f0 105px,#54ff00 126px)"></b><b style="background:linear-gradient(#0073ff,#008fff 14px,#00d5ff 42px,#0ff 54px,#00ff80 88px,#00ff5e 94px,#0f0 105px,#5f0 126px)"></b><b style="background:linear-gradient(#0074ff,#0092ff 16px,#00d6ff 42px,#0ff 53px,#00ff7f 88px,#00ff5d 94px,#0f0 104px,#57ff00 126px)"></b><b style="background:linear-gradient(#0074ff,#00d7ff 42px,#0ff 53px,#00ff7d 88px,#00ff5b 94px,#0f0 104px,#58ff00 126px)"></b><b style="background:linear-gradient(#0075ff,#00d8ff 42px,#0ff 53px,#00ff7c 88px,#00ff59 94px,#0f0 104px,#5aff00 126px)"></b><b style="background:linear-gradient(#0075ff,#00d9ff 42px,#0ff 53px,#00ff7a 88px,#00ff58 94px,#0f0 104px,#5bff00 126px)"></b><b style="background:linear-gradient(#0075ff,#00d9ff 42px,#0ff 52px,#00ff79 88px,#00ff56 94px,#0f0 103px,#5dff00 126px)"></b><b style="background:linear-gradient(#0076ff,#00daff 42px,#0ff 52px,#00ff78 88px,#00ff54 94px,#0f0 103px,#5eff00 126px)"></b><b style="background:linear-gradient(#0076ff,#00dbff 42px,#0ff 52px,#00ff76 88px,#00ff52 94px,#0f0 103px,#60ff00 126px)"></b><b style="background:linear-gradient(#07f,#00dcff 42px,#0ff 51px,#00ff75 88px,#00ff51 94px,#0f0 103px,#62ff00 126px)"></b><b style="background:linear-gradient(#07f,#00c9ff 36px,#00faff 50px,#0ff 52px,#00ff6f 88px,#00ff4f 94px,#0f0 103px,#63ff00 126px)"></b><b style="background:linear-gradient(#0078ff,#00caff 36px,#00f7ff 50px,#0ff 52px,#00ff6d 88px,#00ff4d 94px,#0f0 102px,#65ff00 126px)"></b><b style="background:linear-gradient(#0079ff,#00cbff 36px,#00f8ff 50px,#0ff 51px,#00ff6c 88px,#00ff4c 94px,#0f0 102px,#6f0 126px)"></b><b style="background:linear-gradient(#0079ff,#0cf 36px,#00f9ff 50px,#0ff 51px,#00ff6a 88px,#00ff4a 94px,#0f0 102px,#68ff00 126px)"></b><b style="background:linear-gradient(#007aff,#00cdff 36px,#00faff 50px,#0ff 51px,#00ff69 88px,#00ff48 94px,#0f0 102px,#69ff00 126px)"></b><b style="background:linear-gradient(#007bff,#00ceff 36px,#00fbff 50px,#0ff 50px,#00ff67 88px,#00ff47 94px,#0f0 102px,#6bff00 126px)"></b><b style="background:linear-gradient(#007bff,#0cf 34px,#00f9ff 48px,#0ff 50px,#0f6 88px,#00ff45 94px,#0f0 102px,#08ff00 102px,#6cff00 126px)"></b><b style="background:linear-gradient(#007cff,#00cdff 34px,#00faff 48px,#0ff 50px,#00ff64 88px,#00ff43 94px,#0f0 101px,#6eff00 126px)"></b><b style="background:linear-gradient(#007cff,#00ceff 34px,#00fbff 48px,#0ff 50px,#00ff63 88px,#00ff42 94px,#0f0 101px,#70ff00 126px)"></b><b style="background:linear-gradient(#007dff,#00cfff 34px,#0ff 49px,#00ff61 88px,#00ff40 94px,#0f0 101px,#71ff00 126px)"></b><b style="background:linear-gradient(#007eff,#00d0ff 34px,#0ff 49px,#00ff60 88px,#00ff46 92px,#0f0 101px,#07ff00 102px,#73ff00 126px)"></b><b style="background:linear-gradient(#007eff,#00d1ff 34px,#00faff 48px,#0ff 49px,#00ff5e 88px,#00ff45 92px,#0f0 101px,#08ff00 102px,#74ff00 126px)"></b><b style="background:linear-gradient(#007fff,#00d1ff 34px,#00fbff 48px,#0ff 48px,#00ff5d 88px,#00ff43 92px,#0f0 100px,#0aff00 102px,#76ff00 126px)"></b><b style="background:linear-gradient(#0080ff,#00d2ff 34px,#0ff 48px,#00ff5b 88px,#00ff41 92px,#0f0 100px,#7f0 126px)"></b><b style="background:linear-gradient(#0080ff,#00d3ff 34px,#0ff 48px,#00ff5a 88px,#00ff40 92px,#0f0 100px,#79ff00 126px)"></b><b style="background:linear-gradient(#0081ff,#00d4ff 34px,#0ff 48px,#00ff58 88px,#00ff3e 92px,#0f0 100px,#07ff00 100px,#7bff00 126px)"></b><b style="background:linear-gradient(#0081ff,#00d5ff 34px,#00fcff 46px,#0ff 47px,#00ff57 88px,#00ff3d 92px,#0f0 100px,#08ff00 100px,#7cff00 126px)"></b><b style="background:linear-gradient(#0082ff,#00d6ff 34px,#0ff 47px,#0f5 88px,#00ff3b 92px,#0f0 99px,#0aff00 100px,#7eff00 126px)"></b><b style="background:linear-gradient(#0083ff,#00d7ff 34px,#0ff 47px,#00ff54 88px,#00ff39 92px,#0f0 99px,#0bff00 100px,#7fff00 126px)"></b><b style="background:linear-gradient(#0083ff,#00d8ff 34px,#0ff 47px,#00ff52 88px,#00ff38 92px,#0f0 99px,#0cff00 100px,#81ff00 126px)"></b><b style="background:linear-gradient(#0084ff,#00d9ff 34px,#0ff 46px,#00ff51 88px,#0f0 99px,#0dff00 100px,#82ff00 126px)"></b><b style="background:linear-gradient(#0085ff,#00daff 34px,#0ff 46px,#00ff4f 88px,#0f0 99px,#0eff00 100px,#84ff00 126px)"></b><b style="background:linear-gradient(#0085ff,#00daff 34px,#0ff 46px,#00ff4e 88px,#0f0 98px,#09ff00 100px,#85ff00 126px)"></b><b style="background:linear-gradient(#0086ff,#00dbff 34px,#0ff 45px,#00ff4c 88px,#0f0 98px,#0aff00 100px,#87ff00 126px)"></b><b style="background:linear-gradient(#0086ff,#00dcff 34px,#0ff 45px,#00ff4b 88px,#0f0 98px,#0cff00 100px,#89ff00 126px)"></b><b style="background:linear-gradient(#0087ff,#0df 34px,#0ff 45px,#00ff49 88px,#0f0 98px,#0dff00 100px,#8aff00 126px)"></b><b style="background:linear-gradient(#08f,#00deff 34px,#0ff 45px,#00ff48 88px,#0f0 98px,#0eff00 100px,#8cff00 126px)"></b><b style="background:linear-gradient(#08f,#00dfff 34px,#0ff 44px,#00ff46 88px,#0f0 98px,#0fff00 100px,#8dff00 126px)"></b><b style="background:linear-gradient(#0089ff,#00e0ff 34px,#0ff 44px,#00ff45 88px,#0f0 97px,#10ff00 100px,#8fff00 126px)"></b><b style="background:linear-gradient(#008aff,#0ff 44px,#00ff43 88px,#0f0 97px,#1f0 100px,#90ff00 126px)"></b><b style="background:linear-gradient(#008aff,#0ff 44px,#00ff42 88px,#0f0 97px,#12ff00 100px,#92ff00 126px)"></b><b style="background:linear-gradient(#008bff,#00e0ff 34px,#0ff 43px,#00ff40 88px,#0f0 97px,#13ff00 100px,#94ff00 126px)"></b><b style="background:linear-gradient(#008bff,#00e4ff 34px,#0ff 43px,#00ff3f 88px,#0f0 97px,#14ff00 100px,#95ff00 126px)"></b><b style="background:linear-gradient(#008cff,#0ff 43px,#00ff3d 88px,#0f0 97px,#15ff00 100px,#97ff00 126px)"></b><b style="background:linear-gradient(#008dff,#0ff 42px,#00ff3c 88px,#0f0 97px,#16ff00 100px,#98ff00 126px)"></b><b style="background:linear-gradient(#008dff,#0ff 42px,#00ff3a 88px,#0f0 96px,#1f0 98px,#9aff00 126px)"></b><b style="background:linear-gradient(#008eff,#0ff 42px,#00fffd 42px,#00ff39 88px,#0f0 96px,#12ff00 98px,#9bff00 126px)"></b><b style="background:linear-gradient(#008fff,#0ff 41px,#00fffb 42px,#00ff37 88px,#0f0 96px,#14ff00 98px,#9dff00 126px)"></b><b style="background:linear-gradient(#008fff,#0ff 41px,#00ff3b 88px,#0f0 96px,#1aff00 100px,#9eff00 126px)"></b><b style="background:linear-gradient(#0090ff,#0ff 41px,#00ff39 88px,#0f0 96px,#1bff00 100px,#a0ff00 126px)"></b><b style="background:linear-gradient(#0091ff,#0ff 40px,#00fffc 42px,#00ff38 88px,#0f0 95px,#1cff00 100px,#a2ff00 126px)"></b><b style="background:linear-gradient(#0091ff,#0ff 40px,#00fffb 42px,#00ff36 88px,#0f0 95px,#1dff00 100px,#a3ff00 126px)"></b><b style="background:linear-gradient(#0092ff,#0ff 40px,#00ff35 88px,#0f0 95px,#1eff00 100px,#a5ff00 126px)"></b><b style="background:linear-gradient(#0092ff,#0ff 40px,#0f3 88px,#0f0 95px,#20ff00 100px,#a6ff00 126px)"></b><b style="background:linear-gradient(#0093ff,#0ff 39px,#00fffc 40px,#00ff32 88px,#0f0 95px,#21ff00 100px,#a8ff00 126px)"></b><b style="background:linear-gradient(#0094ff,#0ff 39px,#00fffa 40px,#00ff31 88px,#0f0 95px,#2f0 100px,#a9ff00 126px)"></b><b style="background:linear-gradient(#0094ff,#0ff 39px,#00ff2f 88px,#0f0 94px,#23ff00 100px,#abff00 126px)"></b><b style="background:linear-gradient(#0095ff,#0ff 39px,#00fffc 40px,#00ff2e 88px,#0f0 94px,#24ff00 100px,#adff00 126px)"></b><b style="background:linear-gradient(#0096ff,#0ff 38px,#00fffb 40px,#00ff2c 88px,#0f0 94px,#25ff00 100px,#aeff00 126px)"></b><b style="background:linear-gradient(#0096ff,#0ff 38px,#00fffa 40px,#00ff2b 88px,#0f0 94px,#26ff00 100px,#b0ff00 126px)"></b><b style="background:linear-gradient(#0097ff,#0ff 37px,#00fff9 40px,#00ff29 88px,#0f0 94px,#27ff00 100px,#b1ff00 126px)"></b><b style="background:linear-gradient(#0097ff,#0ff 37px,#00fffc 38px,#00ff28 88px,#0f0 93px,#28ff00 100px,#b3ff00 126px)"></b><b style="background:linear-gradient(#0098ff,#0ff 37px,#00fffb 38px,#00ff26 88px,#0f0 93px,#29ff00 100px,#b4ff00 126px)"></b><b style="background:linear-gradient(#09f,#0ff 36px,#00fff9 38px,#00ff25 88px,#0f0 93px,#2aff00 100px,#b6ff00 126px)"></b><b style="background:linear-gradient(#09f,#0ff 36px,#00fff8 38px,#00ff23 88px,#0f0 93px,#2bff00 100px,#b7ff00 126px)"></b><b style="background:linear-gradient(#009aff,#0ff 36px,#00fffb 38px,#0f2 88px,#0f0 93px,#2cff00 100px,#b9ff00 126px)"></b><b style="background:linear-gradient(#009bff,#0ff 36px,#00fffa 38px,#00ff20 88px,#0f0 92px,#2dff00 100px,#bf0 126px)"></b><b style="background:linear-gradient(#009bff,#0ff 35px,#00fff9 38px,#00ff1f 88px,#0f0 92px,#34ff00 100px,#bcff00 126px)"></b><b style="background:linear-gradient(#009cff,#0ff 35px,#00fff7 38px,#00ff1d 88px,#0f0 92px,#35ff00 100px,#beff00 126px)"></b><b style="background:linear-gradient(#009cff,#0ff 35px,#00fffa 36px,#00ff1c 88px,#0f0 92px,#36ff00 100px,#bfff00 126px)"></b><b style="background:linear-gradient(#009dff,#0ff 34px,#00fff9 36px,#00ff1a 88px,#0f0 92px,#37ff00 100px,#c1ff00 126px)"></b><b style="background:linear-gradient(#009eff,#0ff 35px,#00ff1d 86px,#0f0 91px,#3eff00 102px,#c2ff00 126px)"></b><b style="background:linear-gradient(#009eff,#0ff 34px,#00ff1c 86px,#0f0 91px,#3fff00 102px,#c4ff00 126px)"></b><b style="background:linear-gradient(#009fff,#0ff 34px,#00ff1a 86px,#0f0 91px,#c5ff00 126px)"></b><b style="background:linear-gradient(#00a0ff,#0ff 34px,#00fffc 34px,#00ff19 86px,#0f0 91px,#c7ff00 126px)"></b><b style="background:linear-gradient(#00a0ff,#0ff 34px,#00ff18 86px,#0f0 91px,#c9ff00 126px)"></b><b style="background:linear-gradient(#00a1ff,#0ff 33px,#00ff16 86px,#0f0 90px,#caff00 126px)"></b><b style="background:linear-gradient(#00a1ff,#0ff 33px,#00ff15 86px,#0f0 90px,#cf0 126px)"></b><b style="background:linear-gradient(#00a2ff,#0ff 32px,#00fffc 34px,#00ff13 86px,#0f0 90px,#cdff00 126px)"></b><b style="background:linear-gradient(#00a3ff,#0ff 32px,#00ff12 86px,#0f0 90px,#cfff00 126px)"></b><b style="background:linear-gradient(#00a3ff,#0ff 32px,#00ff10 86px,#0f0 89px,#d0ff00 126px)"></b><b style="background:linear-gradient(#00a4ff,#0ff 31px,#00fffc 32px,#00ff0f 86px,#0f0 89px,#d2ff00 126px)"></b><b style="background:linear-gradient(#00a5ff,#0ff 31px,#00fffb 32px,#00ff0d 86px,#0f0 89px,#d4ff00 126px)"></b><b style="background:linear-gradient(#00a5ff,#0ff 31px,#00ff0c 86px,#0f0 89px,#d5ff00 126px)"></b><b style="background:linear-gradient(#00a6ff,#0ff 30px,#00fffc 32px,#00ff0a 86px,#0f0 88px,#d7ff00 126px)"></b><b style="width:2px;background:linear-gradient(#00a6ff,#0ff 30px,#00fffb 32px,#00ff09 86px,#0f0 88px,#d8ff00 126px)"></b></div>
<div class="fr r2" style="left:1089px;top:3409px;width:1055px;height:291px"><i style="background:linear-gradient(90deg,#0025ff,#0ff 116px,#0f0 230px,#08ff00 234px,#faff00 368px,#ff0 370px,#ff0100 520px,#f00 1055px)"></i><i style="background:linear-gradient(90deg,#0025ff,#0ff 112px,#0f0 222px,#0cff00 228px,#fbff00 356px,#ff0 359px,#ff0200 514px,#f00 1055px)"></i><i style="background:linear-gradient(90deg,#0025ff,#0ff 109px,#0f0 215px,#0dff00 220px,#ff0 348px,#ff0200 508px,#f00 1055px)"></i><i style="background:linear-gradient(90deg,#0025ff,#0ff 106px,#0f0 209px,#0eff00 214px,#ff0 339px,#ff0200 502px,#f00 1055px)"></i><i style="background:linear-gradient(90deg,#0025ff,#0ff 103px,#0f0 204px,#1f0 210px,#ff0 331px,#ff0300 494px,#f00 1055px)"></i><i style="background:linear-gradient(90deg,#0025ff,#0ff 100px,#0f0 198px,#ecff00 314px,#ff0 327px,#ff0200 488px,#f00 1055px)"></i><i style="background:linear-gradient(90deg,#0025ff,#0ff 98px,#0f0 194px,#f1ff00 310px,#ff0 320px,#ff0200 482px,#f00 1055px)"></i><i style="background:linear-gradient(90deg,#0025ff,#0ff 96px,#0f0 190px,#f2ff00 306px,#ff0 314px,#ff0200 476px,#f00 1055px)"></i><i style="background:linear-gradient(90deg,#0025ff,#0ff 94px,#0f0 186px,#f3ff00 300px,#ff0 308px,#ff0200 470px,#f00 1055px)"></i><i style="background:linear-gradient(90deg,#0025ff,#0ff 92px,#0f0 183px,#f4ff00 296px,#ff0 303px,#ff0200 466px,#f00 1055px)"></i><i style="background:linear-gradient(90deg,#0025ff,#0ff 90px,#0f0 180px,#f6ff00 292px,#ff0 297px,#ff0200 460px,#f00 1055px)"></i><i style="background:linear-gradient(90deg,#0025ff,#0ff 88px,#0f0 177px,#f5ff00 286px,#ff0 293px,#ff0200 454px,#f00 1055px)"></i><i style="background:linear-gradient(90deg,#0025ff,#0ff 87px,#0f0 174px,#f6ff00 282px,#ff0 288px,#ff0200 448px,#f00 1055px)"></i><i style="background:linear-gradient(90deg,#0026ff,#0ff 85px,#0f0 172px,#f6ff00 278px,#ff0 284px,#ff0200 444px,#f00 1055px)"></i><i style="background:linear-gradient(90deg,#0026ff,#0ff 84px,#0f0 169px,#f6ff00 274px,#ff0 280px,#ff0200 438px,#f00 1055px)"></i><i style="background:linear-gradient(90deg,#0026ff,#0ff 83px,#0f0 167px,#f8ff00 272px,#ff0 276px,#ff0200 434px,#f00 1055px)"></i><i style="background:linear-gradient(90deg,#0026ff,#0ff 82px,#0f0 165px,#f8ff00 268px,#ff0 272px,#ff0200 428px,#f00 1055px)"></i><i style="background:linear-gradient(90deg,#0026ff,#0ff 80px,#0f0 163px,#f9ff00 264px,#ff0 268px,#ff0200 424px,#f00 1055px)"></i><i style="background:linear-gradient(90deg,#0026ff,#0ff 79px,#0f0 161px,#f8ff00 260px,#ff0 265px,#ff0200 418px,#f00 1055px)"></i><i style="background:linear-gradient(90deg,#0026ff,#0ff 78px,#0f0 159px,#f8ff00 258px,#ff0 261px,#ff0200 414px,#f00 1055px)"></i><i style="background:linear-gradient(90deg,#0026ff,#0ff 77px,#0f0 157px,#f9ff00 254px,#ff0 258px,#ff0100 410px,#f00 1055px)"></i><i style="background:linear-gradient(90deg,#0026ff,#0ff 76px,#0f0 155px,#f9ff00 252px,#ff0 255px,#ff0200 404px,#f00 1055px)"></i><i style="background:linear-gradient(90deg,#0026ff,#0ff 75px,#0f0 153px,#f9ff00 248px,#ff0 252px,#ff0100 400px,#f00 1055px)"></i><i style="background:linear-gradient(90deg,#0026ff,#0ff 74px,#0f0 152px,#f9ff00 246px,#ff0 249px,#ff0200 396px,#f00 1055px)"></i><i style="background:linear-gradient(90deg,#0026ff,#0ff 73px,#0f0 150px,#f9ff00 242px,#ff0 246px,#ff0100 392px,#f00 1055px)"></i><i style="background:linear-gradient(90deg,#0026ff,#0ff 73px,#0f0 148px,#fbff00 240px,#ff0 243px,#ff0100 388px,#f00 1055px)"></i><i style="background:linear-gradient(90deg,#0026ff,#0ff 72px,#0f0 147px,#faff00 238px,#ff0 240px,#ff0100 384px,#f00 1055px)"></i><i style="background:linear-gradient(90deg,#0026ff,#0ff 71px,#0f0 145px,#f9ff00 234px,#ff0 238px,#ff0200 378px,#f00 1055px)"></i><i style="background:linear-gradient(90deg,#0026ff,#0ff 70px,#0f0 144px,#faff00 232px,#ff0 235px,#ff0200 374px,#f00 1055px)"></i><i style="background:linear-gradient(90deg,#0026ff,#0ff 70px,#0f0 143px,#f9ff00 230px,#ff0 233px,#ff0100 372px,#f00 1055px)"></i><i style="background:linear-gradient(90deg,#0026ff,#0ff 69px,#0f0 141px,#faff00 228px,#ff0 230px,#ff0100 368px,#f00 1055px)"></i><i style="background:linear-gradient(90deg,#0026ff,#0ff 68px,#0f0 140px,#fbff00 226px,#ff0 228px,#ff0100 364px,#f00 1055px)"></i><i style="background:linear-gradient(90deg,#0026ff,#0ff 68px,#0f0 139px,#f9ff00 222px,#ff0 226px,#ff0100 360px,#f00 1055px)"></i><i style="background:linear-gradient(90deg,#0026ff,#0ff 67px,#0f0 138px,#faff00 220px,#ff0 223px,#ff0200 356px,#f00 1055px)"></i><i style="background:linear-gradient(90deg,#0026ff,#0ff 66px,#0f0 136px,#faff00 218px,#ff0 221px,#ff0100 352px,#f00 1055px)"></i><i style="background:linear-gradient(90deg,#0026ff,#0ff 66px,#0f0 135px,#fbff00 216px,#ff0 219px,#ff0200 348px,#f00 1055px)"></i><i style="background:linear-gradient(90deg,#0026ff,#0ff 65px,#0f0 134px,#fbff00 214px,#ff0 217px,#ff0100 346px,#f00 1055px)"></i><i style="background:linear-gradient(90deg,#0026ff,#0ff 65px,#0f0 133px,#fbff00 212px,#ff0 214px,#ff0200 342px,#f00 1055px)"></i><i style="background:linear-gradient(90deg,#0026ff,#0ff 64px,#0f0 132px,#fbff00 210px,#ff0 212px,#ff0100 338px,#f00 1055px)"></i><i style="background:linear-gradient(90deg,#0026ff,#0ff 64px,#0f0 131px,#fbff00 208px,#ff0 210px,#ff0100 336px,#f00 1055px)"></i><i style="background:linear-gradient(90deg,#0026ff,#0ff 63px,#0f0 130px,#fbff00 206px,#ff0 209px,#ff0100 332px,#f00 1055px)"></i><i style="background:linear-gradient(90deg,#0026ff,#0ff 63px,#0f0 129px,#fbff00 204px,#ff0 207px,#ff0100 328px,#f00 1055px)"></i><i style="background:linear-gradient(90deg,#0026ff,#0ff 62px,#0f0 128px,#faff00 202px,#ff0 205px,#ff0100 326px,#f00 1055px)"></i><i style="background:linear-gradient(90deg,#0026ff,#0ff 62px,#0f0 127px,#fcff00 202px,#ff0 203px,#ff0100 322px,#f00 1055px)"></i><i style="background:linear-gradient(90deg,#0026ff,#0ff 61px,#0f0 126px,#fcff00 200px,#ff0 201px,#ff0100 320px,#f00 1055px)"></i><i style="background:linear-gradient(90deg,#0026ff,#0ff 61px,#0f0 125px,#fbff00 198px,#ff0 199px,#ff0100 316px,#f00 1055px)"></i><i style="background:linear-gradient(90deg,#0026ff,#0ff 60px,#0f0 124px,#faff00 196px,#ff0 198px,#ff0100 314px,#f00 1055px)"></i><i style="background:linear-gradient(90deg,#0026ff,#0ff 60px,#0f0 124px,#fcff00 194px,#ff0 196px,#ff0100 310px,#f00 1055px)"></i><i style="background:linear-gradient(90deg,#0026ff,#0ff 60px,#0f0 123px,#fbff00 192px,#ff0 194px,#ff0100 308px,#f00 1055px)"></i><i style="background:linear-gradient(90deg,#0026ff,#0ff 59px,#0f0 122px,#fdff00 192px,#ff0 193px,#ff0100 306px,#f00 1055px)"></i><i style="background:linear-gradient(90deg,#0027ff,#0ff 59px,#0f0 121px,#fbff00 190px,#ff0 191px,#ff0100 302px,#f00 1055px)"></i><i style="background:linear-gradient(90deg,#0027ff,#0ff 59px,#0f0 120px,#fdff00 188px,#ff0 189px,#f00 300px)"></i><i style="background:linear-gradient(90deg,#0027ff,#0ff 58px,#0f0 120px,#03ff00 120px,#fbff00 186px,#ff0 188px,#ff0100 298px,#f00 1055px)"></i><i style="background:linear-gradient(90deg,#0027ff,#0ff 58px,#0f0 119px,#fdff00 186px,#ff0 186px,#ff0100 294px,#f00 1055px)"></i><i style="background:linear-gradient(90deg,#0027ff,#0ff 58px,#0f0 118px,#fbff00 184px,#ff0 185px,#ff0100 292px,#f00 1055px)"></i><i style="background:linear-gradient(90deg,#0027ff,#0ff 57px,#0f0 117px,#fdff00 182px,#ff0 183px,#ff0100 290px,#f00 1055px)"></i><i style="background:linear-gradient(90deg,#0027ff,#0ff 57px,#0f0 117px,#fbff00 180px,#ff0 182px,#ff0100 288px,#f00 1055px)"></i><i style="background:linear-gradient(90deg,#0027ff,#0ff 57px,#0f0 116px,#fcff00 180px,#ff0 181px,#ff0100 284px,#f00 1055px)"></i><i style="background:linear-gradient(90deg,#0027ff,#0ff 56px,#0f0 115px,#fdff00 178px,#ff0 179px,#ff0100 282px,#f00 1055px)"></i><i style="background:linear-gradient(90deg,#0027ff,#0ff 56px,#0f0 115px,#fbff00 176px,#ff0 178px,#ff0100 280px,#f00 1055px)"></i><i style="background:linear-gradient(90deg,#0027ff,#0ff 56px,#0f0 114px,#fcff00 176px,#ff0 177px,#f00 278px)"></i><i style="background:linear-gradient(90deg,#0027ff,#0ff 56px,#0f0 114px,#fdff00 174px,#ff0 175px,#ff0100 276px,#f00 1055px)"></i><i style="background:linear-gradient(90deg,#0027ff,#0ff 55px,#0f0 113px,#ff0 174px,#ff0100 274px,#f00 1055px)"></i><i style="background:linear-gradient(90deg,#0027ff,#0ff 55px,#0f0 112px,#ff0 173px,#ff0100 272px,#f00 1055px)"></i><i style="background:linear-gradient(90deg,#0027ff,#0ff 55px,#0f0 112px,#fbff00 170px,#ff0 172px,#ff0100 270px,#f00 1055px)"></i><i style="background:linear-gradient(90deg,#0027ff,#0ff 55px,#0f0 111px,#fcff00 170px,#ff0 171px,#f00 268px)"></i><i style="background:linear-gradient(90deg,#0027ff,#0ff 55px,#0f0 111px,#fcff00 168px,#ff0 169px,#f00 266px)"></i><i style="background:linear-gradient(90deg,#0027ff,#0ff 54px,#0f0 110px,#ff0 168px,#f00 264px)"></i><i style="background:linear-gradient(90deg,#0027ff,#0ff 54px,#0f0 111px,#ff0 167px,#f00 262px)"></i><i style="background:linear-gradient(90deg,#0027ff,#0ff 54px,#0f0 110px,#ff0 166px,#f00 260px)"></i><i style="background:linear-gradient(90deg,#0027ff,#0ff 54px,#0f0 109px,#ff0 165px,#ff0100 258px,#f00 1055px)"></i><i style="background:linear-gradient(90deg,#0027ff,#0ff 54px,#0f0 109px,#ff0 164px,#ff0100 256px,#f00 1055px)"></i><i style="background:linear-gradient(90deg,#0027ff,#0ff 54px,#0f0 108px,#ff0 163px,#ff0100 254px,#f00 1055px)"></i><i style="background:linear-gradient(90deg,#0027ff,#0ff 53px,#0f0 108px,#ff0 162px,#f00 252px)"></i><i style="background:linear-gradient(90deg,#0027ff,#0ff 53px,#0f0 107px,#ff0 161px,#f00 250px)"></i><i style="background:linear-gradient(90deg,#0027ff,#0ff 53px,#0f0 106px,#ff0 160px,#ff0100 248px,#f00 1055px)"></i><i style="background:linear-gradient(90deg,#0027ff,#0ff 53px,#0f0 106px,#ff0 159px,#ff0100 246px,#f00 1055px)"></i><i style="background:linear-gradient(90deg,#0027ff,#0ff 53px,#00fffc 54px,#0f0 105px,#ff0 158px,#f00 246px)"></i><i style="background:linear-gradient(90deg,#0027ff,#0ff 53px,#00fffb 54px,#0f0 105px,#ff0 157px,#ff0100 244px,#f00 1055px)"></i><i style="background:linear-gradient(90deg,#0027ff,#0ff 52px,#00fffa 54px,#0f0 104px,#fcff00 156px,#ff0 156px,#ff0100 242px,#f00 1055px)"></i><i style="background:linear-gradient(90deg,#0027ff,#0ff 52px,#0f0 104px,#fcff00 154px,#ff0 156px,#f00 240px)"></i><i style="background:linear-gradient(90deg,#0027ff,#0ff 52px,#0f0 103px,#ff0 154px,#ff0100 238px,#f00 1055px)"></i><i style="background:linear-gradient(90deg,#0027ff,#0ff 52px,#0f0 103px,#ff0 154px,#f00 238px)"></i><i style="background:linear-gradient(90deg,#0027ff,#0ff 52px,#0f0 102px,#ff0 153px,#ff0100 236px,#f00 1055px)"></i><i style="background:linear-gradient(90deg,#0027ff,#0ff 52px,#0f0 102px,#ff0 152px,#f00 234px)"></i><i style="background:linear-gradient(90deg,#0027ff,#0ff 52px,#0f0 101px,#fcff00 150px,#ff0 151px,#f00 234px)"></i><i style="background:linear-gradient(90deg,#0027ff,#0ff 52px,#00fffb 52px,#0f0 101px,#ff0 150px,#ff0100 232px,#f00 1055px)"></i><i style="background:linear-gradient(90deg,#0027ff,#0ff 52px,#00fffb 52px,#0f0 101px,#ff0 150px,#f00 230px)"></i><i style="background:linear-gradient(90deg,#0027ff,#0ff 51px,#00fffa 52px,#0f0 100px,#ff0 149px,#f00 230px)"></i><i style="background:linear-gradient(90deg,#0027ff,#0ff 51px,#00fffa 52px,#0f0 100px,#fcff00 148px,#ff0 149px,#ff0100 228px,#f00 1055px)"></i><i style="background:linear-gradient(90deg,#0027ff,#0ff 51px,#00fffa 52px,#0f0 100px,#ff0 148px,#f00 226px)"></i><i style="background:linear-gradient(90deg,#0027ff,#0ff 51px,#00fff9 52px,#0f0 99px,#ff0 147px,#f00 226px)"></i><i style="background:linear-gradient(90deg,#0027ff,#0ff 51px,#0f0 99px,#ff0 146px,#ff0c00 220px,#f00 224px)"></i><i style="background:linear-gradient(90deg,#0027ff,#0ff 51px,#0f0 98px,#ff0 146px,#ff0100 222px,#f00 1055px)"></i><i style="background:linear-gradient(90deg,#0027ff,#0ff 51px,#0f0 99px,#ff0 145px,#ff0100 222px,#f00 1055px)"></i><i style="background:linear-gradient(90deg,#0027ff,#0ff 51px,#0f0 99px,#ff0 144px,#f00 220px)"></i><i style="background:linear-gradient(90deg,#0027ff,#0ff 51px,#0f0 98px,#ff0 144px,#f00 220px)"></i><i style="background:linear-gradient(90deg,#0027ff,#0ff 51px,#0f0 98px,#ff0 143px,#f00 218px)"></i><i style="background:linear-gradient(90deg,#0027ff,#0ff 51px,#00fffb 52px,#0f0 98px,#ff0 143px,#f00 218px)"></i><i style="background:linear-gradient(90deg,#0027ff,#0ff 51px,#00fffb 52px,#0f0 97px,#ff0 142px,#f00 216px)"></i><i style="background:linear-gradient(90deg,#0027ff,#0ff 50px,#00fffb 52px,#0f0 97px,#ff0 142px,#f00 216px)"></i><i style="background:linear-gradient(90deg,#0027ff,#0ff 50px,#00fffa 52px,#0f0 97px,#ff0 141px,#f00 214px)"></i><i style="background:linear-gradient(90deg,#0027ff,#0ff 50px,#00fffa 52px,#0f0 97px,#ff0 141px,#f00 214px)"></i><i style="background:linear-gradient(90deg,#0027ff,#0ff 50px,#00fffa 52px,#0f0 96px,#ff0 140px,#f00 212px)"></i><i style="background:linear-gradient(90deg,#0027ff,#0ff 50px,#00fff9 52px,#0f0 96px,#ff0 140px,#f00 212px)"></i><i style="background:linear-gradient(90deg,#0027ff,#0ff 50px,#00fff9 52px,#0f0 96px,#ff0 139px,#f00 210px)"></i><i style="background:linear-gradient(90deg,#0027ff,#0ff 50px,#0f0 96px,#ff0 139px,#ff0100 210px,#f00 1055px)"></i><i style="background:linear-gradient(90deg,#0027ff,#0ff 50px,#0f0 95px,#ff0 138px,#ff0100 208px,#f00 1055px)"></i><i style="background:linear-gradient(90deg,#0027ff,#0ff 50px,#0f0 95px,#ff0 138px,#ff0900 204px,#f00 208px)"></i><i style="background:linear-gradient(90deg,#0027ff,#0ff 50px,#0f0 95px,#ff0 137px,#f00 208px)"></i><i style="background:linear-gradient(90deg,#0027ff,#0ff 50px,#0f0 95px,#ff0 137px,#f00 206px)"></i><i style="background:linear-gradient(90deg,#0027ff,#0ff 50px,#0f0 94px,#ff0 137px,#ff0100 206px,#f00 1055px)"></i><i style="background:linear-gradient(90deg,#0027ff,#0ff 50px,#0f0 94px,#ff0 136px,#ff0100 204px,#f00 1055px)"></i><i style="background:linear-gradient(90deg,#0027ff,#0ff 50px,#00fffb 50px,#0f0 94px,#ff0 136px,#ff0a00 200px,#f00 204px)"></i><i style="background:linear-gradient(90deg,#0027ff,#0ff 50px,#00fffb 50px,#0f0 94px,#ff0 136px,#f00 204px)"></i><i style="background:linear-gradient(90deg,#0027ff,#0ff 49px,#00fffa 50px,#0f0 93px,#ff0 135px,#ff0100 202px,#f00 1055px)"></i><i style="background:linear-gradient(90deg,#0027ff,#0ff 49px,#00fffa 50px,#0f0 92px,#ff0 135px,#ff0b00 198px,#f00 202px)"></i><i style="background:linear-gradient(90deg,#0027ff,#0ff 49px,#00fffa 50px,#0f0 92px,#ff0 135px,#f00 202px)"></i><i style="background:linear-gradient(90deg,#0027ff,#0ff 49px,#00fff9 50px,#0f0 92px,#ff0 135px,#ff0a00 198px,#f00 202px)"></i><i style="background:linear-gradient(90deg,#0027ff,#0ff 49px,#0f0 92px,#ff0 134px,#f00 200px)"></i><i style="background:linear-gradient(90deg,#0027ff,#0ff 49px,#0f0 92px,#ff0 134px,#ff0100 200px,#f00 1055px)"></i><i style="background:linear-gradient(90deg,#0027ff,#0ff 49px,#0f0 92px,#ff0 134px,#f00 200px)"></i><i style="background:linear-gradient(90deg,#0027ff,#0ff 49px,#0f0 91px,#ff0 134px,#ff0100 198px,#f00 1055px)"></i><i style="background:linear-gradient(90deg,#0027ff,#0ff 49px,#0f0 91px,#ff0 134px,#ff0b00 194px,#f00 198px)"></i><i style="background:linear-gradient(90deg,#0027ff,#0ff 49px,#00fffb 50px,#0f0 91px,#ff0 133px,#ff0100 198px,#f00 1055px)"></i><i style="background:linear-gradient(90deg,#0027ff,#0ff 49px,#00fffb 50px,#0f0 91px,#ff0 133px,#f00 198px)"></i><i style="background:linear-gradient(90deg,#0027ff,#0ff 48px,#00fffa 50px,#0f0 91px,#ff0 133px,#ff0100 196px,#f00 1055px)"></i><i style="background:linear-gradient(90deg,#0027ff,#0ff 48px,#00fffa 50px,#0f0 91px,#ff0 133px,#f00 196px)"></i><i style="background:linear-gradient(90deg,#0027ff,#0ff 48px,#0f0 91px,#ff0 133px,#ff0a00 192px,#f00 196px)"></i><i style="background:linear-gradient(90deg,#0027ff,#0ff 48px,#0f0 90px,#ff0 133px,#f00 196px)"></i><i style="background:linear-gradient(90deg,#0027ff,#0ff 48px,#0f0 90px,#ff0 133px,#ff0b00 192px,#f00 196px)"></i><i style="background:linear-gradient(90deg,#0027ff,#0ff 48px,#0f0 90px,#ff0 133px,#ff0100 194px,#f00 1055px)"></i><i style="background:linear-gradient(90deg,#0027ff,#0ff 48px,#0f0 90px,#ff0 132px,#f00 194px)"></i><i style="background:linear-gradient(90deg,#0027ff,#0ff 48px,#00fffb 48px,#0f0 90px,#ff0 132px,#ff0b00 190px,#f00 194px)"></i><i style="background:linear-gradient(90deg,#0027ff,#0ff 48px,#0f0 90px,#ff0 132px,#ff0a00 190px,#f00 194px)"></i><i style="background:linear-gradient(90deg,#0027ff,#0ff 47px,#0f0 90px,#ff0 132px,#ff0100 194px,#f00 1055px)"></i><i style="background:linear-gradient(90deg,#0027ff,#0ff 47px,#0f0 90px,#ff0 132px,#f00 194px)"></i><i style="background:linear-gradient(90deg,#0027ff,#0ff 47px,#0f0 90px,#ff0 132px,#ff0b00 190px,#f00 194px)"></i><i style="background:linear-gradient(90deg,#0027ff,#0ff 47px,#0f0 90px,#ff0 132px,#ff0100 192px,#f00 1055px)"></i><i style="background:linear-gradient(90deg,#0027ff,#0ff 47px,#0f0 89px,#ff0 132px,#ff0100 192px,#f00 1055px)"></i><i style="background:linear-gradient(90deg,#0027ff,#0ff 46px,#0f0 88px,#ff0 132px,#f00 192px)"></i><i style="background:linear-gradient(90deg,#0027ff,#0ff 46px,#0f0 88px,#ff0 132px,#ff0c00 188px,#f00 192px)"></i><i style="background:linear-gradient(90deg,#0027ff,#0ff 46px,#0f0 88px,#ff0 133px,#ff0b00 188px,#f00 192px)"></i><i style="background:linear-gradient(90deg,#0027ff,#0ff 46px,#00fffb 46px,#0f0 88px,#ff0 133px,#ff0b00 188px,#f00 192px)"></i><i style="background:linear-gradient(90deg,#0027ff,#0ff 46px,#0f0 88px,#ff0 133px,#ff0100 192px,#f00 1055px)"></i><i style="height:1px;background:linear-gradient(90deg,#0027ff,#0ff 45px,#0f0 88px,#ff0 133px,#ff0100 192px,#f00 1055px)"></i></div>
<div class="fk k3" style="left:2144px;top:3283px;width:209px;height:417px"><b style="background:linear-gradient(#00a1ff,#0ff 22px,#0f0 83px,#06ff00 84px,#ff0 117px,#ffe800 118px,#ff4a00 124px,#ff1c00 126px,#ff0c00 128px,#ff0100 130px,#f00 417px)"></b><b style="background:linear-gradient(#00a1ff,#0ff 22px,#0f0 83px,#06ff00 84px,#ff0 117px,#ffe900 118px,#ff4d00 124px,#ff1f00 126px,#ff1000 128px,#ff0400 130px,#f00 417px)"></b><b style="background:linear-gradient(#00a1ff,#0ff 22px,#0f0 83px,#06ff00 84px,#ff0 117px,#ffea00 118px,#ff5000 124px,#ff2300 126px,#ff1300 128px,#ff0800 130px,#f00 136px)"></b><b style="background:linear-gradient(#00a1ff,#0ff 22px,#0f0 83px,#06ff00 84px,#ff0 117px,#ffea00 118px,#ff2600 126px,#ff1700 128px,#ff0b00 130px,#f00 136px)"></b><b style="background:linear-gradient(#00a1ff,#0ff 22px,#0f0 83px,#06ff00 84px,#ff0 117px,#ffeb00 118px,#ff2a00 126px,#ff1200 128px,#ff0c00 130px,#f00 136px)"></b><b style="background:linear-gradient(#00a1ff,#0ff 22px,#0f0 83px,#06ff00 84px,#ff0 117px,#ffec00 118px,#ff4200 126px,#ff1f00 128px,#ff1200 130px,#ff0100 136px,#f00 417px)"></b><b style="background:linear-gradient(#00a1ff,#0ff 22px,#0f0 83px,#06ff00 84px,#ff0 117px,#ffed00 118px,#ff4600 126px,#f20 128px,#ff1500 130px,#f00 138px)"></b><b style="background:linear-gradient(#00a1ff,#0ff 22px,#0f0 83px,#06ff00 84px,#ff0 117px,#ffed00 118px,#ff4900 126px,#ff2600 128px,#ff1900 130px,#f00 138px)"></b><b style="background:linear-gradient(#00a1ff,#0ff 22px,#0f0 83px,#06ff00 84px,#ff0 117px,#fe0 118px,#ff4c00 126px,#ff2a00 128px,#ff1c00 130px,#ff0100 138px,#f00 417px)"></b><b style="background:linear-gradient(#00a1ff,#0ff 22px,#0f0 83px,#06ff00 84px,#f4ff00 116px,#ff0 117px,#ffef00 118px,#ff5000 126px,#ff2e00 128px,#ff1f00 130px,#ff0200 138px,#f00 417px)"></b><b style="background:linear-gradient(#00a1ff,#0ff 22px,#0f0 83px,#06ff00 84px,#f4ff00 116px,#ff0 117px,#fff000 118px,#ff5300 126px,#ff3100 128px,#ff2300 130px,#f00 138px)"></b><b style="background:linear-gradient(#00a1ff,#0ff 22px,#0f0 83px,#06ff00 84px,#f3ff00 116px,#ff0 117px,#fff000 118px,#ff5700 126px,#ff3500 128px,#ff2600 130px,#f00 138px)"></b><b style="background:linear-gradient(#00a1ff,#0ff 22px,#0f0 83px,#06ff00 84px,#f3ff00 116px,#ff0 117px,#fff100 118px,#ff5a00 126px,#ff3900 128px,#ff2900 130px,#f00 138px)"></b><b style="background:linear-gradient(#00a1ff,#0ff 22px,#0f0 83px,#06ff00 84px,#f3ff00 116px,#ff0 117px,#ffdf00 120px,#ff5e00 126px,#ff3d00 128px,#ff2d00 130px,#ff0100 138px,#f00 417px)"></b><b style="background:linear-gradient(#00a1ff,#0ff 22px,#0f0 83px,#06ff00 84px,#f2ff00 116px,#ff0 117px,#ffe000 120px,#ff6100 126px,#ff4000 128px,#ff3000 130px,#ff0100 138px,#f00 417px)"></b><b style="background:linear-gradient(#00a1ff,#0ff 22px,#0f0 83px,#06ff00 84px,#f2ff00 116px,#ff0 117px,#ffe200 120px,#ff6500 126px,#f40 128px,#ff0200 138px,#f00 417px)"></b><b style="background:linear-gradient(#00a1ff,#0ff 22px,#0f0 83px,#06ff00 84px,#f2ff00 116px,#ff0 117px,#ffe300 120px,#ff6800 126px,#ff4800 128px,#ff0200 138px,#f00 417px)"></b><b style="background:linear-gradient(#00a1ff,#0ff 22px,#0f0 83px,#06ff00 84px,#f1ff00 116px,#ff0 118px,#ffe400 120px,#ff6c00 126px,#ff4c00 128px,#ff3400 130px,#f00 140px)"></b><b style="background:linear-gradient(#00a1ff,#0ff 22px,#0f0 83px,#06ff00 84px,#f1ff00 116px,#ff0 118px,#ffe500 120px,#ff6f00 126px,#ff4f00 128px,#ff3000 132px,#f00 140px)"></b><b style="background:linear-gradient(#00a1ff,#0ff 22px,#0f0 83px,#06ff00 84px,#f1ff00 116px,#ff0 118px,#ffe600 120px,#ff7200 126px,#ff5300 128px,#f00 140px)"></b><b style="background:linear-gradient(#00a1ff,#0ff 22px,#0f0 83px,#06ff00 84px,#f0ff00 116px,#ff0 118px,#ffe700 120px,#ff7600 126px,#ff5700 128px,#f00 140px)"></b><b style="background:linear-gradient(#00a1ff,#0ff 22px,#0f0 83px,#06ff00 84px,#f0ff00 116px,#ff0 118px,#ffe900 120px,#ff7900 126px,#ff5b00 128px,#f00 140px)"></b><b style="background:linear-gradient(#00a1ff,#0ff 22px,#0f0 83px,#06ff00 84px,#f0ff00 116px,#ff0 118px,#ffea00 120px,#ff5f00 128px,#f00 140px)"></b><b style="background:linear-gradient(#00a1ff,#0ff 22px,#0f0 83px,#06ff00 84px,#efff00 116px,#ff0 118px,#ffeb00 120px,#ff6200 128px,#f00 140px)"></b><b style="background:linear-gradient(#00a1ff,#0ff 22px,#0f0 83px,#06ff00 84px,#ff0 118px,#ffec00 120px,#f60 128px,#ff0100 140px,#f00 417px)"></b><b style="background:linear-gradient(#00a1ff,#0ff 22px,#0f0 83px,#06ff00 84px,#ff0 118px,#ffed00 120px,#ff6a00 128px,#ff0100 140px,#f00 417px)"></b><b style="background:linear-gradient(#00a1ff,#0ff 22px,#0f0 83px,#06ff00 84px,#ff0 118px,#fe0 120px,#ff6e00 128px,#ff0100 140px,#f00 417px)"></b><b style="background:linear-gradient(#00a1ff,#0ff 22px,#0f0 83px,#06ff00 84px,#ff0 118px,#fff000 120px,#ff7100 128px,#ff0200 140px,#f00 417px)"></b><b style="background:linear-gradient(#00a1ff,#0ff 22px,#0f0 83px,#06ff00 84px,#ff0 118px,#fff100 120px,#ff7500 128px,#ff1a00 136px,#ff0200 140px,#f00 417px)"></b><b style="background:linear-gradient(#00a1ff,#0ff 22px,#0f0 83px,#06ff00 84px,#f6ff00 118px,#ff0 118px,#fff200 120px,#ff6d00 128px,#f10 138px,#f00 140px)"></b><b style="background:linear-gradient(#00a1ff,#0ff 22px,#0f0 83px,#06ff00 84px,#f5ff00 118px,#ff0 118px,#fff300 120px,#ff7100 128px,#ff1200 138px,#f00 140px)"></b><b style="background:linear-gradient(#00a1ff,#0ff 22px,#0f0 83px,#06ff00 84px,#f5ff00 118px,#ff0 118px,#fff400 120px,#ff7400 128px,#ff1300 138px,#f00 140px)"></b><b style="background:linear-gradient(#00a1ff,#0ff 22px,#0f0 83px,#06ff00 84px,#f4ff00 118px,#ff0 118px,#ffe800 120px,#ff7800 128px,#ff1300 138px,#f00 140px)"></b><b style="background:linear-gradient(#00a1ff,#0ff 22px,#0f0 83px,#06ff00 84px,#ff0 119px,#ff7000 130px,#ff1400 138px,#f00 140px)"></b><b style="background:linear-gradient(#00a1ff,#0ff 22px,#0f0 83px,#06ff00 84px,#ff0 119px,#ff8c00 128px,#ff2000 136px,#ff0b00 138px,#f00 140px)"></b><b style="background:linear-gradient(#00a1ff,#0ff 22px,#0f0 83px,#06ff00 84px,#ff0 119px,#ff1600 138px,#f00 140px)"></b><b style="background:linear-gradient(#00a1ff,#0ff 22px,#0f0 83px,#06ff00 84px,#ff0 119px,#ff1600 138px,#f00 140px)"></b><b style="background:linear-gradient(#00a1ff,#0ff 22px,#0f0 83px,#06ff00 84px,#ff0 119px,#ff1800 138px,#ff0100 140px,#f00 417px)"></b><b style="background:linear-gradient(#00a1ff,#0ff 22px,#0f0 83px,#06ff00 84px,#ff0 119px,#ffe500 122px,#ff1a00 138px,#ff0300 140px,#f00 417px)"></b><b style="background:linear-gradient(#00a1ff,#0ff 22px,#0f0 83px,#06ff00 84px,#ff0 119px,#ffe500 122px,#ff1d00 138px,#ff0700 140px,#f00 148px)"></b><b style="background:linear-gradient(#00a1ff,#0ff 22px,#0f0 83px,#06ff00 84px,#ff0 119px,#ffe600 122px,#ff2000 138px,#ff0a00 140px,#f00 150px)"></b><b style="background:linear-gradient(#00a1ff,#0ff 22px,#0f0 83px,#06ff00 84px,#ff0 119px,#ff2300 138px,#ff0d00 140px,#f00 152px)"></b><b style="background:linear-gradient(#00a1ff,#0ff 22px,#0f0 83px,#06ff00 84px,#ff0 119px,#ff2600 138px,#ff1400 140px,#ff0e00 142px,#f00 152px)"></b><b style="background:linear-gradient(#00a1ff,#0ff 22px,#0f0 83px,#06ff00 84px,#ff0 119px,#ff2800 138px,#ff1700 140px,#f10 142px,#f00 154px)"></b><b style="background:linear-gradient(#00a1ff,#0ff 22px,#0f0 83px,#06ff00 84px,#ff0 119px,#ff2b00 138px,#ff1a00 140px,#ff1400 142px,#f00 154px)"></b><b style="background:linear-gradient(#00a1ff,#0ff 22px,#0f0 83px,#06ff00 84px,#ff0 119px,#ff2e00 138px,#ff1d00 140px,#ff1700 142px,#f00 154px)"></b><b style="background:linear-gradient(#00a1ff,#0ff 22px,#0f0 83px,#ff0 119px,#ff3100 138px,#ff2100 140px,#ff1a00 142px,#f00 156px)"></b><b style="background:linear-gradient(#00a1ff,#0ff 22px,#0f0 83px,#ff0 119px,#ff3400 138px,#ff2400 140px,#ff1a00 142px,#f00 156px)"></b><b style="background:linear-gradient(#00a1ff,#0ff 22px,#0f0 83px,#ff0 120px,#ff2e00 138px,#ff2000 142px,#ff0100 156px,#f00 417px)"></b><b style="background:linear-gradient(#00a1ff,#0ff 22px,#0f0 83px,#ff0 120px,#ff3100 138px,#f20 142px,#ff0100 156px,#f00 417px)"></b><b style="background:linear-gradient(#00a1ff,#0ff 22px,#0f0 83px,#ff0 120px,#ff3400 138px,#ff2500 142px,#f00 156px)"></b><b style="background:linear-gradient(#00a1ff,#0ff 22px,#0f0 83px,#ff0 120px,#ff3700 138px,#ff2800 142px,#ff0100 156px,#f00 417px)"></b><b style="background:linear-gradient(#00a1ff,#0ff 22px,#0f0 83px,#ff0 120px,#ff3a00 138px,#ff2b00 142px,#ff0100 156px,#f00 417px)"></b><b style="background:linear-gradient(#00a1ff,#0ff 22px,#0f0 83px,#ff0 120px,#ff3d00 138px,#ff2e00 142px,#f00 158px)"></b><b style="background:linear-gradient(#00a1ff,#0ff 22px,#0f0 83px,#ff0 120px,#ff4000 138px,#f00 158px)"></b><b style="background:linear-gradient(#00a1ff,#0ff 22px,#0f0 83px,#ff0 120px,#ff6700 134px,#ff4300 138px,#f00 158px)"></b><b style="background:linear-gradient(#00a1ff,#0ff 22px,#0f0 83px,#ff0 120px,#ff6900 134px,#ff4600 138px,#ff0100 158px,#f00 417px)"></b><b style="background:linear-gradient(#00a1ff,#0ff 22px,#0f0 83px,#ff0 120px,#ff6b00 134px,#ff4900 138px,#ff0200 158px,#f00 417px)"></b><b style="background:linear-gradient(#00a1ff,#0ff 22px,#0f0 83px,#ff0 120px,#ff6e00 134px,#ff4c00 138px,#f00 158px)"></b><b style="background:linear-gradient(#00a1ff,#0ff 24px,#0f0 83px,#ff0 120px,#ff7000 134px,#ff4f00 138px,#f00 158px)"></b><b style="background:linear-gradient(#00a1ff,#0ff 24px,#0f0 83px,#ff0 120px,#ff7200 134px,#ff5200 138px,#f00 158px)"></b><b style="background:linear-gradient(#00a1ff,#0ff 24px,#0f0 83px,#ff0 120px,#ff7400 134px,#ff5600 138px,#ff0100 158px,#f00 417px)"></b><b style="background:linear-gradient(#00a1ff,#0ff 24px,#0f0 83px,#ff0 120px,#ff5f00 138px,#ff0100 158px,#f00 417px)"></b><b style="background:linear-gradient(#00a1ff,#0ff 24px,#0f0 83px,#ff0 120px,#ff6200 138px,#ff0200 158px,#f00 417px)"></b><b style="background:linear-gradient(#00a1ff,#0ff 24px,#0f0 84px,#f7ff00 120px,#ff0 120px,#ff6c00 136px,#ff0200 158px,#f00 417px)"></b><b style="background:linear-gradient(#00a1ff,#0ff 24px,#0f0 84px,#f7ff00 120px,#ff0 120px,#ff6e00 136px,#f00 160px)"></b><b style="background:linear-gradient(#00a1ff,#0ff 24px,#0f0 84px,#f7ff00 120px,#ff0 120px,#ff7100 136px,#f00 160px)"></b><b style="background:linear-gradient(#00a1ff,#0ff 24px,#0f0 84px,#f6ff00 120px,#ff0 121px,#ff7400 136px,#f00 160px)"></b><b style="background:linear-gradient(#00a1ff,#0ff 24px,#0f0 84px,#f6ff00 120px,#ff0 121px,#ff7d00 136px,#ff0100 160px,#f00 417px)"></b><b style="width:2px;background:linear-gradient(#00a1ff,#0ff 24px,#0f0 84px,#ff0 121px,#ff7f00 136px,#ff0100 160px,#f00 417px)"></b></div>
<svg width="2424" height="3960" viewBox="0 0 2424 3960"><defs><linearGradient id="cb" x1="0" x2="1" y1="0" y2="0"><stop offset="0" stop-color="#0000ff"/><stop offset="0.2165" stop-color="#00ffff"/><stop offset="0.433" stop-color="#00ff00"/><stop offset="0.6495" stop-color="#ffff00"/><stop offset="0.866" stop-color="#ff0000"/><stop offset="1" stop-color="#ff0000"/></linearGradient></defs>
<polygon points="294.9,744.5 294.9,557.6 623.7,557.6 1089.1,327.9 1089.1,744.5" fill="#0000ff"/>
<polyline points="294.9,557.6 623.7,557.6 1089.1,327.9 2352.7,327.9" fill="none" stroke="#000" stroke-width="4.8" stroke-linejoin="miter"/>
<line x1="294.9" y1="743.3" x2="1089.1" y2="743.3" stroke="#000" stroke-width="2.6"/>
<line x1="1089.1" y1="327.9" x2="1089.1" y2="744.5" stroke="#000" stroke-width="4.8"/>
<line x1="2144.6" y1="327.9" x2="2144.6" y2="744.5" stroke="#000" stroke-width="4.8"/>
<line x1="1089.1" y1="453.3" x2="2144.6" y2="453.3" stroke="#000" stroke-width="4.8"/>
<text x="138.5" y="109.7" font-size="72" letter-spacing="1">(a)</text>
<rect x="1250" y="50" width="984" height="107" fill="url(#cb)"/>
<text x="524.2" y="242.3" font-size="72" letter-spacing="-0.2">CO Conversion, %:</text>
<text x="1250.0" y="242.3" font-size="72" text-anchor="middle">0.0</text>
<text x="1446.8" y="242.3" font-size="72" text-anchor="middle">0.2</text>
<text x="1643.6" y="242.3" font-size="72" text-anchor="middle">0.4</text>
<text x="1840.4" y="242.3" font-size="72" text-anchor="middle">0.6</text>
<text x="2037.2" y="242.3" font-size="72" text-anchor="middle">0.8</text>
<text x="2234.0" y="242.3" font-size="72" text-anchor="middle">1.0</text>
<line x1="259.6" y1="266.4" x2="259.6" y2="746.5" stroke="#000" stroke-width="3.7"/>
<line x1="257.8" y1="744.5" x2="279.2" y2="744.5" stroke="#000" stroke-width="4.2"/>
<text x="222.9" y="768.6" font-size="72" text-anchor="end">0</text>
<line x1="259.6" y1="728.6" x2="271.2" y2="728.6" stroke="#000" stroke-width="1.3"/>
<line x1="259.6" y1="712.8" x2="271.2" y2="712.8" stroke="#000" stroke-width="1.3"/>
<line x1="259.6" y1="696.9" x2="271.2" y2="696.9" stroke="#000" stroke-width="1.3"/>
<line x1="259.6" y1="681.0" x2="271.2" y2="681.0" stroke="#000" stroke-width="1.3"/>
<line x1="257.8" y1="665.1" x2="279.2" y2="665.1" stroke="#000" stroke-width="4.2"/>
<text x="222.9" y="689.2" font-size="72" text-anchor="end">10</text>
<line x1="259.6" y1="649.3" x2="271.2" y2="649.3" stroke="#000" stroke-width="1.3"/>
<line x1="259.6" y1="633.4" x2="271.2" y2="633.4" stroke="#000" stroke-width="1.3"/>
<line x1="259.6" y1="617.5" x2="271.2" y2="617.5" stroke="#000" stroke-width="1.3"/>
<line x1="259.6" y1="601.7" x2="271.2" y2="601.7" stroke="#000" stroke-width="1.3"/>
<line x1="257.8" y1="585.8" x2="279.2" y2="585.8" stroke="#000" stroke-width="4.2"/>
<text x="222.9" y="609.9" font-size="72" text-anchor="end">20</text>
<line x1="259.6" y1="569.9" x2="271.2" y2="569.9" stroke="#000" stroke-width="1.3"/>
<line x1="259.6" y1="554.1" x2="271.2" y2="554.1" stroke="#000" stroke-width="1.3"/>
<line x1="259.6" y1="538.2" x2="271.2" y2="538.2" stroke="#000" stroke-width="1.3"/>
<line x1="259.6" y1="522.3" x2="271.2" y2="522.3" stroke="#000" stroke-width="1.3"/>
<line x1="257.8" y1="506.5" x2="279.2" y2="506.5" stroke="#000" stroke-width="4.2"/>
<text x="222.9" y="530.6" font-size="72" text-anchor="end">30</text>
<line x1="259.6" y1="490.6" x2="271.2" y2="490.6" stroke="#000" stroke-width="1.3"/>
<line x1="259.6" y1="474.7" x2="271.2" y2="474.7" stroke="#000" stroke-width="1.3"/>
<line x1="259.6" y1="458.8" x2="271.2" y2="458.8" stroke="#000" stroke-width="1.3"/>
<line x1="259.6" y1="443.0" x2="271.2" y2="443.0" stroke="#000" stroke-width="1.3"/>
<line x1="257.8" y1="427.1" x2="279.2" y2="427.1" stroke="#000" stroke-width="4.2"/>
<text x="222.9" y="451.2" font-size="72" text-anchor="end">40</text>
<line x1="259.6" y1="411.2" x2="271.2" y2="411.2" stroke="#000" stroke-width="1.3"/>
<line x1="259.6" y1="395.4" x2="271.2" y2="395.4" stroke="#000" stroke-width="1.3"/>
<line x1="259.6" y1="379.5" x2="271.2" y2="379.5" stroke="#000" stroke-width="1.3"/>
<line x1="259.6" y1="363.6" x2="271.2" y2="363.6" stroke="#000" stroke-width="1.3"/>
<line x1="257.8" y1="347.8" x2="279.2" y2="347.8" stroke="#000" stroke-width="4.2"/>
<text x="222.9" y="371.9" font-size="72" text-anchor="end">50</text>
<line x1="259.6" y1="331.9" x2="271.2" y2="331.9" stroke="#000" stroke-width="1.3"/>
<line x1="259.6" y1="316.0" x2="271.2" y2="316.0" stroke="#000" stroke-width="1.3"/>
<line x1="259.6" y1="300.1" x2="271.2" y2="300.1" stroke="#000" stroke-width="1.3"/>
<line x1="259.6" y1="284.3" x2="271.2" y2="284.3" stroke="#000" stroke-width="1.3"/>
<line x1="257.8" y1="268.4" x2="279.2" y2="268.4" stroke="#000" stroke-width="4.2"/>
<text x="222.9" y="292.5" font-size="72" text-anchor="end">60</text>
<text transform="translate(94,507.3) rotate(-90)" font-size="72" text-anchor="middle">y/D<tspan font-size="44" dy="21.5">H</tspan></text>
<line x1="292.9" y1="778.7" x2="2361.8" y2="778.7" stroke="#000" stroke-width="3.7"/>
<line x1="294.9" y1="780.5" x2="294.9" y2="759.7" stroke="#000" stroke-width="4"/>
<text x="294.9" y="856.9" font-size="72" text-anchor="middle">-100</text>
<line x1="334.6" y1="778.7" x2="334.6" y2="767.3" stroke="#000" stroke-width="1.3"/>
<line x1="374.3" y1="778.7" x2="374.3" y2="767.3" stroke="#000" stroke-width="1.3"/>
<line x1="414.0" y1="778.7" x2="414.0" y2="767.3" stroke="#000" stroke-width="1.3"/>
<line x1="453.7" y1="778.7" x2="453.7" y2="767.3" stroke="#000" stroke-width="1.3"/>
<line x1="493.4" y1="780.5" x2="493.4" y2="759.7" stroke="#000" stroke-width="4"/>
<text x="493.4" y="856.9" font-size="72" text-anchor="middle">-75</text>
<line x1="533.2" y1="778.7" x2="533.2" y2="767.3" stroke="#000" stroke-width="1.3"/>
<line x1="572.9" y1="778.7" x2="572.9" y2="767.3" stroke="#000" stroke-width="1.3"/>
<line x1="612.6" y1="778.7" x2="612.6" y2="767.3" stroke="#000" stroke-width="1.3"/>
<line x1="652.3" y1="778.7" x2="652.3" y2="767.3" stroke="#000" stroke-width="1.3"/>
<line x1="692.0" y1="780.5" x2="692.0" y2="759.7" stroke="#000" stroke-width="4"/>
<text x="692.0" y="856.9" font-size="72" text-anchor="middle">-50</text>
<line x1="731.7" y1="778.7" x2="731.7" y2="767.3" stroke="#000" stroke-width="1.3"/>
<line x1="771.4" y1="778.7" x2="771.4" y2="767.3" stroke="#000" stroke-width="1.3"/>
<line x1="811.1" y1="778.7" x2="811.1" y2="767.3" stroke="#000" stroke-width="1.3"/>
<line x1="850.8" y1="778.7" x2="850.8" y2="767.3" stroke="#000" stroke-width="1.3"/>
<line x1="890.5" y1="780.5" x2="890.5" y2="759.7" stroke="#000" stroke-width="4"/>
<text x="890.5" y="856.9" font-size="72" text-anchor="middle">-25</text>
<line x1="930.3" y1="778.7" x2="930.3" y2="767.3" stroke="#000" stroke-width="1.3"/>
<line x1="970.0" y1="778.7" x2="970.0" y2="767.3" stroke="#000" stroke-width="1.3"/>
<line x1="1009.7" y1="778.7" x2="1009.7" y2="767.3" stroke="#000" stroke-width="1.3"/>
<line x1="1049.4" y1="778.7" x2="1049.4" y2="767.3" stroke="#000" stroke-width="1.3"/>
<line x1="1089.1" y1="780.5" x2="1089.1" y2="759.7" stroke="#000" stroke-width="4"/>
<text x="1089.1" y="856.9" font-size="72" text-anchor="middle">0</text>
<line x1="1128.8" y1="778.7" x2="1128.8" y2="767.3" stroke="#000" stroke-width="1.3"/>
<line x1="1168.5" y1="778.7" x2="1168.5" y2="767.3" stroke="#000" stroke-width="1.3"/>
<line x1="1208.2" y1="778.7" x2="1208.2" y2="767.3" stroke="#000" stroke-width="1.3"/>
<line x1="1247.9" y1="778.7" x2="1247.9" y2="767.3" stroke="#000" stroke-width="1.3"/>
<line x1="1287.6" y1="780.5" x2="1287.6" y2="759.7" stroke="#000" stroke-width="4"/>
<text x="1287.6" y="856.9" font-size="72" text-anchor="middle">25</text>
<line x1="1327.4" y1="778.7" x2="1327.4" y2="767.3" stroke="#000" stroke-width="1.3"/>
<line x1="1367.1" y1="778.7" x2="1367.1" y2="767.3" stroke="#000" stroke-width="1.3"/>
<line x1="1406.8" y1="778.7" x2="1406.8" y2="767.3" stroke="#000" stroke-width="1.3"/>
<line x1="1446.5" y1="778.7" x2="1446.5" y2="767.3" stroke="#000" stroke-width="1.3"/>
<line x1="1486.2" y1="780.5" x2="1486.2" y2="759.7" stroke="#000" stroke-width="4"/>
<text x="1486.2" y="856.9" font-size="72" text-anchor="middle">50</text>
<line x1="1525.9" y1="778.7" x2="1525.9" y2="767.3" stroke="#000" stroke-width="1.3"/>
<line x1="1565.6" y1="778.7" x2="1565.6" y2="767.3" stroke="#000" stroke-width="1.3"/>
<line x1="1605.3" y1="778.7" x2="1605.3" y2="767.3" stroke="#000" stroke-width="1.3"/>
<line x1="1645.0" y1="778.7" x2="1645.0" y2="767.3" stroke="#000" stroke-width="1.3"/>
<line x1="1684.8" y1="780.5" x2="1684.8" y2="759.7" stroke="#000" stroke-width="4"/>
<text x="1684.8" y="856.9" font-size="72" text-anchor="middle">75</text>
<line x1="1724.5" y1="778.7" x2="1724.5" y2="767.3" stroke="#000" stroke-width="1.3"/>
<line x1="1764.2" y1="778.7" x2="1764.2" y2="767.3" stroke="#000" stroke-width="1.3"/>
<line x1="1803.9" y1="778.7" x2="1803.9" y2="767.3" stroke="#000" stroke-width="1.3"/>
<line x1="1843.6" y1="778.7" x2="1843.6" y2="767.3" stroke="#000" stroke-width="1.3"/>
<line x1="1883.3" y1="780.5" x2="1883.3" y2="759.7" stroke="#000" stroke-width="4"/>
<text x="1883.3" y="856.9" font-size="72" text-anchor="middle">100</text>
<line x1="1923.0" y1="778.7" x2="1923.0" y2="767.3" stroke="#000" stroke-width="1.3"/>
<line x1="1962.7" y1="778.7" x2="1962.7" y2="767.3" stroke="#000" stroke-width="1.3"/>
<line x1="2002.4" y1="778.7" x2="2002.4" y2="767.3" stroke="#000" stroke-width="1.3"/>
<line x1="2042.1" y1="778.7" x2="2042.1" y2="767.3" stroke="#000" stroke-width="1.3"/>
<line x1="2081.8" y1="780.5" x2="2081.8" y2="759.7" stroke="#000" stroke-width="4"/>
<text x="2081.8" y="856.9" font-size="72" text-anchor="middle">125</text>
<line x1="2121.6" y1="778.7" x2="2121.6" y2="767.3" stroke="#000" stroke-width="1.3"/>
<line x1="2161.3" y1="778.7" x2="2161.3" y2="767.3" stroke="#000" stroke-width="1.3"/>
<line x1="2201.0" y1="778.7" x2="2201.0" y2="767.3" stroke="#000" stroke-width="1.3"/>
<line x1="2240.7" y1="778.7" x2="2240.7" y2="767.3" stroke="#000" stroke-width="1.3"/>
<line x1="2280.4" y1="780.5" x2="2280.4" y2="759.7" stroke="#000" stroke-width="4"/>
<text x="2280.4" y="856.9" font-size="72" text-anchor="middle">150</text>
<line x1="2320.1" y1="778.7" x2="2320.1" y2="767.3" stroke="#000" stroke-width="1.3"/>
<line x1="2359.8" y1="778.7" x2="2359.8" y2="767.3" stroke="#000" stroke-width="1.3"/>
<text x="1258.3" y="945.4" font-size="72">x/D<tspan font-size="44" dy="21.5">H</tspan></text>
<polygon points="294.9,1729.5 294.9,1542.6 623.7,1542.6 1089.1,1312.9 1089.1,1729.5" fill="#0000ff"/>
<polyline points="294.9,1542.6 623.7,1542.6 1089.1,1312.9 2352.7,1312.9" fill="none" stroke="#000" stroke-width="4.8" stroke-linejoin="miter"/>
<line x1="294.9" y1="1728.3" x2="1089.1" y2="1728.3" stroke="#000" stroke-width="2.6"/>
<line x1="1089.1" y1="1312.9" x2="1089.1" y2="1729.5" stroke="#000" stroke-width="4.8"/>
<line x1="2144.6" y1="1312.9" x2="2144.6" y2="1729.5" stroke="#000" stroke-width="4.8"/>
<line x1="1089.1" y1="1438.3" x2="2144.6" y2="1438.3" stroke="#000" stroke-width="4.8"/>
<text x="138.5" y="1094.7" font-size="72" letter-spacing="1">(b)</text>
<rect x="1250" y="1035.0" width="984" height="107" fill="url(#cb)"/>
<text x="524.2" y="1227.3" font-size="72" letter-spacing="-0.2">CO Conversion, %:</text>
<text x="1250.0" y="1227.3" font-size="72" text-anchor="middle">0.0</text>
<text x="1446.8" y="1227.3" font-size="72" text-anchor="middle">0.2</text>
<text x="1643.6" y="1227.3" font-size="72" text-anchor="middle">0.4</text>
<text x="1840.4" y="1227.3" font-size="72" text-anchor="middle">0.6</text>
<text x="2037.2" y="1227.3" font-size="72" text-anchor="middle">0.8</text>
<text x="2234.0" y="1227.3" font-size="72" text-anchor="middle">1.0</text>
<line x1="259.6" y1="1251.4" x2="259.6" y2="1731.5" stroke="#000" stroke-width="3.7"/>
<line x1="257.8" y1="1729.5" x2="279.2" y2="1729.5" stroke="#000" stroke-width="4.2"/>
<text x="222.9" y="1753.6" font-size="72" text-anchor="end">0</text>
<line x1="259.6" y1="1713.6" x2="271.2" y2="1713.6" stroke="#000" stroke-width="1.3"/>
<line x1="259.6" y1="1697.8" x2="271.2" y2="1697.8" stroke="#000" stroke-width="1.3"/>
<line x1="259.6" y1="1681.9" x2="271.2" y2="1681.9" stroke="#000" stroke-width="1.3"/>
<line x1="259.6" y1="1666.0" x2="271.2" y2="1666.0" stroke="#000" stroke-width="1.3"/>
<line x1="257.8" y1="1650.2" x2="279.2" y2="1650.2" stroke="#000" stroke-width="4.2"/>
<text x="222.9" y="1674.2" font-size="72" text-anchor="end">10</text>
<line x1="259.6" y1="1634.3" x2="271.2" y2="1634.3" stroke="#000" stroke-width="1.3"/>
<line x1="259.6" y1="1618.4" x2="271.2" y2="1618.4" stroke="#000" stroke-width="1.3"/>
<line x1="259.6" y1="1602.5" x2="271.2" y2="1602.5" stroke="#000" stroke-width="1.3"/>
<line x1="259.6" y1="1586.7" x2="271.2" y2="1586.7" stroke="#000" stroke-width="1.3"/>
<line x1="257.8" y1="1570.8" x2="279.2" y2="1570.8" stroke="#000" stroke-width="4.2"/>
<text x="222.9" y="1594.9" font-size="72" text-anchor="end">20</text>
<line x1="259.6" y1="1554.9" x2="271.2" y2="1554.9" stroke="#000" stroke-width="1.3"/>
<line x1="259.6" y1="1539.1" x2="271.2" y2="1539.1" stroke="#000" stroke-width="1.3"/>
<line x1="259.6" y1="1523.2" x2="271.2" y2="1523.2" stroke="#000" stroke-width="1.3"/>
<line x1="259.6" y1="1507.3" x2="271.2" y2="1507.3" stroke="#000" stroke-width="1.3"/>
<line x1="257.8" y1="1491.5" x2="279.2" y2="1491.5" stroke="#000" stroke-width="4.2"/>
<text x="222.9" y="1515.5" font-size="72" text-anchor="end">30</text>
<line x1="259.6" y1="1475.6" x2="271.2" y2="1475.6" stroke="#000" stroke-width="1.3"/>
<line x1="259.6" y1="1459.7" x2="271.2" y2="1459.7" stroke="#000" stroke-width="1.3"/>
<line x1="259.6" y1="1443.8" x2="271.2" y2="1443.8" stroke="#000" stroke-width="1.3"/>
<line x1="259.6" y1="1428.0" x2="271.2" y2="1428.0" stroke="#000" stroke-width="1.3"/>
<line x1="257.8" y1="1412.1" x2="279.2" y2="1412.1" stroke="#000" stroke-width="4.2"/>
<text x="222.9" y="1436.2" font-size="72" text-anchor="end">40</text>
<line x1="259.6" y1="1396.2" x2="271.2" y2="1396.2" stroke="#000" stroke-width="1.3"/>
<line x1="259.6" y1="1380.4" x2="271.2" y2="1380.4" stroke="#000" stroke-width="1.3"/>
<line x1="259.6" y1="1364.5" x2="271.2" y2="1364.5" stroke="#000" stroke-width="1.3"/>
<line x1="259.6" y1="1348.6" x2="271.2" y2="1348.6" stroke="#000" stroke-width="1.3"/>
<line x1="257.8" y1="1332.8" x2="279.2" y2="1332.8" stroke="#000" stroke-width="4.2"/>
<text x="222.9" y="1356.8" font-size="72" text-anchor="end">50</text>
<line x1="259.6" y1="1316.9" x2="271.2" y2="1316.9" stroke="#000" stroke-width="1.3"/>
<line x1="259.6" y1="1301.0" x2="271.2" y2="1301.0" stroke="#000" stroke-width="1.3"/>
<line x1="259.6" y1="1285.1" x2="271.2" y2="1285.1" stroke="#000" stroke-width="1.3"/>
<line x1="259.6" y1="1269.3" x2="271.2" y2="1269.3" stroke="#000" stroke-width="1.3"/>
<line x1="257.8" y1="1253.4" x2="279.2" y2="1253.4" stroke="#000" stroke-width="4.2"/>
<text x="222.9" y="1277.5" font-size="72" text-anchor="end">60</text>
<text transform="translate(94,1492.3) rotate(-90)" font-size="72" text-anchor="middle">y/D<tspan font-size="44" dy="21.5">H</tspan></text>
<line x1="292.9" y1="1763.7" x2="2361.8" y2="1763.7" stroke="#000" stroke-width="3.7"/>
<line x1="294.9" y1="1765.5" x2="294.9" y2="1744.7" stroke="#000" stroke-width="4"/>
<text x="294.9" y="1841.9" font-size="72" text-anchor="middle">-100</text>
<line x1="334.6" y1="1763.7" x2="334.6" y2="1752.3" stroke="#000" stroke-width="1.3"/>
<line x1="374.3" y1="1763.7" x2="374.3" y2="1752.3" stroke="#000" stroke-width="1.3"/>
<line x1="414.0" y1="1763.7" x2="414.0" y2="1752.3" stroke="#000" stroke-width="1.3"/>
<line x1="453.7" y1="1763.7" x2="453.7" y2="1752.3" stroke="#000" stroke-width="1.3"/>
<line x1="493.4" y1="1765.5" x2="493.4" y2="1744.7" stroke="#000" stroke-width="4"/>
<text x="493.4" y="1841.9" font-size="72" text-anchor="middle">-75</text>
<line x1="533.2" y1="1763.7" x2="533.2" y2="1752.3" stroke="#000" stroke-width="1.3"/>
<line x1="572.9" y1="1763.7" x2="572.9" y2="1752.3" stroke="#000" stroke-width="1.3"/>
<line x1="612.6" y1="1763.7" x2="612.6" y2="1752.3" stroke="#000" stroke-width="1.3"/>
<line x1="652.3" y1="1763.7" x2="652.3" y2="1752.3" stroke="#000" stroke-width="1.3"/>
<line x1="692.0" y1="1765.5" x2="692.0" y2="1744.7" stroke="#000" stroke-width="4"/>
<text x="692.0" y="1841.9" font-size="72" text-anchor="middle">-50</text>
<line x1="731.7" y1="1763.7" x2="731.7" y2="1752.3" stroke="#000" stroke-width="1.3"/>
<line x1="771.4" y1="1763.7" x2="771.4" y2="1752.3" stroke="#000" stroke-width="1.3"/>
<line x1="811.1" y1="1763.7" x2="811.1" y2="1752.3" stroke="#000" stroke-width="1.3"/>
<line x1="850.8" y1="1763.7" x2="850.8" y2="1752.3" stroke="#000" stroke-width="1.3"/>
<line x1="890.5" y1="1765.5" x2="890.5" y2="1744.7" stroke="#000" stroke-width="4"/>
<text x="890.5" y="1841.9" font-size="72" text-anchor="middle">-25</text>
<line x1="930.3" y1="1763.7" x2="930.3" y2="1752.3" stroke="#000" stroke-width="1.3"/>
<line x1="970.0" y1="1763.7" x2="970.0" y2="1752.3" stroke="#000" stroke-width="1.3"/>
<line x1="1009.7" y1="1763.7" x2="1009.7" y2="1752.3" stroke="#000" stroke-width="1.3"/>
<line x1="1049.4" y1="1763.7" x2="1049.4" y2="1752.3" stroke="#000" stroke-width="1.3"/>
<line x1="1089.1" y1="1765.5" x2="1089.1" y2="1744.7" stroke="#000" stroke-width="4"/>
<text x="1089.1" y="1841.9" font-size="72" text-anchor="middle">0</text>
<line x1="1128.8" y1="1763.7" x2="1128.8" y2="1752.3" stroke="#000" stroke-width="1.3"/>
<line x1="1168.5" y1="1763.7" x2="1168.5" y2="1752.3" stroke="#000" stroke-width="1.3"/>
<line x1="1208.2" y1="1763.7" x2="1208.2" y2="1752.3" stroke="#000" stroke-width="1.3"/>
<line x1="1247.9" y1="1763.7" x2="1247.9" y2="1752.3" stroke="#000" stroke-width="1.3"/>
<line x1="1287.6" y1="1765.5" x2="1287.6" y2="1744.7" stroke="#000" stroke-width="4"/>
<text x="1287.6" y="1841.9" font-size="72" text-anchor="middle">25</text>
<line x1="1327.4" y1="1763.7" x2="1327.4" y2="1752.3" stroke="#000" stroke-width="1.3"/>
<line x1="1367.1" y1="1763.7" x2="1367.1" y2="1752.3" stroke="#000" stroke-width="1.3"/>
<line x1="1406.8" y1="1763.7" x2="1406.8" y2="1752.3" stroke="#000" stroke-width="1.3"/>
<line x1="1446.5" y1="1763.7" x2="1446.5" y2="1752.3" stroke="#000" stroke-width="1.3"/>
<line x1="1486.2" y1="1765.5" x2="1486.2" y2="1744.7" stroke="#000" stroke-width="4"/>
<text x="1486.2" y="1841.9" font-size="72" text-anchor="middle">50</text>
<line x1="1525.9" y1="1763.7" x2="1525.9" y2="1752.3" stroke="#000" stroke-width="1.3"/>
<line x1="1565.6" y1="1763.7" x2="1565.6" y2="1752.3" stroke="#000" stroke-width="1.3"/>
<line x1="1605.3" y1="1763.7" x2="1605.3" y2="1752.3" stroke="#000" stroke-width="1.3"/>
<line x1="1645.0" y1="1763.7" x2="1645.0" y2="1752.3" stroke="#000" stroke-width="1.3"/>
<line x1="1684.8" y1="1765.5" x2="1684.8" y2="1744.7" stroke="#000" stroke-width="4"/>
<text x="1684.8" y="1841.9" font-size="72" text-anchor="middle">75</text>
<line x1="1724.5" y1="1763.7" x2="1724.5" y2="1752.3" stroke="#000" stroke-width="1.3"/>
<line x1="1764.2" y1="1763.7" x2="1764.2" y2="1752.3" stroke="#000" stroke-width="1.3"/>
<line x1="1803.9" y1="1763.7" x2="1803.9" y2="1752.3" stroke="#000" stroke-width="1.3"/>
<line x1="1843.6" y1="1763.7" x2="1843.6" y2="1752.3" stroke="#000" stroke-width="1.3"/>
<line x1="1883.3" y1="1765.5" x2="1883.3" y2="1744.7" stroke="#000" stroke-width="4"/>
<text x="1883.3" y="1841.9" font-size="72" text-anchor="middle">100</text>
<line x1="1923.0" y1="1763.7" x2="1923.0" y2="1752.3" stroke="#000" stroke-width="1.3"/>
<line x1="1962.7" y1="1763.7" x2="1962.7" y2="1752.3" stroke="#000" stroke-width="1.3"/>
<line x1="2002.4" y1="1763.7" x2="2002.4" y2="1752.3" stroke="#000" stroke-width="1.3"/>
<line x1="2042.1" y1="1763.7" x2="2042.1" y2="1752.3" stroke="#000" stroke-width="1.3"/>
<line x1="2081.8" y1="1765.5" x2="2081.8" y2="1744.7" stroke="#000" stroke-width="4"/>
<text x="2081.8" y="1841.9" font-size="72" text-anchor="middle">125</text>
<line x1="2121.6" y1="1763.7" x2="2121.6" y2="1752.3" stroke="#000" stroke-width="1.3"/>
<line x1="2161.3" y1="1763.7" x2="2161.3" y2="1752.3" stroke="#000" stroke-width="1.3"/>
<line x1="2201.0" y1="1763.7" x2="2201.0" y2="1752.3" stroke="#000" stroke-width="1.3"/>
<line x1="2240.7" y1="1763.7" x2="2240.7" y2="1752.3" stroke="#000" stroke-width="1.3"/>
<line x1="2280.4" y1="1765.5" x2="2280.4" y2="1744.7" stroke="#000" stroke-width="4"/>
<text x="2280.4" y="1841.9" font-size="72" text-anchor="middle">150</text>
<line x1="2320.1" y1="1763.7" x2="2320.1" y2="1752.3" stroke="#000" stroke-width="1.3"/>
<line x1="2359.8" y1="1763.7" x2="2359.8" y2="1752.3" stroke="#000" stroke-width="1.3"/>
<text x="1258.3" y="1930.4" font-size="72">x/D<tspan font-size="44" dy="21.5">H</tspan></text>
<polygon points="294.9,2714.5 294.9,2527.6 623.7,2527.6 1089.1,2297.9 1089.1,2714.5" fill="#0000ff"/>
<polyline points="294.9,2527.6 623.7,2527.6 1089.1,2297.9 2352.7,2297.9" fill="none" stroke="#000" stroke-width="4.8" stroke-linejoin="miter"/>
<line x1="294.9" y1="2713.3" x2="1089.1" y2="2713.3" stroke="#000" stroke-width="2.6"/>
<line x1="1089.1" y1="2297.9" x2="1089.1" y2="2714.5" stroke="#000" stroke-width="4.8"/>
<line x1="2144.6" y1="2297.9" x2="2144.6" y2="2714.5" stroke="#000" stroke-width="4.8"/>
<line x1="1089.1" y1="2423.3" x2="2144.6" y2="2423.3" stroke="#000" stroke-width="4.8"/>
<text x="138.5" y="2079.7" font-size="72" letter-spacing="1">(c)</text>
<rect x="1250" y="2020.0" width="984" height="107" fill="url(#cb)"/>
<text x="524.2" y="2212.3" font-size="72" letter-spacing="-0.2">CO Conversion, %:</text>
<text x="1250.0" y="2212.3" font-size="72" text-anchor="middle">0.0</text>
<text x="1446.8" y="2212.3" font-size="72" text-anchor="middle">0.2</text>
<text x="1643.6" y="2212.3" font-size="72" text-anchor="middle">0.4</text>
<text x="1840.4" y="2212.3" font-size="72" text-anchor="middle">0.6</text>
<text x="2037.2" y="2212.3" font-size="72" text-anchor="middle">0.8</text>
<text x="2234.0" y="2212.3" font-size="72" text-anchor="middle">1.0</text>
<line x1="259.6" y1="2236.4" x2="259.6" y2="2716.5" stroke="#000" stroke-width="3.7"/>
<line x1="257.8" y1="2714.5" x2="279.2" y2="2714.5" stroke="#000" stroke-width="4.2"/>
<text x="222.9" y="2738.6" font-size="72" text-anchor="end">0</text>
<line x1="259.6" y1="2698.6" x2="271.2" y2="2698.6" stroke="#000" stroke-width="1.3"/>
<line x1="259.6" y1="2682.8" x2="271.2" y2="2682.8" stroke="#000" stroke-width="1.3"/>
<line x1="259.6" y1="2666.9" x2="271.2" y2="2666.9" stroke="#000" stroke-width="1.3"/>
<line x1="259.6" y1="2651.0" x2="271.2" y2="2651.0" stroke="#000" stroke-width="1.3"/>
<line x1="257.8" y1="2635.2" x2="279.2" y2="2635.2" stroke="#000" stroke-width="4.2"/>
<text x="222.9" y="2659.2" font-size="72" text-anchor="end">10</text>
<line x1="259.6" y1="2619.3" x2="271.2" y2="2619.3" stroke="#000" stroke-width="1.3"/>
<line x1="259.6" y1="2603.4" x2="271.2" y2="2603.4" stroke="#000" stroke-width="1.3"/>
<line x1="259.6" y1="2587.5" x2="271.2" y2="2587.5" stroke="#000" stroke-width="1.3"/>
<line x1="259.6" y1="2571.7" x2="271.2" y2="2571.7" stroke="#000" stroke-width="1.3"/>
<line x1="257.8" y1="2555.8" x2="279.2" y2="2555.8" stroke="#000" stroke-width="4.2"/>
<text x="222.9" y="2579.9" font-size="72" text-anchor="end">20</text>
<line x1="259.6" y1="2539.9" x2="271.2" y2="2539.9" stroke="#000" stroke-width="1.3"/>
<line x1="259.6" y1="2524.1" x2="271.2" y2="2524.1" stroke="#000" stroke-width="1.3"/>
<line x1="259.6" y1="2508.2" x2="271.2" y2="2508.2" stroke="#000" stroke-width="1.3"/>
<line x1="259.6" y1="2492.3" x2="271.2" y2="2492.3" stroke="#000" stroke-width="1.3"/>
<line x1="257.8" y1="2476.4" x2="279.2" y2="2476.4" stroke="#000" stroke-width="4.2"/>
<text x="222.9" y="2500.5" font-size="72" text-anchor="end">30</text>
<line x1="259.6" y1="2460.6" x2="271.2" y2="2460.6" stroke="#000" stroke-width="1.3"/>
<line x1="259.6" y1="2444.7" x2="271.2" y2="2444.7" stroke="#000" stroke-width="1.3"/>
<line x1="259.6" y1="2428.8" x2="271.2" y2="2428.8" stroke="#000" stroke-width="1.3"/>
<line x1="259.6" y1="2413.0" x2="271.2" y2="2413.0" stroke="#000" stroke-width="1.3"/>
<line x1="257.8" y1="2397.1" x2="279.2" y2="2397.1" stroke="#000" stroke-width="4.2"/>
<text x="222.9" y="2421.2" font-size="72" text-anchor="end">40</text>
<line x1="259.6" y1="2381.2" x2="271.2" y2="2381.2" stroke="#000" stroke-width="1.3"/>
<line x1="259.6" y1="2365.4" x2="271.2" y2="2365.4" stroke="#000" stroke-width="1.3"/>
<line x1="259.6" y1="2349.5" x2="271.2" y2="2349.5" stroke="#000" stroke-width="1.3"/>
<line x1="259.6" y1="2333.6" x2="271.2" y2="2333.6" stroke="#000" stroke-width="1.3"/>
<line x1="257.8" y1="2317.8" x2="279.2" y2="2317.8" stroke="#000" stroke-width="4.2"/>
<text x="222.9" y="2341.8" font-size="72" text-anchor="end">50</text>
<line x1="259.6" y1="2301.9" x2="271.2" y2="2301.9" stroke="#000" stroke-width="1.3"/>
<line x1="259.6" y1="2286.0" x2="271.2" y2="2286.0" stroke="#000" stroke-width="1.3"/>
<line x1="259.6" y1="2270.1" x2="271.2" y2="2270.1" stroke="#000" stroke-width="1.3"/>
<line x1="259.6" y1="2254.3" x2="271.2" y2="2254.3" stroke="#000" stroke-width="1.3"/>
<line x1="257.8" y1="2238.4" x2="279.2" y2="2238.4" stroke="#000" stroke-width="4.2"/>
<text x="222.9" y="2262.5" font-size="72" text-anchor="end">60</text>
<text transform="translate(94,2477.3) rotate(-90)" font-size="72" text-anchor="middle">y/D<tspan font-size="44" dy="21.5">H</tspan></text>
<line x1="292.9" y1="2748.7" x2="2361.8" y2="2748.7" stroke="#000" stroke-width="3.7"/>
<line x1="294.9" y1="2750.5" x2="294.9" y2="2729.7" stroke="#000" stroke-width="4"/>
<text x="294.9" y="2826.9" font-size="72" text-anchor="middle">-100</text>
<line x1="334.6" y1="2748.7" x2="334.6" y2="2737.3" stroke="#000" stroke-width="1.3"/>
<line x1="374.3" y1="2748.7" x2="374.3" y2="2737.3" stroke="#000" stroke-width="1.3"/>
<line x1="414.0" y1="2748.7" x2="414.0" y2="2737.3" stroke="#000" stroke-width="1.3"/>
<line x1="453.7" y1="2748.7" x2="453.7" y2="2737.3" stroke="#000" stroke-width="1.3"/>
<line x1="493.4" y1="2750.5" x2="493.4" y2="2729.7" stroke="#000" stroke-width="4"/>
<text x="493.4" y="2826.9" font-size="72" text-anchor="middle">-75</text>
<line x1="533.2" y1="2748.7" x2="533.2" y2="2737.3" stroke="#000" stroke-width="1.3"/>
<line x1="572.9" y1="2748.7" x2="572.9" y2="2737.3" stroke="#000" stroke-width="1.3"/>
<line x1="612.6" y1="2748.7" x2="612.6" y2="2737.3" stroke="#000" stroke-width="1.3"/>
<line x1="652.3" y1="2748.7" x2="652.3" y2="2737.3" stroke="#000" stroke-width="1.3"/>
<line x1="692.0" y1="2750.5" x2="692.0" y2="2729.7" stroke="#000" stroke-width="4"/>
<text x="692.0" y="2826.9" font-size="72" text-anchor="middle">-50</text>
<line x1="731.7" y1="2748.7" x2="731.7" y2="2737.3" stroke="#000" stroke-width="1.3"/>
<line x1="771.4" y1="2748.7" x2="771.4" y2="2737.3" stroke="#000" stroke-width="1.3"/>
<line x1="811.1" y1="2748.7" x2="811.1" y2="2737.3" stroke="#000" stroke-width="1.3"/>
<line x1="850.8" y1="2748.7" x2="850.8" y2="2737.3" stroke="#000" stroke-width="1.3"/>
<line x1="890.5" y1="2750.5" x2="890.5" y2="2729.7" stroke="#000" stroke-width="4"/>
<text x="890.5" y="2826.9" font-size="72" text-anchor="middle">-25</text>
<line x1="930.3" y1="2748.7" x2="930.3" y2="2737.3" stroke="#000" stroke-width="1.3"/>
<line x1="970.0" y1="2748.7" x2="970.0" y2="2737.3" stroke="#000" stroke-width="1.3"/>
<line x1="1009.7" y1="2748.7" x2="1009.7" y2="2737.3" stroke="#000" stroke-width="1.3"/>
<line x1="1049.4" y1="2748.7" x2="1049.4" y2="2737.3" stroke="#000" stroke-width="1.3"/>
<line x1="1089.1" y1="2750.5" x2="1089.1" y2="2729.7" stroke="#000" stroke-width="4"/>
<text x="1089.1" y="2826.9" font-size="72" text-anchor="middle">0</text>
<line x1="1128.8" y1="2748.7" x2="1128.8" y2="2737.3" stroke="#000" stroke-width="1.3"/>
<line x1="1168.5" y1="2748.7" x2="1168.5" y2="2737.3" stroke="#000" stroke-width="1.3"/>
<line x1="1208.2" y1="2748.7" x2="1208.2" y2="2737.3" stroke="#000" stroke-width="1.3"/>
<line x1="1247.9" y1="2748.7" x2="1247.9" y2="2737.3" stroke="#000" stroke-width="1.3"/>
<line x1="1287.6" y1="2750.5" x2="1287.6" y2="2729.7" stroke="#000" stroke-width="4"/>
<text x="1287.6" y="2826.9" font-size="72" text-anchor="middle">25</text>
<line x1="1327.4" y1="2748.7" x2="1327.4" y2="2737.3" stroke="#000" stroke-width="1.3"/>
<line x1="1367.1" y1="2748.7" x2="1367.1" y2="2737.3" stroke="#000" stroke-width="1.3"/>
<line x1="1406.8" y1="2748.7" x2="1406.8" y2="2737.3" stroke="#000" stroke-width="1.3"/>
<line x1="1446.5" y1="2748.7" x2="1446.5" y2="2737.3" stroke="#000" stroke-width="1.3"/>
<line x1="1486.2" y1="2750.5" x2="1486.2" y2="2729.7" stroke="#000" stroke-width="4"/>
<text x="1486.2" y="2826.9" font-size="72" text-anchor="middle">50</text>
<line x1="1525.9" y1="2748.7" x2="1525.9" y2="2737.3" stroke="#000" stroke-width="1.3"/>
<line x1="1565.6" y1="2748.7" x2="1565.6" y2="2737.3" stroke="#000" stroke-width="1.3"/>
<line x1="1605.3" y1="2748.7" x2="1605.3" y2="2737.3" stroke="#000" stroke-width="1.3"/>
<line x1="1645.0" y1="2748.7" x2="1645.0" y2="2737.3" stroke="#000" stroke-width="1.3"/>
<line x1="1684.8" y1="2750.5" x2="1684.8" y2="2729.7" stroke="#000" stroke-width="4"/>
<text x="1684.8" y="2826.9" font-size="72" text-anchor="middle">75</text>
<line x1="1724.5" y1="2748.7" x2="1724.5" y2="2737.3" stroke="#000" stroke-width="1.3"/>
<line x1="1764.2" y1="2748.7" x2="1764.2" y2="2737.3" stroke="#000" stroke-width="1.3"/>
<line x1="1803.9" y1="2748.7" x2="1803.9" y2="2737.3" stroke="#000" stroke-width="1.3"/>
<line x1="1843.6" y1="2748.7" x2="1843.6" y2="2737.3" stroke="#000" stroke-width="1.3"/>
<line x1="1883.3" y1="2750.5" x2="1883.3" y2="2729.7" stroke="#000" stroke-width="4"/>
<text x="1883.3" y="2826.9" font-size="72" text-anchor="middle">100</text>
<line x1="1923.0" y1="2748.7" x2="1923.0" y2="2737.3" stroke="#000" stroke-width="1.3"/>
<line x1="1962.7" y1="2748.7" x2="1962.7" y2="2737.3" stroke="#000" stroke-width="1.3"/>
<line x1="2002.4" y1="2748.7" x2="2002.4" y2="2737.3" stroke="#000" stroke-width="1.3"/>
<line x1="2042.1" y1="2748.7" x2="2042.1" y2="2737.3" stroke="#000" stroke-width="1.3"/>
<line x1="2081.8" y1="2750.5" x2="2081.8" y2="2729.7" stroke="#000" stroke-width="4"/>
<text x="2081.8" y="2826.9" font-size="72" text-anchor="middle">125</text>
<line x1="2121.6" y1="2748.7" x2="2121.6" y2="2737.3" stroke="#000" stroke-width="1.3"/>
<line x1="2161.3" y1="2748.7" x2="2161.3" y2="2737.3" stroke="#000" stroke-width="1.3"/>
<line x1="2201.0" y1="2748.7" x2="2201.0" y2="2737.3" stroke="#000" stroke-width="1.3"/>
<line x1="2240.7" y1="2748.7" x2="2240.7" y2="2737.3" stroke="#000" stroke-width="1.3"/>
<line x1="2280.4" y1="2750.5" x2="2280.4" y2="2729.7" stroke="#000" stroke-width="4"/>
<text x="2280.4" y="2826.9" font-size="72" text-anchor="middle">150</text>
<line x1="2320.1" y1="2748.7" x2="2320.1" y2="2737.3" stroke="#000" stroke-width="1.3"/>
<line x1="2359.8" y1="2748.7" x2="2359.8" y2="2737.3" stroke="#000" stroke-width="1.3"/>
<text x="1258.3" y="2915.4" font-size="72">x/D<tspan font-size="44" dy="21.5">H</tspan></text>
<polygon points="294.9,3700.0 294.9,3513.1 623.7,3513.1 1089.1,3283.4 1089.1,3700.0" fill="#0000ff"/>
<polyline points="294.9,3513.1 623.7,3513.1 1089.1,3283.4 2352.7,3283.4" fill="none" stroke="#000" stroke-width="4.8" stroke-linejoin="miter"/>
<line x1="294.9" y1="3698.8" x2="1089.1" y2="3698.8" stroke="#000" stroke-width="2.6"/>
<line x1="1089.1" y1="3283.4" x2="1089.1" y2="3700.0" stroke="#000" stroke-width="4.8"/>
<line x1="2144.6" y1="3283.4" x2="2144.6" y2="3700.0" stroke="#000" stroke-width="4.8"/>
<line x1="1089.1" y1="3408.8" x2="2144.6" y2="3408.8" stroke="#000" stroke-width="4.8"/>
<text x="138.5" y="3065.2" font-size="72" letter-spacing="1">(d)</text>
<rect x="1250" y="3005.5" width="984" height="107" fill="url(#cb)"/>
<text x="524.2" y="3197.8" font-size="72" letter-spacing="-0.2">CO Conversion, %:</text>
<text x="1250.0" y="3197.8" font-size="72" text-anchor="middle">0.0</text>
<text x="1446.8" y="3197.8" font-size="72" text-anchor="middle">0.2</text>
<text x="1643.6" y="3197.8" font-size="72" text-anchor="middle">0.4</text>
<text x="1840.4" y="3197.8" font-size="72" text-anchor="middle">0.6</text>
<text x="2037.2" y="3197.8" font-size="72" text-anchor="middle">0.8</text>
<text x="2234.0" y="3197.8" font-size="72" text-anchor="middle">1.0</text>
<line x1="259.6" y1="3221.9" x2="259.6" y2="3702.0" stroke="#000" stroke-width="3.7"/>
<line x1="257.8" y1="3700.0" x2="279.2" y2="3700.0" stroke="#000" stroke-width="4.2"/>
<text x="222.9" y="3724.1" font-size="72" text-anchor="end">0</text>
<line x1="259.6" y1="3684.1" x2="271.2" y2="3684.1" stroke="#000" stroke-width="1.3"/>
<line x1="259.6" y1="3668.3" x2="271.2" y2="3668.3" stroke="#000" stroke-width="1.3"/>
<line x1="259.6" y1="3652.4" x2="271.2" y2="3652.4" stroke="#000" stroke-width="1.3"/>
<line x1="259.6" y1="3636.5" x2="271.2" y2="3636.5" stroke="#000" stroke-width="1.3"/>
<line x1="257.8" y1="3620.7" x2="279.2" y2="3620.7" stroke="#000" stroke-width="4.2"/>
<text x="222.9" y="3644.8" font-size="72" text-anchor="end">10</text>
<line x1="259.6" y1="3604.8" x2="271.2" y2="3604.8" stroke="#000" stroke-width="1.3"/>
<line x1="259.6" y1="3588.9" x2="271.2" y2="3588.9" stroke="#000" stroke-width="1.3"/>
<line x1="259.6" y1="3573.0" x2="271.2" y2="3573.0" stroke="#000" stroke-width="1.3"/>
<line x1="259.6" y1="3557.2" x2="271.2" y2="3557.2" stroke="#000" stroke-width="1.3"/>
<line x1="257.8" y1="3541.3" x2="279.2" y2="3541.3" stroke="#000" stroke-width="4.2"/>
<text x="222.9" y="3565.4" font-size="72" text-anchor="end">20</text>
<line x1="259.6" y1="3525.4" x2="271.2" y2="3525.4" stroke="#000" stroke-width="1.3"/>
<line x1="259.6" y1="3509.6" x2="271.2" y2="3509.6" stroke="#000" stroke-width="1.3"/>
<line x1="259.6" y1="3493.7" x2="271.2" y2="3493.7" stroke="#000" stroke-width="1.3"/>
<line x1="259.6" y1="3477.8" x2="271.2" y2="3477.8" stroke="#000" stroke-width="1.3"/>
<line x1="257.8" y1="3461.9" x2="279.2" y2="3461.9" stroke="#000" stroke-width="4.2"/>
<text x="222.9" y="3486.0" font-size="72" text-anchor="end">30</text>
<line x1="259.6" y1="3446.1" x2="271.2" y2="3446.1" stroke="#000" stroke-width="1.3"/>
<line x1="259.6" y1="3430.2" x2="271.2" y2="3430.2" stroke="#000" stroke-width="1.3"/>
<line x1="259.6" y1="3414.3" x2="271.2" y2="3414.3" stroke="#000" stroke-width="1.3"/>
<line x1="259.6" y1="3398.5" x2="271.2" y2="3398.5" stroke="#000" stroke-width="1.3"/>
<line x1="257.8" y1="3382.6" x2="279.2" y2="3382.6" stroke="#000" stroke-width="4.2"/>
<text x="222.9" y="3406.7" font-size="72" text-anchor="end">40</text>
<line x1="259.6" y1="3366.7" x2="271.2" y2="3366.7" stroke="#000" stroke-width="1.3"/>
<line x1="259.6" y1="3350.9" x2="271.2" y2="3350.9" stroke="#000" stroke-width="1.3"/>
<line x1="259.6" y1="3335.0" x2="271.2" y2="3335.0" stroke="#000" stroke-width="1.3"/>
<line x1="259.6" y1="3319.1" x2="271.2" y2="3319.1" stroke="#000" stroke-width="1.3"/>
<line x1="257.8" y1="3303.2" x2="279.2" y2="3303.2" stroke="#000" stroke-width="4.2"/>
<text x="222.9" y="3327.3" font-size="72" text-anchor="end">50</text>
<line x1="259.6" y1="3287.4" x2="271.2" y2="3287.4" stroke="#000" stroke-width="1.3"/>
<line x1="259.6" y1="3271.5" x2="271.2" y2="3271.5" stroke="#000" stroke-width="1.3"/>
<line x1="259.6" y1="3255.6" x2="271.2" y2="3255.6" stroke="#000" stroke-width="1.3"/>
<line x1="259.6" y1="3239.8" x2="271.2" y2="3239.8" stroke="#000" stroke-width="1.3"/>
<line x1="257.8" y1="3223.9" x2="279.2" y2="3223.9" stroke="#000" stroke-width="4.2"/>
<text x="222.9" y="3248.0" font-size="72" text-anchor="end">60</text>
<text transform="translate(94,3462.8) rotate(-90)" font-size="72" text-anchor="middle">y/D<tspan font-size="44" dy="21.5">H</tspan></text>
<line x1="292.9" y1="3734.2" x2="2361.8" y2="3734.2" stroke="#000" stroke-width="3.7"/>
<line x1="294.9" y1="3736.0" x2="294.9" y2="3715.2" stroke="#000" stroke-width="4"/>
<text x="294.9" y="3812.4" font-size="72" text-anchor="middle">-100</text>
<line x1="334.6" y1="3734.2" x2="334.6" y2="3722.8" stroke="#000" stroke-width="1.3"/>
<line x1="374.3" y1="3734.2" x2="374.3" y2="3722.8" stroke="#000" stroke-width="1.3"/>
<line x1="414.0" y1="3734.2" x2="414.0" y2="3722.8" stroke="#000" stroke-width="1.3"/>
<line x1="453.7" y1="3734.2" x2="453.7" y2="3722.8" stroke="#000" stroke-width="1.3"/>
<line x1="493.4" y1="3736.0" x2="493.4" y2="3715.2" stroke="#000" stroke-width="4"/>
<text x="493.4" y="3812.4" font-size="72" text-anchor="middle">-75</text>
<line x1="533.2" y1="3734.2" x2="533.2" y2="3722.8" stroke="#000" stroke-width="1.3"/>
<line x1="572.9" y1="3734.2" x2="572.9" y2="3722.8" stroke="#000" stroke-width="1.3"/>
<line x1="612.6" y1="3734.2" x2="612.6" y2="3722.8" stroke="#000" stroke-width="1.3"/>
<line x1="652.3" y1="3734.2" x2="652.3" y2="3722.8" stroke="#000" stroke-width="1.3"/>
<line x1="692.0" y1="3736.0" x2="692.0" y2="3715.2" stroke="#000" stroke-width="4"/>
<text x="692.0" y="3812.4" font-size="72" text-anchor="middle">-50</text>
<line x1="731.7" y1="3734.2" x2="731.7" y2="3722.8" stroke="#000" stroke-width="1.3"/>
<line x1="771.4" y1="3734.2" x2="771.4" y2="3722.8" stroke="#000" stroke-width="1.3"/>
<line x1="811.1" y1="3734.2" x2="811.1" y2="3722.8" stroke="#000" stroke-width="1.3"/>
<line x1="850.8" y1="3734.2" x2="850.8" y2="3722.8" stroke="#000" stroke-width="1.3"/>
<line x1="890.5" y1="3736.0" x2="890.5" y2="3715.2" stroke="#000" stroke-width="4"/>
<text x="890.5" y="3812.4" font-size="72" text-anchor="middle">-25</text>
<line x1="930.3" y1="3734.2" x2="930.3" y2="3722.8" stroke="#000" stroke-width="1.3"/>
<line x1="970.0" y1="3734.2" x2="970.0" y2="3722.8" stroke="#000" stroke-width="1.3"/>
<line x1="1009.7" y1="3734.2" x2="1009.7" y2="3722.8" stroke="#000" stroke-width="1.3"/>
<line x1="1049.4" y1="3734.2" x2="1049.4" y2="3722.8" stroke="#000" stroke-width="1.3"/>
<line x1="1089.1" y1="3736.0" x2="1089.1" y2="3715.2" stroke="#000" stroke-width="4"/>
<text x="1089.1" y="3812.4" font-size="72" text-anchor="middle">0</text>
<line x1="1128.8" y1="3734.2" x2="1128.8" y2="3722.8" stroke="#000" stroke-width="1.3"/>
<line x1="1168.5" y1="3734.2" x2="1168.5" y2="3722.8" stroke="#000" stroke-width="1.3"/>
<line x1="1208.2" y1="3734.2" x2="1208.2" y2="3722.8" stroke="#000" stroke-width="1.3"/>
<line x1="1247.9" y1="3734.2" x2="1247.9" y2="3722.8" stroke="#000" stroke-width="1.3"/>
<line x1="1287.6" y1="3736.0" x2="1287.6" y2="3715.2" stroke="#000" stroke-width="4"/>
<text x="1287.6" y="3812.4" font-size="72" text-anchor="middle">25</text>
<line x1="1327.4" y1="3734.2" x2="1327.4" y2="3722.8" stroke="#000" stroke-width="1.3"/>
<line x1="1367.1" y1="3734.2" x2="1367.1" y2="3722.8" stroke="#000" stroke-width="1.3"/>
<line x1="1406.8" y1="3734.2" x2="1406.8" y2="3722.8" stroke="#000" stroke-width="1.3"/>
<line x1="1446.5" y1="3734.2" x2="1446.5" y2="3722.8" stroke="#000" stroke-width="1.3"/>
<line x1="1486.2" y1="3736.0" x2="1486.2" y2="3715.2" stroke="#000" stroke-width="4"/>
<text x="1486.2" y="3812.4" font-size="72" text-anchor="middle">50</text>
<line x1="1525.9" y1="3734.2" x2="1525.9" y2="3722.8" stroke="#000" stroke-width="1.3"/>
<line x1="1565.6" y1="3734.2" x2="1565.6" y2="3722.8" stroke="#000" stroke-width="1.3"/>
<line x1="1605.3" y1="3734.2" x2="1605.3" y2="3722.8" stroke="#000" stroke-width="1.3"/>
<line x1="1645.0" y1="3734.2" x2="1645.0" y2="3722.8" stroke="#000" stroke-width="1.3"/>
<line x1="1684.8" y1="3736.0" x2="1684.8" y2="3715.2" stroke="#000" stroke-width="4"/>
<text x="1684.8" y="3812.4" font-size="72" text-anchor="middle">75</text>
<line x1="1724.5" y1="3734.2" x2="1724.5" y2="3722.8" stroke="#000" stroke-width="1.3"/>
<line x1="1764.2" y1="3734.2" x2="1764.2" y2="3722.8" stroke="#000" stroke-width="1.3"/>
<line x1="1803.9" y1="3734.2" x2="1803.9" y2="3722.8" stroke="#000" stroke-width="1.3"/>
<line x1="1843.6" y1="3734.2" x2="1843.6" y2="3722.8" stroke="#000" stroke-width="1.3"/>
<line x1="1883.3" y1="3736.0" x2="1883.3" y2="3715.2" stroke="#000" stroke-width="4"/>
<text x="1883.3" y="3812.4" font-size="72" text-anchor="middle">100</text>
<line x1="1923.0" y1="3734.2" x2="1923.0" y2="3722.8" stroke="#000" stroke-width="1.3"/>
<line x1="1962.7" y1="3734.2" x2="1962.7" y2="3722.8" stroke="#000" stroke-width="1.3"/>
<line x1="2002.4" y1="3734.2" x2="2002.4" y2="3722.8" stroke="#000" stroke-width="1.3"/>
<line x1="2042.1" y1="3734.2" x2="2042.1" y2="3722.8" stroke="#000" stroke-width="1.3"/>
<line x1="2081.8" y1="3736.0" x2="2081.8" y2="3715.2" stroke="#000" stroke-width="4"/>
<text x="2081.8" y="3812.4" font-size="72" text-anchor="middle">125</text>
<line x1="2121.6" y1="3734.2" x2="2121.6" y2="3722.8" stroke="#000" stroke-width="1.3"/>
<line x1="2161.3" y1="3734.2" x2="2161.3" y2="3722.8" stroke="#000" stroke-width="1.3"/>
<line x1="2201.0" y1="3734.2" x2="2201.0" y2="3722.8" stroke="#000" stroke-width="1.3"/>
<line x1="2240.7" y1="3734.2" x2="2240.7" y2="3722.8" stroke="#000" stroke-width="1.3"/>
<line x1="2280.4" y1="3736.0" x2="2280.4" y2="3715.2" stroke="#000" stroke-width="4"/>
<text x="2280.4" y="3812.4" font-size="72" text-anchor="middle">150</text>
<line x1="2320.1" y1="3734.2" x2="2320.1" y2="3722.8" stroke="#000" stroke-width="1.3"/>
<line x1="2359.8" y1="3734.2" x2="2359.8" y2="3722.8" stroke="#000" stroke-width="1.3"/>
<text x="1258.3" y="3900.9" font-size="72">x/D<tspan font-size="44" dy="21.5">H</tspan></text>
</svg></body></html>
